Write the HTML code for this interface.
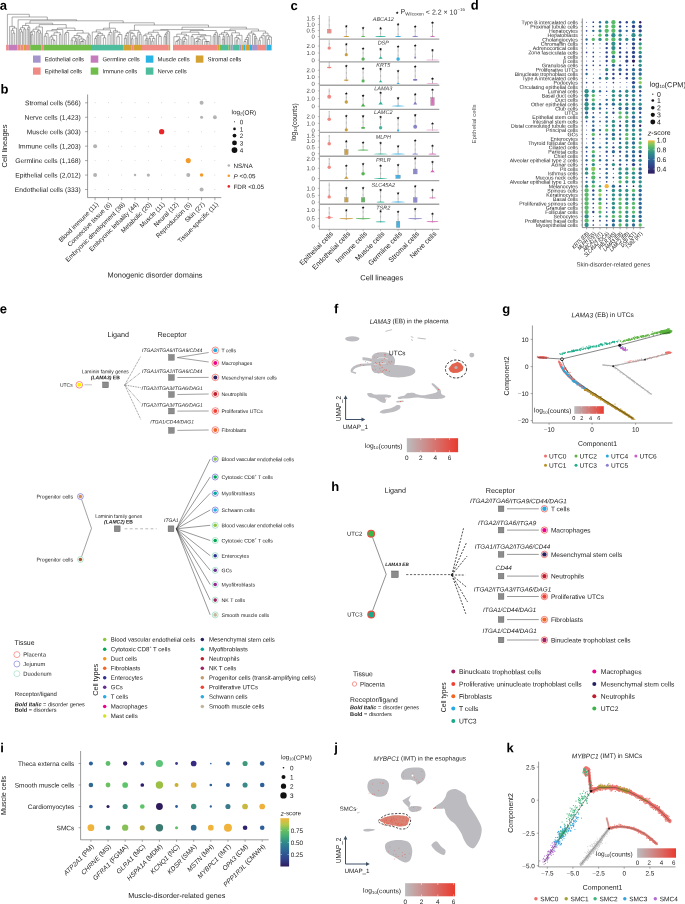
<!DOCTYPE html>
<html><head><meta charset="utf-8"><title>Figure</title>
<style>html,body{margin:0;padding:0;background:#fff;width:685px;height:904px;overflow:hidden}
svg{display:block;will-change:transform}
text{font-family:"Liberation Sans", sans-serif}</style></head>
<body><svg width="685" height="904" viewBox="0 0 685 904" font-family="Liberation Sans, sans-serif">
<rect x="0" y="0" width="685" height="904" fill="#fff"/>
<text x="-0.30" y="9.80" font-size="13" font-weight="bold" fill="#000" transform="rotate(0.05 -0.30 9.80)">a</text>
<rect x="6.10" y="44.80" width="2.50" height="5.60" fill="#ef8a84"/>
<rect x="8.60" y="44.80" width="8.80" height="5.60" fill="#c47cbc"/>
<rect x="17.40" y="44.80" width="1.60" height="5.60" fill="#ef8a84"/>
<rect x="19.00" y="44.80" width="1.40" height="5.60" fill="#d4a232"/>
<rect x="20.40" y="44.80" width="3.10" height="5.60" fill="#ef8a84"/>
<rect x="23.50" y="44.80" width="2.50" height="5.60" fill="#d4a232"/>
<rect x="26.00" y="44.80" width="4.20" height="5.60" fill="#ef8a84"/>
<rect x="30.20" y="44.80" width="11.10" height="5.60" fill="#70bd4a"/>
<rect x="41.30" y="44.80" width="2.00" height="5.60" fill="#ef8a84"/>
<rect x="43.30" y="44.80" width="47.70" height="5.60" fill="#70bd4a"/>
<rect x="91.00" y="44.80" width="32.20" height="5.60" fill="#4dbd9d"/>
<rect x="123.20" y="44.80" width="8.50" height="5.60" fill="#d4a232"/>
<rect x="131.70" y="44.80" width="2.10" height="5.60" fill="#ef8a84"/>
<rect x="133.80" y="44.80" width="8.20" height="5.60" fill="#d4a232"/>
<rect x="142.00" y="44.80" width="26.70" height="5.60" fill="#ef8a84"/>
<rect x="168.70" y="44.80" width="1.50" height="5.60" fill="#d4a232"/>
<rect x="173.00" y="44.80" width="44.80" height="5.60" fill="#ef8a84"/>
<rect x="217.80" y="44.80" width="1.70" height="5.60" fill="#d4a232"/>
<rect x="219.50" y="44.80" width="2.50" height="5.60" fill="#70bd4a"/>
<rect x="222.00" y="44.80" width="6.40" height="5.60" fill="#4dbd9d"/>
<rect x="228.40" y="44.80" width="2.10" height="5.60" fill="#70bd4a"/>
<rect x="230.50" y="44.80" width="2.20" height="5.60" fill="#a595cd"/>
<rect x="232.70" y="44.80" width="7.00" height="5.60" fill="#4dbd9d"/>
<rect x="239.70" y="44.80" width="1.80" height="5.60" fill="#a595cd"/>
<rect x="241.50" y="44.80" width="1.80" height="5.60" fill="#d4a232"/>
<rect x="243.30" y="44.80" width="2.10" height="5.60" fill="#2ab4e4"/>
<rect x="245.40" y="44.80" width="4.60" height="5.60" fill="#d4a232"/>
<rect x="250.00" y="44.80" width="2.10" height="5.60" fill="#2ab4e4"/>
<rect x="252.10" y="44.80" width="4.90" height="5.60" fill="#a595cd"/>
<rect x="257.00" y="44.80" width="9.50" height="5.60" fill="#ef8a84"/>
<rect x="266.50" y="44.80" width="5.10" height="5.60" fill="#2ab4e4"/>
<line x1="12.80" y1="33.09" x2="14.71" y2="33.09" stroke="#3a3a3a" stroke-width="0.42"/>
<line x1="12.80" y1="33.09" x2="12.80" y2="44.80" stroke="#3a3a3a" stroke-width="0.42"/>
<line x1="14.71" y1="33.09" x2="14.71" y2="44.80" stroke="#3a3a3a" stroke-width="0.42"/>
<line x1="11.28" y1="30.33" x2="13.75" y2="30.33" stroke="#3a3a3a" stroke-width="0.42"/>
<line x1="11.28" y1="30.33" x2="11.28" y2="44.80" stroke="#3a3a3a" stroke-width="0.42"/>
<line x1="13.75" y1="30.33" x2="13.75" y2="33.09" stroke="#3a3a3a" stroke-width="0.42"/>
<line x1="12.52" y1="28.09" x2="16.59" y2="28.09" stroke="#3a3a3a" stroke-width="0.42"/>
<line x1="12.52" y1="28.09" x2="12.52" y2="30.33" stroke="#3a3a3a" stroke-width="0.42"/>
<line x1="16.59" y1="28.09" x2="16.59" y2="44.80" stroke="#3a3a3a" stroke-width="0.42"/>
<line x1="9.61" y1="26.40" x2="14.55" y2="26.40" stroke="#3a3a3a" stroke-width="0.42"/>
<line x1="9.61" y1="26.40" x2="9.61" y2="44.80" stroke="#3a3a3a" stroke-width="0.42"/>
<line x1="14.55" y1="26.40" x2="14.55" y2="28.09" stroke="#3a3a3a" stroke-width="0.42"/>
<line x1="20.69" y1="31.83" x2="22.57" y2="31.83" stroke="#3a3a3a" stroke-width="0.42"/>
<line x1="20.69" y1="31.83" x2="20.69" y2="44.80" stroke="#3a3a3a" stroke-width="0.42"/>
<line x1="22.57" y1="31.83" x2="22.57" y2="44.80" stroke="#3a3a3a" stroke-width="0.42"/>
<line x1="19.31" y1="29.64" x2="21.63" y2="29.64" stroke="#3a3a3a" stroke-width="0.42"/>
<line x1="19.31" y1="29.64" x2="19.31" y2="44.80" stroke="#3a3a3a" stroke-width="0.42"/>
<line x1="21.63" y1="29.64" x2="21.63" y2="31.83" stroke="#3a3a3a" stroke-width="0.42"/>
<line x1="23.80" y1="29.02" x2="25.35" y2="29.02" stroke="#3a3a3a" stroke-width="0.42"/>
<line x1="23.80" y1="29.02" x2="23.80" y2="44.80" stroke="#3a3a3a" stroke-width="0.42"/>
<line x1="25.35" y1="29.02" x2="25.35" y2="44.80" stroke="#3a3a3a" stroke-width="0.42"/>
<line x1="20.47" y1="27.73" x2="24.58" y2="27.73" stroke="#3a3a3a" stroke-width="0.42"/>
<line x1="20.47" y1="27.73" x2="20.47" y2="29.64" stroke="#3a3a3a" stroke-width="0.42"/>
<line x1="24.58" y1="27.73" x2="24.58" y2="29.02" stroke="#3a3a3a" stroke-width="0.42"/>
<line x1="27.12" y1="29.20" x2="28.58" y2="29.20" stroke="#3a3a3a" stroke-width="0.42"/>
<line x1="27.12" y1="29.20" x2="27.12" y2="44.80" stroke="#3a3a3a" stroke-width="0.42"/>
<line x1="28.58" y1="29.20" x2="28.58" y2="44.80" stroke="#3a3a3a" stroke-width="0.42"/>
<line x1="27.85" y1="27.22" x2="29.80" y2="27.22" stroke="#3a3a3a" stroke-width="0.42"/>
<line x1="27.85" y1="27.22" x2="27.85" y2="29.20" stroke="#3a3a3a" stroke-width="0.42"/>
<line x1="29.80" y1="27.22" x2="29.80" y2="44.80" stroke="#3a3a3a" stroke-width="0.42"/>
<line x1="22.52" y1="25.50" x2="28.83" y2="25.50" stroke="#3a3a3a" stroke-width="0.42"/>
<line x1="22.52" y1="25.50" x2="22.52" y2="27.73" stroke="#3a3a3a" stroke-width="0.42"/>
<line x1="28.83" y1="25.50" x2="28.83" y2="27.22" stroke="#3a3a3a" stroke-width="0.42"/>
<line x1="31.37" y1="34.69" x2="32.99" y2="34.69" stroke="#3a3a3a" stroke-width="0.42"/>
<line x1="31.37" y1="34.69" x2="31.37" y2="44.80" stroke="#3a3a3a" stroke-width="0.42"/>
<line x1="32.99" y1="34.69" x2="32.99" y2="44.80" stroke="#3a3a3a" stroke-width="0.42"/>
<line x1="30.43" y1="32.30" x2="32.18" y2="32.30" stroke="#3a3a3a" stroke-width="0.42"/>
<line x1="30.43" y1="32.30" x2="30.43" y2="44.80" stroke="#3a3a3a" stroke-width="0.42"/>
<line x1="32.18" y1="32.30" x2="32.18" y2="34.69" stroke="#3a3a3a" stroke-width="0.42"/>
<line x1="31.31" y1="31.24" x2="34.74" y2="31.24" stroke="#3a3a3a" stroke-width="0.42"/>
<line x1="31.31" y1="31.24" x2="31.31" y2="32.30" stroke="#3a3a3a" stroke-width="0.42"/>
<line x1="34.74" y1="31.24" x2="34.74" y2="44.80" stroke="#3a3a3a" stroke-width="0.42"/>
<line x1="36.65" y1="31.80" x2="38.21" y2="31.80" stroke="#3a3a3a" stroke-width="0.42"/>
<line x1="36.65" y1="31.80" x2="36.65" y2="44.80" stroke="#3a3a3a" stroke-width="0.42"/>
<line x1="38.21" y1="31.80" x2="38.21" y2="44.80" stroke="#3a3a3a" stroke-width="0.42"/>
<line x1="39.69" y1="32.96" x2="41.13" y2="32.96" stroke="#3a3a3a" stroke-width="0.42"/>
<line x1="39.69" y1="32.96" x2="39.69" y2="44.80" stroke="#3a3a3a" stroke-width="0.42"/>
<line x1="41.13" y1="32.96" x2="41.13" y2="44.80" stroke="#3a3a3a" stroke-width="0.42"/>
<line x1="37.43" y1="30.71" x2="40.41" y2="30.71" stroke="#3a3a3a" stroke-width="0.42"/>
<line x1="37.43" y1="30.71" x2="37.43" y2="31.80" stroke="#3a3a3a" stroke-width="0.42"/>
<line x1="40.41" y1="30.71" x2="40.41" y2="32.96" stroke="#3a3a3a" stroke-width="0.42"/>
<line x1="33.02" y1="29.21" x2="38.92" y2="29.21" stroke="#3a3a3a" stroke-width="0.42"/>
<line x1="33.02" y1="29.21" x2="33.02" y2="31.24" stroke="#3a3a3a" stroke-width="0.42"/>
<line x1="38.92" y1="29.21" x2="38.92" y2="30.71" stroke="#3a3a3a" stroke-width="0.42"/>
<line x1="35.97" y1="27.00" x2="42.43" y2="27.00" stroke="#3a3a3a" stroke-width="0.42"/>
<line x1="35.97" y1="27.00" x2="35.97" y2="29.21" stroke="#3a3a3a" stroke-width="0.42"/>
<line x1="42.43" y1="27.00" x2="42.43" y2="44.80" stroke="#3a3a3a" stroke-width="0.42"/>
<line x1="44.19" y1="36.18" x2="46.29" y2="36.18" stroke="#3a3a3a" stroke-width="0.42"/>
<line x1="44.19" y1="36.18" x2="44.19" y2="44.80" stroke="#3a3a3a" stroke-width="0.42"/>
<line x1="46.29" y1="36.18" x2="46.29" y2="44.80" stroke="#3a3a3a" stroke-width="0.42"/>
<line x1="45.24" y1="33.59" x2="48.15" y2="33.59" stroke="#3a3a3a" stroke-width="0.42"/>
<line x1="45.24" y1="33.59" x2="45.24" y2="36.18" stroke="#3a3a3a" stroke-width="0.42"/>
<line x1="48.15" y1="33.59" x2="48.15" y2="44.80" stroke="#3a3a3a" stroke-width="0.42"/>
<line x1="53.26" y1="40.49" x2="54.98" y2="40.49" stroke="#3a3a3a" stroke-width="0.42"/>
<line x1="53.26" y1="40.49" x2="53.26" y2="44.80" stroke="#3a3a3a" stroke-width="0.42"/>
<line x1="54.98" y1="40.49" x2="54.98" y2="44.80" stroke="#3a3a3a" stroke-width="0.42"/>
<line x1="51.44" y1="39.25" x2="54.12" y2="39.25" stroke="#3a3a3a" stroke-width="0.42"/>
<line x1="51.44" y1="39.25" x2="51.44" y2="44.80" stroke="#3a3a3a" stroke-width="0.42"/>
<line x1="54.12" y1="39.25" x2="54.12" y2="40.49" stroke="#3a3a3a" stroke-width="0.42"/>
<line x1="49.84" y1="36.93" x2="52.78" y2="36.93" stroke="#3a3a3a" stroke-width="0.42"/>
<line x1="49.84" y1="36.93" x2="49.84" y2="44.80" stroke="#3a3a3a" stroke-width="0.42"/>
<line x1="52.78" y1="36.93" x2="52.78" y2="39.25" stroke="#3a3a3a" stroke-width="0.42"/>
<line x1="51.31" y1="35.33" x2="56.72" y2="35.33" stroke="#3a3a3a" stroke-width="0.42"/>
<line x1="51.31" y1="35.33" x2="51.31" y2="36.93" stroke="#3a3a3a" stroke-width="0.42"/>
<line x1="56.72" y1="35.33" x2="56.72" y2="44.80" stroke="#3a3a3a" stroke-width="0.42"/>
<line x1="59.36" y1="34.57" x2="61.06" y2="34.57" stroke="#3a3a3a" stroke-width="0.42"/>
<line x1="59.36" y1="34.57" x2="59.36" y2="44.80" stroke="#3a3a3a" stroke-width="0.42"/>
<line x1="61.06" y1="34.57" x2="61.06" y2="44.80" stroke="#3a3a3a" stroke-width="0.42"/>
<line x1="54.02" y1="32.72" x2="60.21" y2="32.72" stroke="#3a3a3a" stroke-width="0.42"/>
<line x1="54.02" y1="32.72" x2="54.02" y2="35.33" stroke="#3a3a3a" stroke-width="0.42"/>
<line x1="60.21" y1="32.72" x2="60.21" y2="34.57" stroke="#3a3a3a" stroke-width="0.42"/>
<line x1="46.69" y1="30.82" x2="57.11" y2="30.82" stroke="#3a3a3a" stroke-width="0.42"/>
<line x1="46.69" y1="30.82" x2="46.69" y2="33.59" stroke="#3a3a3a" stroke-width="0.42"/>
<line x1="57.11" y1="30.82" x2="57.11" y2="32.72" stroke="#3a3a3a" stroke-width="0.42"/>
<line x1="51.90" y1="29.50" x2="62.81" y2="29.50" stroke="#3a3a3a" stroke-width="0.42"/>
<line x1="51.90" y1="29.50" x2="51.90" y2="30.82" stroke="#3a3a3a" stroke-width="0.42"/>
<line x1="62.81" y1="29.50" x2="62.81" y2="44.80" stroke="#3a3a3a" stroke-width="0.42"/>
<line x1="64.63" y1="33.80" x2="66.21" y2="33.80" stroke="#3a3a3a" stroke-width="0.42"/>
<line x1="64.63" y1="33.80" x2="64.63" y2="44.80" stroke="#3a3a3a" stroke-width="0.42"/>
<line x1="66.21" y1="33.80" x2="66.21" y2="44.80" stroke="#3a3a3a" stroke-width="0.42"/>
<line x1="65.42" y1="32.51" x2="68.67" y2="32.51" stroke="#3a3a3a" stroke-width="0.42"/>
<line x1="65.42" y1="32.51" x2="65.42" y2="33.80" stroke="#3a3a3a" stroke-width="0.42"/>
<line x1="68.67" y1="32.51" x2="68.67" y2="44.80" stroke="#3a3a3a" stroke-width="0.42"/>
<line x1="71.13" y1="40.01" x2="72.76" y2="40.01" stroke="#3a3a3a" stroke-width="0.42"/>
<line x1="71.13" y1="40.01" x2="71.13" y2="44.80" stroke="#3a3a3a" stroke-width="0.42"/>
<line x1="72.76" y1="40.01" x2="72.76" y2="44.80" stroke="#3a3a3a" stroke-width="0.42"/>
<line x1="74.58" y1="41.15" x2="76.24" y2="41.15" stroke="#3a3a3a" stroke-width="0.42"/>
<line x1="74.58" y1="41.15" x2="74.58" y2="44.80" stroke="#3a3a3a" stroke-width="0.42"/>
<line x1="76.24" y1="41.15" x2="76.24" y2="44.80" stroke="#3a3a3a" stroke-width="0.42"/>
<line x1="75.41" y1="38.89" x2="76.96" y2="38.89" stroke="#3a3a3a" stroke-width="0.42"/>
<line x1="75.41" y1="38.89" x2="75.41" y2="41.15" stroke="#3a3a3a" stroke-width="0.42"/>
<line x1="76.96" y1="38.89" x2="76.96" y2="44.80" stroke="#3a3a3a" stroke-width="0.42"/>
<line x1="71.95" y1="37.75" x2="76.19" y2="37.75" stroke="#3a3a3a" stroke-width="0.42"/>
<line x1="71.95" y1="37.75" x2="71.95" y2="40.01" stroke="#3a3a3a" stroke-width="0.42"/>
<line x1="76.19" y1="37.75" x2="76.19" y2="38.89" stroke="#3a3a3a" stroke-width="0.42"/>
<line x1="80.64" y1="41.50" x2="82.09" y2="41.50" stroke="#3a3a3a" stroke-width="0.42"/>
<line x1="80.64" y1="41.50" x2="80.64" y2="44.80" stroke="#3a3a3a" stroke-width="0.42"/>
<line x1="82.09" y1="41.50" x2="82.09" y2="44.80" stroke="#3a3a3a" stroke-width="0.42"/>
<line x1="81.36" y1="41.50" x2="83.87" y2="41.50" stroke="#3a3a3a" stroke-width="0.42"/>
<line x1="81.36" y1="41.50" x2="81.36" y2="41.50" stroke="#3a3a3a" stroke-width="0.42"/>
<line x1="83.87" y1="41.50" x2="83.87" y2="44.80" stroke="#3a3a3a" stroke-width="0.42"/>
<line x1="82.62" y1="40.04" x2="85.38" y2="40.04" stroke="#3a3a3a" stroke-width="0.42"/>
<line x1="82.62" y1="40.04" x2="82.62" y2="41.50" stroke="#3a3a3a" stroke-width="0.42"/>
<line x1="85.38" y1="40.04" x2="85.38" y2="44.80" stroke="#3a3a3a" stroke-width="0.42"/>
<line x1="79.58" y1="39.03" x2="84.00" y2="39.03" stroke="#3a3a3a" stroke-width="0.42"/>
<line x1="79.58" y1="39.03" x2="79.58" y2="44.80" stroke="#3a3a3a" stroke-width="0.42"/>
<line x1="84.00" y1="39.03" x2="84.00" y2="40.04" stroke="#3a3a3a" stroke-width="0.42"/>
<line x1="78.10" y1="36.83" x2="81.79" y2="36.83" stroke="#3a3a3a" stroke-width="0.42"/>
<line x1="78.10" y1="36.83" x2="78.10" y2="44.80" stroke="#3a3a3a" stroke-width="0.42"/>
<line x1="81.79" y1="36.83" x2="81.79" y2="39.03" stroke="#3a3a3a" stroke-width="0.42"/>
<line x1="74.07" y1="35.51" x2="79.95" y2="35.51" stroke="#3a3a3a" stroke-width="0.42"/>
<line x1="74.07" y1="35.51" x2="74.07" y2="37.75" stroke="#3a3a3a" stroke-width="0.42"/>
<line x1="79.95" y1="35.51" x2="79.95" y2="36.83" stroke="#3a3a3a" stroke-width="0.42"/>
<line x1="87.07" y1="36.88" x2="88.65" y2="36.88" stroke="#3a3a3a" stroke-width="0.42"/>
<line x1="87.07" y1="36.88" x2="87.07" y2="44.80" stroke="#3a3a3a" stroke-width="0.42"/>
<line x1="88.65" y1="36.88" x2="88.65" y2="44.80" stroke="#3a3a3a" stroke-width="0.42"/>
<line x1="87.86" y1="34.91" x2="90.19" y2="34.91" stroke="#3a3a3a" stroke-width="0.42"/>
<line x1="87.86" y1="34.91" x2="87.86" y2="36.88" stroke="#3a3a3a" stroke-width="0.42"/>
<line x1="90.19" y1="34.91" x2="90.19" y2="44.80" stroke="#3a3a3a" stroke-width="0.42"/>
<line x1="77.01" y1="33.08" x2="89.03" y2="33.08" stroke="#3a3a3a" stroke-width="0.42"/>
<line x1="77.01" y1="33.08" x2="77.01" y2="35.51" stroke="#3a3a3a" stroke-width="0.42"/>
<line x1="89.03" y1="33.08" x2="89.03" y2="34.91" stroke="#3a3a3a" stroke-width="0.42"/>
<line x1="67.04" y1="30.47" x2="83.02" y2="30.47" stroke="#3a3a3a" stroke-width="0.42"/>
<line x1="67.04" y1="30.47" x2="67.04" y2="32.51" stroke="#3a3a3a" stroke-width="0.42"/>
<line x1="83.02" y1="30.47" x2="83.02" y2="33.08" stroke="#3a3a3a" stroke-width="0.42"/>
<line x1="57.36" y1="28.10" x2="75.03" y2="28.10" stroke="#3a3a3a" stroke-width="0.42"/>
<line x1="57.36" y1="28.10" x2="57.36" y2="29.50" stroke="#3a3a3a" stroke-width="0.42"/>
<line x1="75.03" y1="28.10" x2="75.03" y2="30.47" stroke="#3a3a3a" stroke-width="0.42"/>
<line x1="94.70" y1="38.51" x2="96.40" y2="38.51" stroke="#3a3a3a" stroke-width="0.42"/>
<line x1="94.70" y1="38.51" x2="94.70" y2="44.80" stroke="#3a3a3a" stroke-width="0.42"/>
<line x1="96.40" y1="38.51" x2="96.40" y2="44.80" stroke="#3a3a3a" stroke-width="0.42"/>
<line x1="95.55" y1="36.77" x2="97.77" y2="36.77" stroke="#3a3a3a" stroke-width="0.42"/>
<line x1="95.55" y1="36.77" x2="95.55" y2="38.51" stroke="#3a3a3a" stroke-width="0.42"/>
<line x1="97.77" y1="36.77" x2="97.77" y2="44.80" stroke="#3a3a3a" stroke-width="0.42"/>
<line x1="96.66" y1="35.50" x2="99.10" y2="35.50" stroke="#3a3a3a" stroke-width="0.42"/>
<line x1="96.66" y1="35.50" x2="96.66" y2="36.77" stroke="#3a3a3a" stroke-width="0.42"/>
<line x1="99.10" y1="35.50" x2="99.10" y2="44.80" stroke="#3a3a3a" stroke-width="0.42"/>
<line x1="103.34" y1="37.81" x2="105.72" y2="37.81" stroke="#3a3a3a" stroke-width="0.42"/>
<line x1="103.34" y1="37.81" x2="103.34" y2="44.80" stroke="#3a3a3a" stroke-width="0.42"/>
<line x1="105.72" y1="37.81" x2="105.72" y2="44.80" stroke="#3a3a3a" stroke-width="0.42"/>
<line x1="100.75" y1="35.31" x2="104.53" y2="35.31" stroke="#3a3a3a" stroke-width="0.42"/>
<line x1="100.75" y1="35.31" x2="100.75" y2="44.80" stroke="#3a3a3a" stroke-width="0.42"/>
<line x1="104.53" y1="35.31" x2="104.53" y2="37.81" stroke="#3a3a3a" stroke-width="0.42"/>
<line x1="97.88" y1="33.42" x2="102.64" y2="33.42" stroke="#3a3a3a" stroke-width="0.42"/>
<line x1="97.88" y1="33.42" x2="97.88" y2="35.50" stroke="#3a3a3a" stroke-width="0.42"/>
<line x1="102.64" y1="33.42" x2="102.64" y2="35.31" stroke="#3a3a3a" stroke-width="0.42"/>
<line x1="92.25" y1="31.97" x2="100.26" y2="31.97" stroke="#3a3a3a" stroke-width="0.42"/>
<line x1="92.25" y1="31.97" x2="92.25" y2="44.80" stroke="#3a3a3a" stroke-width="0.42"/>
<line x1="100.26" y1="31.97" x2="100.26" y2="33.42" stroke="#3a3a3a" stroke-width="0.42"/>
<line x1="107.99" y1="34.79" x2="110.18" y2="34.79" stroke="#3a3a3a" stroke-width="0.42"/>
<line x1="107.99" y1="34.79" x2="107.99" y2="44.80" stroke="#3a3a3a" stroke-width="0.42"/>
<line x1="110.18" y1="34.79" x2="110.18" y2="44.80" stroke="#3a3a3a" stroke-width="0.42"/>
<line x1="109.08" y1="32.40" x2="111.92" y2="32.40" stroke="#3a3a3a" stroke-width="0.42"/>
<line x1="109.08" y1="32.40" x2="109.08" y2="34.79" stroke="#3a3a3a" stroke-width="0.42"/>
<line x1="111.92" y1="32.40" x2="111.92" y2="44.80" stroke="#3a3a3a" stroke-width="0.42"/>
<line x1="96.26" y1="29.83" x2="110.50" y2="29.83" stroke="#3a3a3a" stroke-width="0.42"/>
<line x1="96.26" y1="29.83" x2="96.26" y2="31.97" stroke="#3a3a3a" stroke-width="0.42"/>
<line x1="110.50" y1="29.83" x2="110.50" y2="32.40" stroke="#3a3a3a" stroke-width="0.42"/>
<line x1="116.82" y1="36.76" x2="119.32" y2="36.76" stroke="#3a3a3a" stroke-width="0.42"/>
<line x1="116.82" y1="36.76" x2="116.82" y2="44.80" stroke="#3a3a3a" stroke-width="0.42"/>
<line x1="119.32" y1="36.76" x2="119.32" y2="44.80" stroke="#3a3a3a" stroke-width="0.42"/>
<line x1="118.07" y1="34.53" x2="121.88" y2="34.53" stroke="#3a3a3a" stroke-width="0.42"/>
<line x1="118.07" y1="34.53" x2="118.07" y2="36.76" stroke="#3a3a3a" stroke-width="0.42"/>
<line x1="121.88" y1="34.53" x2="121.88" y2="44.80" stroke="#3a3a3a" stroke-width="0.42"/>
<line x1="114.79" y1="32.14" x2="119.97" y2="32.14" stroke="#3a3a3a" stroke-width="0.42"/>
<line x1="114.79" y1="32.14" x2="114.79" y2="44.80" stroke="#3a3a3a" stroke-width="0.42"/>
<line x1="119.97" y1="32.14" x2="119.97" y2="34.53" stroke="#3a3a3a" stroke-width="0.42"/>
<line x1="113.38" y1="30.78" x2="117.38" y2="30.78" stroke="#3a3a3a" stroke-width="0.42"/>
<line x1="113.38" y1="30.78" x2="113.38" y2="44.80" stroke="#3a3a3a" stroke-width="0.42"/>
<line x1="117.38" y1="30.78" x2="117.38" y2="32.14" stroke="#3a3a3a" stroke-width="0.42"/>
<line x1="103.38" y1="28.20" x2="115.38" y2="28.20" stroke="#3a3a3a" stroke-width="0.42"/>
<line x1="103.38" y1="28.20" x2="103.38" y2="29.83" stroke="#3a3a3a" stroke-width="0.42"/>
<line x1="115.38" y1="28.20" x2="115.38" y2="30.78" stroke="#3a3a3a" stroke-width="0.42"/>
<line x1="124.38" y1="38.27" x2="126.16" y2="38.27" stroke="#3a3a3a" stroke-width="0.42"/>
<line x1="124.38" y1="38.27" x2="124.38" y2="44.80" stroke="#3a3a3a" stroke-width="0.42"/>
<line x1="126.16" y1="38.27" x2="126.16" y2="44.80" stroke="#3a3a3a" stroke-width="0.42"/>
<line x1="125.27" y1="35.53" x2="127.18" y2="35.53" stroke="#3a3a3a" stroke-width="0.42"/>
<line x1="125.27" y1="35.53" x2="125.27" y2="38.27" stroke="#3a3a3a" stroke-width="0.42"/>
<line x1="127.18" y1="35.53" x2="127.18" y2="44.80" stroke="#3a3a3a" stroke-width="0.42"/>
<line x1="126.22" y1="33.29" x2="128.76" y2="33.29" stroke="#3a3a3a" stroke-width="0.42"/>
<line x1="126.22" y1="33.29" x2="126.22" y2="35.53" stroke="#3a3a3a" stroke-width="0.42"/>
<line x1="128.76" y1="33.29" x2="128.76" y2="44.80" stroke="#3a3a3a" stroke-width="0.42"/>
<line x1="131.43" y1="38.76" x2="133.00" y2="38.76" stroke="#3a3a3a" stroke-width="0.42"/>
<line x1="131.43" y1="38.76" x2="131.43" y2="44.80" stroke="#3a3a3a" stroke-width="0.42"/>
<line x1="133.00" y1="38.76" x2="133.00" y2="44.80" stroke="#3a3a3a" stroke-width="0.42"/>
<line x1="135.31" y1="38.09" x2="136.81" y2="38.09" stroke="#3a3a3a" stroke-width="0.42"/>
<line x1="135.31" y1="38.09" x2="135.31" y2="44.80" stroke="#3a3a3a" stroke-width="0.42"/>
<line x1="136.81" y1="38.09" x2="136.81" y2="44.80" stroke="#3a3a3a" stroke-width="0.42"/>
<line x1="132.21" y1="36.03" x2="136.06" y2="36.03" stroke="#3a3a3a" stroke-width="0.42"/>
<line x1="132.21" y1="36.03" x2="132.21" y2="38.76" stroke="#3a3a3a" stroke-width="0.42"/>
<line x1="136.06" y1="36.03" x2="136.06" y2="38.09" stroke="#3a3a3a" stroke-width="0.42"/>
<line x1="130.44" y1="33.35" x2="134.14" y2="33.35" stroke="#3a3a3a" stroke-width="0.42"/>
<line x1="130.44" y1="33.35" x2="130.44" y2="44.80" stroke="#3a3a3a" stroke-width="0.42"/>
<line x1="134.14" y1="33.35" x2="134.14" y2="36.03" stroke="#3a3a3a" stroke-width="0.42"/>
<line x1="127.49" y1="32.24" x2="132.29" y2="32.24" stroke="#3a3a3a" stroke-width="0.42"/>
<line x1="127.49" y1="32.24" x2="127.49" y2="33.29" stroke="#3a3a3a" stroke-width="0.42"/>
<line x1="132.29" y1="32.24" x2="132.29" y2="33.35" stroke="#3a3a3a" stroke-width="0.42"/>
<line x1="139.34" y1="34.34" x2="141.19" y2="34.34" stroke="#3a3a3a" stroke-width="0.42"/>
<line x1="139.34" y1="34.34" x2="139.34" y2="44.80" stroke="#3a3a3a" stroke-width="0.42"/>
<line x1="141.19" y1="34.34" x2="141.19" y2="44.80" stroke="#3a3a3a" stroke-width="0.42"/>
<line x1="137.72" y1="32.16" x2="140.27" y2="32.16" stroke="#3a3a3a" stroke-width="0.42"/>
<line x1="137.72" y1="32.16" x2="137.72" y2="44.80" stroke="#3a3a3a" stroke-width="0.42"/>
<line x1="140.27" y1="32.16" x2="140.27" y2="34.34" stroke="#3a3a3a" stroke-width="0.42"/>
<line x1="129.89" y1="30.40" x2="138.99" y2="30.40" stroke="#3a3a3a" stroke-width="0.42"/>
<line x1="129.89" y1="30.40" x2="129.89" y2="32.24" stroke="#3a3a3a" stroke-width="0.42"/>
<line x1="138.99" y1="30.40" x2="138.99" y2="32.16" stroke="#3a3a3a" stroke-width="0.42"/>
<line x1="145.14" y1="40.05" x2="146.83" y2="40.05" stroke="#3a3a3a" stroke-width="0.42"/>
<line x1="145.14" y1="40.05" x2="145.14" y2="44.80" stroke="#3a3a3a" stroke-width="0.42"/>
<line x1="146.83" y1="40.05" x2="146.83" y2="44.80" stroke="#3a3a3a" stroke-width="0.42"/>
<line x1="145.99" y1="38.35" x2="147.82" y2="38.35" stroke="#3a3a3a" stroke-width="0.42"/>
<line x1="145.99" y1="38.35" x2="145.99" y2="40.05" stroke="#3a3a3a" stroke-width="0.42"/>
<line x1="147.82" y1="38.35" x2="147.82" y2="44.80" stroke="#3a3a3a" stroke-width="0.42"/>
<line x1="143.00" y1="35.75" x2="146.90" y2="35.75" stroke="#3a3a3a" stroke-width="0.42"/>
<line x1="143.00" y1="35.75" x2="143.00" y2="44.80" stroke="#3a3a3a" stroke-width="0.42"/>
<line x1="146.90" y1="35.75" x2="146.90" y2="38.35" stroke="#3a3a3a" stroke-width="0.42"/>
<line x1="148.92" y1="38.46" x2="150.44" y2="38.46" stroke="#3a3a3a" stroke-width="0.42"/>
<line x1="148.92" y1="38.46" x2="148.92" y2="44.80" stroke="#3a3a3a" stroke-width="0.42"/>
<line x1="150.44" y1="38.46" x2="150.44" y2="44.80" stroke="#3a3a3a" stroke-width="0.42"/>
<line x1="151.69" y1="41.14" x2="153.21" y2="41.14" stroke="#3a3a3a" stroke-width="0.42"/>
<line x1="151.69" y1="41.14" x2="151.69" y2="44.80" stroke="#3a3a3a" stroke-width="0.42"/>
<line x1="153.21" y1="41.14" x2="153.21" y2="44.80" stroke="#3a3a3a" stroke-width="0.42"/>
<line x1="152.45" y1="38.44" x2="154.92" y2="38.44" stroke="#3a3a3a" stroke-width="0.42"/>
<line x1="152.45" y1="38.44" x2="152.45" y2="41.14" stroke="#3a3a3a" stroke-width="0.42"/>
<line x1="154.92" y1="38.44" x2="154.92" y2="44.80" stroke="#3a3a3a" stroke-width="0.42"/>
<line x1="149.68" y1="36.41" x2="153.68" y2="36.41" stroke="#3a3a3a" stroke-width="0.42"/>
<line x1="149.68" y1="36.41" x2="149.68" y2="38.46" stroke="#3a3a3a" stroke-width="0.42"/>
<line x1="153.68" y1="36.41" x2="153.68" y2="38.44" stroke="#3a3a3a" stroke-width="0.42"/>
<line x1="144.95" y1="34.06" x2="151.68" y2="34.06" stroke="#3a3a3a" stroke-width="0.42"/>
<line x1="144.95" y1="34.06" x2="144.95" y2="35.75" stroke="#3a3a3a" stroke-width="0.42"/>
<line x1="151.68" y1="34.06" x2="151.68" y2="36.41" stroke="#3a3a3a" stroke-width="0.42"/>
<line x1="158.66" y1="36.51" x2="161.30" y2="36.51" stroke="#3a3a3a" stroke-width="0.42"/>
<line x1="158.66" y1="36.51" x2="158.66" y2="44.80" stroke="#3a3a3a" stroke-width="0.42"/>
<line x1="161.30" y1="36.51" x2="161.30" y2="44.80" stroke="#3a3a3a" stroke-width="0.42"/>
<line x1="156.44" y1="34.97" x2="159.98" y2="34.97" stroke="#3a3a3a" stroke-width="0.42"/>
<line x1="156.44" y1="34.97" x2="156.44" y2="44.80" stroke="#3a3a3a" stroke-width="0.42"/>
<line x1="159.98" y1="34.97" x2="159.98" y2="36.51" stroke="#3a3a3a" stroke-width="0.42"/>
<line x1="148.31" y1="32.28" x2="158.21" y2="32.28" stroke="#3a3a3a" stroke-width="0.42"/>
<line x1="148.31" y1="32.28" x2="148.31" y2="34.06" stroke="#3a3a3a" stroke-width="0.42"/>
<line x1="158.21" y1="32.28" x2="158.21" y2="34.97" stroke="#3a3a3a" stroke-width="0.42"/>
<line x1="164.03" y1="36.65" x2="165.74" y2="36.65" stroke="#3a3a3a" stroke-width="0.42"/>
<line x1="164.03" y1="36.65" x2="164.03" y2="44.80" stroke="#3a3a3a" stroke-width="0.42"/>
<line x1="165.74" y1="36.65" x2="165.74" y2="44.80" stroke="#3a3a3a" stroke-width="0.42"/>
<line x1="164.89" y1="34.50" x2="166.52" y2="34.50" stroke="#3a3a3a" stroke-width="0.42"/>
<line x1="164.89" y1="34.50" x2="164.89" y2="36.65" stroke="#3a3a3a" stroke-width="0.42"/>
<line x1="166.52" y1="34.50" x2="166.52" y2="44.80" stroke="#3a3a3a" stroke-width="0.42"/>
<line x1="165.70" y1="33.09" x2="167.97" y2="33.09" stroke="#3a3a3a" stroke-width="0.42"/>
<line x1="165.70" y1="33.09" x2="165.70" y2="34.50" stroke="#3a3a3a" stroke-width="0.42"/>
<line x1="167.97" y1="33.09" x2="167.97" y2="44.80" stroke="#3a3a3a" stroke-width="0.42"/>
<line x1="166.84" y1="31.79" x2="169.61" y2="31.79" stroke="#3a3a3a" stroke-width="0.42"/>
<line x1="166.84" y1="31.79" x2="166.84" y2="33.09" stroke="#3a3a3a" stroke-width="0.42"/>
<line x1="169.61" y1="31.79" x2="169.61" y2="44.80" stroke="#3a3a3a" stroke-width="0.42"/>
<line x1="153.26" y1="30.20" x2="168.22" y2="30.20" stroke="#3a3a3a" stroke-width="0.42"/>
<line x1="153.26" y1="30.20" x2="153.26" y2="32.28" stroke="#3a3a3a" stroke-width="0.42"/>
<line x1="168.22" y1="30.20" x2="168.22" y2="31.79" stroke="#3a3a3a" stroke-width="0.42"/>
<line x1="175.79" y1="41.50" x2="177.81" y2="41.50" stroke="#3a3a3a" stroke-width="0.42"/>
<line x1="175.79" y1="41.50" x2="175.79" y2="44.80" stroke="#3a3a3a" stroke-width="0.42"/>
<line x1="177.81" y1="41.50" x2="177.81" y2="44.80" stroke="#3a3a3a" stroke-width="0.42"/>
<line x1="176.80" y1="40.55" x2="179.53" y2="40.55" stroke="#3a3a3a" stroke-width="0.42"/>
<line x1="176.80" y1="40.55" x2="176.80" y2="41.50" stroke="#3a3a3a" stroke-width="0.42"/>
<line x1="179.53" y1="40.55" x2="179.53" y2="44.80" stroke="#3a3a3a" stroke-width="0.42"/>
<line x1="178.16" y1="39.28" x2="181.16" y2="39.28" stroke="#3a3a3a" stroke-width="0.42"/>
<line x1="178.16" y1="39.28" x2="178.16" y2="40.55" stroke="#3a3a3a" stroke-width="0.42"/>
<line x1="181.16" y1="39.28" x2="181.16" y2="44.80" stroke="#3a3a3a" stroke-width="0.42"/>
<line x1="173.90" y1="36.68" x2="179.66" y2="36.68" stroke="#3a3a3a" stroke-width="0.42"/>
<line x1="173.90" y1="36.68" x2="173.90" y2="44.80" stroke="#3a3a3a" stroke-width="0.42"/>
<line x1="179.66" y1="36.68" x2="179.66" y2="39.28" stroke="#3a3a3a" stroke-width="0.42"/>
<line x1="183.38" y1="41.50" x2="184.93" y2="41.50" stroke="#3a3a3a" stroke-width="0.42"/>
<line x1="183.38" y1="41.50" x2="183.38" y2="44.80" stroke="#3a3a3a" stroke-width="0.42"/>
<line x1="184.93" y1="41.50" x2="184.93" y2="44.80" stroke="#3a3a3a" stroke-width="0.42"/>
<line x1="184.15" y1="39.31" x2="186.90" y2="39.31" stroke="#3a3a3a" stroke-width="0.42"/>
<line x1="184.15" y1="39.31" x2="184.15" y2="41.50" stroke="#3a3a3a" stroke-width="0.42"/>
<line x1="186.90" y1="39.31" x2="186.90" y2="44.80" stroke="#3a3a3a" stroke-width="0.42"/>
<line x1="182.63" y1="37.62" x2="185.53" y2="37.62" stroke="#3a3a3a" stroke-width="0.42"/>
<line x1="182.63" y1="37.62" x2="182.63" y2="44.80" stroke="#3a3a3a" stroke-width="0.42"/>
<line x1="185.53" y1="37.62" x2="185.53" y2="39.31" stroke="#3a3a3a" stroke-width="0.42"/>
<line x1="184.08" y1="35.70" x2="188.82" y2="35.70" stroke="#3a3a3a" stroke-width="0.42"/>
<line x1="184.08" y1="35.70" x2="184.08" y2="37.62" stroke="#3a3a3a" stroke-width="0.42"/>
<line x1="188.82" y1="35.70" x2="188.82" y2="44.80" stroke="#3a3a3a" stroke-width="0.42"/>
<line x1="176.78" y1="34.15" x2="186.45" y2="34.15" stroke="#3a3a3a" stroke-width="0.42"/>
<line x1="176.78" y1="34.15" x2="176.78" y2="36.68" stroke="#3a3a3a" stroke-width="0.42"/>
<line x1="186.45" y1="34.15" x2="186.45" y2="35.70" stroke="#3a3a3a" stroke-width="0.42"/>
<line x1="191.12" y1="36.51" x2="193.08" y2="36.51" stroke="#3a3a3a" stroke-width="0.42"/>
<line x1="191.12" y1="36.51" x2="191.12" y2="44.80" stroke="#3a3a3a" stroke-width="0.42"/>
<line x1="193.08" y1="36.51" x2="193.08" y2="44.80" stroke="#3a3a3a" stroke-width="0.42"/>
<line x1="195.93" y1="41.50" x2="197.37" y2="41.50" stroke="#3a3a3a" stroke-width="0.42"/>
<line x1="195.93" y1="41.50" x2="195.93" y2="44.80" stroke="#3a3a3a" stroke-width="0.42"/>
<line x1="197.37" y1="41.50" x2="197.37" y2="44.80" stroke="#3a3a3a" stroke-width="0.42"/>
<line x1="196.65" y1="41.04" x2="199.03" y2="41.04" stroke="#3a3a3a" stroke-width="0.42"/>
<line x1="196.65" y1="41.04" x2="196.65" y2="41.50" stroke="#3a3a3a" stroke-width="0.42"/>
<line x1="199.03" y1="41.04" x2="199.03" y2="44.80" stroke="#3a3a3a" stroke-width="0.42"/>
<line x1="197.84" y1="39.64" x2="200.98" y2="39.64" stroke="#3a3a3a" stroke-width="0.42"/>
<line x1="197.84" y1="39.64" x2="197.84" y2="41.04" stroke="#3a3a3a" stroke-width="0.42"/>
<line x1="200.98" y1="39.64" x2="200.98" y2="44.80" stroke="#3a3a3a" stroke-width="0.42"/>
<line x1="194.51" y1="38.60" x2="199.41" y2="38.60" stroke="#3a3a3a" stroke-width="0.42"/>
<line x1="194.51" y1="38.60" x2="194.51" y2="44.80" stroke="#3a3a3a" stroke-width="0.42"/>
<line x1="199.41" y1="38.60" x2="199.41" y2="39.64" stroke="#3a3a3a" stroke-width="0.42"/>
<line x1="207.73" y1="41.50" x2="209.27" y2="41.50" stroke="#3a3a3a" stroke-width="0.42"/>
<line x1="207.73" y1="41.50" x2="207.73" y2="44.80" stroke="#3a3a3a" stroke-width="0.42"/>
<line x1="209.27" y1="41.50" x2="209.27" y2="44.80" stroke="#3a3a3a" stroke-width="0.42"/>
<line x1="206.39" y1="41.50" x2="208.50" y2="41.50" stroke="#3a3a3a" stroke-width="0.42"/>
<line x1="206.39" y1="41.50" x2="206.39" y2="44.80" stroke="#3a3a3a" stroke-width="0.42"/>
<line x1="208.50" y1="41.50" x2="208.50" y2="41.50" stroke="#3a3a3a" stroke-width="0.42"/>
<line x1="204.72" y1="41.50" x2="207.45" y2="41.50" stroke="#3a3a3a" stroke-width="0.42"/>
<line x1="204.72" y1="41.50" x2="204.72" y2="44.80" stroke="#3a3a3a" stroke-width="0.42"/>
<line x1="207.45" y1="41.50" x2="207.45" y2="41.50" stroke="#3a3a3a" stroke-width="0.42"/>
<line x1="202.56" y1="39.13" x2="206.09" y2="39.13" stroke="#3a3a3a" stroke-width="0.42"/>
<line x1="202.56" y1="39.13" x2="202.56" y2="44.80" stroke="#3a3a3a" stroke-width="0.42"/>
<line x1="206.09" y1="39.13" x2="206.09" y2="41.50" stroke="#3a3a3a" stroke-width="0.42"/>
<line x1="196.96" y1="36.88" x2="204.32" y2="36.88" stroke="#3a3a3a" stroke-width="0.42"/>
<line x1="196.96" y1="36.88" x2="196.96" y2="38.60" stroke="#3a3a3a" stroke-width="0.42"/>
<line x1="204.32" y1="36.88" x2="204.32" y2="39.13" stroke="#3a3a3a" stroke-width="0.42"/>
<line x1="200.64" y1="35.73" x2="210.86" y2="35.73" stroke="#3a3a3a" stroke-width="0.42"/>
<line x1="200.64" y1="35.73" x2="200.64" y2="36.88" stroke="#3a3a3a" stroke-width="0.42"/>
<line x1="210.86" y1="35.73" x2="210.86" y2="44.80" stroke="#3a3a3a" stroke-width="0.42"/>
<line x1="192.10" y1="34.62" x2="205.75" y2="34.62" stroke="#3a3a3a" stroke-width="0.42"/>
<line x1="192.10" y1="34.62" x2="192.10" y2="36.51" stroke="#3a3a3a" stroke-width="0.42"/>
<line x1="205.75" y1="34.62" x2="205.75" y2="35.73" stroke="#3a3a3a" stroke-width="0.42"/>
<line x1="181.62" y1="32.20" x2="198.93" y2="32.20" stroke="#3a3a3a" stroke-width="0.42"/>
<line x1="181.62" y1="32.20" x2="181.62" y2="34.15" stroke="#3a3a3a" stroke-width="0.42"/>
<line x1="198.93" y1="32.20" x2="198.93" y2="34.62" stroke="#3a3a3a" stroke-width="0.42"/>
<line x1="213.14" y1="36.18" x2="214.64" y2="36.18" stroke="#3a3a3a" stroke-width="0.42"/>
<line x1="213.14" y1="36.18" x2="213.14" y2="44.80" stroke="#3a3a3a" stroke-width="0.42"/>
<line x1="214.64" y1="36.18" x2="214.64" y2="44.80" stroke="#3a3a3a" stroke-width="0.42"/>
<line x1="213.89" y1="34.54" x2="215.99" y2="34.54" stroke="#3a3a3a" stroke-width="0.42"/>
<line x1="213.89" y1="34.54" x2="213.89" y2="36.18" stroke="#3a3a3a" stroke-width="0.42"/>
<line x1="215.99" y1="34.54" x2="215.99" y2="44.80" stroke="#3a3a3a" stroke-width="0.42"/>
<line x1="214.94" y1="32.76" x2="217.51" y2="32.76" stroke="#3a3a3a" stroke-width="0.42"/>
<line x1="214.94" y1="32.76" x2="214.94" y2="34.54" stroke="#3a3a3a" stroke-width="0.42"/>
<line x1="217.51" y1="32.76" x2="217.51" y2="44.80" stroke="#3a3a3a" stroke-width="0.42"/>
<line x1="190.27" y1="30.50" x2="216.23" y2="30.50" stroke="#3a3a3a" stroke-width="0.42"/>
<line x1="190.27" y1="30.50" x2="190.27" y2="32.20" stroke="#3a3a3a" stroke-width="0.42"/>
<line x1="216.23" y1="30.50" x2="216.23" y2="32.76" stroke="#3a3a3a" stroke-width="0.42"/>
<line x1="218.44" y1="36.48" x2="219.98" y2="36.48" stroke="#3a3a3a" stroke-width="0.42"/>
<line x1="218.44" y1="36.48" x2="218.44" y2="44.80" stroke="#3a3a3a" stroke-width="0.42"/>
<line x1="219.98" y1="36.48" x2="219.98" y2="44.80" stroke="#3a3a3a" stroke-width="0.42"/>
<line x1="222.27" y1="39.18" x2="223.84" y2="39.18" stroke="#3a3a3a" stroke-width="0.42"/>
<line x1="222.27" y1="39.18" x2="222.27" y2="44.80" stroke="#3a3a3a" stroke-width="0.42"/>
<line x1="223.84" y1="39.18" x2="223.84" y2="44.80" stroke="#3a3a3a" stroke-width="0.42"/>
<line x1="223.05" y1="36.38" x2="224.44" y2="36.38" stroke="#3a3a3a" stroke-width="0.42"/>
<line x1="223.05" y1="36.38" x2="223.05" y2="39.18" stroke="#3a3a3a" stroke-width="0.42"/>
<line x1="224.44" y1="36.38" x2="224.44" y2="44.80" stroke="#3a3a3a" stroke-width="0.42"/>
<line x1="219.21" y1="34.29" x2="223.75" y2="34.29" stroke="#3a3a3a" stroke-width="0.42"/>
<line x1="219.21" y1="34.29" x2="219.21" y2="36.48" stroke="#3a3a3a" stroke-width="0.42"/>
<line x1="223.75" y1="34.29" x2="223.75" y2="36.38" stroke="#3a3a3a" stroke-width="0.42"/>
<line x1="227.72" y1="36.19" x2="229.34" y2="36.19" stroke="#3a3a3a" stroke-width="0.42"/>
<line x1="227.72" y1="36.19" x2="227.72" y2="44.80" stroke="#3a3a3a" stroke-width="0.42"/>
<line x1="229.34" y1="36.19" x2="229.34" y2="44.80" stroke="#3a3a3a" stroke-width="0.42"/>
<line x1="226.06" y1="34.33" x2="228.53" y2="34.33" stroke="#3a3a3a" stroke-width="0.42"/>
<line x1="226.06" y1="34.33" x2="226.06" y2="44.80" stroke="#3a3a3a" stroke-width="0.42"/>
<line x1="228.53" y1="34.33" x2="228.53" y2="36.19" stroke="#3a3a3a" stroke-width="0.42"/>
<line x1="221.48" y1="32.72" x2="227.30" y2="32.72" stroke="#3a3a3a" stroke-width="0.42"/>
<line x1="221.48" y1="32.72" x2="221.48" y2="34.29" stroke="#3a3a3a" stroke-width="0.42"/>
<line x1="227.30" y1="32.72" x2="227.30" y2="34.33" stroke="#3a3a3a" stroke-width="0.42"/>
<line x1="231.02" y1="35.02" x2="232.46" y2="35.02" stroke="#3a3a3a" stroke-width="0.42"/>
<line x1="231.02" y1="35.02" x2="231.02" y2="44.80" stroke="#3a3a3a" stroke-width="0.42"/>
<line x1="232.46" y1="35.02" x2="232.46" y2="44.80" stroke="#3a3a3a" stroke-width="0.42"/>
<line x1="236.34" y1="40.74" x2="237.79" y2="40.74" stroke="#3a3a3a" stroke-width="0.42"/>
<line x1="236.34" y1="40.74" x2="236.34" y2="44.80" stroke="#3a3a3a" stroke-width="0.42"/>
<line x1="237.79" y1="40.74" x2="237.79" y2="44.80" stroke="#3a3a3a" stroke-width="0.42"/>
<line x1="237.06" y1="38.93" x2="240.01" y2="38.93" stroke="#3a3a3a" stroke-width="0.42"/>
<line x1="237.06" y1="38.93" x2="237.06" y2="40.74" stroke="#3a3a3a" stroke-width="0.42"/>
<line x1="240.01" y1="38.93" x2="240.01" y2="44.80" stroke="#3a3a3a" stroke-width="0.42"/>
<line x1="234.85" y1="37.62" x2="238.53" y2="37.62" stroke="#3a3a3a" stroke-width="0.42"/>
<line x1="234.85" y1="37.62" x2="234.85" y2="44.80" stroke="#3a3a3a" stroke-width="0.42"/>
<line x1="238.53" y1="37.62" x2="238.53" y2="38.93" stroke="#3a3a3a" stroke-width="0.42"/>
<line x1="236.69" y1="35.33" x2="241.99" y2="35.33" stroke="#3a3a3a" stroke-width="0.42"/>
<line x1="236.69" y1="35.33" x2="236.69" y2="37.62" stroke="#3a3a3a" stroke-width="0.42"/>
<line x1="241.99" y1="35.33" x2="241.99" y2="44.80" stroke="#3a3a3a" stroke-width="0.42"/>
<line x1="231.74" y1="32.80" x2="239.34" y2="32.80" stroke="#3a3a3a" stroke-width="0.42"/>
<line x1="231.74" y1="32.80" x2="231.74" y2="35.02" stroke="#3a3a3a" stroke-width="0.42"/>
<line x1="239.34" y1="32.80" x2="239.34" y2="35.33" stroke="#3a3a3a" stroke-width="0.42"/>
<line x1="224.39" y1="30.60" x2="235.54" y2="30.60" stroke="#3a3a3a" stroke-width="0.42"/>
<line x1="224.39" y1="30.60" x2="224.39" y2="32.72" stroke="#3a3a3a" stroke-width="0.42"/>
<line x1="235.54" y1="30.60" x2="235.54" y2="32.80" stroke="#3a3a3a" stroke-width="0.42"/>
<line x1="243.99" y1="41.50" x2="245.96" y2="41.50" stroke="#3a3a3a" stroke-width="0.42"/>
<line x1="243.99" y1="41.50" x2="243.99" y2="44.80" stroke="#3a3a3a" stroke-width="0.42"/>
<line x1="245.96" y1="41.50" x2="245.96" y2="44.80" stroke="#3a3a3a" stroke-width="0.42"/>
<line x1="244.98" y1="39.53" x2="247.50" y2="39.53" stroke="#3a3a3a" stroke-width="0.42"/>
<line x1="244.98" y1="39.53" x2="244.98" y2="41.50" stroke="#3a3a3a" stroke-width="0.42"/>
<line x1="247.50" y1="39.53" x2="247.50" y2="44.80" stroke="#3a3a3a" stroke-width="0.42"/>
<line x1="246.24" y1="37.43" x2="248.48" y2="37.43" stroke="#3a3a3a" stroke-width="0.42"/>
<line x1="246.24" y1="37.43" x2="246.24" y2="39.53" stroke="#3a3a3a" stroke-width="0.42"/>
<line x1="248.48" y1="37.43" x2="248.48" y2="44.80" stroke="#3a3a3a" stroke-width="0.42"/>
<line x1="247.36" y1="35.10" x2="250.13" y2="35.10" stroke="#3a3a3a" stroke-width="0.42"/>
<line x1="247.36" y1="35.10" x2="247.36" y2="37.43" stroke="#3a3a3a" stroke-width="0.42"/>
<line x1="250.13" y1="35.10" x2="250.13" y2="44.80" stroke="#3a3a3a" stroke-width="0.42"/>
<line x1="255.38" y1="38.24" x2="256.98" y2="38.24" stroke="#3a3a3a" stroke-width="0.42"/>
<line x1="255.38" y1="38.24" x2="255.38" y2="44.80" stroke="#3a3a3a" stroke-width="0.42"/>
<line x1="256.98" y1="38.24" x2="256.98" y2="44.80" stroke="#3a3a3a" stroke-width="0.42"/>
<line x1="254.38" y1="36.47" x2="256.18" y2="36.47" stroke="#3a3a3a" stroke-width="0.42"/>
<line x1="254.38" y1="36.47" x2="254.38" y2="44.80" stroke="#3a3a3a" stroke-width="0.42"/>
<line x1="256.18" y1="36.47" x2="256.18" y2="38.24" stroke="#3a3a3a" stroke-width="0.42"/>
<line x1="252.48" y1="34.48" x2="255.28" y2="34.48" stroke="#3a3a3a" stroke-width="0.42"/>
<line x1="252.48" y1="34.48" x2="252.48" y2="44.80" stroke="#3a3a3a" stroke-width="0.42"/>
<line x1="255.28" y1="34.48" x2="255.28" y2="36.47" stroke="#3a3a3a" stroke-width="0.42"/>
<line x1="248.75" y1="33.04" x2="253.88" y2="33.04" stroke="#3a3a3a" stroke-width="0.42"/>
<line x1="248.75" y1="33.04" x2="248.75" y2="35.10" stroke="#3a3a3a" stroke-width="0.42"/>
<line x1="253.88" y1="33.04" x2="253.88" y2="34.48" stroke="#3a3a3a" stroke-width="0.42"/>
<line x1="258.75" y1="40.24" x2="260.37" y2="40.24" stroke="#3a3a3a" stroke-width="0.42"/>
<line x1="258.75" y1="40.24" x2="258.75" y2="44.80" stroke="#3a3a3a" stroke-width="0.42"/>
<line x1="260.37" y1="40.24" x2="260.37" y2="44.80" stroke="#3a3a3a" stroke-width="0.42"/>
<line x1="259.56" y1="37.77" x2="262.97" y2="37.77" stroke="#3a3a3a" stroke-width="0.42"/>
<line x1="259.56" y1="37.77" x2="259.56" y2="40.24" stroke="#3a3a3a" stroke-width="0.42"/>
<line x1="262.97" y1="37.77" x2="262.97" y2="44.80" stroke="#3a3a3a" stroke-width="0.42"/>
<line x1="261.27" y1="35.77" x2="264.99" y2="35.77" stroke="#3a3a3a" stroke-width="0.42"/>
<line x1="261.27" y1="35.77" x2="261.27" y2="37.77" stroke="#3a3a3a" stroke-width="0.42"/>
<line x1="264.99" y1="35.77" x2="264.99" y2="44.80" stroke="#3a3a3a" stroke-width="0.42"/>
<line x1="267.45" y1="39.27" x2="269.73" y2="39.27" stroke="#3a3a3a" stroke-width="0.42"/>
<line x1="267.45" y1="39.27" x2="267.45" y2="44.80" stroke="#3a3a3a" stroke-width="0.42"/>
<line x1="269.73" y1="39.27" x2="269.73" y2="44.80" stroke="#3a3a3a" stroke-width="0.42"/>
<line x1="268.59" y1="36.98" x2="271.51" y2="36.98" stroke="#3a3a3a" stroke-width="0.42"/>
<line x1="268.59" y1="36.98" x2="268.59" y2="39.27" stroke="#3a3a3a" stroke-width="0.42"/>
<line x1="271.51" y1="36.98" x2="271.51" y2="44.80" stroke="#3a3a3a" stroke-width="0.42"/>
<line x1="266.05" y1="35.78" x2="270.05" y2="35.78" stroke="#3a3a3a" stroke-width="0.42"/>
<line x1="266.05" y1="35.78" x2="266.05" y2="44.80" stroke="#3a3a3a" stroke-width="0.42"/>
<line x1="270.05" y1="35.78" x2="270.05" y2="36.98" stroke="#3a3a3a" stroke-width="0.42"/>
<line x1="263.13" y1="33.13" x2="268.05" y2="33.13" stroke="#3a3a3a" stroke-width="0.42"/>
<line x1="263.13" y1="33.13" x2="263.13" y2="35.77" stroke="#3a3a3a" stroke-width="0.42"/>
<line x1="268.05" y1="33.13" x2="268.05" y2="35.78" stroke="#3a3a3a" stroke-width="0.42"/>
<line x1="251.31" y1="31.00" x2="265.59" y2="31.00" stroke="#3a3a3a" stroke-width="0.42"/>
<line x1="251.31" y1="31.00" x2="251.31" y2="33.04" stroke="#3a3a3a" stroke-width="0.42"/>
<line x1="265.59" y1="31.00" x2="265.59" y2="33.13" stroke="#3a3a3a" stroke-width="0.42"/>
<line x1="39.20" y1="24.60" x2="66.19" y2="24.60" stroke="#3a3a3a" stroke-width="0.42"/>
<line x1="39.20" y1="24.60" x2="39.20" y2="27.00" stroke="#3a3a3a" stroke-width="0.42"/>
<line x1="66.19" y1="24.60" x2="66.19" y2="28.10" stroke="#3a3a3a" stroke-width="0.42"/>
<line x1="25.67" y1="23.20" x2="52.70" y2="23.20" stroke="#3a3a3a" stroke-width="0.42"/>
<line x1="25.67" y1="23.20" x2="25.67" y2="25.50" stroke="#3a3a3a" stroke-width="0.42"/>
<line x1="52.70" y1="23.20" x2="52.70" y2="24.60" stroke="#3a3a3a" stroke-width="0.42"/>
<line x1="229.96" y1="29.00" x2="258.45" y2="29.00" stroke="#3a3a3a" stroke-width="0.42"/>
<line x1="229.96" y1="29.00" x2="229.96" y2="30.60" stroke="#3a3a3a" stroke-width="0.42"/>
<line x1="258.45" y1="29.00" x2="258.45" y2="31.00" stroke="#3a3a3a" stroke-width="0.42"/>
<line x1="160.74" y1="29.60" x2="203.25" y2="29.60" stroke="#3a3a3a" stroke-width="0.42"/>
<line x1="160.74" y1="29.60" x2="160.74" y2="30.20" stroke="#3a3a3a" stroke-width="0.42"/>
<line x1="203.25" y1="29.60" x2="203.25" y2="30.50" stroke="#3a3a3a" stroke-width="0.42"/>
<line x1="182.00" y1="27.20" x2="246.40" y2="27.20" stroke="#3a3a3a" stroke-width="0.42"/>
<line x1="182.00" y1="27.20" x2="182.00" y2="29.60" stroke="#3a3a3a" stroke-width="0.42"/>
<line x1="246.40" y1="27.20" x2="246.40" y2="29.00" stroke="#3a3a3a" stroke-width="0.42"/>
<line x1="134.44" y1="25.00" x2="208.50" y2="25.00" stroke="#3a3a3a" stroke-width="0.42"/>
<line x1="134.44" y1="25.00" x2="134.44" y2="30.40" stroke="#3a3a3a" stroke-width="0.42"/>
<line x1="208.50" y1="25.00" x2="208.50" y2="27.20" stroke="#3a3a3a" stroke-width="0.42"/>
<line x1="109.38" y1="22.80" x2="154.30" y2="22.80" stroke="#3a3a3a" stroke-width="0.42"/>
<line x1="109.38" y1="22.80" x2="109.38" y2="28.20" stroke="#3a3a3a" stroke-width="0.42"/>
<line x1="154.30" y1="22.80" x2="154.30" y2="25.00" stroke="#3a3a3a" stroke-width="0.42"/>
<line x1="30.00" y1="20.80" x2="123.20" y2="20.80" stroke="#3a3a3a" stroke-width="0.42"/>
<line x1="30.00" y1="20.80" x2="30.00" y2="23.20" stroke="#3a3a3a" stroke-width="0.42"/>
<line x1="123.20" y1="20.80" x2="123.20" y2="22.80" stroke="#3a3a3a" stroke-width="0.42"/>
<line x1="18.10" y1="19.80" x2="76.60" y2="19.80" stroke="#3a3a3a" stroke-width="0.42"/>
<line x1="18.10" y1="19.80" x2="18.10" y2="44.80" stroke="#3a3a3a" stroke-width="0.42"/>
<line x1="76.60" y1="19.80" x2="76.60" y2="20.80" stroke="#3a3a3a" stroke-width="0.42"/>
<line x1="12.08" y1="17.00" x2="47.30" y2="17.00" stroke="#3a3a3a" stroke-width="0.42"/>
<line x1="12.08" y1="17.00" x2="12.08" y2="26.40" stroke="#3a3a3a" stroke-width="0.42"/>
<line x1="47.30" y1="17.00" x2="47.30" y2="19.80" stroke="#3a3a3a" stroke-width="0.42"/>
<line x1="7.40" y1="14.30" x2="29.30" y2="14.30" stroke="#3a3a3a" stroke-width="0.42"/>
<line x1="7.40" y1="14.30" x2="7.40" y2="44.80" stroke="#3a3a3a" stroke-width="0.42"/>
<line x1="29.30" y1="14.30" x2="29.30" y2="17.00" stroke="#3a3a3a" stroke-width="0.42"/>
<rect x="33.00" y="55.50" width="7.60" height="7.20" fill="#a595cd"/>
<text x="44.70" y="59.20" font-size="5.9" text-anchor="start" fill="#222222" dominant-baseline="central" transform="rotate(0.05 44.70 59.20)">Edothelial cells</text>
<rect x="90.70" y="55.50" width="7.60" height="7.20" fill="#c47cbc"/>
<text x="102.40" y="59.20" font-size="5.9" text-anchor="start" fill="#222222" dominant-baseline="central" transform="rotate(0.05 102.40 59.20)">Germline cells</text>
<rect x="145.80" y="55.50" width="7.60" height="7.20" fill="#2ab4e4"/>
<text x="157.50" y="59.20" font-size="5.9" text-anchor="start" fill="#222222" dominant-baseline="central" transform="rotate(0.05 157.50 59.20)">Muscle cells</text>
<rect x="195.80" y="55.50" width="7.60" height="7.20" fill="#d4a232"/>
<text x="207.50" y="59.20" font-size="5.9" text-anchor="start" fill="#222222" dominant-baseline="central" transform="rotate(0.05 207.50 59.20)">Stromal cells</text>
<rect x="33.00" y="67.50" width="7.60" height="7.20" fill="#ef8a84"/>
<text x="44.70" y="71.20" font-size="5.9" text-anchor="start" fill="#222222" dominant-baseline="central" transform="rotate(0.05 44.70 71.20)">Epithelial cells</text>
<rect x="90.70" y="67.50" width="7.60" height="7.20" fill="#70bd4a"/>
<text x="102.40" y="71.20" font-size="5.9" text-anchor="start" fill="#222222" dominant-baseline="central" transform="rotate(0.05 102.40 71.20)">Immune cells</text>
<rect x="145.80" y="67.50" width="7.60" height="7.20" fill="#4dbd9d"/>
<text x="157.50" y="71.20" font-size="5.9" text-anchor="start" fill="#222222" dominant-baseline="central" transform="rotate(0.05 157.50 71.20)">Nerve cells</text>
<text x="0.40" y="93.50" font-size="13" font-weight="bold" fill="#000" transform="rotate(0.05 0.40 93.50)">b</text>
<line x1="87.60" y1="94.50" x2="87.60" y2="197.60" stroke="#555" stroke-width="0.6"/>
<line x1="87.60" y1="197.60" x2="221.30" y2="197.60" stroke="#555" stroke-width="0.6"/>
<line x1="85.00" y1="102.80" x2="87.60" y2="102.80" stroke="#555" stroke-width="0.5"/>
<text x="80.70" y="102.80" font-size="6.7" text-anchor="end" fill="#222222" dominant-baseline="central" transform="rotate(0.05 80.70 102.80)">Stromal cells (566)</text>
<line x1="85.00" y1="117.25" x2="87.60" y2="117.25" stroke="#555" stroke-width="0.5"/>
<text x="80.70" y="117.25" font-size="6.7" text-anchor="end" fill="#222222" dominant-baseline="central" transform="rotate(0.05 80.70 117.25)">Nerve cells (1,423)</text>
<line x1="85.00" y1="131.70" x2="87.60" y2="131.70" stroke="#555" stroke-width="0.5"/>
<text x="80.70" y="131.70" font-size="6.7" text-anchor="end" fill="#222222" dominant-baseline="central" transform="rotate(0.05 80.70 131.70)">Muscle cells (303)</text>
<line x1="85.00" y1="146.15" x2="87.60" y2="146.15" stroke="#555" stroke-width="0.5"/>
<text x="80.70" y="146.15" font-size="6.7" text-anchor="end" fill="#222222" dominant-baseline="central" transform="rotate(0.05 80.70 146.15)">Immune cells (1,203)</text>
<line x1="85.00" y1="160.60" x2="87.60" y2="160.60" stroke="#555" stroke-width="0.5"/>
<text x="80.70" y="160.60" font-size="6.7" text-anchor="end" fill="#222222" dominant-baseline="central" transform="rotate(0.05 80.70 160.60)">Germline cells (1,168)</text>
<line x1="85.00" y1="175.05" x2="87.60" y2="175.05" stroke="#555" stroke-width="0.5"/>
<text x="80.70" y="175.05" font-size="6.7" text-anchor="end" fill="#222222" dominant-baseline="central" transform="rotate(0.05 80.70 175.05)">Epithelial cells (2,012)</text>
<line x1="85.00" y1="189.50" x2="87.60" y2="189.50" stroke="#555" stroke-width="0.5"/>
<text x="80.70" y="189.50" font-size="6.7" text-anchor="end" fill="#222222" dominant-baseline="central" transform="rotate(0.05 80.70 189.50)">Endothelial cells (333)</text>
<line x1="95.10" y1="197.60" x2="95.10" y2="200.20" stroke="#555" stroke-width="0.5"/>
<text x="97.00" y="203.10" font-size="6.35" text-anchor="end" fill="#222222" dominant-baseline="central" transform="rotate(-45 97.00 203.10)">Blood immune (11)</text>
<line x1="108.41" y1="197.60" x2="108.41" y2="200.20" stroke="#555" stroke-width="0.5"/>
<text x="110.31" y="203.10" font-size="6.35" text-anchor="end" fill="#222222" dominant-baseline="central" transform="rotate(-45 110.31 203.10)">Connective tissue (6)</text>
<line x1="121.72" y1="197.60" x2="121.72" y2="200.20" stroke="#555" stroke-width="0.5"/>
<text x="123.62" y="203.10" font-size="6.35" text-anchor="end" fill="#222222" dominant-baseline="central" transform="rotate(-45 123.62 203.10)">Embryonic development (38)</text>
<line x1="135.03" y1="197.60" x2="135.03" y2="200.20" stroke="#555" stroke-width="0.5"/>
<text x="136.93" y="203.10" font-size="6.35" text-anchor="end" fill="#222222" dominant-baseline="central" transform="rotate(-45 136.93 203.10)">Embryonic lethality (44)</text>
<line x1="148.34" y1="197.60" x2="148.34" y2="200.20" stroke="#555" stroke-width="0.5"/>
<text x="150.24" y="203.10" font-size="6.35" text-anchor="end" fill="#222222" dominant-baseline="central" transform="rotate(-45 150.24 203.10)">Metabolic (20)</text>
<line x1="161.65" y1="197.60" x2="161.65" y2="200.20" stroke="#555" stroke-width="0.5"/>
<text x="163.55" y="203.10" font-size="6.35" text-anchor="end" fill="#222222" dominant-baseline="central" transform="rotate(-45 163.55 203.10)">Muscle (11)</text>
<line x1="174.96" y1="197.60" x2="174.96" y2="200.20" stroke="#555" stroke-width="0.5"/>
<text x="176.86" y="203.10" font-size="6.35" text-anchor="end" fill="#222222" dominant-baseline="central" transform="rotate(-45 176.86 203.10)">Neural (12)</text>
<line x1="188.27" y1="197.60" x2="188.27" y2="200.20" stroke="#555" stroke-width="0.5"/>
<text x="190.17" y="203.10" font-size="6.35" text-anchor="end" fill="#222222" dominant-baseline="central" transform="rotate(-45 190.17 203.10)">Reproduction (5)</text>
<line x1="201.58" y1="197.60" x2="201.58" y2="200.20" stroke="#555" stroke-width="0.5"/>
<text x="203.48" y="203.10" font-size="6.35" text-anchor="end" fill="#222222" dominant-baseline="central" transform="rotate(-45 203.48 203.10)">Skin (27)</text>
<line x1="214.89" y1="197.60" x2="214.89" y2="200.20" stroke="#555" stroke-width="0.5"/>
<text x="216.79" y="203.10" font-size="6.35" text-anchor="end" fill="#222222" dominant-baseline="central" transform="rotate(-45 216.79 203.10)">Tissue-specific (11)</text>
<circle cx="95.10" cy="102.80" r="0.45" fill="#b3b3b3"/>
<circle cx="108.41" cy="102.80" r="0.45" fill="#b3b3b3"/>
<circle cx="121.72" cy="102.80" r="0.45" fill="#b3b3b3"/>
<circle cx="135.03" cy="102.80" r="0.45" fill="#b3b3b3"/>
<circle cx="148.34" cy="102.80" r="0.45" fill="#b3b3b3"/>
<circle cx="161.65" cy="102.80" r="0.45" fill="#b3b3b3"/>
<circle cx="174.96" cy="102.80" r="0.45" fill="#b3b3b3"/>
<circle cx="188.27" cy="102.80" r="0.45" fill="#b3b3b3"/>
<circle cx="201.58" cy="102.80" r="2.00" fill="#b3b3b3"/>
<circle cx="214.89" cy="102.80" r="0.45" fill="#b3b3b3"/>
<circle cx="95.10" cy="117.25" r="0.45" fill="#b3b3b3"/>
<circle cx="108.41" cy="117.25" r="0.45" fill="#b3b3b3"/>
<circle cx="121.72" cy="117.25" r="0.45" fill="#b3b3b3"/>
<circle cx="135.03" cy="117.25" r="0.45" fill="#b3b3b3"/>
<circle cx="148.34" cy="117.25" r="0.45" fill="#b3b3b3"/>
<circle cx="161.65" cy="117.25" r="0.45" fill="#b3b3b3"/>
<circle cx="174.96" cy="117.25" r="0.45" fill="#b3b3b3"/>
<circle cx="188.27" cy="117.25" r="0.45" fill="#b3b3b3"/>
<circle cx="201.58" cy="117.25" r="1.50" fill="#b3b3b3"/>
<circle cx="214.89" cy="117.25" r="1.90" fill="#b3b3b3"/>
<circle cx="95.10" cy="131.70" r="0.45" fill="#b3b3b3"/>
<circle cx="108.41" cy="131.70" r="0.45" fill="#b3b3b3"/>
<circle cx="121.72" cy="131.70" r="0.45" fill="#b3b3b3"/>
<circle cx="135.03" cy="131.70" r="0.45" fill="#b3b3b3"/>
<circle cx="148.34" cy="131.70" r="0.45" fill="#b3b3b3"/>
<circle cx="161.65" cy="131.70" r="2.65" fill="#e8262a"/>
<circle cx="174.96" cy="131.70" r="0.45" fill="#b3b3b3"/>
<circle cx="188.27" cy="131.70" r="0.45" fill="#b3b3b3"/>
<circle cx="201.58" cy="131.70" r="0.45" fill="#b3b3b3"/>
<circle cx="214.89" cy="131.70" r="0.45" fill="#b3b3b3"/>
<circle cx="95.10" cy="146.15" r="2.00" fill="#b3b3b3"/>
<circle cx="108.41" cy="146.15" r="0.45" fill="#b3b3b3"/>
<circle cx="121.72" cy="146.15" r="0.45" fill="#b3b3b3"/>
<circle cx="135.03" cy="146.15" r="0.45" fill="#b3b3b3"/>
<circle cx="148.34" cy="146.15" r="0.45" fill="#b3b3b3"/>
<circle cx="161.65" cy="146.15" r="0.45" fill="#b3b3b3"/>
<circle cx="174.96" cy="146.15" r="0.45" fill="#b3b3b3"/>
<circle cx="188.27" cy="146.15" r="0.45" fill="#b3b3b3"/>
<circle cx="201.58" cy="146.15" r="0.45" fill="#b3b3b3"/>
<circle cx="214.89" cy="146.15" r="0.45" fill="#b3b3b3"/>
<circle cx="95.10" cy="160.60" r="0.45" fill="#b3b3b3"/>
<circle cx="108.41" cy="160.60" r="0.45" fill="#b3b3b3"/>
<circle cx="121.72" cy="160.60" r="0.45" fill="#b3b3b3"/>
<circle cx="135.03" cy="160.60" r="0.45" fill="#b3b3b3"/>
<circle cx="148.34" cy="160.60" r="0.45" fill="#b3b3b3"/>
<circle cx="161.65" cy="160.60" r="0.45" fill="#b3b3b3"/>
<circle cx="174.96" cy="160.60" r="0.45" fill="#b3b3b3"/>
<circle cx="188.27" cy="160.60" r="2.55" fill="#f39a2c"/>
<circle cx="201.58" cy="160.60" r="0.45" fill="#b3b3b3"/>
<circle cx="214.89" cy="160.60" r="0.45" fill="#b3b3b3"/>
<circle cx="95.10" cy="175.05" r="2.00" fill="#b3b3b3"/>
<circle cx="108.41" cy="175.05" r="0.45" fill="#b3b3b3"/>
<circle cx="121.72" cy="175.05" r="0.45" fill="#b3b3b3"/>
<circle cx="135.03" cy="175.05" r="1.20" fill="#b3b3b3"/>
<circle cx="148.34" cy="175.05" r="1.60" fill="#b3b3b3"/>
<circle cx="161.65" cy="175.05" r="0.45" fill="#b3b3b3"/>
<circle cx="174.96" cy="175.05" r="0.45" fill="#b3b3b3"/>
<circle cx="188.27" cy="175.05" r="2.00" fill="#b3b3b3"/>
<circle cx="201.58" cy="175.05" r="1.75" fill="#f39a2c"/>
<circle cx="214.89" cy="175.05" r="0.45" fill="#b3b3b3"/>
<circle cx="95.10" cy="189.50" r="0.45" fill="#b3b3b3"/>
<circle cx="108.41" cy="189.50" r="0.45" fill="#b3b3b3"/>
<circle cx="121.72" cy="189.50" r="0.45" fill="#b3b3b3"/>
<circle cx="135.03" cy="189.50" r="0.45" fill="#b3b3b3"/>
<circle cx="148.34" cy="189.50" r="0.45" fill="#b3b3b3"/>
<circle cx="161.65" cy="189.50" r="0.45" fill="#b3b3b3"/>
<circle cx="174.96" cy="189.50" r="0.45" fill="#b3b3b3"/>
<circle cx="188.27" cy="189.50" r="0.45" fill="#b3b3b3"/>
<circle cx="201.58" cy="189.50" r="2.00" fill="#b3b3b3"/>
<circle cx="214.89" cy="189.50" r="0.45" fill="#b3b3b3"/>
<text x="4.40" y="146.00" font-size="7.5" text-anchor="middle" fill="#222222" dominant-baseline="central" transform="rotate(-90 4.40 146.00)">Cell lineages</text>
<text x="155.00" y="275.10" font-size="7.4" text-anchor="middle" fill="#222222" dominant-baseline="central" transform="rotate(0.05 155.00 275.10)">Monogenic disorder domains</text>
<text x="231.60" y="111.80" font-size="6.4" text-anchor="start" fill="#222222" dominant-baseline="central" transform="rotate(0.05 231.60 111.80)">log<tspan font-size="4" dy="1.5">2</tspan><tspan dy="-1.5">(OR)</tspan></text>
<circle cx="234.50" cy="121.80" r="0.50" fill="#111"/>
<text x="239.80" y="121.80" font-size="6.3" text-anchor="start" fill="#222222" dominant-baseline="central" transform="rotate(0.05 239.80 121.80)">0</text>
<circle cx="234.50" cy="128.90" r="1.30" fill="#111"/>
<text x="239.80" y="128.90" font-size="6.3" text-anchor="start" fill="#222222" dominant-baseline="central" transform="rotate(0.05 239.80 128.90)">1</text>
<circle cx="234.50" cy="135.60" r="1.90" fill="#111"/>
<text x="239.80" y="135.60" font-size="6.3" text-anchor="start" fill="#222222" dominant-baseline="central" transform="rotate(0.05 239.80 135.60)">2</text>
<circle cx="234.50" cy="142.90" r="2.40" fill="#111"/>
<text x="239.80" y="142.90" font-size="6.3" text-anchor="start" fill="#222222" dominant-baseline="central" transform="rotate(0.05 239.80 142.90)">3</text>
<circle cx="234.50" cy="150.10" r="2.90" fill="#111"/>
<text x="239.80" y="150.10" font-size="6.3" text-anchor="start" fill="#222222" dominant-baseline="central" transform="rotate(0.05 239.80 150.10)">4</text>
<circle cx="228.80" cy="165.50" r="1.30" fill="#b3b3b3"/>
<text x="233.50" y="165.50" font-size="6.3" text-anchor="start" fill="#222222" dominant-baseline="central" transform="rotate(0.05 233.50 165.50)">NS/NA</text>
<circle cx="228.80" cy="175.70" r="1.30" fill="#f39a2c"/>
<text x="233.50" y="175.70" font-size="6.3" text-anchor="start" fill="#222222" dominant-baseline="central" transform="rotate(0.05 233.50 175.70)"><tspan font-style="italic">P</tspan> &lt;0.05</text>
<circle cx="228.80" cy="186.40" r="1.30" fill="#e8262a"/>
<text x="233.50" y="186.40" font-size="6.3" text-anchor="start" fill="#222222" dominant-baseline="central" transform="rotate(0.05 233.50 186.40)">FDR &lt;0.05</text>
<text x="290.60" y="9.90" font-size="13" font-weight="bold" fill="#000" transform="rotate(0.05 290.60 9.90)">c</text>
<line x1="319.40" y1="15.00" x2="319.40" y2="229.50" stroke="#666" stroke-width="0.6"/>
<line x1="319.40" y1="39.10" x2="439.30" y2="39.10" stroke="#a3a3a3" stroke-width="1.35"/>
<line x1="319.40" y1="61.80" x2="439.30" y2="61.80" stroke="#a3a3a3" stroke-width="1.35"/>
<line x1="319.40" y1="85.20" x2="439.30" y2="85.20" stroke="#a3a3a3" stroke-width="1.35"/>
<line x1="319.40" y1="109.30" x2="439.30" y2="109.30" stroke="#a3a3a3" stroke-width="1.35"/>
<line x1="319.40" y1="132.30" x2="439.30" y2="132.30" stroke="#a3a3a3" stroke-width="1.35"/>
<line x1="319.40" y1="156.20" x2="439.30" y2="156.20" stroke="#a3a3a3" stroke-width="1.35"/>
<line x1="319.40" y1="180.60" x2="439.30" y2="180.60" stroke="#a3a3a3" stroke-width="1.35"/>
<line x1="319.40" y1="204.20" x2="439.30" y2="204.20" stroke="#a3a3a3" stroke-width="1.35"/>
<line x1="319.40" y1="229.30" x2="439.30" y2="229.30" stroke="#666" stroke-width="0.6"/>
<text x="383.30" y="19.00" font-size="5.5" text-anchor="middle" fill="#444" dominant-baseline="central" font-style="italic" transform="rotate(0.05 383.30 19.00)">ABCA12</text>
<line x1="317.80" y1="18.50" x2="319.40" y2="18.50" stroke="#666" stroke-width="0.4"/>
<text x="314.80" y="18.50" font-size="5.9" text-anchor="end" fill="#444" dominant-baseline="central" transform="rotate(0.05 314.80 18.50)">1.5</text>
<line x1="317.80" y1="24.50" x2="319.40" y2="24.50" stroke="#666" stroke-width="0.4"/>
<text x="314.80" y="24.50" font-size="5.9" text-anchor="end" fill="#444" dominant-baseline="central" transform="rotate(0.05 314.80 24.50)">1.0</text>
<line x1="317.80" y1="30.50" x2="319.40" y2="30.50" stroke="#666" stroke-width="0.4"/>
<text x="314.80" y="30.50" font-size="5.9" text-anchor="end" fill="#444" dominant-baseline="central" transform="rotate(0.05 314.80 30.50)">0.5</text>
<line x1="317.80" y1="36.50" x2="319.40" y2="36.50" stroke="#666" stroke-width="0.4"/>
<text x="314.80" y="36.50" font-size="5.9" text-anchor="end" fill="#444" dominant-baseline="central" transform="rotate(0.05 314.80 36.50)">0</text>
<line x1="329.20" y1="16.40" x2="329.20" y2="32.20" stroke="#333" stroke-width="0.5" stroke-dasharray="0.8 0.45"/>
<rect x="327.30" y="29.30" width="3.80" height="3.80" fill="#ee7f79" stroke="#777" stroke-width="0.25" fill-opacity="0.85"/>
<line x1="346.30" y1="27.30" x2="346.30" y2="36.50" stroke="#333" stroke-width="0.5" stroke-dasharray="0.8 0.45"/>
<ellipse cx="346.30" cy="36.50" rx="3.00" ry="0.5" fill="#c8952c"/>
<polygon points="346.30,24.75 346.72,25.72 347.77,25.82 346.98,26.52 347.21,27.55 346.30,27.02 345.39,27.55 345.62,26.52 344.83,25.82 345.88,25.72" fill="#111"/>
<line x1="363.10" y1="29.00" x2="363.10" y2="36.50" stroke="#333" stroke-width="0.5" stroke-dasharray="0.8 0.45"/>
<ellipse cx="363.10" cy="36.50" rx="2.00" ry="0.5" fill="#4bae4a"/>
<polygon points="363.10,26.45 363.52,27.42 364.57,27.52 363.78,28.22 364.01,29.25 363.10,28.72 362.19,29.25 362.42,28.22 361.63,27.52 362.68,27.42" fill="#111"/>
<line x1="380.60" y1="29.40" x2="380.60" y2="36.50" stroke="#333" stroke-width="0.5" stroke-dasharray="0.8 0.45"/>
<ellipse cx="380.60" cy="36.50" rx="5.50" ry="0.5" fill="#30b29b"/>
<polygon points="380.60,26.85 381.02,27.82 382.07,27.92 381.28,28.62 381.51,29.65 380.60,29.12 379.69,29.65 379.92,28.62 379.13,27.92 380.18,27.82" fill="#111"/>
<line x1="398.10" y1="25.40" x2="398.10" y2="36.50" stroke="#333" stroke-width="0.5" stroke-dasharray="0.8 0.45"/>
<ellipse cx="398.10" cy="36.50" rx="3.00" ry="0.5" fill="#29a9e0"/>
<polygon points="398.10,22.85 398.52,23.82 399.57,23.92 398.78,24.62 399.01,25.65 398.10,25.12 397.19,25.65 397.42,24.62 396.63,23.92 397.68,23.82" fill="#111"/>
<line x1="415.20" y1="27.50" x2="415.20" y2="36.50" stroke="#333" stroke-width="0.5" stroke-dasharray="0.8 0.45"/>
<ellipse cx="415.20" cy="36.50" rx="3.00" ry="0.5" fill="#7f79c4"/>
<polygon points="415.20,24.95 415.62,25.92 416.67,26.02 415.88,26.72 416.11,27.75 415.20,27.22 414.29,27.75 414.52,26.72 413.73,26.02 414.78,25.92" fill="#111"/>
<line x1="432.50" y1="23.70" x2="432.50" y2="36.50" stroke="#333" stroke-width="0.5" stroke-dasharray="0.8 0.45"/>
<ellipse cx="432.50" cy="36.50" rx="2.50" ry="0.5" fill="#d660b4"/>
<polygon points="432.50,21.15 432.92,22.12 433.97,22.22 433.18,22.92 433.41,23.95 432.50,23.42 431.59,23.95 431.82,22.92 431.03,22.22 432.08,22.12" fill="#111"/>
<text x="383.30" y="42.50" font-size="5.5" text-anchor="middle" fill="#444" dominant-baseline="central" font-style="italic" transform="rotate(0.05 383.30 42.50)">DSP</text>
<line x1="317.80" y1="46.00" x2="319.40" y2="46.00" stroke="#666" stroke-width="0.4"/>
<text x="314.80" y="46.00" font-size="5.9" text-anchor="end" fill="#444" dominant-baseline="central" transform="rotate(0.05 314.80 46.00)">2.0</text>
<line x1="317.80" y1="53.00" x2="319.40" y2="53.00" stroke="#666" stroke-width="0.4"/>
<text x="314.80" y="53.00" font-size="5.9" text-anchor="end" fill="#444" dominant-baseline="central" transform="rotate(0.05 314.80 53.00)">1.0</text>
<line x1="317.80" y1="60.20" x2="319.40" y2="60.20" stroke="#666" stroke-width="0.4"/>
<text x="314.80" y="60.20" font-size="5.9" text-anchor="end" fill="#444" dominant-baseline="central" transform="rotate(0.05 314.80 60.20)">0</text>
<line x1="329.20" y1="40.50" x2="329.20" y2="49.10" stroke="#333" stroke-width="0.5" stroke-dasharray="0.8 0.45"/>
<circle cx="329.20" cy="48.10" r="1.70" fill="#ee7f79" fill-opacity="0.9"/>
<line x1="346.30" y1="45.30" x2="346.30" y2="55.70" stroke="#333" stroke-width="0.5" stroke-dasharray="0.8 0.45"/>
<circle cx="346.30" cy="54.70" r="1.60" fill="#c8952c" fill-opacity="0.9"/>
<polygon points="346.30,42.75 346.72,43.72 347.77,43.82 346.98,44.52 347.21,45.55 346.30,45.02 345.39,45.55 345.62,44.52 344.83,43.82 345.88,43.72" fill="#111"/>
<line x1="363.10" y1="49.50" x2="363.10" y2="60.10" stroke="#333" stroke-width="0.5" stroke-dasharray="0.8 0.45"/>
<circle cx="363.10" cy="59.10" r="1.70" fill="#4bae4a" fill-opacity="0.9"/>
<polygon points="363.10,46.95 363.52,47.92 364.57,48.02 363.78,48.72 364.01,49.75 363.10,49.22 362.19,49.75 362.42,48.72 361.63,48.02 362.68,47.92" fill="#111"/>
<line x1="380.60" y1="50.20" x2="380.60" y2="58.60" stroke="#333" stroke-width="0.5" stroke-dasharray="0.8 0.45"/>
<path d="M378.60,58.85 L382.60,58.85 L380.60,56.35 Z" fill="#30b29b"/>
<polygon points="380.60,47.65 381.02,48.62 382.07,48.72 381.28,49.42 381.51,50.45 380.60,49.92 379.69,50.45 379.92,49.42 379.13,48.72 380.18,48.62" fill="#111"/>
<line x1="398.10" y1="47.60" x2="398.10" y2="60.10" stroke="#333" stroke-width="0.5" stroke-dasharray="0.8 0.45"/>
<circle cx="398.10" cy="59.10" r="1.80" fill="#29a9e0" fill-opacity="0.9"/>
<polygon points="398.10,45.05 398.52,46.02 399.57,46.12 398.78,46.82 399.01,47.85 398.10,47.32 397.19,47.85 397.42,46.82 396.63,46.12 397.68,46.02" fill="#111"/>
<line x1="415.20" y1="46.60" x2="415.20" y2="58.60" stroke="#333" stroke-width="0.5" stroke-dasharray="0.8 0.45"/>
<circle cx="415.20" cy="57.60" r="1.00" fill="#7f79c4" fill-opacity="0.9"/>
<polygon points="415.20,44.05 415.62,45.02 416.67,45.12 415.88,45.82 416.11,46.85 415.20,46.32 414.29,46.85 414.52,45.82 413.73,45.12 414.78,45.02" fill="#111"/>
<line x1="432.50" y1="51.20" x2="432.50" y2="60.20" stroke="#333" stroke-width="0.5" stroke-dasharray="0.8 0.45"/>
<ellipse cx="432.50" cy="60.00" rx="6.50" ry="0.55" fill="#d660b4" fill-opacity="0.45"/>
<polygon points="432.50,48.65 432.92,49.62 433.97,49.72 433.18,50.42 433.41,51.45 432.50,50.92 431.59,51.45 431.82,50.42 431.03,49.72 432.08,49.62" fill="#111"/>
<text x="383.30" y="64.80" font-size="5.5" text-anchor="middle" fill="#444" dominant-baseline="central" font-style="italic" transform="rotate(0.05 383.30 64.80)">KRT5</text>
<line x1="317.80" y1="70.30" x2="319.40" y2="70.30" stroke="#666" stroke-width="0.4"/>
<text x="314.80" y="70.30" font-size="5.9" text-anchor="end" fill="#444" dominant-baseline="central" transform="rotate(0.05 314.80 70.30)">2.0</text>
<line x1="317.80" y1="77.00" x2="319.40" y2="77.00" stroke="#666" stroke-width="0.4"/>
<text x="314.80" y="77.00" font-size="5.9" text-anchor="end" fill="#444" dominant-baseline="central" transform="rotate(0.05 314.80 77.00)">1.0</text>
<line x1="317.80" y1="83.80" x2="319.40" y2="83.80" stroke="#666" stroke-width="0.4"/>
<text x="314.80" y="83.80" font-size="5.9" text-anchor="end" fill="#444" dominant-baseline="central" transform="rotate(0.05 314.80 83.80)">0</text>
<line x1="329.20" y1="62.50" x2="329.20" y2="68.50" stroke="#333" stroke-width="0.5" stroke-dasharray="0.8 0.45"/>
<rect x="327.20" y="66.90" width="4.00" height="1.20" fill="#ee7f79"/>
<line x1="346.30" y1="67.00" x2="346.30" y2="81.20" stroke="#333" stroke-width="0.5" stroke-dasharray="0.8 0.45"/>
<rect x="344.30" y="79.60" width="4.00" height="1.20" fill="#c8952c"/>
<polygon points="346.30,64.45 346.72,65.42 347.77,65.52 346.98,66.22 347.21,67.25 346.30,66.72 345.39,67.25 345.62,66.22 344.83,65.52 345.88,65.42" fill="#111"/>
<line x1="363.10" y1="69.60" x2="363.10" y2="81.90" stroke="#333" stroke-width="0.5" stroke-dasharray="0.8 0.45"/>
<circle cx="363.10" cy="80.90" r="1.60" fill="#4bae4a" fill-opacity="0.9"/>
<polygon points="363.10,67.05 363.52,68.02 364.57,68.12 363.78,68.82 364.01,69.85 363.10,69.32 362.19,69.85 362.42,68.82 361.63,68.12 362.68,68.02" fill="#111"/>
<line x1="380.60" y1="70.00" x2="380.60" y2="82.30" stroke="#333" stroke-width="0.5" stroke-dasharray="0.8 0.45"/>
<path d="M378.85,82.30 L382.35,82.30 L380.60,80.30 Z" fill="#30b29b"/>
<polygon points="380.60,67.45 381.02,68.42 382.07,68.52 381.28,69.22 381.51,70.25 380.60,69.72 379.69,70.25 379.92,69.22 379.13,68.52 380.18,68.42" fill="#111"/>
<line x1="398.10" y1="72.10" x2="398.10" y2="83.80" stroke="#333" stroke-width="0.5" stroke-dasharray="0.8 0.45"/>
<ellipse cx="398.10" cy="83.40" rx="1.50" ry="0.5" fill="#29a9e0"/>
<polygon points="398.10,69.55 398.52,70.52 399.57,70.62 398.78,71.32 399.01,72.35 398.10,71.82 397.19,72.35 397.42,71.32 396.63,70.62 397.68,70.52" fill="#111"/>
<line x1="415.20" y1="67.50" x2="415.20" y2="80.80" stroke="#333" stroke-width="0.5" stroke-dasharray="0.8 0.45"/>
<rect x="413.20" y="79.00" width="4.00" height="1.60" fill="#7f79c4"/>
<polygon points="415.20,64.95 415.62,65.92 416.67,66.02 415.88,66.72 416.11,67.75 415.20,67.22 414.29,67.75 414.52,66.72 413.73,66.02 414.78,65.92" fill="#111"/>
<line x1="432.50" y1="79.70" x2="432.50" y2="83.80" stroke="#333" stroke-width="0.5" stroke-dasharray="0.8 0.45"/>
<ellipse cx="432.50" cy="83.50" rx="6.00" ry="0.55" fill="#d660b4" fill-opacity="0.45"/>
<polygon points="432.50,77.15 432.92,78.12 433.97,78.22 433.18,78.92 433.41,79.95 432.50,79.42 431.59,79.95 431.82,78.92 431.03,78.22 432.08,78.12" fill="#111"/>
<text x="383.30" y="88.30" font-size="5.5" text-anchor="middle" fill="#444" dominant-baseline="central" font-style="italic" transform="rotate(0.05 383.30 88.30)">LAMA3</text>
<line x1="317.80" y1="90.80" x2="319.40" y2="90.80" stroke="#666" stroke-width="0.4"/>
<text x="314.80" y="90.80" font-size="5.9" text-anchor="end" fill="#444" dominant-baseline="central" transform="rotate(0.05 314.80 90.80)">2.0</text>
<line x1="317.80" y1="98.60" x2="319.40" y2="98.60" stroke="#666" stroke-width="0.4"/>
<text x="314.80" y="98.60" font-size="5.9" text-anchor="end" fill="#444" dominant-baseline="central" transform="rotate(0.05 314.80 98.60)">1.0</text>
<line x1="317.80" y1="106.30" x2="319.40" y2="106.30" stroke="#666" stroke-width="0.4"/>
<text x="314.80" y="106.30" font-size="5.9" text-anchor="end" fill="#444" dominant-baseline="central" transform="rotate(0.05 314.80 106.30)">0</text>
<line x1="329.20" y1="88.70" x2="329.20" y2="97.70" stroke="#333" stroke-width="0.5" stroke-dasharray="0.8 0.45"/>
<circle cx="329.20" cy="96.70" r="2.00" fill="#ee7f79" fill-opacity="0.9"/>
<line x1="346.30" y1="94.60" x2="346.30" y2="103.00" stroke="#333" stroke-width="0.5" stroke-dasharray="0.8 0.45"/>
<circle cx="346.30" cy="102.00" r="1.70" fill="#c8952c" fill-opacity="0.9"/>
<polygon points="346.30,92.05 346.72,93.02 347.77,93.12 346.98,93.82 347.21,94.85 346.30,94.32 345.39,94.85 345.62,93.82 344.83,93.12 345.88,93.02" fill="#111"/>
<line x1="363.10" y1="96.70" x2="363.10" y2="106.00" stroke="#333" stroke-width="0.5" stroke-dasharray="0.8 0.45"/>
<path d="M360.85,106.50 L365.35,106.50 L363.10,103.50 Z" fill="#4bae4a"/>
<polygon points="363.10,94.15 363.52,95.12 364.57,95.22 363.78,95.92 364.01,96.95 363.10,96.42 362.19,96.95 362.42,95.92 361.63,95.22 362.68,95.12" fill="#111"/>
<line x1="380.60" y1="93.90" x2="380.60" y2="103.90" stroke="#333" stroke-width="0.5" stroke-dasharray="0.8 0.45"/>
<path d="M378.35,104.40 L382.85,104.40 L380.60,101.40 Z" fill="#30b29b"/>
<polygon points="380.60,91.35 381.02,92.32 382.07,92.42 381.28,93.12 381.51,94.15 380.60,93.62 379.69,94.15 379.92,93.12 379.13,92.42 380.18,92.32" fill="#111"/>
<line x1="398.10" y1="99.20" x2="398.10" y2="106.30" stroke="#333" stroke-width="0.5" stroke-dasharray="0.8 0.45"/>
<ellipse cx="398.10" cy="106.00" rx="6.50" ry="0.5" fill="#29a9e0"/>
<polygon points="398.10,96.65 398.52,97.62 399.57,97.72 398.78,98.42 399.01,99.45 398.10,98.92 397.19,99.45 397.42,98.42 396.63,97.72 397.68,97.62" fill="#111"/>
<line x1="415.20" y1="95.40" x2="415.20" y2="103.90" stroke="#333" stroke-width="0.5" stroke-dasharray="0.8 0.45"/>
<path d="M413.20,104.40 L417.20,104.40 L415.20,101.40 Z" fill="#7f79c4"/>
<polygon points="415.20,92.85 415.62,93.82 416.67,93.92 415.88,94.62 416.11,95.65 415.20,95.12 414.29,95.65 414.52,94.62 413.73,93.92 414.78,93.82" fill="#111"/>
<line x1="432.50" y1="90.80" x2="432.50" y2="102.50" stroke="#333" stroke-width="0.5" stroke-dasharray="0.8 0.45"/>
<rect x="430.70" y="97.50" width="3.60" height="8.00" fill="#d660b4" stroke="#777" stroke-width="0.25" fill-opacity="0.85"/>
<polygon points="432.50,88.25 432.92,89.22 433.97,89.32 433.18,90.02 433.41,91.05 432.50,90.52 431.59,91.05 431.82,90.02 431.03,89.32 432.08,89.22" fill="#111"/>
<text x="383.30" y="112.00" font-size="5.5" text-anchor="middle" fill="#444" dominant-baseline="central" font-style="italic" transform="rotate(0.05 383.30 112.00)">LAMC2</text>
<line x1="317.80" y1="116.60" x2="319.40" y2="116.60" stroke="#666" stroke-width="0.4"/>
<text x="314.80" y="116.60" font-size="5.9" text-anchor="end" fill="#444" dominant-baseline="central" transform="rotate(0.05 314.80 116.60)">2.0</text>
<line x1="317.80" y1="123.40" x2="319.40" y2="123.40" stroke="#666" stroke-width="0.4"/>
<text x="314.80" y="123.40" font-size="5.9" text-anchor="end" fill="#444" dominant-baseline="central" transform="rotate(0.05 314.80 123.40)">1.0</text>
<line x1="317.80" y1="130.40" x2="319.40" y2="130.40" stroke="#666" stroke-width="0.4"/>
<text x="314.80" y="130.40" font-size="5.9" text-anchor="end" fill="#444" dominant-baseline="central" transform="rotate(0.05 314.80 130.40)">0</text>
<line x1="329.20" y1="111.20" x2="329.20" y2="120.20" stroke="#333" stroke-width="0.5" stroke-dasharray="0.8 0.45"/>
<circle cx="329.20" cy="119.20" r="1.80" fill="#ee7f79" fill-opacity="0.9"/>
<line x1="346.30" y1="117.00" x2="346.30" y2="130.40" stroke="#333" stroke-width="0.5" stroke-dasharray="0.8 0.45"/>
<circle cx="346.30" cy="129.80" r="1.60" fill="#c8952c" fill-opacity="0.9"/>
<polygon points="346.30,114.45 346.72,115.42 347.77,115.52 346.98,116.22 347.21,117.25 346.30,116.72 345.39,117.25 345.62,116.22 344.83,115.52 345.88,115.42" fill="#111"/>
<line x1="363.10" y1="117.20" x2="363.10" y2="128.90" stroke="#333" stroke-width="0.5" stroke-dasharray="0.8 0.45"/>
<rect x="361.35" y="127.10" width="3.50" height="1.60" fill="#4bae4a"/>
<polygon points="363.10,114.65 363.52,115.62 364.57,115.72 363.78,116.42 364.01,117.45 363.10,116.92 362.19,117.45 362.42,116.42 361.63,115.72 362.68,115.62" fill="#111"/>
<line x1="380.60" y1="118.00" x2="380.60" y2="128.70" stroke="#333" stroke-width="0.5" stroke-dasharray="0.8 0.45"/>
<circle cx="380.60" cy="127.70" r="1.70" fill="#30b29b" fill-opacity="0.9"/>
<polygon points="380.60,115.45 381.02,116.42 382.07,116.52 381.28,117.22 381.51,118.25 380.60,117.72 379.69,118.25 379.92,117.22 379.13,116.52 380.18,116.42" fill="#111"/>
<line x1="398.10" y1="119.10" x2="398.10" y2="130.40" stroke="#333" stroke-width="0.5" stroke-dasharray="0.8 0.45"/>
<circle cx="398.10" cy="130.60" r="1.10" fill="#29a9e0" fill-opacity="0.9"/>
<polygon points="398.10,116.55 398.52,117.52 399.57,117.62 398.78,118.32 399.01,119.35 398.10,118.82 397.19,119.35 397.42,118.32 396.63,117.62 397.68,117.52" fill="#111"/>
<line x1="415.20" y1="116.20" x2="415.20" y2="127.80" stroke="#333" stroke-width="0.5" stroke-dasharray="0.8 0.45"/>
<circle cx="415.20" cy="126.80" r="2.00" fill="#7f79c4" fill-opacity="0.9"/>
<polygon points="415.20,113.65 415.62,114.62 416.67,114.72 415.88,115.42 416.11,116.45 415.20,115.92 414.29,116.45 414.52,115.42 413.73,114.72 414.78,114.62" fill="#111"/>
<line x1="432.50" y1="124.60" x2="432.50" y2="130.40" stroke="#333" stroke-width="0.5" stroke-dasharray="0.8 0.45"/>
<ellipse cx="432.50" cy="130.00" rx="6.50" ry="0.55" fill="#d660b4" fill-opacity="0.45"/>
<polygon points="432.50,122.05 432.92,123.02 433.97,123.12 433.18,123.82 433.41,124.85 432.50,124.32 431.59,124.85 431.82,123.82 431.03,123.12 432.08,123.02" fill="#111"/>
<text x="383.30" y="136.80" font-size="5.5" text-anchor="middle" fill="#444" dominant-baseline="central" font-style="italic" transform="rotate(0.05 383.30 136.80)">MLPH</text>
<line x1="317.80" y1="135.70" x2="319.40" y2="135.70" stroke="#666" stroke-width="0.4"/>
<text x="314.80" y="135.70" font-size="5.9" text-anchor="end" fill="#444" dominant-baseline="central" transform="rotate(0.05 314.80 135.70)">1.5</text>
<line x1="317.80" y1="141.00" x2="319.40" y2="141.00" stroke="#666" stroke-width="0.4"/>
<text x="314.80" y="141.00" font-size="5.9" text-anchor="end" fill="#444" dominant-baseline="central" transform="rotate(0.05 314.80 141.00)">1.0</text>
<line x1="317.80" y1="147.30" x2="319.40" y2="147.30" stroke="#666" stroke-width="0.4"/>
<text x="314.80" y="147.30" font-size="5.9" text-anchor="end" fill="#444" dominant-baseline="central" transform="rotate(0.05 314.80 147.30)">0.5</text>
<line x1="317.80" y1="153.70" x2="319.40" y2="153.70" stroke="#666" stroke-width="0.4"/>
<text x="314.80" y="153.70" font-size="5.9" text-anchor="end" fill="#444" dominant-baseline="central" transform="rotate(0.05 314.80 153.70)">0</text>
<line x1="329.20" y1="135.00" x2="329.20" y2="144.70" stroke="#333" stroke-width="0.5" stroke-dasharray="0.8 0.45"/>
<circle cx="329.20" cy="143.70" r="1.80" fill="#ee7f79" fill-opacity="0.9"/>
<line x1="346.30" y1="142.40" x2="346.30" y2="153.10" stroke="#333" stroke-width="0.5" stroke-dasharray="0.8 0.45"/>
<rect x="344.50" y="149.50" width="3.60" height="5.20" fill="#c8952c" stroke="#777" stroke-width="0.25" fill-opacity="0.85"/>
<polygon points="346.30,139.85 346.72,140.82 347.77,140.92 346.98,141.62 347.21,142.65 346.30,142.12 345.39,142.65 345.62,141.62 344.83,140.92 345.88,140.82" fill="#111"/>
<line x1="363.10" y1="143.50" x2="363.10" y2="150.90" stroke="#333" stroke-width="0.5" stroke-dasharray="0.8 0.45"/>
<ellipse cx="363.10" cy="149.90" rx="5.50" ry="0.5" fill="#4bae4a"/>
<polygon points="363.10,140.95 363.52,141.92 364.57,142.02 363.78,142.72 364.01,143.75 363.10,143.22 362.19,143.75 362.42,142.72 361.63,142.02 362.68,141.92" fill="#111"/>
<line x1="380.60" y1="144.10" x2="380.60" y2="153.70" stroke="#333" stroke-width="0.5" stroke-dasharray="0.8 0.45"/>
<ellipse cx="380.60" cy="154.00" rx="7.00" ry="0.5" fill="#30b29b"/>
<polygon points="380.60,141.55 381.02,142.52 382.07,142.62 381.28,143.32 381.51,144.35 380.60,143.82 379.69,144.35 379.92,143.32 379.13,142.62 380.18,142.52" fill="#111"/>
<line x1="398.10" y1="147.30" x2="398.10" y2="153.70" stroke="#333" stroke-width="0.5" stroke-dasharray="0.8 0.45"/>
<ellipse cx="398.10" cy="154.00" rx="7.00" ry="0.5" fill="#29a9e0"/>
<polygon points="398.10,144.75 398.52,145.72 399.57,145.82 398.78,146.52 399.01,147.55 398.10,147.02 397.19,147.55 397.42,146.52 396.63,145.82 397.68,145.72" fill="#111"/>
<line x1="415.20" y1="141.60" x2="415.20" y2="153.70" stroke="#333" stroke-width="0.5" stroke-dasharray="0.8 0.45"/>
<ellipse cx="415.20" cy="154.00" rx="3.00" ry="0.5" fill="#7f79c4"/>
<polygon points="415.20,139.05 415.62,140.02 416.67,140.12 415.88,140.82 416.11,141.85 415.20,141.32 414.29,141.85 414.52,140.82 413.73,140.12 414.78,140.02" fill="#111"/>
<line x1="432.50" y1="146.90" x2="432.50" y2="153.70" stroke="#333" stroke-width="0.5" stroke-dasharray="0.8 0.45"/>
<ellipse cx="432.50" cy="154.00" rx="4.00" ry="0.5" fill="#d660b4"/>
<polygon points="432.50,144.35 432.92,145.32 433.97,145.42 433.18,146.12 433.41,147.15 432.50,146.62 431.59,147.15 431.82,146.12 431.03,145.42 432.08,145.32" fill="#111"/>
<text x="383.30" y="159.80" font-size="5.5" text-anchor="middle" fill="#444" dominant-baseline="central" font-style="italic" transform="rotate(0.05 383.30 159.80)">PRLR</text>
<line x1="317.80" y1="158.80" x2="319.40" y2="158.80" stroke="#666" stroke-width="0.4"/>
<text x="314.80" y="158.80" font-size="5.9" text-anchor="end" fill="#444" dominant-baseline="central" transform="rotate(0.05 314.80 158.80)">2.0</text>
<line x1="317.80" y1="168.30" x2="319.40" y2="168.30" stroke="#666" stroke-width="0.4"/>
<text x="314.80" y="168.30" font-size="5.9" text-anchor="end" fill="#444" dominant-baseline="central" transform="rotate(0.05 314.80 168.30)">1.0</text>
<line x1="317.80" y1="178.50" x2="319.40" y2="178.50" stroke="#666" stroke-width="0.4"/>
<text x="314.80" y="178.50" font-size="5.9" text-anchor="end" fill="#444" dominant-baseline="central" transform="rotate(0.05 314.80 178.50)">0</text>
<line x1="329.20" y1="158.00" x2="329.20" y2="168.20" stroke="#333" stroke-width="0.5" stroke-dasharray="0.8 0.45"/>
<circle cx="329.20" cy="167.20" r="1.70" fill="#ee7f79" fill-opacity="0.9"/>
<line x1="346.30" y1="166.80" x2="346.30" y2="178.40" stroke="#333" stroke-width="0.5" stroke-dasharray="0.8 0.45"/>
<path d="M344.05,178.65 L348.55,178.65 L346.30,176.15 Z" fill="#c8952c"/>
<polygon points="346.30,164.25 346.72,165.22 347.77,165.32 346.98,166.02 347.21,167.05 346.30,166.52 345.39,167.05 345.62,166.02 344.83,165.32 345.88,165.22" fill="#111"/>
<line x1="363.10" y1="165.00" x2="363.10" y2="174.80" stroke="#333" stroke-width="0.5" stroke-dasharray="0.8 0.45"/>
<circle cx="363.10" cy="173.80" r="1.80" fill="#4bae4a" fill-opacity="0.9"/>
<polygon points="363.10,162.45 363.52,163.42 364.57,163.52 363.78,164.22 364.01,165.25 363.10,164.72 362.19,165.25 362.42,164.22 361.63,163.52 362.68,163.42" fill="#111"/>
<line x1="380.60" y1="166.80" x2="380.60" y2="178.50" stroke="#333" stroke-width="0.5" stroke-dasharray="0.8 0.45"/>
<ellipse cx="380.60" cy="178.50" rx="7.00" ry="0.5" fill="#30b29b"/>
<polygon points="380.60,164.25 381.02,165.22 382.07,165.32 381.28,166.02 381.51,167.05 380.60,166.52 379.69,167.05 379.92,166.02 379.13,165.32 380.18,165.22" fill="#111"/>
<line x1="398.10" y1="166.10" x2="398.10" y2="177.80" stroke="#333" stroke-width="0.5" stroke-dasharray="0.8 0.45"/>
<rect x="395.80" y="175.05" width="4.60" height="3.50" fill="#29a9e0" stroke="#777" stroke-width="0.25" fill-opacity="0.85"/>
<polygon points="398.10,163.55 398.52,164.52 399.57,164.62 398.78,165.32 399.01,166.35 398.10,165.82 397.19,166.35 397.42,165.32 396.63,164.62 397.68,164.52" fill="#111"/>
<line x1="415.20" y1="159.40" x2="415.20" y2="172.50" stroke="#333" stroke-width="0.5" stroke-dasharray="0.8 0.45"/>
<rect x="413.20" y="169.00" width="4.00" height="5.00" fill="#7f79c4" stroke="#777" stroke-width="0.25" fill-opacity="0.85"/>
<polygon points="415.20,156.85 415.62,157.82 416.67,157.92 415.88,158.62 416.11,159.65 415.20,159.12 414.29,159.65 414.52,158.62 413.73,157.92 414.78,157.82" fill="#111"/>
<line x1="432.50" y1="163.00" x2="432.50" y2="172.00" stroke="#333" stroke-width="0.5" stroke-dasharray="0.8 0.45"/>
<path d="M430.25,172.25 L434.75,172.25 L432.50,169.75 Z" fill="#d660b4"/>
<polygon points="432.50,160.45 432.92,161.42 433.97,161.52 433.18,162.22 433.41,163.25 432.50,162.72 431.59,163.25 431.82,162.22 431.03,161.52 432.08,161.42" fill="#111"/>
<text x="383.30" y="184.80" font-size="5.5" text-anchor="middle" fill="#444" dominant-baseline="central" font-style="italic" transform="rotate(0.05 383.30 184.80)">SLC45A2</text>
<line x1="317.80" y1="188.40" x2="319.40" y2="188.40" stroke="#666" stroke-width="0.4"/>
<text x="314.80" y="188.40" font-size="5.9" text-anchor="end" fill="#444" dominant-baseline="central" transform="rotate(0.05 314.80 188.40)">1.0</text>
<line x1="317.80" y1="195.40" x2="319.40" y2="195.40" stroke="#666" stroke-width="0.4"/>
<text x="314.80" y="195.40" font-size="5.9" text-anchor="end" fill="#444" dominant-baseline="central" transform="rotate(0.05 314.80 195.40)">0.5</text>
<line x1="317.80" y1="202.20" x2="319.40" y2="202.20" stroke="#666" stroke-width="0.4"/>
<text x="314.80" y="202.20" font-size="5.9" text-anchor="end" fill="#444" dominant-baseline="central" transform="rotate(0.05 314.80 202.20)">0</text>
<line x1="329.20" y1="182.70" x2="329.20" y2="197.90" stroke="#333" stroke-width="0.5" stroke-dasharray="0.8 0.45"/>
<circle cx="329.20" cy="196.90" r="1.70" fill="#ee7f79" fill-opacity="0.9"/>
<line x1="346.30" y1="189.00" x2="346.30" y2="200.80" stroke="#333" stroke-width="0.5" stroke-dasharray="0.8 0.45"/>
<rect x="344.50" y="197.55" width="3.60" height="4.50" fill="#c8952c" stroke="#777" stroke-width="0.25" fill-opacity="0.85"/>
<polygon points="346.30,186.45 346.72,187.42 347.77,187.52 346.98,188.22 347.21,189.25 346.30,188.72 345.39,189.25 345.62,188.22 344.83,187.52 345.88,187.42" fill="#111"/>
<line x1="363.10" y1="189.00" x2="363.10" y2="200.80" stroke="#333" stroke-width="0.5" stroke-dasharray="0.8 0.45"/>
<rect x="361.30" y="197.55" width="3.60" height="4.50" fill="#4bae4a" stroke="#777" stroke-width="0.25" fill-opacity="0.85"/>
<polygon points="363.10,186.45 363.52,187.42 364.57,187.52 363.78,188.22 364.01,189.25 363.10,188.72 362.19,189.25 362.42,188.22 361.63,187.52 362.68,187.42" fill="#111"/>
<line x1="380.60" y1="191.10" x2="380.60" y2="202.20" stroke="#333" stroke-width="0.5" stroke-dasharray="0.8 0.45"/>
<ellipse cx="380.60" cy="202.00" rx="4.00" ry="0.5" fill="#30b29b"/>
<polygon points="380.60,188.55 381.02,189.52 382.07,189.62 381.28,190.32 381.51,191.35 380.60,190.82 379.69,191.35 379.92,190.32 379.13,189.62 380.18,189.52" fill="#111"/>
<line x1="398.10" y1="194.30" x2="398.10" y2="202.20" stroke="#333" stroke-width="0.5" stroke-dasharray="0.8 0.45"/>
<ellipse cx="398.10" cy="202.00" rx="7.00" ry="0.5" fill="#29a9e0"/>
<polygon points="398.10,191.75 398.52,192.72 399.57,192.82 398.78,193.52 399.01,194.55 398.10,194.02 397.19,194.55 397.42,193.52 396.63,192.82 397.68,192.72" fill="#111"/>
<line x1="415.20" y1="187.30" x2="415.20" y2="201.00" stroke="#333" stroke-width="0.5" stroke-dasharray="0.8 0.45"/>
<rect x="413.30" y="197.50" width="3.80" height="5.00" fill="#7f79c4" stroke="#777" stroke-width="0.25" fill-opacity="0.85"/>
<polygon points="415.20,184.75 415.62,185.72 416.67,185.82 415.88,186.52 416.11,187.55 415.20,187.02 414.29,187.55 414.52,186.52 413.73,185.82 414.78,185.72" fill="#111"/>
<line x1="432.50" y1="191.10" x2="432.50" y2="198.90" stroke="#333" stroke-width="0.5" stroke-dasharray="0.8 0.45"/>
<rect x="429.50" y="197.50" width="6.00" height="0.80" fill="#d660b4"/>
<polygon points="432.50,188.55 432.92,189.52 433.97,189.62 433.18,190.32 433.41,191.35 432.50,190.82 431.59,191.35 431.82,190.32 431.03,189.62 432.08,189.52" fill="#111"/>
<text x="383.30" y="207.50" font-size="5.5" text-anchor="middle" fill="#444" dominant-baseline="central" font-style="italic" transform="rotate(0.05 383.30 207.50)">TSR2</text>
<line x1="317.80" y1="210.00" x2="319.40" y2="210.00" stroke="#666" stroke-width="0.4"/>
<text x="314.80" y="210.00" font-size="5.9" text-anchor="end" fill="#444" dominant-baseline="central" transform="rotate(0.05 314.80 210.00)">1.0</text>
<line x1="317.80" y1="218.50" x2="319.40" y2="218.50" stroke="#666" stroke-width="0.4"/>
<text x="314.80" y="218.50" font-size="5.9" text-anchor="end" fill="#444" dominant-baseline="central" transform="rotate(0.05 314.80 218.50)">0.5</text>
<line x1="317.80" y1="226.20" x2="319.40" y2="226.20" stroke="#666" stroke-width="0.4"/>
<text x="314.80" y="226.20" font-size="5.9" text-anchor="end" fill="#444" dominant-baseline="central" transform="rotate(0.05 314.80 226.20)">0</text>
<line x1="329.20" y1="207.00" x2="329.20" y2="218.50" stroke="#333" stroke-width="0.5" stroke-dasharray="0.8 0.45"/>
<ellipse cx="329.20" cy="217.50" rx="4.00" ry="0.7" fill="#ee7f79" fill-opacity="0.6"/>
<circle cx="329.20" cy="217.50" r="1.40" fill="#ee7f79"/>
<line x1="346.30" y1="211.30" x2="346.30" y2="219.70" stroke="#333" stroke-width="0.5" stroke-dasharray="0.8 0.45"/>
<ellipse cx="346.30" cy="218.70" rx="7.00" ry="0.5" fill="#c8952c"/>
<polygon points="346.30,208.75 346.72,209.72 347.77,209.82 346.98,210.52 347.21,211.55 346.30,211.02 345.39,211.55 345.62,210.52 344.83,209.82 345.88,209.72" fill="#111"/>
<line x1="363.10" y1="208.50" x2="363.10" y2="219.70" stroke="#333" stroke-width="0.5" stroke-dasharray="0.8 0.45"/>
<ellipse cx="363.10" cy="218.70" rx="7.50" ry="0.5" fill="#4bae4a"/>
<polygon points="363.10,205.95 363.52,206.92 364.57,207.02 363.78,207.72 364.01,208.75 363.10,208.22 362.19,208.75 362.42,207.72 361.63,207.02 362.68,206.92" fill="#111"/>
<line x1="380.60" y1="212.30" x2="380.60" y2="222.70" stroke="#333" stroke-width="0.5" stroke-dasharray="0.8 0.45"/>
<ellipse cx="380.60" cy="221.70" rx="5.00" ry="0.5" fill="#30b29b"/>
<polygon points="380.60,209.75 381.02,210.72 382.07,210.82 381.28,211.52 381.51,212.55 380.60,212.02 379.69,212.55 379.92,211.52 379.13,210.82 380.18,210.72" fill="#111"/>
<line x1="398.10" y1="212.80" x2="398.10" y2="225.40" stroke="#333" stroke-width="0.5" stroke-dasharray="0.8 0.45"/>
<rect x="396.30" y="221.25" width="3.60" height="6.30" fill="#29a9e0" stroke="#777" stroke-width="0.25" fill-opacity="0.85"/>
<polygon points="398.10,210.25 398.52,211.22 399.57,211.32 398.78,212.02 399.01,213.05 398.10,212.52 397.19,213.05 397.42,212.02 396.63,211.32 397.68,211.22" fill="#111"/>
<line x1="415.20" y1="210.00" x2="415.20" y2="219.70" stroke="#333" stroke-width="0.5" stroke-dasharray="0.8 0.45"/>
<ellipse cx="415.20" cy="218.70" rx="7.00" ry="0.5" fill="#7f79c4"/>
<polygon points="415.20,207.45 415.62,208.42 416.67,208.52 415.88,209.22 416.11,210.25 415.20,209.72 414.29,210.25 414.52,209.22 413.73,208.52 414.78,208.42" fill="#111"/>
<line x1="432.50" y1="214.90" x2="432.50" y2="222.70" stroke="#333" stroke-width="0.5" stroke-dasharray="0.8 0.45"/>
<ellipse cx="432.50" cy="221.70" rx="6.00" ry="0.5" fill="#d660b4"/>
<polygon points="432.50,212.35 432.92,213.32 433.97,213.42 433.18,214.12 433.41,215.15 432.50,214.62 431.59,215.15 431.82,214.12 431.03,213.42 432.08,213.32" fill="#111"/>
<line x1="329.20" y1="229.30" x2="329.20" y2="231.20" stroke="#666" stroke-width="0.4"/>
<text x="331.80" y="232.60" font-size="7.0" text-anchor="end" fill="#222222" dominant-baseline="central" transform="rotate(-45 331.80 232.60)">Epithelial cells</text>
<line x1="346.30" y1="229.30" x2="346.30" y2="231.20" stroke="#666" stroke-width="0.4"/>
<text x="348.90" y="232.60" font-size="7.0" text-anchor="end" fill="#222222" dominant-baseline="central" transform="rotate(-45 348.90 232.60)">Endothelial cells</text>
<line x1="363.10" y1="229.30" x2="363.10" y2="231.20" stroke="#666" stroke-width="0.4"/>
<text x="365.70" y="232.60" font-size="7.0" text-anchor="end" fill="#222222" dominant-baseline="central" transform="rotate(-45 365.70 232.60)">Immune cells</text>
<line x1="380.60" y1="229.30" x2="380.60" y2="231.20" stroke="#666" stroke-width="0.4"/>
<text x="383.20" y="232.60" font-size="7.0" text-anchor="end" fill="#222222" dominant-baseline="central" transform="rotate(-45 383.20 232.60)">Muscle cells</text>
<line x1="398.10" y1="229.30" x2="398.10" y2="231.20" stroke="#666" stroke-width="0.4"/>
<text x="400.70" y="232.60" font-size="7.0" text-anchor="end" fill="#222222" dominant-baseline="central" transform="rotate(-45 400.70 232.60)">Germline cells</text>
<line x1="415.20" y1="229.30" x2="415.20" y2="231.20" stroke="#666" stroke-width="0.4"/>
<text x="417.80" y="232.60" font-size="7.0" text-anchor="end" fill="#222222" dominant-baseline="central" transform="rotate(-45 417.80 232.60)">Stromal cells</text>
<line x1="432.50" y1="229.30" x2="432.50" y2="231.20" stroke="#666" stroke-width="0.4"/>
<text x="435.10" y="232.60" font-size="7.0" text-anchor="end" fill="#222222" dominant-baseline="central" transform="rotate(-45 435.10 232.60)">Nerve cells</text>
<text x="381.80" y="277.70" font-size="7.5" text-anchor="middle" fill="#222222" dominant-baseline="central" transform="rotate(0.05 381.80 277.70)">Cell lineages</text>
<text x="293.50" y="122.00" font-size="6.6" text-anchor="middle" fill="#222222" dominant-baseline="central" transform="rotate(-90 293.50 122.00)">log<tspan font-size="4.2" dy="1.6">10</tspan><tspan dy="-1.6">(counts)</tspan></text>
<text x="473.80" y="124.00" font-size="6.2" text-anchor="middle" fill="#555" dominant-baseline="central" transform="rotate(-90 473.80 124.00)">Epithelial cells</text>
<polygon points="397.20,11.25 397.62,12.22 398.67,12.32 397.88,13.02 398.11,14.05 397.20,13.52 396.29,14.05 396.52,13.02 395.73,12.32 396.78,12.22" fill="#111"/>
<text x="400.60" y="11.40" font-size="7.0" text-anchor="start" fill="#333" dominant-baseline="central" transform="rotate(0.05 400.60 11.40)">P<tspan font-size="4.6" dy="2.2">Wilcoxon</tspan><tspan dy="-2.2"> &lt; 2.2 × 10</tspan><tspan font-size="4.4" dy="-2.4">−16</tspan></text>
<text x="470.80" y="9.60" font-size="13" font-weight="bold" fill="#000" transform="rotate(0.05 470.80 9.60)">d</text>
<line x1="582.30" y1="18.50" x2="582.30" y2="227.60" stroke="#444" stroke-width="0.6"/>
<line x1="582.30" y1="227.60" x2="644.50" y2="227.60" stroke="#444" stroke-width="0.6"/>
<line x1="580.80" y1="22.20" x2="582.30" y2="22.20" stroke="#444" stroke-width="0.4"/>
<text x="577.80" y="22.20" font-size="5.2" text-anchor="end" fill="#262626" dominant-baseline="central" transform="rotate(0.05 577.80 22.20)">Type B intercalated cells</text>
<line x1="580.80" y1="26.52" x2="582.30" y2="26.52" stroke="#444" stroke-width="0.4"/>
<text x="577.80" y="26.52" font-size="5.2" text-anchor="end" fill="#262626" dominant-baseline="central" transform="rotate(0.05 577.80 26.52)">Proximal tubule cells</text>
<line x1="580.80" y1="30.83" x2="582.30" y2="30.83" stroke="#444" stroke-width="0.4"/>
<text x="577.80" y="30.83" font-size="5.2" text-anchor="end" fill="#262626" dominant-baseline="central" transform="rotate(0.05 577.80 30.83)">Hepatocytes</text>
<line x1="580.80" y1="35.14" x2="582.30" y2="35.14" stroke="#444" stroke-width="0.4"/>
<text x="577.80" y="35.14" font-size="5.2" text-anchor="end" fill="#262626" dominant-baseline="central" transform="rotate(0.05 577.80 35.14)">Hepatoblasts</text>
<line x1="580.80" y1="39.46" x2="582.30" y2="39.46" stroke="#444" stroke-width="0.4"/>
<text x="577.80" y="39.46" font-size="5.2" text-anchor="end" fill="#262626" dominant-baseline="central" transform="rotate(0.05 577.80 39.46)">Cholangiocytes</text>
<line x1="580.80" y1="43.78" x2="582.30" y2="43.78" stroke="#444" stroke-width="0.4"/>
<text x="577.80" y="43.78" font-size="5.2" text-anchor="end" fill="#262626" dominant-baseline="central" transform="rotate(0.05 577.80 43.78)">Chromaffin cells</text>
<line x1="580.80" y1="48.09" x2="582.30" y2="48.09" stroke="#444" stroke-width="0.4"/>
<text x="577.80" y="48.09" font-size="5.2" text-anchor="end" fill="#262626" dominant-baseline="central" transform="rotate(0.05 577.80 48.09)">Adrenocortical cells</text>
<line x1="580.80" y1="52.41" x2="582.30" y2="52.41" stroke="#444" stroke-width="0.4"/>
<text x="577.80" y="52.41" font-size="5.2" text-anchor="end" fill="#262626" dominant-baseline="central" transform="rotate(0.05 577.80 52.41)">Zona fasciculata cells</text>
<line x1="580.80" y1="56.72" x2="582.30" y2="56.72" stroke="#444" stroke-width="0.4"/>
<text x="577.80" y="56.72" font-size="5.2" text-anchor="end" fill="#262626" dominant-baseline="central" transform="rotate(0.05 577.80 56.72)">ε cells</text>
<line x1="580.80" y1="61.03" x2="582.30" y2="61.03" stroke="#444" stroke-width="0.4"/>
<text x="577.80" y="61.03" font-size="5.2" text-anchor="end" fill="#262626" dominant-baseline="central" transform="rotate(0.05 577.80 61.03)">β cells</text>
<line x1="580.80" y1="65.35" x2="582.30" y2="65.35" stroke="#444" stroke-width="0.4"/>
<text x="577.80" y="65.35" font-size="5.2" text-anchor="end" fill="#262626" dominant-baseline="central" transform="rotate(0.05 577.80 65.35)">Granulosa cells</text>
<line x1="580.80" y1="69.67" x2="582.30" y2="69.67" stroke="#444" stroke-width="0.4"/>
<text x="577.80" y="69.67" font-size="5.2" text-anchor="end" fill="#262626" dominant-baseline="central" transform="rotate(0.05 577.80 69.67)">Proliferative UTCs</text>
<line x1="580.80" y1="73.98" x2="582.30" y2="73.98" stroke="#444" stroke-width="0.4"/>
<text x="577.80" y="73.98" font-size="5.2" text-anchor="end" fill="#262626" dominant-baseline="central" transform="rotate(0.05 577.80 73.98)">Binucleate trophoblast cells</text>
<line x1="580.80" y1="78.30" x2="582.30" y2="78.30" stroke="#444" stroke-width="0.4"/>
<text x="577.80" y="78.30" font-size="5.2" text-anchor="end" fill="#262626" dominant-baseline="central" transform="rotate(0.05 577.80 78.30)">Type A intercalated cells</text>
<line x1="580.80" y1="82.61" x2="582.30" y2="82.61" stroke="#444" stroke-width="0.4"/>
<text x="577.80" y="82.61" font-size="5.2" text-anchor="end" fill="#262626" dominant-baseline="central" transform="rotate(0.05 577.80 82.61)">Podocytes</text>
<line x1="580.80" y1="86.93" x2="582.30" y2="86.93" stroke="#444" stroke-width="0.4"/>
<text x="577.80" y="86.93" font-size="5.2" text-anchor="end" fill="#262626" dominant-baseline="central" transform="rotate(0.05 577.80 86.93)">Circulating epithelial cells</text>
<line x1="580.80" y1="91.24" x2="582.30" y2="91.24" stroke="#444" stroke-width="0.4"/>
<text x="577.80" y="91.24" font-size="5.2" text-anchor="end" fill="#262626" dominant-baseline="central" transform="rotate(0.05 577.80 91.24)">Luminal cells</text>
<line x1="580.80" y1="95.56" x2="582.30" y2="95.56" stroke="#444" stroke-width="0.4"/>
<text x="577.80" y="95.56" font-size="5.2" text-anchor="end" fill="#262626" dominant-baseline="central" transform="rotate(0.05 577.80 95.56)">Basal duct cells</text>
<line x1="580.80" y1="99.87" x2="582.30" y2="99.87" stroke="#444" stroke-width="0.4"/>
<text x="577.80" y="99.87" font-size="5.2" text-anchor="end" fill="#262626" dominant-baseline="central" transform="rotate(0.05 577.80 99.87)">Duct cells</text>
<line x1="580.80" y1="104.19" x2="582.30" y2="104.19" stroke="#444" stroke-width="0.4"/>
<text x="577.80" y="104.19" font-size="5.2" text-anchor="end" fill="#262626" dominant-baseline="central" transform="rotate(0.05 577.80 104.19)">Other epithelial cells</text>
<line x1="580.80" y1="108.50" x2="582.30" y2="108.50" stroke="#444" stroke-width="0.4"/>
<text x="577.80" y="108.50" font-size="5.2" text-anchor="end" fill="#262626" dominant-baseline="central" transform="rotate(0.05 577.80 108.50)">Club cells</text>
<line x1="580.80" y1="112.82" x2="582.30" y2="112.82" stroke="#444" stroke-width="0.4"/>
<text x="577.80" y="112.82" font-size="5.2" text-anchor="end" fill="#262626" dominant-baseline="central" transform="rotate(0.05 577.80 112.82)">UTCs</text>
<line x1="580.80" y1="117.13" x2="582.30" y2="117.13" stroke="#444" stroke-width="0.4"/>
<text x="577.80" y="117.13" font-size="5.2" text-anchor="end" fill="#262626" dominant-baseline="central" transform="rotate(0.05 577.80 117.13)">Epithelial stem cells</text>
<line x1="580.80" y1="121.45" x2="582.30" y2="121.45" stroke="#444" stroke-width="0.4"/>
<text x="577.80" y="121.45" font-size="5.2" text-anchor="end" fill="#262626" dominant-baseline="central" transform="rotate(0.05 577.80 121.45)">Intestinal stem cells</text>
<line x1="580.80" y1="125.76" x2="582.30" y2="125.76" stroke="#444" stroke-width="0.4"/>
<text x="577.80" y="125.76" font-size="5.2" text-anchor="end" fill="#262626" dominant-baseline="central" transform="rotate(0.05 577.80 125.76)">Distal convoluted tubule cells</text>
<line x1="580.80" y1="130.08" x2="582.30" y2="130.08" stroke="#444" stroke-width="0.4"/>
<text x="577.80" y="130.08" font-size="5.2" text-anchor="end" fill="#262626" dominant-baseline="central" transform="rotate(0.05 577.80 130.08)">Principal cells</text>
<line x1="580.80" y1="134.39" x2="582.30" y2="134.39" stroke="#444" stroke-width="0.4"/>
<text x="577.80" y="134.39" font-size="5.2" text-anchor="end" fill="#262626" dominant-baseline="central" transform="rotate(0.05 577.80 134.39)">GCs</text>
<line x1="580.80" y1="138.71" x2="582.30" y2="138.71" stroke="#444" stroke-width="0.4"/>
<text x="577.80" y="138.71" font-size="5.2" text-anchor="end" fill="#262626" dominant-baseline="central" transform="rotate(0.05 577.80 138.71)">Enterocytes</text>
<line x1="580.80" y1="143.02" x2="582.30" y2="143.02" stroke="#444" stroke-width="0.4"/>
<text x="577.80" y="143.02" font-size="5.2" text-anchor="end" fill="#262626" dominant-baseline="central" transform="rotate(0.05 577.80 143.02)">Thyroid follicular cells</text>
<line x1="580.80" y1="147.34" x2="582.30" y2="147.34" stroke="#444" stroke-width="0.4"/>
<text x="577.80" y="147.34" font-size="5.2" text-anchor="end" fill="#262626" dominant-baseline="central" transform="rotate(0.05 577.80 147.34)">Ciliated cells</text>
<line x1="580.80" y1="151.65" x2="582.30" y2="151.65" stroke="#444" stroke-width="0.4"/>
<text x="577.80" y="151.65" font-size="5.2" text-anchor="end" fill="#262626" dominant-baseline="central" transform="rotate(0.05 577.80 151.65)">Parietal cells</text>
<line x1="580.80" y1="155.97" x2="582.30" y2="155.97" stroke="#444" stroke-width="0.4"/>
<text x="577.80" y="155.97" font-size="5.2" text-anchor="end" fill="#262626" dominant-baseline="central" transform="rotate(0.05 577.80 155.97)">Chief cells</text>
<line x1="580.80" y1="160.28" x2="582.30" y2="160.28" stroke="#444" stroke-width="0.4"/>
<text x="577.80" y="160.28" font-size="5.2" text-anchor="end" fill="#262626" dominant-baseline="central" transform="rotate(0.05 577.80 160.28)">Alveolar epithelial type 2 cells</text>
<line x1="580.80" y1="164.59" x2="582.30" y2="164.59" stroke="#444" stroke-width="0.4"/>
<text x="577.80" y="164.59" font-size="5.2" text-anchor="end" fill="#262626" dominant-baseline="central" transform="rotate(0.05 577.80 164.59)">Acinar cells</text>
<line x1="580.80" y1="168.91" x2="582.30" y2="168.91" stroke="#444" stroke-width="0.4"/>
<text x="577.80" y="168.91" font-size="5.2" text-anchor="end" fill="#262626" dominant-baseline="central" transform="rotate(0.05 577.80 168.91)">Pit cells</text>
<line x1="580.80" y1="173.22" x2="582.30" y2="173.22" stroke="#444" stroke-width="0.4"/>
<text x="577.80" y="173.22" font-size="5.2" text-anchor="end" fill="#262626" dominant-baseline="central" transform="rotate(0.05 577.80 173.22)">Isthmus cells</text>
<line x1="580.80" y1="177.54" x2="582.30" y2="177.54" stroke="#444" stroke-width="0.4"/>
<text x="577.80" y="177.54" font-size="5.2" text-anchor="end" fill="#262626" dominant-baseline="central" transform="rotate(0.05 577.80 177.54)">Mucous neck cells</text>
<line x1="580.80" y1="181.85" x2="582.30" y2="181.85" stroke="#444" stroke-width="0.4"/>
<text x="577.80" y="181.85" font-size="5.2" text-anchor="end" fill="#262626" dominant-baseline="central" transform="rotate(0.05 577.80 181.85)">Alveolar epithelial type 1 cells</text>
<line x1="580.80" y1="186.17" x2="582.30" y2="186.17" stroke="#444" stroke-width="0.4"/>
<text x="577.80" y="186.17" font-size="5.2" text-anchor="end" fill="#262626" dominant-baseline="central" transform="rotate(0.05 577.80 186.17)">Melanocytes</text>
<line x1="580.80" y1="190.49" x2="582.30" y2="190.49" stroke="#444" stroke-width="0.4"/>
<text x="577.80" y="190.49" font-size="5.2" text-anchor="end" fill="#262626" dominant-baseline="central" transform="rotate(0.05 577.80 190.49)">Spinous cells</text>
<line x1="580.80" y1="194.80" x2="582.30" y2="194.80" stroke="#444" stroke-width="0.4"/>
<text x="577.80" y="194.80" font-size="5.2" text-anchor="end" fill="#262626" dominant-baseline="central" transform="rotate(0.05 577.80 194.80)">Keratinocytes</text>
<line x1="580.80" y1="199.12" x2="582.30" y2="199.12" stroke="#444" stroke-width="0.4"/>
<text x="577.80" y="199.12" font-size="5.2" text-anchor="end" fill="#262626" dominant-baseline="central" transform="rotate(0.05 577.80 199.12)">Basal cells</text>
<line x1="580.80" y1="203.43" x2="582.30" y2="203.43" stroke="#444" stroke-width="0.4"/>
<text x="577.80" y="203.43" font-size="5.2" text-anchor="end" fill="#262626" dominant-baseline="central" transform="rotate(0.05 577.80 203.43)">Proliferative spinous cells</text>
<line x1="580.80" y1="207.75" x2="582.30" y2="207.75" stroke="#444" stroke-width="0.4"/>
<text x="577.80" y="207.75" font-size="5.2" text-anchor="end" fill="#262626" dominant-baseline="central" transform="rotate(0.05 577.80 207.75)">Granular cells</text>
<line x1="580.80" y1="212.06" x2="582.30" y2="212.06" stroke="#444" stroke-width="0.4"/>
<text x="577.80" y="212.06" font-size="5.2" text-anchor="end" fill="#262626" dominant-baseline="central" transform="rotate(0.05 577.80 212.06)">Follicular cells</text>
<line x1="580.80" y1="216.38" x2="582.30" y2="216.38" stroke="#444" stroke-width="0.4"/>
<text x="577.80" y="216.38" font-size="5.2" text-anchor="end" fill="#262626" dominant-baseline="central" transform="rotate(0.05 577.80 216.38)">Sebocytes</text>
<line x1="580.80" y1="220.69" x2="582.30" y2="220.69" stroke="#444" stroke-width="0.4"/>
<text x="577.80" y="220.69" font-size="5.2" text-anchor="end" fill="#262626" dominant-baseline="central" transform="rotate(0.05 577.80 220.69)">Proliferative basal cells</text>
<line x1="580.80" y1="225.00" x2="582.30" y2="225.00" stroke="#444" stroke-width="0.4"/>
<text x="577.80" y="225.00" font-size="5.2" text-anchor="end" fill="#262626" dominant-baseline="central" transform="rotate(0.05 577.80 225.00)">Myoepithelial cells</text>
<circle cx="586.60" cy="22.20" r="0.50" fill="#30468c"/>
<circle cx="593.30" cy="22.20" r="0.85" fill="#30468c"/>
<circle cx="600.00" cy="22.20" r="1.20" fill="#2e6a98"/>
<circle cx="606.70" cy="22.20" r="1.65" fill="#2f8f8a"/>
<circle cx="613.40" cy="22.20" r="2.15" fill="#58bb6a"/>
<circle cx="620.10" cy="22.20" r="1.20" fill="#30468c"/>
<circle cx="626.80" cy="22.20" r="1.20" fill="#30468c"/>
<circle cx="633.50" cy="22.20" r="1.65" fill="#2e6a98"/>
<circle cx="640.20" cy="22.20" r="1.20" fill="#2f1c5e"/>
<circle cx="586.60" cy="26.52" r="0.50" fill="#30468c"/>
<circle cx="593.30" cy="26.52" r="0.85" fill="#30468c"/>
<circle cx="600.00" cy="26.52" r="1.20" fill="#2e6a98"/>
<circle cx="606.70" cy="26.52" r="1.65" fill="#58bb6a"/>
<circle cx="613.40" cy="26.52" r="2.15" fill="#58bb6a"/>
<circle cx="620.10" cy="26.52" r="1.20" fill="#30468c"/>
<circle cx="626.80" cy="26.52" r="0.85" fill="#30468c"/>
<circle cx="633.50" cy="26.52" r="1.65" fill="#30468c"/>
<circle cx="640.20" cy="26.52" r="1.65" fill="#30468c"/>
<circle cx="586.60" cy="30.83" r="0.85" fill="#30468c"/>
<circle cx="593.30" cy="30.83" r="1.20" fill="#2e6a98"/>
<circle cx="600.00" cy="30.83" r="1.65" fill="#2f8f8a"/>
<circle cx="606.70" cy="30.83" r="2.15" fill="#58bb6a"/>
<circle cx="613.40" cy="30.83" r="2.15" fill="#58bb6a"/>
<circle cx="620.10" cy="30.83" r="1.65" fill="#2e6a98"/>
<circle cx="626.80" cy="30.83" r="1.20" fill="#2e6a98"/>
<circle cx="633.50" cy="30.83" r="1.65" fill="#2e6a98"/>
<circle cx="640.20" cy="30.83" r="1.65" fill="#30468c"/>
<circle cx="586.60" cy="35.14" r="0.50" fill="#30468c"/>
<circle cx="593.30" cy="35.14" r="0.50" fill="#30468c"/>
<circle cx="600.00" cy="35.14" r="1.65" fill="#58bb6a"/>
<circle cx="606.70" cy="35.14" r="1.65" fill="#2f8f8a"/>
<circle cx="613.40" cy="35.14" r="2.15" fill="#2f8f8a"/>
<circle cx="620.10" cy="35.14" r="1.65" fill="#2f8f8a"/>
<circle cx="626.80" cy="35.14" r="0.50" fill="#30468c"/>
<circle cx="633.50" cy="35.14" r="2.15" fill="#2f8f8a"/>
<circle cx="640.20" cy="35.14" r="1.65" fill="#2f8f8a"/>
<circle cx="586.60" cy="39.46" r="1.20" fill="#2e6a98"/>
<circle cx="593.30" cy="39.46" r="1.65" fill="#58bb6a"/>
<circle cx="600.00" cy="39.46" r="1.65" fill="#2f8f8a"/>
<circle cx="606.70" cy="39.46" r="1.65" fill="#58bb6a"/>
<circle cx="613.40" cy="39.46" r="2.15" fill="#58bb6a"/>
<circle cx="620.10" cy="39.46" r="1.65" fill="#2f8f8a"/>
<circle cx="626.80" cy="39.46" r="1.65" fill="#2f8f8a"/>
<circle cx="633.50" cy="39.46" r="1.65" fill="#2e6a98"/>
<circle cx="640.20" cy="39.46" r="1.20" fill="#2f1c5e"/>
<circle cx="586.60" cy="43.78" r="0.85" fill="#30468c"/>
<circle cx="593.30" cy="43.78" r="0.85" fill="#30468c"/>
<circle cx="600.00" cy="43.78" r="0.50" fill="#30468c"/>
<circle cx="606.70" cy="43.78" r="1.20" fill="#30468c"/>
<circle cx="613.40" cy="43.78" r="2.15" fill="#2f8f8a"/>
<circle cx="620.10" cy="43.78" r="1.20" fill="#30468c"/>
<circle cx="626.80" cy="43.78" r="0.85" fill="#30468c"/>
<circle cx="633.50" cy="43.78" r="1.65" fill="#30468c"/>
<circle cx="640.20" cy="43.78" r="1.65" fill="#2f8f8a"/>
<circle cx="586.60" cy="48.09" r="0.50" fill="#30468c"/>
<circle cx="593.30" cy="48.09" r="0.50" fill="#30468c"/>
<circle cx="600.00" cy="48.09" r="0.50" fill="#30468c"/>
<circle cx="606.70" cy="48.09" r="1.20" fill="#30468c"/>
<circle cx="613.40" cy="48.09" r="2.15" fill="#2f8f8a"/>
<circle cx="620.10" cy="48.09" r="1.20" fill="#30468c"/>
<circle cx="626.80" cy="48.09" r="0.50" fill="#30468c"/>
<circle cx="633.50" cy="48.09" r="1.65" fill="#30468c"/>
<circle cx="640.20" cy="48.09" r="1.65" fill="#58bb6a"/>
<circle cx="586.60" cy="52.41" r="0.85" fill="#30468c"/>
<circle cx="593.30" cy="52.41" r="0.85" fill="#30468c"/>
<circle cx="600.00" cy="52.41" r="0.50" fill="#30468c"/>
<circle cx="606.70" cy="52.41" r="1.20" fill="#30468c"/>
<circle cx="613.40" cy="52.41" r="2.15" fill="#58bb6a"/>
<circle cx="620.10" cy="52.41" r="1.20" fill="#30468c"/>
<circle cx="626.80" cy="52.41" r="1.20" fill="#30468c"/>
<circle cx="633.50" cy="52.41" r="1.65" fill="#30468c"/>
<circle cx="640.20" cy="52.41" r="1.65" fill="#2f8f8a"/>
<circle cx="586.60" cy="56.72" r="0.50" fill="#30468c"/>
<circle cx="593.30" cy="56.72" r="0.85" fill="#30468c"/>
<circle cx="600.00" cy="56.72" r="0.50" fill="#30468c"/>
<circle cx="606.70" cy="56.72" r="1.20" fill="#30468c"/>
<circle cx="613.40" cy="56.72" r="1.65" fill="#2e6a98"/>
<circle cx="620.10" cy="56.72" r="1.20" fill="#30468c"/>
<circle cx="626.80" cy="56.72" r="1.20" fill="#30468c"/>
<circle cx="633.50" cy="56.72" r="1.65" fill="#30468c"/>
<circle cx="640.20" cy="56.72" r="1.65" fill="#2e6a98"/>
<circle cx="586.60" cy="61.03" r="0.50" fill="#30468c"/>
<circle cx="593.30" cy="61.03" r="0.85" fill="#30468c"/>
<circle cx="600.00" cy="61.03" r="0.50" fill="#30468c"/>
<circle cx="606.70" cy="61.03" r="1.20" fill="#30468c"/>
<circle cx="613.40" cy="61.03" r="2.15" fill="#58bb6a"/>
<circle cx="620.10" cy="61.03" r="0.50" fill="#30468c"/>
<circle cx="626.80" cy="61.03" r="1.65" fill="#30468c"/>
<circle cx="633.50" cy="61.03" r="1.65" fill="#2f1c5e"/>
<circle cx="640.20" cy="61.03" r="1.65" fill="#2f8f8a"/>
<circle cx="586.60" cy="65.35" r="0.85" fill="#30468c"/>
<circle cx="593.30" cy="65.35" r="0.85" fill="#30468c"/>
<circle cx="600.00" cy="65.35" r="0.85" fill="#30468c"/>
<circle cx="606.70" cy="65.35" r="0.85" fill="#30468c"/>
<circle cx="613.40" cy="65.35" r="1.65" fill="#2e6a98"/>
<circle cx="620.10" cy="65.35" r="1.20" fill="#30468c"/>
<circle cx="626.80" cy="65.35" r="0.85" fill="#30468c"/>
<circle cx="633.50" cy="65.35" r="0.85" fill="#2f1c5e"/>
<circle cx="640.20" cy="65.35" r="1.65" fill="#2f8f8a"/>
<circle cx="586.60" cy="69.67" r="0.85" fill="#30468c"/>
<circle cx="593.30" cy="69.67" r="0.50" fill="#30468c"/>
<circle cx="600.00" cy="69.67" r="0.50" fill="#30468c"/>
<circle cx="606.70" cy="69.67" r="1.65" fill="#2f8f8a"/>
<circle cx="613.40" cy="69.67" r="1.20" fill="#30468c"/>
<circle cx="620.10" cy="69.67" r="1.65" fill="#2e6a98"/>
<circle cx="626.80" cy="69.67" r="1.20" fill="#30468c"/>
<circle cx="633.50" cy="69.67" r="1.65" fill="#2e6a98"/>
<circle cx="640.20" cy="69.67" r="1.65" fill="#2e6a98"/>
<circle cx="586.60" cy="73.98" r="1.20" fill="#2e6a98"/>
<circle cx="593.30" cy="73.98" r="0.50" fill="#30468c"/>
<circle cx="600.00" cy="73.98" r="0.50" fill="#30468c"/>
<circle cx="606.70" cy="73.98" r="1.20" fill="#30468c"/>
<circle cx="613.40" cy="73.98" r="1.20" fill="#30468c"/>
<circle cx="620.10" cy="73.98" r="1.20" fill="#30468c"/>
<circle cx="626.80" cy="73.98" r="1.20" fill="#30468c"/>
<circle cx="633.50" cy="73.98" r="1.65" fill="#2e6a98"/>
<circle cx="640.20" cy="73.98" r="1.65" fill="#2e6a98"/>
<circle cx="586.60" cy="78.30" r="0.50" fill="#30468c"/>
<circle cx="593.30" cy="78.30" r="0.50" fill="#30468c"/>
<circle cx="600.00" cy="78.30" r="1.20" fill="#2e6a98"/>
<circle cx="606.70" cy="78.30" r="1.65" fill="#2f8f8a"/>
<circle cx="613.40" cy="78.30" r="1.20" fill="#30468c"/>
<circle cx="620.10" cy="78.30" r="0.50" fill="#30468c"/>
<circle cx="626.80" cy="78.30" r="1.20" fill="#30468c"/>
<circle cx="633.50" cy="78.30" r="1.65" fill="#2e6a98"/>
<circle cx="640.20" cy="78.30" r="1.65" fill="#58bb6a"/>
<circle cx="586.60" cy="82.61" r="0.85" fill="#30468c"/>
<circle cx="593.30" cy="82.61" r="0.85" fill="#30468c"/>
<circle cx="600.00" cy="82.61" r="0.50" fill="#30468c"/>
<circle cx="606.70" cy="82.61" r="0.50" fill="#30468c"/>
<circle cx="613.40" cy="82.61" r="0.85" fill="#30468c"/>
<circle cx="620.10" cy="82.61" r="0.50" fill="#30468c"/>
<circle cx="626.80" cy="82.61" r="0.50" fill="#30468c"/>
<circle cx="633.50" cy="82.61" r="1.65" fill="#30468c"/>
<circle cx="640.20" cy="82.61" r="1.65" fill="#8dc95a"/>
<circle cx="586.60" cy="86.93" r="0.50" fill="#30468c"/>
<circle cx="593.30" cy="86.93" r="0.50" fill="#30468c"/>
<circle cx="600.00" cy="86.93" r="0.50" fill="#30468c"/>
<circle cx="606.70" cy="86.93" r="0.50" fill="#30468c"/>
<circle cx="613.40" cy="86.93" r="0.50" fill="#30468c"/>
<circle cx="620.10" cy="86.93" r="0.50" fill="#30468c"/>
<circle cx="626.80" cy="86.93" r="0.50" fill="#30468c"/>
<circle cx="633.50" cy="86.93" r="1.65" fill="#2e6a98"/>
<circle cx="640.20" cy="86.93" r="1.65" fill="#2f8f8a"/>
<circle cx="586.60" cy="91.24" r="2.15" fill="#2f8f8a"/>
<circle cx="593.30" cy="91.24" r="1.65" fill="#2f8f8a"/>
<circle cx="600.00" cy="91.24" r="1.20" fill="#2e6a98"/>
<circle cx="606.70" cy="91.24" r="0.85" fill="#30468c"/>
<circle cx="613.40" cy="91.24" r="1.65" fill="#2f8f8a"/>
<circle cx="620.10" cy="91.24" r="1.20" fill="#2e6a98"/>
<circle cx="626.80" cy="91.24" r="1.65" fill="#2f8f8a"/>
<circle cx="633.50" cy="91.24" r="1.65" fill="#2e6a98"/>
<circle cx="640.20" cy="91.24" r="1.20" fill="#30468c"/>
<circle cx="586.60" cy="95.56" r="2.15" fill="#2f8f8a"/>
<circle cx="593.30" cy="95.56" r="1.65" fill="#58bb6a"/>
<circle cx="600.00" cy="95.56" r="0.50" fill="#30468c"/>
<circle cx="606.70" cy="95.56" r="0.50" fill="#30468c"/>
<circle cx="613.40" cy="95.56" r="1.65" fill="#2f8f8a"/>
<circle cx="620.10" cy="95.56" r="1.65" fill="#2f8f8a"/>
<circle cx="626.80" cy="95.56" r="1.65" fill="#2f8f8a"/>
<circle cx="633.50" cy="95.56" r="1.65" fill="#2f8f8a"/>
<circle cx="640.20" cy="95.56" r="1.20" fill="#2e6a98"/>
<circle cx="586.60" cy="99.87" r="1.65" fill="#2e6a98"/>
<circle cx="593.30" cy="99.87" r="1.65" fill="#58bb6a"/>
<circle cx="600.00" cy="99.87" r="0.50" fill="#30468c"/>
<circle cx="606.70" cy="99.87" r="1.20" fill="#2e6a98"/>
<circle cx="613.40" cy="99.87" r="1.65" fill="#2f8f8a"/>
<circle cx="620.10" cy="99.87" r="1.20" fill="#30468c"/>
<circle cx="626.80" cy="99.87" r="1.20" fill="#2e6a98"/>
<circle cx="633.50" cy="99.87" r="1.65" fill="#2e6a98"/>
<circle cx="640.20" cy="99.87" r="1.20" fill="#2e6a98"/>
<circle cx="586.60" cy="104.19" r="2.15" fill="#2f8f8a"/>
<circle cx="593.30" cy="104.19" r="1.65" fill="#2f8f8a"/>
<circle cx="600.00" cy="104.19" r="1.20" fill="#2e6a98"/>
<circle cx="606.70" cy="104.19" r="1.20" fill="#2e6a98"/>
<circle cx="613.40" cy="104.19" r="1.65" fill="#2e6a98"/>
<circle cx="620.10" cy="104.19" r="1.65" fill="#2f8f8a"/>
<circle cx="626.80" cy="104.19" r="1.65" fill="#2f8f8a"/>
<circle cx="633.50" cy="104.19" r="1.65" fill="#2f8f8a"/>
<circle cx="640.20" cy="104.19" r="1.65" fill="#2f8f8a"/>
<circle cx="586.60" cy="108.50" r="2.15" fill="#2f8f8a"/>
<circle cx="593.30" cy="108.50" r="1.65" fill="#2f8f8a"/>
<circle cx="600.00" cy="108.50" r="1.20" fill="#2e6a98"/>
<circle cx="606.70" cy="108.50" r="0.85" fill="#30468c"/>
<circle cx="613.40" cy="108.50" r="0.85" fill="#30468c"/>
<circle cx="620.10" cy="108.50" r="1.65" fill="#2e6a98"/>
<circle cx="626.80" cy="108.50" r="1.65" fill="#2e6a98"/>
<circle cx="633.50" cy="108.50" r="1.65" fill="#2e6a98"/>
<circle cx="640.20" cy="108.50" r="1.65" fill="#2e6a98"/>
<circle cx="586.60" cy="112.82" r="1.65" fill="#2e6a98"/>
<circle cx="593.30" cy="112.82" r="0.85" fill="#30468c"/>
<circle cx="600.00" cy="112.82" r="0.85" fill="#30468c"/>
<circle cx="606.70" cy="112.82" r="1.20" fill="#2f8f8a"/>
<circle cx="613.40" cy="112.82" r="1.20" fill="#30468c"/>
<circle cx="620.10" cy="112.82" r="1.65" fill="#58bb6a"/>
<circle cx="626.80" cy="112.82" r="1.65" fill="#2f8f8a"/>
<circle cx="633.50" cy="112.82" r="1.65" fill="#2f8f8a"/>
<circle cx="640.20" cy="112.82" r="1.20" fill="#30468c"/>
<circle cx="586.60" cy="117.13" r="1.65" fill="#2f8f8a"/>
<circle cx="593.30" cy="117.13" r="1.20" fill="#2e6a98"/>
<circle cx="600.00" cy="117.13" r="0.50" fill="#30468c"/>
<circle cx="606.70" cy="117.13" r="1.20" fill="#2e6a98"/>
<circle cx="613.40" cy="117.13" r="0.50" fill="#30468c"/>
<circle cx="620.10" cy="117.13" r="1.65" fill="#58bb6a"/>
<circle cx="626.80" cy="117.13" r="1.65" fill="#58bb6a"/>
<circle cx="633.50" cy="117.13" r="1.65" fill="#2e6a98"/>
<circle cx="640.20" cy="117.13" r="1.20" fill="#2e6a98"/>
<circle cx="586.60" cy="121.45" r="0.85" fill="#30468c"/>
<circle cx="593.30" cy="121.45" r="1.20" fill="#2e6a98"/>
<circle cx="600.00" cy="121.45" r="0.85" fill="#30468c"/>
<circle cx="606.70" cy="121.45" r="1.20" fill="#2e6a98"/>
<circle cx="613.40" cy="121.45" r="1.65" fill="#2f8f8a"/>
<circle cx="620.10" cy="121.45" r="0.85" fill="#30468c"/>
<circle cx="626.80" cy="121.45" r="1.65" fill="#2f8f8a"/>
<circle cx="633.50" cy="121.45" r="1.65" fill="#2e6a98"/>
<circle cx="640.20" cy="121.45" r="1.65" fill="#2f8f8a"/>
<circle cx="586.60" cy="125.76" r="0.50" fill="#30468c"/>
<circle cx="593.30" cy="125.76" r="1.20" fill="#2e6a98"/>
<circle cx="600.00" cy="125.76" r="0.50" fill="#30468c"/>
<circle cx="606.70" cy="125.76" r="1.20" fill="#2f8f8a"/>
<circle cx="613.40" cy="125.76" r="1.65" fill="#2f8f8a"/>
<circle cx="620.10" cy="125.76" r="1.20" fill="#30468c"/>
<circle cx="626.80" cy="125.76" r="1.65" fill="#2f8f8a"/>
<circle cx="633.50" cy="125.76" r="1.65" fill="#2e6a98"/>
<circle cx="640.20" cy="125.76" r="1.20" fill="#2f1c5e"/>
<circle cx="586.60" cy="130.08" r="0.50" fill="#30468c"/>
<circle cx="593.30" cy="130.08" r="1.65" fill="#2e6a98"/>
<circle cx="600.00" cy="130.08" r="1.20" fill="#2e6a98"/>
<circle cx="606.70" cy="130.08" r="1.65" fill="#58bb6a"/>
<circle cx="613.40" cy="130.08" r="1.65" fill="#2f8f8a"/>
<circle cx="620.10" cy="130.08" r="1.20" fill="#2e6a98"/>
<circle cx="626.80" cy="130.08" r="1.65" fill="#2f8f8a"/>
<circle cx="633.50" cy="130.08" r="1.65" fill="#2f8f8a"/>
<circle cx="640.20" cy="130.08" r="1.65" fill="#2f8f8a"/>
<circle cx="586.60" cy="134.39" r="0.50" fill="#30468c"/>
<circle cx="593.30" cy="134.39" r="1.65" fill="#58bb6a"/>
<circle cx="600.00" cy="134.39" r="0.85" fill="#30468c"/>
<circle cx="606.70" cy="134.39" r="1.20" fill="#2e6a98"/>
<circle cx="613.40" cy="134.39" r="1.65" fill="#2e6a98"/>
<circle cx="620.10" cy="134.39" r="1.20" fill="#2e6a98"/>
<circle cx="626.80" cy="134.39" r="1.65" fill="#58bb6a"/>
<circle cx="633.50" cy="134.39" r="1.65" fill="#2f8f8a"/>
<circle cx="640.20" cy="134.39" r="1.20" fill="#2e6a98"/>
<circle cx="586.60" cy="138.71" r="0.50" fill="#30468c"/>
<circle cx="593.30" cy="138.71" r="1.20" fill="#2e6a98"/>
<circle cx="600.00" cy="138.71" r="0.50" fill="#30468c"/>
<circle cx="606.70" cy="138.71" r="1.20" fill="#2e6a98"/>
<circle cx="613.40" cy="138.71" r="1.65" fill="#2f8f8a"/>
<circle cx="620.10" cy="138.71" r="1.20" fill="#2e6a98"/>
<circle cx="626.80" cy="138.71" r="1.65" fill="#58bb6a"/>
<circle cx="633.50" cy="138.71" r="1.65" fill="#2f8f8a"/>
<circle cx="640.20" cy="138.71" r="1.20" fill="#2e6a98"/>
<circle cx="586.60" cy="143.02" r="0.50" fill="#30468c"/>
<circle cx="593.30" cy="143.02" r="1.20" fill="#2e6a98"/>
<circle cx="600.00" cy="143.02" r="0.50" fill="#30468c"/>
<circle cx="606.70" cy="143.02" r="1.20" fill="#2e6a98"/>
<circle cx="613.40" cy="143.02" r="0.85" fill="#30468c"/>
<circle cx="620.10" cy="143.02" r="1.20" fill="#2e6a98"/>
<circle cx="626.80" cy="143.02" r="1.65" fill="#2f8f8a"/>
<circle cx="633.50" cy="143.02" r="1.65" fill="#2e6a98"/>
<circle cx="640.20" cy="143.02" r="1.65" fill="#58bb6a"/>
<circle cx="586.60" cy="147.34" r="1.20" fill="#2e6a98"/>
<circle cx="593.30" cy="147.34" r="1.20" fill="#2e6a98"/>
<circle cx="600.00" cy="147.34" r="1.20" fill="#2e6a98"/>
<circle cx="606.70" cy="147.34" r="1.20" fill="#2f8f8a"/>
<circle cx="613.40" cy="147.34" r="1.20" fill="#30468c"/>
<circle cx="620.10" cy="147.34" r="1.65" fill="#2f8f8a"/>
<circle cx="626.80" cy="147.34" r="1.65" fill="#2f8f8a"/>
<circle cx="633.50" cy="147.34" r="1.65" fill="#2f8f8a"/>
<circle cx="640.20" cy="147.34" r="1.65" fill="#58bb6a"/>
<circle cx="586.60" cy="151.65" r="0.85" fill="#30468c"/>
<circle cx="593.30" cy="151.65" r="1.65" fill="#58bb6a"/>
<circle cx="600.00" cy="151.65" r="0.50" fill="#30468c"/>
<circle cx="606.70" cy="151.65" r="1.20" fill="#30468c"/>
<circle cx="613.40" cy="151.65" r="1.65" fill="#2e6a98"/>
<circle cx="620.10" cy="151.65" r="1.20" fill="#30468c"/>
<circle cx="626.80" cy="151.65" r="1.20" fill="#2e6a98"/>
<circle cx="633.50" cy="151.65" r="1.65" fill="#2e6a98"/>
<circle cx="640.20" cy="151.65" r="1.65" fill="#2e6a98"/>
<circle cx="586.60" cy="155.97" r="0.85" fill="#30468c"/>
<circle cx="593.30" cy="155.97" r="1.65" fill="#2f8f8a"/>
<circle cx="600.00" cy="155.97" r="0.85" fill="#30468c"/>
<circle cx="606.70" cy="155.97" r="0.85" fill="#30468c"/>
<circle cx="613.40" cy="155.97" r="0.85" fill="#30468c"/>
<circle cx="620.10" cy="155.97" r="0.85" fill="#30468c"/>
<circle cx="626.80" cy="155.97" r="1.65" fill="#2e6a98"/>
<circle cx="633.50" cy="155.97" r="1.65" fill="#2e6a98"/>
<circle cx="640.20" cy="155.97" r="1.20" fill="#2f1c5e"/>
<circle cx="586.60" cy="160.28" r="1.20" fill="#2e6a98"/>
<circle cx="593.30" cy="160.28" r="1.65" fill="#58bb6a"/>
<circle cx="600.00" cy="160.28" r="1.20" fill="#2e6a98"/>
<circle cx="606.70" cy="160.28" r="1.20" fill="#2e6a98"/>
<circle cx="613.40" cy="160.28" r="0.85" fill="#30468c"/>
<circle cx="620.10" cy="160.28" r="1.20" fill="#2e6a98"/>
<circle cx="626.80" cy="160.28" r="1.20" fill="#2e6a98"/>
<circle cx="633.50" cy="160.28" r="1.65" fill="#2e6a98"/>
<circle cx="640.20" cy="160.28" r="1.65" fill="#2f8f8a"/>
<circle cx="586.60" cy="164.59" r="0.85" fill="#30468c"/>
<circle cx="593.30" cy="164.59" r="1.65" fill="#2f8f8a"/>
<circle cx="600.00" cy="164.59" r="0.50" fill="#30468c"/>
<circle cx="606.70" cy="164.59" r="1.20" fill="#30468c"/>
<circle cx="613.40" cy="164.59" r="1.65" fill="#2f8f8a"/>
<circle cx="620.10" cy="164.59" r="1.20" fill="#30468c"/>
<circle cx="626.80" cy="164.59" r="0.85" fill="#30468c"/>
<circle cx="633.50" cy="164.59" r="1.65" fill="#30468c"/>
<circle cx="640.20" cy="164.59" r="1.20" fill="#2e6a98"/>
<circle cx="586.60" cy="168.91" r="1.65" fill="#2f8f8a"/>
<circle cx="593.30" cy="168.91" r="2.15" fill="#8dc95a"/>
<circle cx="600.00" cy="168.91" r="0.85" fill="#30468c"/>
<circle cx="606.70" cy="168.91" r="1.20" fill="#2e6a98"/>
<circle cx="613.40" cy="168.91" r="0.85" fill="#30468c"/>
<circle cx="620.10" cy="168.91" r="1.65" fill="#2f8f8a"/>
<circle cx="626.80" cy="168.91" r="1.65" fill="#2f8f8a"/>
<circle cx="633.50" cy="168.91" r="1.65" fill="#58bb6a"/>
<circle cx="640.20" cy="168.91" r="1.65" fill="#2e6a98"/>
<circle cx="586.60" cy="173.22" r="1.65" fill="#2f8f8a"/>
<circle cx="593.30" cy="173.22" r="1.65" fill="#58bb6a"/>
<circle cx="600.00" cy="173.22" r="0.50" fill="#30468c"/>
<circle cx="606.70" cy="173.22" r="1.20" fill="#2e6a98"/>
<circle cx="613.40" cy="173.22" r="0.50" fill="#30468c"/>
<circle cx="620.10" cy="173.22" r="1.65" fill="#2f8f8a"/>
<circle cx="626.80" cy="173.22" r="1.65" fill="#2f8f8a"/>
<circle cx="633.50" cy="173.22" r="1.65" fill="#2f8f8a"/>
<circle cx="640.20" cy="173.22" r="1.65" fill="#2e6a98"/>
<circle cx="586.60" cy="177.54" r="0.85" fill="#30468c"/>
<circle cx="593.30" cy="177.54" r="2.15" fill="#58bb6a"/>
<circle cx="600.00" cy="177.54" r="0.85" fill="#30468c"/>
<circle cx="606.70" cy="177.54" r="1.20" fill="#2e6a98"/>
<circle cx="613.40" cy="177.54" r="0.85" fill="#30468c"/>
<circle cx="620.10" cy="177.54" r="1.65" fill="#2f8f8a"/>
<circle cx="626.80" cy="177.54" r="1.65" fill="#58bb6a"/>
<circle cx="633.50" cy="177.54" r="1.65" fill="#2f8f8a"/>
<circle cx="640.20" cy="177.54" r="1.65" fill="#2e6a98"/>
<circle cx="586.60" cy="181.85" r="1.20" fill="#2e6a98"/>
<circle cx="593.30" cy="181.85" r="1.65" fill="#2f8f8a"/>
<circle cx="600.00" cy="181.85" r="0.50" fill="#30468c"/>
<circle cx="606.70" cy="181.85" r="0.85" fill="#30468c"/>
<circle cx="613.40" cy="181.85" r="0.50" fill="#30468c"/>
<circle cx="620.10" cy="181.85" r="1.65" fill="#58bb6a"/>
<circle cx="626.80" cy="181.85" r="1.65" fill="#2f8f8a"/>
<circle cx="633.50" cy="181.85" r="1.65" fill="#2f8f8a"/>
<circle cx="640.20" cy="181.85" r="1.65" fill="#2f8f8a"/>
<circle cx="586.60" cy="186.17" r="1.65" fill="#2f8f8a"/>
<circle cx="593.30" cy="186.17" r="1.65" fill="#58bb6a"/>
<circle cx="600.00" cy="186.17" r="1.20" fill="#2f8f8a"/>
<circle cx="606.70" cy="186.17" r="2.15" fill="#f2b63c"/>
<circle cx="613.40" cy="186.17" r="1.65" fill="#2e6a98"/>
<circle cx="620.10" cy="186.17" r="1.20" fill="#30468c"/>
<circle cx="626.80" cy="186.17" r="0.85" fill="#30468c"/>
<circle cx="633.50" cy="186.17" r="0.85" fill="#2f1c5e"/>
<circle cx="640.20" cy="186.17" r="1.65" fill="#2f8f8a"/>
<circle cx="586.60" cy="190.49" r="2.15" fill="#58bb6a"/>
<circle cx="593.30" cy="190.49" r="1.20" fill="#30468c"/>
<circle cx="600.00" cy="190.49" r="1.65" fill="#58bb6a"/>
<circle cx="606.70" cy="190.49" r="0.85" fill="#30468c"/>
<circle cx="613.40" cy="190.49" r="1.65" fill="#2f8f8a"/>
<circle cx="620.10" cy="190.49" r="1.65" fill="#2f8f8a"/>
<circle cx="626.80" cy="190.49" r="1.65" fill="#2f8f8a"/>
<circle cx="633.50" cy="190.49" r="1.65" fill="#58bb6a"/>
<circle cx="640.20" cy="190.49" r="1.65" fill="#2e6a98"/>
<circle cx="586.60" cy="194.80" r="2.15" fill="#58bb6a"/>
<circle cx="593.30" cy="194.80" r="1.20" fill="#2e6a98"/>
<circle cx="600.00" cy="194.80" r="1.65" fill="#8dc95a"/>
<circle cx="606.70" cy="194.80" r="0.85" fill="#30468c"/>
<circle cx="613.40" cy="194.80" r="1.65" fill="#2f8f8a"/>
<circle cx="620.10" cy="194.80" r="1.65" fill="#2f8f8a"/>
<circle cx="626.80" cy="194.80" r="1.65" fill="#2f8f8a"/>
<circle cx="633.50" cy="194.80" r="1.65" fill="#2f8f8a"/>
<circle cx="640.20" cy="194.80" r="1.65" fill="#2e6a98"/>
<circle cx="586.60" cy="199.12" r="2.15" fill="#58bb6a"/>
<circle cx="593.30" cy="199.12" r="1.20" fill="#2e6a98"/>
<circle cx="600.00" cy="199.12" r="1.65" fill="#2f8f8a"/>
<circle cx="606.70" cy="199.12" r="0.85" fill="#30468c"/>
<circle cx="613.40" cy="199.12" r="1.65" fill="#2f8f8a"/>
<circle cx="620.10" cy="199.12" r="1.65" fill="#58bb6a"/>
<circle cx="626.80" cy="199.12" r="1.65" fill="#2f8f8a"/>
<circle cx="633.50" cy="199.12" r="1.65" fill="#2f8f8a"/>
<circle cx="640.20" cy="199.12" r="1.65" fill="#2e6a98"/>
<circle cx="586.60" cy="203.43" r="2.15" fill="#58bb6a"/>
<circle cx="593.30" cy="203.43" r="0.85" fill="#30468c"/>
<circle cx="600.00" cy="203.43" r="1.65" fill="#58bb6a"/>
<circle cx="606.70" cy="203.43" r="0.85" fill="#30468c"/>
<circle cx="613.40" cy="203.43" r="1.65" fill="#2f8f8a"/>
<circle cx="620.10" cy="203.43" r="1.65" fill="#58bb6a"/>
<circle cx="626.80" cy="203.43" r="1.65" fill="#2f8f8a"/>
<circle cx="633.50" cy="203.43" r="1.65" fill="#58bb6a"/>
<circle cx="640.20" cy="203.43" r="1.65" fill="#2e6a98"/>
<circle cx="586.60" cy="207.75" r="2.15" fill="#58bb6a"/>
<circle cx="593.30" cy="207.75" r="0.85" fill="#30468c"/>
<circle cx="600.00" cy="207.75" r="1.65" fill="#8dc95a"/>
<circle cx="606.70" cy="207.75" r="0.85" fill="#30468c"/>
<circle cx="613.40" cy="207.75" r="1.65" fill="#2f8f8a"/>
<circle cx="620.10" cy="207.75" r="1.65" fill="#58bb6a"/>
<circle cx="626.80" cy="207.75" r="1.65" fill="#58bb6a"/>
<circle cx="633.50" cy="207.75" r="1.65" fill="#58bb6a"/>
<circle cx="640.20" cy="207.75" r="1.65" fill="#2e6a98"/>
<circle cx="586.60" cy="212.06" r="2.15" fill="#58bb6a"/>
<circle cx="593.30" cy="212.06" r="1.20" fill="#30468c"/>
<circle cx="600.00" cy="212.06" r="1.65" fill="#58bb6a"/>
<circle cx="606.70" cy="212.06" r="0.85" fill="#30468c"/>
<circle cx="613.40" cy="212.06" r="1.65" fill="#2f8f8a"/>
<circle cx="620.10" cy="212.06" r="1.65" fill="#58bb6a"/>
<circle cx="626.80" cy="212.06" r="1.65" fill="#2f8f8a"/>
<circle cx="633.50" cy="212.06" r="1.65" fill="#58bb6a"/>
<circle cx="640.20" cy="212.06" r="1.65" fill="#2e6a98"/>
<circle cx="586.60" cy="216.38" r="2.15" fill="#2f8f8a"/>
<circle cx="593.30" cy="216.38" r="0.50" fill="#30468c"/>
<circle cx="600.00" cy="216.38" r="1.20" fill="#2f8f8a"/>
<circle cx="606.70" cy="216.38" r="1.20" fill="#2f8f8a"/>
<circle cx="613.40" cy="216.38" r="1.65" fill="#58bb6a"/>
<circle cx="620.10" cy="216.38" r="1.65" fill="#58bb6a"/>
<circle cx="626.80" cy="216.38" r="1.65" fill="#2f8f8a"/>
<circle cx="633.50" cy="216.38" r="1.65" fill="#2f8f8a"/>
<circle cx="640.20" cy="216.38" r="1.65" fill="#2e6a98"/>
<circle cx="586.60" cy="220.69" r="2.15" fill="#58bb6a"/>
<circle cx="593.30" cy="220.69" r="0.85" fill="#30468c"/>
<circle cx="600.00" cy="220.69" r="0.85" fill="#30468c"/>
<circle cx="606.70" cy="220.69" r="0.85" fill="#30468c"/>
<circle cx="613.40" cy="220.69" r="1.65" fill="#2e6a98"/>
<circle cx="620.10" cy="220.69" r="1.65" fill="#2f8f8a"/>
<circle cx="626.80" cy="220.69" r="1.65" fill="#2f8f8a"/>
<circle cx="633.50" cy="220.69" r="1.65" fill="#2f8f8a"/>
<circle cx="640.20" cy="220.69" r="1.65" fill="#2e6a98"/>
<circle cx="586.60" cy="225.00" r="2.15" fill="#2f8f8a"/>
<circle cx="593.30" cy="225.00" r="0.85" fill="#30468c"/>
<circle cx="600.00" cy="225.00" r="0.50" fill="#30468c"/>
<circle cx="606.70" cy="225.00" r="1.20" fill="#2e6a98"/>
<circle cx="613.40" cy="225.00" r="1.65" fill="#2e6a98"/>
<circle cx="620.10" cy="225.00" r="1.65" fill="#58bb6a"/>
<circle cx="626.80" cy="225.00" r="1.65" fill="#2f8f8a"/>
<circle cx="633.50" cy="225.00" r="1.65" fill="#2e6a98"/>
<circle cx="640.20" cy="225.00" r="1.65" fill="#58bb6a"/>
<line x1="586.60" y1="227.60" x2="586.60" y2="229.40" stroke="#444" stroke-width="0.45"/>
<text x="587.90" y="232.60" font-size="5.7" text-anchor="end" fill="#111" dominant-baseline="central" textLength="21.4" lengthAdjust="spacingAndGlyphs" transform="rotate(-45 587.90 232.60)"><tspan font-style="italic">KRT5</tspan> (EB)</text>
<line x1="593.30" y1="227.60" x2="593.30" y2="229.40" stroke="#444" stroke-width="0.45"/>
<text x="594.60" y="232.60" font-size="5.7" text-anchor="end" fill="#111" dominant-baseline="central" textLength="23.0" lengthAdjust="spacingAndGlyphs" transform="rotate(-45 594.60 232.60)"><tspan font-style="italic">MLPH</tspan> (GS)</text>
<line x1="600.00" y1="227.60" x2="600.00" y2="229.40" stroke="#444" stroke-width="0.45"/>
<text x="601.30" y="232.60" font-size="5.7" text-anchor="end" fill="#111" dominant-baseline="central" textLength="25.2" lengthAdjust="spacingAndGlyphs" transform="rotate(-45 601.30 232.60)"><tspan font-style="italic">ABCA12</tspan> (IT)</text>
<line x1="606.70" y1="227.60" x2="606.70" y2="229.40" stroke="#444" stroke-width="0.45"/>
<text x="608.00" y="232.60" font-size="5.7" text-anchor="end" fill="#111" dominant-baseline="central" textLength="32.9" lengthAdjust="spacingAndGlyphs" transform="rotate(-45 608.00 232.60)"><tspan font-style="italic">SLC45A2</tspan> (OCA)</text>
<line x1="613.40" y1="227.60" x2="613.40" y2="229.40" stroke="#444" stroke-width="0.45"/>
<text x="614.70" y="232.60" font-size="5.7" text-anchor="end" fill="#111" dominant-baseline="central" textLength="22.2" lengthAdjust="spacingAndGlyphs" transform="rotate(-45 614.70 232.60)"><tspan font-style="italic">PRLR</tspan> (HS)</text>
<line x1="620.10" y1="227.60" x2="620.10" y2="229.40" stroke="#444" stroke-width="0.45"/>
<text x="621.40" y="232.60" font-size="5.7" text-anchor="end" fill="#111" dominant-baseline="central" textLength="24.7" lengthAdjust="spacingAndGlyphs" transform="rotate(-45 621.40 232.60)"><tspan font-style="italic">LAMA3</tspan> (EB)</text>
<line x1="626.80" y1="227.60" x2="626.80" y2="229.40" stroke="#444" stroke-width="0.45"/>
<text x="628.10" y="232.60" font-size="5.7" text-anchor="end" fill="#111" dominant-baseline="central" textLength="25.0" lengthAdjust="spacingAndGlyphs" transform="rotate(-45 628.10 232.60)"><tspan font-style="italic">LAMC2</tspan> (EB)</text>
<line x1="633.50" y1="227.60" x2="633.50" y2="229.40" stroke="#444" stroke-width="0.45"/>
<text x="634.80" y="232.60" font-size="5.7" text-anchor="end" fill="#111" dominant-baseline="central" textLength="18.9" lengthAdjust="spacingAndGlyphs" transform="rotate(-45 634.80 232.60)"><tspan font-style="italic">DSP</tspan> (ST)</text>
<line x1="640.20" y1="227.60" x2="640.20" y2="229.40" stroke="#444" stroke-width="0.45"/>
<text x="641.50" y="232.60" font-size="5.7" text-anchor="end" fill="#111" dominant-baseline="central" textLength="21.5" lengthAdjust="spacingAndGlyphs" transform="rotate(-45 641.50 232.60)"><tspan font-style="italic">TSR2</tspan> (HT)</text>
<text x="613.30" y="264.50" font-size="6.0" text-anchor="middle" fill="#333" dominant-baseline="central" transform="rotate(0.05 613.30 264.50)">Skin-disorder-related genes</text>
<text x="649.60" y="84.30" font-size="7.4" text-anchor="start" fill="#222222" dominant-baseline="central" transform="rotate(0.05 649.60 84.30)">log<tspan font-size="4.6" dy="1.8">10</tspan><tspan dy="-1.8">(CPM)</tspan></text>
<circle cx="652.80" cy="94.20" r="0.60" fill="#111"/>
<text x="657.00" y="94.20" font-size="6.9" text-anchor="start" fill="#222222" dominant-baseline="central" transform="rotate(0.05 657.00 94.20)">0</text>
<circle cx="652.80" cy="100.50" r="1.35" fill="#111"/>
<text x="657.00" y="100.50" font-size="6.9" text-anchor="start" fill="#222222" dominant-baseline="central" transform="rotate(0.05 657.00 100.50)">1</text>
<circle cx="652.80" cy="107.80" r="1.75" fill="#111"/>
<text x="657.00" y="107.80" font-size="6.9" text-anchor="start" fill="#222222" dominant-baseline="central" transform="rotate(0.05 657.00 107.80)">2</text>
<circle cx="652.80" cy="114.80" r="2.10" fill="#111"/>
<text x="657.00" y="114.80" font-size="6.9" text-anchor="start" fill="#222222" dominant-baseline="central" transform="rotate(0.05 657.00 114.80)">3</text>
<circle cx="652.80" cy="122.00" r="2.45" fill="#111"/>
<text x="657.00" y="122.00" font-size="6.9" text-anchor="start" fill="#222222" dominant-baseline="central" transform="rotate(0.05 657.00 122.00)">4</text>
<text x="647.80" y="132.40" font-size="7.0" text-anchor="start" fill="#222222" dominant-baseline="central" transform="rotate(0.05 647.80 132.40)"><tspan font-style="italic">z</tspan>-score</text>
<defs><linearGradient id="vir" x1="0" y1="1" x2="0" y2="0"><stop offset="0" stop-color="#2e1c5c"/><stop offset="0.25" stop-color="#30468c"/><stop offset="0.45" stop-color="#2e6a98"/><stop offset="0.62" stop-color="#2f8f8a"/><stop offset="0.78" stop-color="#55b56e"/><stop offset="0.9" stop-color="#8dc95a"/><stop offset="1" stop-color="#f2b63c"/></linearGradient></defs>
<rect x="648.00" y="140.40" width="6.70" height="33.20" fill="url(#vir)"/>
<line x1="648.00" y1="139.90" x2="649.30" y2="139.90" stroke="#fff" stroke-width="0.4"/>
<line x1="653.40" y1="139.90" x2="654.70" y2="139.90" stroke="#fff" stroke-width="0.4"/>
<text x="656.80" y="139.90" font-size="6.8" text-anchor="start" fill="#222222" dominant-baseline="central" transform="rotate(0.05 656.80 139.90)">1.0</text>
<line x1="648.00" y1="149.70" x2="649.30" y2="149.70" stroke="#fff" stroke-width="0.4"/>
<line x1="653.40" y1="149.70" x2="654.70" y2="149.70" stroke="#fff" stroke-width="0.4"/>
<text x="656.80" y="149.70" font-size="6.8" text-anchor="start" fill="#222222" dominant-baseline="central" transform="rotate(0.05 656.80 149.70)">0.8</text>
<line x1="648.00" y1="159.60" x2="649.30" y2="159.60" stroke="#fff" stroke-width="0.4"/>
<line x1="653.40" y1="159.60" x2="654.70" y2="159.60" stroke="#fff" stroke-width="0.4"/>
<text x="656.80" y="159.60" font-size="6.8" text-anchor="start" fill="#222222" dominant-baseline="central" transform="rotate(0.05 656.80 159.60)">0.6</text>
<line x1="648.00" y1="169.00" x2="649.30" y2="169.00" stroke="#fff" stroke-width="0.4"/>
<line x1="653.40" y1="169.00" x2="654.70" y2="169.00" stroke="#fff" stroke-width="0.4"/>
<text x="656.80" y="169.00" font-size="6.8" text-anchor="start" fill="#222222" dominant-baseline="central" transform="rotate(0.05 656.80 169.00)">0.4</text>
<text x="-0.20" y="313.30" font-size="13" font-weight="bold" fill="#000" transform="rotate(0.05 -0.20 313.30)">e</text>
<text x="118.20" y="334.60" font-size="7.2" text-anchor="middle" fill="#222222" dominant-baseline="central" transform="rotate(0.05 118.20 334.60)">Ligand</text>
<text x="172.00" y="334.60" font-size="7.2" text-anchor="middle" fill="#222222" dominant-baseline="central" transform="rotate(0.05 172.00 334.60)">Receptor</text>
<text x="72.70" y="384.80" font-size="5.0" text-anchor="end" fill="#222222" dominant-baseline="central" transform="rotate(0.05 72.70 384.80)">UTCs</text>
<circle cx="79.30" cy="384.80" r="3.30" fill="#fff" stroke="#f0473c" stroke-width="0.6"/><circle cx="79.30" cy="384.80" r="1.98" fill="#fff200"/>
<line x1="84.40" y1="384.80" x2="92.00" y2="384.80" stroke="#9a9a9a" stroke-width="0.6"/>
<rect x="102.60" y="382.00" width="5.80" height="5.80" fill="#8c8c8c" stroke="#555" stroke-width="0.4"/>
<text x="105.30" y="371.30" font-size="5.0" text-anchor="middle" fill="#222222" dominant-baseline="central" transform="rotate(0.05 105.30 371.30)">Laminin family genes</text>
<text x="105.30" y="377.20" font-size="5.0" text-anchor="middle" fill="#222222" dominant-baseline="central" font-weight="bold" transform="rotate(0.05 105.30 377.20)"><tspan font-style="italic">(LAMA3)</tspan> EB</text>
<line x1="124.70" y1="385.00" x2="140.70" y2="356.50" stroke="#333" stroke-width="0.55" stroke-dasharray="0.9 0.8"/>
<line x1="124.70" y1="385.00" x2="140.70" y2="372.50" stroke="#333" stroke-width="0.55" stroke-dasharray="0.9 0.8"/>
<line x1="124.70" y1="385.00" x2="140.70" y2="387.70" stroke="#333" stroke-width="0.55" stroke-dasharray="0.9 0.8"/>
<line x1="124.70" y1="385.00" x2="140.70" y2="403.20" stroke="#333" stroke-width="0.55" stroke-dasharray="0.9 0.8"/>
<line x1="124.70" y1="385.00" x2="140.70" y2="419.30" stroke="#333" stroke-width="0.55" stroke-dasharray="0.9 0.8"/>
<text x="172.20" y="350.00" font-size="5.0" text-anchor="middle" fill="#222222" dominant-baseline="central" font-style="italic" transform="rotate(0.05 172.20 350.00)">ITGA2/ITGA6/ITGA9/CD44</text>
<rect x="168.60" y="354.60" width="5.60" height="5.60" fill="#8c8c8c" stroke="#555" stroke-width="0.4"/>
<text x="172.20" y="371.10" font-size="5.0" text-anchor="middle" fill="#222222" dominant-baseline="central" font-style="italic" transform="rotate(0.05 172.20 371.10)">ITGA1/ITGA2/ITGA6/CD44</text>
<rect x="168.60" y="374.70" width="5.60" height="5.60" fill="#8c8c8c" stroke="#555" stroke-width="0.4"/>
<text x="172.20" y="388.00" font-size="5.0" text-anchor="middle" fill="#222222" dominant-baseline="central" font-style="italic" transform="rotate(0.05 172.20 388.00)">ITGA2/ITGA3/ITGA6/DAG1</text>
<rect x="168.60" y="391.70" width="5.60" height="5.60" fill="#8c8c8c" stroke="#555" stroke-width="0.4"/>
<text x="172.20" y="404.70" font-size="5.0" text-anchor="middle" fill="#222222" dominant-baseline="central" font-style="italic" transform="rotate(0.05 172.20 404.70)">ITGA2/ITGA3/ITGA6/DAG1</text>
<rect x="168.60" y="408.30" width="5.60" height="5.60" fill="#8c8c8c" stroke="#555" stroke-width="0.4"/>
<text x="172.20" y="421.60" font-size="5.0" text-anchor="middle" fill="#222222" dominant-baseline="central" font-style="italic" transform="rotate(0.05 172.20 421.60)">ITGA1/CD44/DAG1</text>
<rect x="168.60" y="427.60" width="5.60" height="5.60" fill="#8c8c8c" stroke="#555" stroke-width="0.4"/>
<line x1="177.30" y1="357.60" x2="208.70" y2="352.50" stroke="#444" stroke-width="0.5"/>
<line x1="177.30" y1="357.60" x2="208.70" y2="362.00" stroke="#444" stroke-width="0.5"/>
<line x1="177.30" y1="377.50" x2="208.70" y2="377.40" stroke="#444" stroke-width="0.5"/>
<line x1="177.30" y1="394.50" x2="208.70" y2="394.00" stroke="#444" stroke-width="0.5"/>
<line x1="177.30" y1="411.10" x2="208.70" y2="411.00" stroke="#444" stroke-width="0.5"/>
<line x1="177.30" y1="430.40" x2="208.70" y2="430.00" stroke="#444" stroke-width="0.5"/>
<circle cx="215.30" cy="350.30" r="3.30" fill="#fff" stroke="#f0473c" stroke-width="0.6"/><circle cx="215.30" cy="350.30" r="1.98" fill="#27aae1"/>
<text x="221.40" y="350.30" font-size="5.1" text-anchor="start" fill="#222222" dominant-baseline="central" transform="rotate(0.05 221.40 350.30)">T cells</text>
<circle cx="215.30" cy="363.00" r="3.30" fill="#fff" stroke="#f0473c" stroke-width="0.6"/><circle cx="215.30" cy="363.00" r="1.98" fill="#ec008c"/>
<text x="221.40" y="363.00" font-size="5.1" text-anchor="start" fill="#222222" dominant-baseline="central" transform="rotate(0.05 221.40 363.00)">Macrophages</text>
<circle cx="215.30" cy="377.40" r="3.30" fill="#fff" stroke="#f0473c" stroke-width="0.6"/><circle cx="215.30" cy="377.40" r="1.98" fill="#262262"/>
<text x="221.40" y="377.40" font-size="5.1" text-anchor="start" fill="#222222" dominant-baseline="central" transform="rotate(0.05 221.40 377.40)">Mesenchymal stem cells</text>
<circle cx="215.30" cy="394.00" r="3.30" fill="#fff" stroke="#f0473c" stroke-width="0.6"/><circle cx="215.30" cy="394.00" r="1.98" fill="#be1e2d"/>
<text x="221.40" y="394.00" font-size="5.1" text-anchor="start" fill="#222222" dominant-baseline="central" transform="rotate(0.05 221.40 394.00)">Neutrophils</text>
<circle cx="215.30" cy="411.00" r="3.30" fill="#fff" stroke="#f0473c" stroke-width="0.6"/><circle cx="215.30" cy="411.00" r="1.98" fill="#ef4136"/>
<text x="221.40" y="411.00" font-size="5.1" text-anchor="start" fill="#222222" dominant-baseline="central" transform="rotate(0.05 221.40 411.00)">Proliferative UTCs</text>
<circle cx="215.30" cy="430.00" r="3.30" fill="#fff" stroke="#f0473c" stroke-width="0.6"/><circle cx="215.30" cy="430.00" r="1.98" fill="#f26522"/>
<text x="221.40" y="430.00" font-size="5.1" text-anchor="start" fill="#222222" dominant-baseline="central" transform="rotate(0.05 221.40 430.00)">Fibroblasts</text>
<text x="73.10" y="496.50" font-size="5.3" text-anchor="end" fill="#222222" dominant-baseline="central" transform="rotate(0.05 73.10 496.50)">Progenitor cells</text>
<text x="73.10" y="559.50" font-size="5.3" text-anchor="end" fill="#222222" dominant-baseline="central" transform="rotate(0.05 73.10 559.50)">Progenitor cells</text>
<circle cx="80.40" cy="496.50" r="2.90" fill="#fff" stroke="#5a55c8" stroke-width="0.6"/><circle cx="80.40" cy="496.50" r="1.74" fill="#d18a4f"/>
<circle cx="80.40" cy="559.50" r="2.90" fill="#fff" stroke="#7fd2ae" stroke-width="0.6"/><circle cx="80.40" cy="559.50" r="1.74" fill="#a2542a"/>
<path d="M81.6,499.5 L91.5,528.3 L81.6,556.6" fill="none" stroke="#444" stroke-width="0.5"/>
<text x="118.70" y="515.90" font-size="5.0" text-anchor="middle" fill="#222222" dominant-baseline="central" transform="rotate(0.05 118.70 515.90)">Laminin family genes</text>
<text x="118.50" y="521.50" font-size="5.0" text-anchor="middle" fill="#222222" dominant-baseline="central" font-weight="bold" transform="rotate(0.05 118.50 521.50)"><tspan font-style="italic">(LAMC2)</tspan> EB</text>
<rect x="114.30" y="525.90" width="5.80" height="5.80" fill="#8c8c8c" stroke="#555" stroke-width="0.4"/>
<line x1="124.60" y1="528.80" x2="156.60" y2="528.80" stroke="#999" stroke-width="0.7" stroke-dasharray="2.8 2.4"/>
<text x="171.30" y="520.00" font-size="5.0" text-anchor="middle" fill="#222222" dominant-baseline="central" font-style="italic" transform="rotate(0.05 171.30 520.00)">ITGA1</text>
<rect x="168.10" y="525.90" width="5.80" height="5.80" fill="#8c8c8c" stroke="#555" stroke-width="0.4"/>
<line x1="176.30" y1="528.80" x2="210.20" y2="459.10" stroke="#333" stroke-width="0.5"/>
<circle cx="215.20" cy="459.10" r="3.00" fill="#fff" stroke="#5a55c8" stroke-width="0.6"/><circle cx="215.20" cy="459.10" r="1.80" fill="#8dc63f"/>
<text x="221.60" y="459.10" font-size="5.2" text-anchor="start" fill="#222222" dominant-baseline="central" transform="rotate(0.05 221.60 459.10)">Blood vascular endothelial cells</text>
<line x1="176.30" y1="528.80" x2="210.20" y2="477.00" stroke="#333" stroke-width="0.5"/>
<circle cx="215.20" cy="477.00" r="3.00" fill="#fff" stroke="#5a55c8" stroke-width="0.6"/><circle cx="215.20" cy="477.00" r="1.80" fill="#00a651"/>
<text x="221.60" y="477.00" font-size="5.2" text-anchor="start" fill="#222222" dominant-baseline="central" transform="rotate(0.05 221.60 477.00)">Cytotoxic CD8<tspan font-size="3.2" dy="-1.6">+</tspan><tspan dy="1.6"> T cells</tspan></text>
<line x1="176.30" y1="528.80" x2="210.20" y2="493.30" stroke="#333" stroke-width="0.5"/>
<circle cx="215.20" cy="493.30" r="3.00" fill="#fff" stroke="#5a55c8" stroke-width="0.6"/><circle cx="215.20" cy="493.30" r="1.80" fill="#00a79d"/>
<text x="221.60" y="493.30" font-size="5.2" text-anchor="start" fill="#222222" dominant-baseline="central" transform="rotate(0.05 221.60 493.30)">Myofibroblasts</text>
<line x1="176.30" y1="528.80" x2="210.20" y2="510.00" stroke="#333" stroke-width="0.5"/>
<circle cx="215.20" cy="510.00" r="3.00" fill="#fff" stroke="#5a55c8" stroke-width="0.6"/><circle cx="215.20" cy="510.00" r="1.80" fill="#29abe2"/>
<text x="221.60" y="510.00" font-size="5.2" text-anchor="start" fill="#222222" dominant-baseline="central" transform="rotate(0.05 221.60 510.00)">Schwann cells</text>
<line x1="176.30" y1="528.80" x2="210.20" y2="525.30" stroke="#333" stroke-width="0.5"/>
<circle cx="215.20" cy="525.30" r="3.00" fill="#fff" stroke="#7fd2ae" stroke-width="0.6"/><circle cx="215.20" cy="525.30" r="1.80" fill="#8dc63f"/>
<text x="221.60" y="525.30" font-size="5.2" text-anchor="start" fill="#222222" dominant-baseline="central" transform="rotate(0.05 221.60 525.30)">Blood vascular endothelial cells</text>
<line x1="176.30" y1="528.80" x2="210.20" y2="540.50" stroke="#333" stroke-width="0.5"/>
<circle cx="215.20" cy="540.50" r="3.00" fill="#fff" stroke="#7fd2ae" stroke-width="0.6"/><circle cx="215.20" cy="540.50" r="1.80" fill="#00a651"/>
<text x="221.60" y="540.50" font-size="5.2" text-anchor="start" fill="#222222" dominant-baseline="central" transform="rotate(0.05 221.60 540.50)">Cytotoxic CD8<tspan font-size="3.2" dy="-1.6">+</tspan><tspan dy="1.6"> T cells</tspan></text>
<line x1="176.30" y1="528.80" x2="210.20" y2="555.70" stroke="#333" stroke-width="0.5"/>
<circle cx="215.20" cy="555.70" r="3.00" fill="#fff" stroke="#7fd2ae" stroke-width="0.6"/><circle cx="215.20" cy="555.70" r="1.80" fill="#2e3192"/>
<text x="221.60" y="555.70" font-size="5.2" text-anchor="start" fill="#222222" dominant-baseline="central" transform="rotate(0.05 221.60 555.70)">Enterocytes</text>
<line x1="176.30" y1="528.80" x2="210.20" y2="570.30" stroke="#333" stroke-width="0.5"/>
<circle cx="215.20" cy="570.30" r="3.00" fill="#fff" stroke="#7fd2ae" stroke-width="0.6"/><circle cx="215.20" cy="570.30" r="1.80" fill="#662d91"/>
<text x="221.60" y="570.30" font-size="5.2" text-anchor="start" fill="#222222" dominant-baseline="central" transform="rotate(0.05 221.60 570.30)">GCs</text>
<line x1="176.30" y1="528.80" x2="210.20" y2="584.50" stroke="#333" stroke-width="0.5"/>
<circle cx="215.20" cy="584.50" r="3.00" fill="#fff" stroke="#7fd2ae" stroke-width="0.6"/><circle cx="215.20" cy="584.50" r="1.80" fill="#92278f"/>
<text x="221.60" y="584.50" font-size="5.2" text-anchor="start" fill="#222222" dominant-baseline="central" transform="rotate(0.05 221.60 584.50)">Myofibroblasts</text>
<line x1="176.30" y1="528.80" x2="210.20" y2="600.10" stroke="#333" stroke-width="0.5"/>
<circle cx="215.20" cy="600.10" r="3.00" fill="#fff" stroke="#7fd2ae" stroke-width="0.6"/><circle cx="215.20" cy="600.10" r="1.80" fill="#9e1f63"/>
<text x="221.60" y="600.10" font-size="5.2" text-anchor="start" fill="#222222" dominant-baseline="central" transform="rotate(0.05 221.60 600.10)">NK T cells</text>
<line x1="176.30" y1="528.80" x2="210.20" y2="614.90" stroke="#333" stroke-width="0.5"/>
<circle cx="215.20" cy="614.90" r="3.00" fill="#fff" stroke="#7fd2ae" stroke-width="0.6"/><circle cx="215.20" cy="614.90" r="1.80" fill="#c2b59b"/>
<text x="221.60" y="614.90" font-size="5.2" text-anchor="start" fill="#222222" dominant-baseline="central" transform="rotate(0.05 221.60 614.90)">Smooth muscle cells</text>
<text x="14.50" y="642.50" font-size="6.9" text-anchor="start" fill="#222222" dominant-baseline="central" transform="rotate(0.05 14.50 642.50)">Tissue</text>
<circle cx="16.90" cy="654.60" r="3.00" fill="none" stroke="#f0473c" stroke-width="0.5"/>
<text x="23.30" y="654.60" font-size="5.8" text-anchor="start" fill="#222222" dominant-baseline="central" transform="rotate(0.05 23.30 654.60)">Placenta</text>
<circle cx="16.90" cy="664.00" r="3.00" fill="none" stroke="#5a55c8" stroke-width="0.5"/>
<text x="23.30" y="664.00" font-size="5.8" text-anchor="start" fill="#222222" dominant-baseline="central" transform="rotate(0.05 23.30 664.00)">Jejunum</text>
<circle cx="16.90" cy="673.70" r="3.00" fill="none" stroke="#7fd2ae" stroke-width="0.5"/>
<text x="23.30" y="673.70" font-size="5.8" text-anchor="start" fill="#222222" dominant-baseline="central" transform="rotate(0.05 23.30 673.70)">Duodenum</text>
<text x="14.80" y="693.90" font-size="6.0" text-anchor="start" fill="#222222" dominant-baseline="central" transform="rotate(0.05 14.80 693.90)">Receptor/ligand</text>
<text x="14.80" y="704.20" font-size="5.6" text-anchor="start" fill="#222222" dominant-baseline="central" transform="rotate(0.05 14.80 704.20)"><tspan font-weight="bold" font-style="italic">Bold Italic</tspan> = disorder genes</text>
<text x="14.80" y="709.80" font-size="5.6" text-anchor="start" fill="#222222" dominant-baseline="central" transform="rotate(0.05 14.80 709.80)"><tspan font-weight="bold">Bold</tspan> = disorders</text>
<text x="95.50" y="679.80" font-size="7.3" text-anchor="middle" fill="#222222" dominant-baseline="central" transform="rotate(-90 95.50 679.80)">Cell types</text>
<circle cx="104.70" cy="639.60" r="1.75" fill="#8dc63f"/>
<text x="110.80" y="639.60" font-size="6.05" text-anchor="start" fill="#222222" dominant-baseline="central" transform="rotate(0.05 110.80 639.60)">Blood vascular endothelial cells</text>
<circle cx="104.70" cy="649.14" r="1.75" fill="#00a651"/>
<text x="110.80" y="649.14" font-size="6.05" text-anchor="start" fill="#222222" dominant-baseline="central" transform="rotate(0.05 110.80 649.14)">Cytotoxic CD8<tspan font-size="3.5" dy="-1.8">+</tspan><tspan dy="1.8"> T cells</tspan></text>
<circle cx="104.70" cy="658.68" r="1.75" fill="#f7941d"/>
<text x="110.80" y="658.68" font-size="6.05" text-anchor="start" fill="#222222" dominant-baseline="central" transform="rotate(0.05 110.80 658.68)">Duct cells</text>
<circle cx="104.70" cy="668.22" r="1.75" fill="#f26522"/>
<text x="110.80" y="668.22" font-size="6.05" text-anchor="start" fill="#222222" dominant-baseline="central" transform="rotate(0.05 110.80 668.22)">Fibroblasts</text>
<circle cx="104.70" cy="677.76" r="1.75" fill="#2e3192"/>
<text x="110.80" y="677.76" font-size="6.05" text-anchor="start" fill="#222222" dominant-baseline="central" transform="rotate(0.05 110.80 677.76)">Enterocytes</text>
<circle cx="104.70" cy="687.30" r="1.75" fill="#662d91"/>
<text x="110.80" y="687.30" font-size="6.05" text-anchor="start" fill="#222222" dominant-baseline="central" transform="rotate(0.05 110.80 687.30)">GCs</text>
<circle cx="104.70" cy="696.84" r="1.75" fill="#27aae1"/>
<text x="110.80" y="696.84" font-size="6.05" text-anchor="start" fill="#222222" dominant-baseline="central" transform="rotate(0.05 110.80 696.84)">T cells</text>
<circle cx="104.70" cy="706.38" r="1.75" fill="#ec008c"/>
<text x="110.80" y="706.38" font-size="6.05" text-anchor="start" fill="#222222" dominant-baseline="central" transform="rotate(0.05 110.80 706.38)">Macrophages</text>
<circle cx="104.70" cy="715.92" r="1.75" fill="#d7df23"/>
<text x="110.80" y="715.92" font-size="6.05" text-anchor="start" fill="#222222" dominant-baseline="central" transform="rotate(0.05 110.80 715.92)">Mast cells</text>
<circle cx="202.30" cy="639.60" r="1.75" fill="#262262"/>
<text x="208.90" y="639.60" font-size="6.05" text-anchor="start" fill="#222222" dominant-baseline="central" transform="rotate(0.05 208.90 639.60)">Mesenchymal stem cells</text>
<circle cx="202.30" cy="649.14" r="1.75" fill="#00a79d"/>
<text x="208.90" y="649.14" font-size="6.05" text-anchor="start" fill="#222222" dominant-baseline="central" transform="rotate(0.05 208.90 649.14)">Myofibroblasts</text>
<circle cx="202.30" cy="658.68" r="1.75" fill="#be1e2d"/>
<text x="208.90" y="658.68" font-size="6.05" text-anchor="start" fill="#222222" dominant-baseline="central" transform="rotate(0.05 208.90 658.68)">Neutrophils</text>
<circle cx="202.30" cy="668.22" r="1.75" fill="#9e1f63"/>
<text x="208.90" y="668.22" font-size="6.05" text-anchor="start" fill="#222222" dominant-baseline="central" transform="rotate(0.05 208.90 668.22)">NK T cells</text>
<circle cx="202.30" cy="677.76" r="1.75" fill="#c49a6c"/>
<text x="208.90" y="677.76" font-size="6.05" text-anchor="start" fill="#222222" dominant-baseline="central" transform="rotate(0.05 208.90 677.76)">Progenitor cells (transit-amplifying cells)</text>
<circle cx="202.30" cy="687.30" r="1.75" fill="#ef4136"/>
<text x="208.90" y="687.30" font-size="6.05" text-anchor="start" fill="#222222" dominant-baseline="central" transform="rotate(0.05 208.90 687.30)">Proliferative UTCs</text>
<circle cx="202.30" cy="696.84" r="1.75" fill="#29abe2"/>
<text x="208.90" y="696.84" font-size="6.05" text-anchor="start" fill="#222222" dominant-baseline="central" transform="rotate(0.05 208.90 696.84)">Schwann cells</text>
<circle cx="202.30" cy="706.38" r="1.75" fill="#c2b59b"/>
<text x="208.90" y="706.38" font-size="6.05" text-anchor="start" fill="#222222" dominant-baseline="central" transform="rotate(0.05 208.90 706.38)">Smooth muscle cells</text>
<text x="334.00" y="313.20" font-size="13" font-weight="bold" fill="#000" transform="rotate(0.05 334.00 313.20)">f</text>
<text x="409.10" y="320.70" font-size="6.4" text-anchor="middle" fill="#222222" dominant-baseline="central" transform="rotate(0.05 409.10 320.70)"><tspan font-style="italic">LAMA3</tspan> (EB) in the placenta</text>
<ellipse cx="352.3" cy="338.8" rx="7.2" ry="2.6" fill="#bdbdc1"/>
<path d="M385.4,331.4 L392.1,329.6" fill="none" stroke="#bdbdc1" stroke-width="0.9"/>
<path d="M410.8,336.5 L413.4,337.5 M411.5,339 L412.5,341" fill="none" stroke="#bdbdc1" stroke-width="0.9"/>
<path d="M417.7,338.0 L425.8,339.0" fill="none" stroke="#bdbdc1" stroke-width="1.2"/>
<path d="M382.5,366.5 C383.8,365.5 387.1,365.2 390.0,365.0 C392.9,364.8 396.8,364.9 400.0,365.2 C403.2,365.4 406.6,365.9 409.0,366.5 C411.4,367.1 413.5,368.0 414.5,369.0 C415.5,370.0 415.6,371.4 415.0,372.5 C414.4,373.6 413.2,374.7 411.0,375.5 C408.8,376.3 405.2,377.1 402.0,377.3 C398.8,377.6 394.8,377.4 392.0,377.0 C389.2,376.6 386.7,376.0 385.0,375.0 C383.3,374.0 382.4,372.4 382.0,371.0 C381.6,369.6 381.2,367.5 382.5,366.5 Z" fill="#bdbdc1" stroke="none" stroke-width="0.5"/>
<path d="M372.4,355.5 C373.4,354.1 375.7,353.1 378.0,352.6 C380.3,352.1 383.7,352.0 386.0,352.4 C388.3,352.8 390.5,353.7 392.0,355.0 C393.5,356.3 394.8,358.2 395.0,360.0 C395.2,361.8 394.8,364.6 393.5,366.0 C392.2,367.4 388.9,367.3 387.0,368.5 C385.1,369.7 384.2,372.3 382.0,373.0 C379.8,373.7 375.8,373.5 374.0,372.5 C372.2,371.5 371.6,368.9 371.2,367.0 C370.8,365.1 371.6,362.9 371.8,361.0 C372.0,359.1 371.4,356.9 372.4,355.5 Z" fill="#bdbdc1" stroke="none" stroke-width="0.5"/>
<path d="M362.5,358.8 C366,358.5 369.5,359.5 373,360.5" fill="none" stroke="#bdbdc1" stroke-width="3.0"/>
<path d="M351.5,371 C352.5,367.5 356,366 361,365 C365,364.5 369,364 373,364.5" fill="none" stroke="#bdbdc1" stroke-width="2.4"/>
<path d="M350.8,371.6 L356,373.2" fill="none" stroke="#bdbdc1" stroke-width="1.6"/>
<path d="M377,358.5 C381,357 385,357.5 388,359" fill="none" stroke="#fff" stroke-width="0.5"/>
<path d="M374,364.5 C378,363.5 383,364 386,363" fill="none" stroke="#fff" stroke-width="0.4"/>
<circle cx="376.76" cy="363.34" r="0.45" fill="#e0604c"/><circle cx="379.40" cy="364.47" r="0.45" fill="#e0604c"/><circle cx="384.51" cy="354.25" r="0.45" fill="#e0604c"/><circle cx="372.26" cy="368.91" r="0.45" fill="#e0604c"/><circle cx="377.19" cy="357.45" r="0.45" fill="#e0604c"/><circle cx="391.91" cy="361.94" r="0.45" fill="#e0604c"/><circle cx="388.73" cy="362.05" r="0.45" fill="#e0604c"/><circle cx="384.78" cy="355.86" r="0.45" fill="#e0604c"/><circle cx="384.70" cy="369.49" r="0.45" fill="#e0604c"/><circle cx="382.46" cy="367.08" r="0.45" fill="#e0604c"/><circle cx="385.43" cy="354.22" r="0.45" fill="#e0604c"/><circle cx="387.16" cy="364.23" r="0.45" fill="#e0604c"/><circle cx="378.03" cy="353.59" r="0.45" fill="#e0604c"/><circle cx="389.31" cy="361.98" r="0.45" fill="#e0604c"/><circle cx="386.38" cy="369.70" r="0.45" fill="#e0604c"/><circle cx="386.28" cy="370.50" r="0.45" fill="#e0604c"/><circle cx="379.90" cy="368.22" r="0.45" fill="#e0604c"/><circle cx="380.89" cy="370.78" r="0.45" fill="#e0604c"/><circle cx="389.58" cy="354.85" r="0.45" fill="#e0604c"/><circle cx="374.72" cy="357.12" r="0.45" fill="#e0604c"/><circle cx="391.31" cy="361.29" r="0.45" fill="#e0604c"/><circle cx="384.53" cy="358.72" r="0.45" fill="#e0604c"/><circle cx="382.14" cy="360.33" r="0.45" fill="#e0604c"/><circle cx="379.02" cy="364.12" r="0.45" fill="#e0604c"/><circle cx="383.69" cy="370.18" r="0.45" fill="#e0604c"/><circle cx="385.64" cy="370.65" r="0.45" fill="#e0604c"/><circle cx="389.13" cy="371.83" r="0.45" fill="#e0604c"/><circle cx="385.43" cy="356.10" r="0.45" fill="#e0604c"/><circle cx="389.21" cy="371.33" r="0.45" fill="#e0604c"/><circle cx="390.09" cy="363.81" r="0.45" fill="#e0604c"/>
<circle cx="380.57" cy="364.11" r="0.45" fill="#e0604c"/><circle cx="381.98" cy="367.74" r="0.45" fill="#e0604c"/><circle cx="375.42" cy="362.63" r="0.45" fill="#e0604c"/><circle cx="382.25" cy="371.90" r="0.45" fill="#e0604c"/><circle cx="373.06" cy="370.01" r="0.45" fill="#e0604c"/><circle cx="376.93" cy="363.51" r="0.45" fill="#e0604c"/><circle cx="375.53" cy="369.69" r="0.45" fill="#e0604c"/><circle cx="382.47" cy="362.44" r="0.45" fill="#e0604c"/><circle cx="379.37" cy="362.45" r="0.45" fill="#e0604c"/><circle cx="380.62" cy="365.31" r="0.45" fill="#e0604c"/><circle cx="382.57" cy="371.81" r="0.45" fill="#e0604c"/><circle cx="378.07" cy="371.99" r="0.45" fill="#e0604c"/><circle cx="375.72" cy="362.77" r="0.45" fill="#e0604c"/><circle cx="379.20" cy="362.31" r="0.45" fill="#e0604c"/><circle cx="374.37" cy="366.08" r="0.45" fill="#e0604c"/><circle cx="379.33" cy="363.56" r="0.45" fill="#e0604c"/>
<circle cx="360.51" cy="364.81" r="0.45" fill="#e0604c"/><circle cx="363.77" cy="365.63" r="0.45" fill="#e0604c"/><circle cx="370.76" cy="360.40" r="0.45" fill="#e0604c"/><circle cx="365.52" cy="361.68" r="0.45" fill="#e0604c"/><circle cx="367.73" cy="362.36" r="0.45" fill="#e0604c"/>
<text x="397.30" y="352.70" font-size="6.4" text-anchor="middle" fill="#222222" dominant-baseline="central" transform="rotate(0.05 397.30 352.70)">UTCs</text>
<path d="M448.5,368.5 L452,364 L455,363 L457.5,361.8 L461,363.5 L463.6,367 L462.5,370.5 L458,372.8 L453,373 L450,371.5 Z" fill="#e2644f" stroke="none" stroke-width="0.5"/>
<circle cx="456.00" cy="367.50" r="1.60" fill="#b9b3b3"/>
<ellipse cx="456" cy="369" rx="10.6" ry="9.0" fill="none" stroke="#222" stroke-width="0.9" stroke-dasharray="2.4 1.6"/>
<ellipse cx="471.8" cy="355.1" rx="2.5" ry="2.4" fill="#bdbdc1"/>
<path d="M453.5,349.8 L456.3,350.8" fill="none" stroke="#bdbdc1" stroke-width="0.9"/>
<path d="M367.2,393.5 C367.4,392.8 369.8,392.8 371.0,393.0 C372.2,393.2 373.0,394.4 374.5,394.6 C376.0,394.9 378.1,394.5 380.0,394.5 C381.9,394.5 384.2,394.4 386.0,394.6 C387.8,394.8 390.3,395.1 391.0,395.6 C391.7,396.1 391.0,397.1 390.0,397.5 C389.0,397.9 385.7,397.3 385.0,397.8 C384.3,398.3 386.1,399.6 386.0,400.5 C385.9,401.4 385.5,402.8 384.5,403.0 C383.5,403.2 381.5,402.2 380.0,401.5 C378.5,400.8 377.2,399.2 375.5,398.5 C373.8,397.8 370.9,397.8 369.5,397.0 C368.1,396.2 366.9,394.2 367.2,393.5 Z" fill="#bdbdc1" stroke="none" stroke-width="0.5"/>
<path d="M398.0,397.2 C398.9,396.6 403.0,396.1 404.5,395.5 C406.0,394.9 405.6,393.8 407.0,393.3 C408.4,392.9 411.4,392.7 413.0,392.8 C414.6,392.9 414.8,393.8 416.5,394.2 C418.2,394.6 421.1,395.2 423.0,395.3 C424.9,395.4 426.3,394.8 428.0,394.5 C429.7,394.2 431.4,394.0 433.0,393.5 C434.6,393.0 437.2,392.4 437.5,391.5 C437.8,390.6 436.0,389.2 435.0,388.0 C434.0,386.8 431.9,385.0 431.6,384.2 C431.3,383.4 432.1,382.9 433.0,383.3 C433.9,383.7 435.8,385.4 437.0,386.5 C438.2,387.6 439.8,388.8 440.5,390.0 C441.2,391.2 440.7,392.9 441.5,394.0 C442.3,395.1 445.4,395.6 445.5,396.4 C445.6,397.1 443.6,398.1 442.0,398.5 C440.4,398.9 438.3,398.9 436.0,399.0 C433.7,399.1 431.0,399.0 428.0,398.8 C425.0,398.6 421.0,397.7 418.0,397.6 C415.0,397.5 412.3,398.0 410.0,398.2 C407.7,398.4 405.8,398.5 404.0,398.6 C402.2,398.7 400.0,399.2 399.0,399.0 C398.0,398.8 397.1,397.8 398.0,397.2 Z" fill="#bdbdc1" stroke="none" stroke-width="0.5"/>
<path d="M396.5,401.8 L403.5,401.2" fill="none" stroke="#bdbdc1" stroke-width="1.5"/>
<path d="M379.7,412.2 C379.7,411.6 382.3,410.2 384.0,409.6 C385.7,409.0 388.2,409.0 390.0,408.5 C391.8,408.0 393.3,407.1 394.5,406.5 C395.7,405.9 396.1,405.2 397.0,405.0 C397.9,404.8 399.6,404.9 400.1,405.5 C400.6,406.1 400.7,407.6 400.0,408.5 C399.3,409.4 397.7,410.3 396.0,411.0 C394.3,411.7 392.0,412.2 390.0,412.6 C388.0,413.0 385.7,413.6 384.0,413.5 C382.3,413.4 379.7,412.8 379.7,412.2 Z" fill="#bdbdc1" stroke="none" stroke-width="0.5"/>
<circle cx="438.50" cy="389.50" r="0.50" fill="#e0604c"/>
<circle cx="400.50" cy="401.60" r="0.50" fill="#e0604c"/>
<circle cx="386.00" cy="399.00" r="0.45" fill="#e0604c"/>
<path d="M345.6,419.5 L345.6,397.5 M345.6,419.5 L363,419.5" fill="none" stroke="#3d5068" stroke-width="1.0"/>
<path d="M343.7,399 L345.6,395.2 L347.5,399 Z M361.5,417.6 L365.3,419.5 L361.5,421.4 Z" fill="#3d5068" stroke="none" stroke-width="0.5"/>
<text x="338.00" y="408.50" font-size="6.3" text-anchor="middle" fill="#222222" dominant-baseline="central" transform="rotate(-90 338.00 408.50)">UMAP_2</text>
<text x="355.40" y="426.50" font-size="6.3" text-anchor="middle" fill="#222222" dominant-baseline="central" transform="rotate(0.05 355.40 426.50)">UMAP_1</text>
<defs><linearGradient id="gr2red" x1="0" y1="0" x2="1" y2="0"><stop offset="0" stop-color="#bcbcbf"/><stop offset="1" stop-color="#ea3a2e"/></linearGradient></defs>
<rect x="406.80" y="438.20" width="51.30" height="14.00" fill="url(#gr2red)"/>
<text x="406.80" y="457.60" font-size="6.4" text-anchor="middle" fill="#222222" dominant-baseline="central" transform="rotate(0.05 406.80 457.60)">0</text>
<line x1="420.80" y1="438.20" x2="420.80" y2="440.00" stroke="#fff" stroke-width="0.5"/>
<line x1="420.80" y1="450.40" x2="420.80" y2="452.20" stroke="#fff" stroke-width="0.5"/>
<text x="420.80" y="457.60" font-size="6.4" text-anchor="middle" fill="#222222" dominant-baseline="central" transform="rotate(0.05 420.80 457.60)">2</text>
<line x1="435.30" y1="438.20" x2="435.30" y2="440.00" stroke="#fff" stroke-width="0.5"/>
<line x1="435.30" y1="450.40" x2="435.30" y2="452.20" stroke="#fff" stroke-width="0.5"/>
<text x="435.30" y="457.60" font-size="6.4" text-anchor="middle" fill="#222222" dominant-baseline="central" transform="rotate(0.05 435.30 457.60)">4</text>
<line x1="449.50" y1="438.20" x2="449.50" y2="440.00" stroke="#fff" stroke-width="0.5"/>
<line x1="449.50" y1="450.40" x2="449.50" y2="452.20" stroke="#fff" stroke-width="0.5"/>
<text x="449.50" y="457.60" font-size="6.4" text-anchor="middle" fill="#222222" dominant-baseline="central" transform="rotate(0.05 449.50 457.60)">6</text>
<text x="364.70" y="445.40" font-size="6.7" text-anchor="start" fill="#222222" dominant-baseline="central" transform="rotate(0.05 364.70 445.40)">log<tspan font-size="4.3" dy="1.7">10</tspan><tspan dy="-1.7">(counts)</tspan></text>
<text x="502.30" y="313.30" font-size="13" font-weight="bold" fill="#000" transform="rotate(0.05 502.30 313.30)">g</text>
<text x="602.70" y="314.40" font-size="6.6" text-anchor="middle" fill="#222222" dominant-baseline="central" transform="rotate(0.05 602.70 314.40)"><tspan font-style="italic">LAMA3</tspan> (EB) in UTCs</text>
<line x1="532.40" y1="325.50" x2="532.40" y2="423.00" stroke="#555" stroke-width="0.6"/>
<line x1="532.40" y1="423.00" x2="672.50" y2="423.00" stroke="#555" stroke-width="0.6"/>
<line x1="530.60" y1="339.40" x2="532.40" y2="339.40" stroke="#555" stroke-width="0.5"/>
<text x="528.60" y="339.40" font-size="6.4" text-anchor="end" fill="#222222" dominant-baseline="central" transform="rotate(0.05 528.60 339.40)">10</text>
<line x1="530.60" y1="366.60" x2="532.40" y2="366.60" stroke="#555" stroke-width="0.5"/>
<text x="528.60" y="366.60" font-size="6.4" text-anchor="end" fill="#222222" dominant-baseline="central" transform="rotate(0.05 528.60 366.60)">0</text>
<line x1="530.60" y1="393.60" x2="532.40" y2="393.60" stroke="#555" stroke-width="0.5"/>
<text x="528.60" y="393.60" font-size="6.4" text-anchor="end" fill="#222222" dominant-baseline="central" transform="rotate(0.05 528.60 393.60)">−10</text>
<line x1="530.60" y1="420.60" x2="532.40" y2="420.60" stroke="#555" stroke-width="0.5"/>
<text x="528.60" y="420.60" font-size="6.4" text-anchor="end" fill="#222222" dominant-baseline="central" transform="rotate(0.05 528.60 420.60)">−20</text>
<line x1="549.10" y1="423.00" x2="549.10" y2="424.80" stroke="#555" stroke-width="0.5"/>
<text x="549.10" y="429.20" font-size="6.4" text-anchor="middle" fill="#222222" dominant-baseline="central" transform="rotate(0.05 549.10 429.20)">−10</text>
<line x1="592.10" y1="423.00" x2="592.10" y2="424.80" stroke="#555" stroke-width="0.5"/>
<text x="592.10" y="429.20" font-size="6.4" text-anchor="middle" fill="#222222" dominant-baseline="central" transform="rotate(0.05 592.10 429.20)">0</text>
<line x1="635.60" y1="423.00" x2="635.60" y2="424.80" stroke="#555" stroke-width="0.5"/>
<text x="635.60" y="429.20" font-size="6.4" text-anchor="middle" fill="#222222" dominant-baseline="central" transform="rotate(0.05 635.60 429.20)">10</text>
<text x="597.60" y="443.40" font-size="6.8" text-anchor="middle" fill="#222222" dominant-baseline="central" transform="rotate(0.05 597.60 443.40)">Component1</text>
<text x="506.60" y="376.00" font-size="6.8" text-anchor="middle" fill="#222222" dominant-baseline="central" transform="rotate(-90 506.60 376.00)">Component2</text>
<path d="M602.3,364.9 L613.2,366.0 L645,359.4 L671.2,352.8 M613.2,366.0 L651.5,394.4" fill="none" stroke="#d6d6d6" stroke-width="1.2"/>
<g fill="#c9c9c9"><circle cx="632.6" cy="361.3" r="0.4"/><circle cx="633.9" cy="361.5" r="0.4"/><circle cx="614.5" cy="365.5" r="0.4"/><circle cx="657.4" cy="356.6" r="0.4"/><circle cx="608.9" cy="364.8" r="0.4"/><circle cx="606.5" cy="365.1" r="0.4"/><circle cx="647.3" cy="358.6" r="0.4"/><circle cx="603.2" cy="365.0" r="0.4"/><circle cx="615.6" cy="365.6" r="0.4"/><circle cx="633.6" cy="361.9" r="0.4"/><circle cx="637.9" cy="360.3" r="0.4"/><circle cx="647.8" cy="358.7" r="0.4"/><circle cx="672.0" cy="352.8" r="0.4"/><circle cx="651.1" cy="358.2" r="0.4"/><circle cx="623.2" cy="364.5" r="0.4"/><circle cx="630.4" cy="362.1" r="0.4"/><circle cx="668.3" cy="353.5" r="0.4"/><circle cx="617.4" cy="364.9" r="0.4"/><circle cx="669.7" cy="353.3" r="0.4"/><circle cx="646.0" cy="358.8" r="0.4"/><circle cx="607.8" cy="366.6" r="0.4"/><circle cx="654.9" cy="357.2" r="0.4"/><circle cx="610.2" cy="365.9" r="0.4"/><circle cx="614.2" cy="365.5" r="0.4"/><circle cx="615.6" cy="365.2" r="0.4"/><circle cx="647.2" cy="359.3" r="0.4"/><circle cx="617.0" cy="366.5" r="0.4"/><circle cx="657.4" cy="357.2" r="0.4"/><circle cx="616.2" cy="365.8" r="0.4"/><circle cx="647.9" cy="359.9" r="0.4"/><circle cx="617.1" cy="366.0" r="0.4"/><circle cx="625.1" cy="363.7" r="0.4"/><circle cx="608.3" cy="365.4" r="0.4"/><circle cx="643.6" cy="360.0" r="0.4"/><circle cx="667.8" cy="353.6" r="0.4"/><circle cx="662.2" cy="355.4" r="0.4"/><circle cx="665.1" cy="354.0" r="0.4"/><circle cx="615.5" cy="364.3" r="0.4"/><circle cx="617.0" cy="365.1" r="0.4"/><circle cx="643.9" cy="359.7" r="0.4"/><circle cx="605.4" cy="365.1" r="0.4"/><circle cx="651.0" cy="358.8" r="0.4"/><circle cx="643.5" cy="360.0" r="0.4"/><circle cx="652.4" cy="357.8" r="0.4"/><circle cx="641.5" cy="359.7" r="0.4"/><circle cx="622.1" cy="364.0" r="0.4"/><circle cx="603.4" cy="365.6" r="0.4"/><circle cx="606.8" cy="365.8" r="0.4"/><circle cx="642.3" cy="360.4" r="0.4"/><circle cx="664.5" cy="354.6" r="0.4"/><circle cx="649.9" cy="358.0" r="0.4"/><circle cx="605.8" cy="365.3" r="0.4"/><circle cx="650.9" cy="357.9" r="0.4"/><circle cx="645.5" cy="359.2" r="0.4"/><circle cx="624.7" cy="363.7" r="0.4"/><circle cx="640.1" cy="359.3" r="0.4"/><circle cx="653.0" cy="356.5" r="0.4"/><circle cx="664.9" cy="354.9" r="0.4"/><circle cx="664.8" cy="354.1" r="0.4"/><circle cx="657.3" cy="355.9" r="0.4"/><circle cx="645.1" cy="359.7" r="0.4"/><circle cx="645.1" cy="359.9" r="0.4"/><circle cx="671.3" cy="352.4" r="0.4"/><circle cx="629.2" cy="362.0" r="0.4"/><circle cx="633.0" cy="361.7" r="0.4"/><circle cx="654.8" cy="357.2" r="0.4"/><circle cx="635.7" cy="362.1" r="0.4"/><circle cx="635.9" cy="360.4" r="0.4"/><circle cx="620.5" cy="364.6" r="0.4"/><circle cx="649.3" cy="358.6" r="0.4"/><circle cx="664.5" cy="354.0" r="0.4"/><circle cx="663.5" cy="355.3" r="0.4"/><circle cx="615.3" cy="365.8" r="0.4"/><circle cx="665.7" cy="353.9" r="0.4"/><circle cx="642.6" cy="360.1" r="0.4"/><circle cx="637.2" cy="360.3" r="0.4"/><circle cx="651.9" cy="357.6" r="0.4"/><circle cx="613.8" cy="365.9" r="0.4"/><circle cx="616.6" cy="365.5" r="0.4"/><circle cx="636.2" cy="362.0" r="0.4"/><circle cx="669.8" cy="353.2" r="0.4"/><circle cx="604.6" cy="365.0" r="0.4"/><circle cx="650.9" cy="357.6" r="0.4"/><circle cx="657.2" cy="356.4" r="0.4"/><circle cx="634.8" cy="361.9" r="0.4"/><circle cx="618.9" cy="364.9" r="0.4"/><circle cx="645.2" cy="359.4" r="0.4"/><circle cx="648.1" cy="357.6" r="0.4"/><circle cx="649.8" cy="358.8" r="0.4"/><circle cx="615.4" cy="365.7" r="0.4"/><circle cx="651.8" cy="358.1" r="0.4"/><circle cx="626.1" cy="362.7" r="0.4"/><circle cx="644.9" cy="358.9" r="0.4"/><circle cx="657.2" cy="356.3" r="0.4"/><circle cx="666.6" cy="353.7" r="0.4"/><circle cx="633.0" cy="361.0" r="0.4"/><circle cx="627.5" cy="362.4" r="0.4"/><circle cx="657.8" cy="356.1" r="0.4"/><circle cx="647.6" cy="359.6" r="0.4"/><circle cx="658.3" cy="355.3" r="0.4"/><circle cx="618.3" cy="364.3" r="0.4"/><circle cx="668.8" cy="353.0" r="0.4"/><circle cx="625.4" cy="363.1" r="0.4"/><circle cx="627.0" cy="363.5" r="0.4"/><circle cx="640.5" cy="359.8" r="0.4"/><circle cx="604.4" cy="364.9" r="0.4"/><circle cx="657.7" cy="356.6" r="0.4"/><circle cx="656.9" cy="356.7" r="0.4"/><circle cx="637.9" cy="359.9" r="0.4"/><circle cx="650.5" cy="358.0" r="0.4"/><circle cx="668.0" cy="353.9" r="0.4"/><circle cx="638.6" cy="361.5" r="0.4"/><circle cx="645.6" cy="358.9" r="0.4"/><circle cx="640.9" cy="360.7" r="0.4"/><circle cx="660.9" cy="355.3" r="0.4"/><circle cx="661.6" cy="355.2" r="0.4"/><circle cx="642.2" cy="360.6" r="0.4"/><circle cx="637.1" cy="360.9" r="0.4"/><circle cx="668.6" cy="353.3" r="0.4"/><circle cx="657.1" cy="356.0" r="0.4"/></g>
<g fill="#bdbdbd"><circle cx="640.2" cy="386.2" r="0.4"/><circle cx="630.1" cy="378.0" r="0.4"/><circle cx="623.3" cy="374.4" r="0.4"/><circle cx="630.2" cy="377.9" r="0.4"/><circle cx="631.3" cy="380.4" r="0.4"/><circle cx="637.1" cy="383.8" r="0.4"/><circle cx="643.4" cy="388.4" r="0.4"/><circle cx="621.7" cy="372.8" r="0.4"/><circle cx="626.6" cy="376.6" r="0.4"/><circle cx="641.6" cy="387.4" r="0.4"/><circle cx="623.0" cy="374.4" r="0.4"/><circle cx="629.6" cy="379.3" r="0.4"/><circle cx="633.7" cy="381.8" r="0.4"/><circle cx="637.0" cy="383.8" r="0.4"/><circle cx="645.1" cy="389.7" r="0.4"/><circle cx="622.1" cy="372.5" r="0.4"/><circle cx="647.6" cy="392.1" r="0.4"/><circle cx="648.9" cy="394.0" r="0.4"/><circle cx="647.4" cy="391.6" r="0.4"/><circle cx="641.0" cy="387.1" r="0.4"/><circle cx="644.3" cy="390.2" r="0.4"/><circle cx="617.4" cy="370.9" r="0.4"/><circle cx="614.1" cy="368.2" r="0.4"/><circle cx="648.3" cy="391.9" r="0.4"/><circle cx="632.6" cy="380.3" r="0.4"/><circle cx="639.5" cy="386.0" r="0.4"/><circle cx="617.9" cy="370.1" r="0.4"/><circle cx="632.7" cy="381.0" r="0.4"/><circle cx="620.5" cy="373.0" r="0.4"/><circle cx="651.3" cy="394.0" r="0.4"/><circle cx="616.1" cy="368.5" r="0.4"/><circle cx="642.2" cy="388.5" r="0.4"/><circle cx="632.3" cy="381.4" r="0.4"/><circle cx="613.4" cy="366.4" r="0.4"/><circle cx="619.4" cy="372.2" r="0.4"/><circle cx="628.8" cy="378.4" r="0.4"/><circle cx="633.9" cy="381.1" r="0.4"/><circle cx="643.6" cy="388.0" r="0.4"/><circle cx="636.7" cy="384.6" r="0.4"/><circle cx="633.4" cy="380.7" r="0.4"/><circle cx="623.8" cy="373.6" r="0.4"/><circle cx="643.2" cy="387.8" r="0.4"/><circle cx="648.1" cy="391.0" r="0.4"/><circle cx="642.6" cy="387.5" r="0.4"/><circle cx="641.3" cy="387.0" r="0.4"/><circle cx="631.6" cy="379.9" r="0.4"/><circle cx="637.4" cy="384.2" r="0.4"/><circle cx="649.2" cy="392.5" r="0.4"/><circle cx="637.9" cy="384.8" r="0.4"/><circle cx="628.8" cy="377.7" r="0.4"/><circle cx="640.2" cy="384.8" r="0.4"/><circle cx="613.5" cy="367.1" r="0.4"/><circle cx="622.9" cy="374.1" r="0.4"/><circle cx="620.5" cy="372.5" r="0.4"/><circle cx="623.3" cy="373.5" r="0.4"/><circle cx="633.3" cy="380.8" r="0.4"/><circle cx="650.7" cy="393.6" r="0.4"/><circle cx="615.4" cy="368.6" r="0.4"/><circle cx="615.2" cy="368.1" r="0.4"/><circle cx="631.6" cy="380.4" r="0.4"/><circle cx="637.7" cy="384.2" r="0.4"/><circle cx="628.6" cy="378.4" r="0.4"/><circle cx="627.0" cy="377.7" r="0.4"/><circle cx="634.5" cy="383.1" r="0.4"/><circle cx="624.9" cy="375.1" r="0.4"/><circle cx="615.3" cy="368.9" r="0.4"/><circle cx="628.8" cy="377.2" r="0.4"/><circle cx="616.3" cy="368.3" r="0.4"/><circle cx="616.5" cy="368.7" r="0.4"/><circle cx="631.9" cy="380.0" r="0.4"/><circle cx="634.0" cy="381.0" r="0.4"/><circle cx="632.1" cy="379.7" r="0.4"/><circle cx="636.8" cy="384.0" r="0.4"/><circle cx="630.7" cy="379.6" r="0.4"/><circle cx="633.8" cy="381.9" r="0.4"/><circle cx="638.4" cy="385.4" r="0.4"/><circle cx="634.7" cy="383.4" r="0.4"/><circle cx="634.8" cy="381.5" r="0.4"/><circle cx="641.3" cy="387.4" r="0.4"/><circle cx="647.5" cy="390.8" r="0.4"/><circle cx="626.9" cy="377.6" r="0.4"/><circle cx="634.2" cy="382.1" r="0.4"/><circle cx="642.2" cy="388.0" r="0.4"/><circle cx="651.6" cy="393.3" r="0.4"/><circle cx="615.1" cy="368.2" r="0.4"/><circle cx="629.3" cy="378.5" r="0.4"/><circle cx="634.1" cy="381.9" r="0.4"/><circle cx="638.4" cy="385.3" r="0.4"/><circle cx="627.2" cy="377.3" r="0.4"/><circle cx="626.3" cy="375.5" r="0.4"/></g>
<g fill="#ef8a84"><circle cx="629.1" cy="362.2" r="0.45"/><circle cx="654.0" cy="356.8" r="0.45"/><circle cx="644.8" cy="360.3" r="0.45"/><circle cx="641.4" cy="358.5" r="0.45"/><circle cx="639.4" cy="359.8" r="0.45"/><circle cx="667.1" cy="353.9" r="0.45"/><circle cx="629.7" cy="361.3" r="0.45"/><circle cx="628.4" cy="361.3" r="0.45"/><circle cx="656.5" cy="357.3" r="0.45"/><circle cx="628.7" cy="362.3" r="0.45"/><circle cx="628.6" cy="362.3" r="0.45"/><circle cx="657.1" cy="356.6" r="0.45"/><circle cx="641.7" cy="359.4" r="0.45"/><circle cx="630.3" cy="360.7" r="0.45"/><circle cx="668.5" cy="353.3" r="0.45"/><circle cx="645.6" cy="358.9" r="0.45"/><circle cx="638.9" cy="360.8" r="0.45"/><circle cx="666.4" cy="354.5" r="0.45"/><circle cx="641.8" cy="360.2" r="0.45"/><circle cx="643.4" cy="360.2" r="0.45"/><circle cx="661.0" cy="354.9" r="0.45"/><circle cx="651.6" cy="358.6" r="0.45"/><circle cx="665.7" cy="354.3" r="0.45"/><circle cx="648.4" cy="358.2" r="0.45"/><circle cx="669.1" cy="352.5" r="0.45"/><circle cx="627.2" cy="361.4" r="0.45"/><circle cx="629.6" cy="361.9" r="0.45"/><circle cx="667.2" cy="354.3" r="0.45"/><circle cx="631.7" cy="360.4" r="0.45"/><circle cx="636.6" cy="361.3" r="0.45"/><circle cx="649.4" cy="357.8" r="0.45"/><circle cx="641.5" cy="359.8" r="0.45"/><circle cx="647.3" cy="358.5" r="0.45"/><circle cx="658.3" cy="355.9" r="0.45"/><circle cx="662.8" cy="354.0" r="0.45"/><circle cx="662.8" cy="354.1" r="0.45"/><circle cx="668.9" cy="352.8" r="0.45"/><circle cx="658.1" cy="355.6" r="0.45"/><circle cx="645.2" cy="360.1" r="0.45"/><circle cx="670.6" cy="353.1" r="0.45"/><circle cx="634.2" cy="360.9" r="0.45"/><circle cx="670.2" cy="353.3" r="0.45"/><circle cx="629.9" cy="360.6" r="0.45"/><circle cx="633.9" cy="361.1" r="0.45"/><circle cx="652.3" cy="357.5" r="0.45"/><circle cx="630.2" cy="361.7" r="0.45"/><circle cx="635.9" cy="359.9" r="0.45"/><circle cx="635.6" cy="361.0" r="0.45"/><circle cx="633.1" cy="360.5" r="0.45"/><circle cx="650.8" cy="357.5" r="0.45"/><circle cx="638.0" cy="359.7" r="0.45"/><circle cx="639.8" cy="359.6" r="0.45"/><circle cx="647.6" cy="358.9" r="0.45"/><circle cx="669.0" cy="352.9" r="0.45"/><circle cx="649.2" cy="358.2" r="0.45"/><circle cx="670.6" cy="352.6" r="0.45"/><circle cx="625.0" cy="362.0" r="0.45"/><circle cx="661.7" cy="354.5" r="0.45"/><circle cx="632.6" cy="361.4" r="0.45"/><circle cx="637.5" cy="360.0" r="0.45"/></g>
<path d="M602.3,364.9 L613.2,366.0 L645,359.4 L671.2,352.8 M613.2,366.0 L651.5,394.4" fill="none" stroke="#777" stroke-width="0.4"/>
<path d="M665,352 C668,351 670,351 672,352.5 C670,354 667,354 665,353.5 Z" fill="#ee6e6a" stroke="none" stroke-width="0.5"/>
<path d="M536.5,357.2 C540,355.3 545,355.8 548,357.4 C545,359 540,359.3 536.5,357.2 Z" fill="#ee6e6a" stroke="none" stroke-width="0.5"/>
<g fill="#ee6e6a"><circle cx="544.4" cy="357.4" r="0.6"/><circle cx="543.4" cy="358.1" r="0.6"/><circle cx="537.4" cy="356.3" r="0.6"/><circle cx="546.4" cy="357.7" r="0.6"/><circle cx="545.4" cy="357.8" r="0.6"/><circle cx="542.8" cy="357.2" r="0.6"/><circle cx="546.1" cy="358.4" r="0.6"/><circle cx="541.8" cy="357.3" r="0.6"/><circle cx="546.3" cy="358.1" r="0.6"/><circle cx="543.3" cy="358.2" r="0.6"/><circle cx="540.4" cy="357.5" r="0.6"/><circle cx="539.6" cy="357.5" r="0.6"/><circle cx="540.9" cy="357.1" r="0.6"/><circle cx="540.1" cy="357.7" r="0.6"/><circle cx="546.1" cy="357.5" r="0.6"/><circle cx="541.1" cy="357.0" r="0.6"/><circle cx="543.1" cy="357.4" r="0.6"/><circle cx="548.0" cy="357.3" r="0.6"/><circle cx="543.7" cy="357.9" r="0.6"/><circle cx="542.8" cy="357.8" r="0.6"/><circle cx="541.1" cy="357.0" r="0.6"/><circle cx="539.1" cy="356.8" r="0.6"/><circle cx="546.7" cy="357.3" r="0.6"/><circle cx="540.8" cy="357.1" r="0.6"/><circle cx="539.2" cy="357.7" r="0.6"/><circle cx="545.0" cy="357.9" r="0.6"/><circle cx="546.0" cy="357.4" r="0.6"/><circle cx="539.6" cy="357.5" r="0.6"/><circle cx="542.5" cy="357.9" r="0.6"/><circle cx="541.0" cy="357.3" r="0.6"/></g>
<g fill="#1fae8c"><circle cx="605.5" cy="343.3" r="0.55"/><circle cx="579.5" cy="349.6" r="0.55"/><circle cx="583.1" cy="347.0" r="0.55"/><circle cx="606.1" cy="342.9" r="0.55"/><circle cx="560.8" cy="354.1" r="0.55"/><circle cx="598.8" cy="345.7" r="0.55"/><circle cx="590.3" cy="346.1" r="0.55"/><circle cx="596.6" cy="346.7" r="0.55"/><circle cx="612.7" cy="342.0" r="0.55"/><circle cx="590.1" cy="348.1" r="0.55"/><circle cx="617.3" cy="341.0" r="0.55"/><circle cx="609.8" cy="344.3" r="0.55"/><circle cx="597.1" cy="345.9" r="0.55"/><circle cx="573.6" cy="350.3" r="0.55"/><circle cx="579.9" cy="349.3" r="0.55"/><circle cx="588.5" cy="349.0" r="0.55"/><circle cx="568.6" cy="351.7" r="0.55"/><circle cx="592.6" cy="346.4" r="0.55"/><circle cx="614.7" cy="342.0" r="0.55"/><circle cx="596.3" cy="346.8" r="0.55"/><circle cx="577.4" cy="349.8" r="0.55"/><circle cx="594.0" cy="346.0" r="0.55"/><circle cx="592.4" cy="346.8" r="0.55"/><circle cx="572.0" cy="351.4" r="0.55"/><circle cx="598.5" cy="346.1" r="0.55"/><circle cx="602.9" cy="344.8" r="0.55"/><circle cx="607.8" cy="343.4" r="0.55"/><circle cx="588.0" cy="348.2" r="0.55"/><circle cx="593.9" cy="347.1" r="0.55"/><circle cx="575.1" cy="350.2" r="0.55"/><circle cx="598.7" cy="345.7" r="0.55"/><circle cx="569.3" cy="351.8" r="0.55"/><circle cx="587.0" cy="348.2" r="0.55"/><circle cx="600.7" cy="343.9" r="0.55"/><circle cx="589.8" cy="347.5" r="0.55"/><circle cx="609.9" cy="343.1" r="0.55"/><circle cx="594.0" cy="346.1" r="0.55"/><circle cx="589.8" cy="347.6" r="0.55"/><circle cx="579.8" cy="350.0" r="0.55"/><circle cx="613.0" cy="341.4" r="0.55"/><circle cx="604.1" cy="344.8" r="0.55"/><circle cx="564.6" cy="353.4" r="0.55"/><circle cx="589.5" cy="347.4" r="0.55"/><circle cx="600.5" cy="344.7" r="0.55"/><circle cx="577.7" cy="350.2" r="0.55"/><circle cx="565.4" cy="352.2" r="0.55"/><circle cx="599.7" cy="344.7" r="0.55"/><circle cx="607.7" cy="344.3" r="0.55"/><circle cx="593.7" cy="346.3" r="0.55"/><circle cx="607.3" cy="344.1" r="0.55"/><circle cx="616.6" cy="341.5" r="0.55"/><circle cx="577.6" cy="350.2" r="0.55"/><circle cx="613.0" cy="341.7" r="0.55"/><circle cx="580.9" cy="349.1" r="0.55"/><circle cx="562.2" cy="353.2" r="0.55"/><circle cx="590.9" cy="346.7" r="0.55"/><circle cx="588.0" cy="348.2" r="0.55"/><circle cx="614.7" cy="341.6" r="0.55"/><circle cx="609.0" cy="343.5" r="0.55"/><circle cx="571.6" cy="350.3" r="0.55"/><circle cx="571.7" cy="351.0" r="0.55"/><circle cx="612.2" cy="342.5" r="0.55"/><circle cx="602.3" cy="345.6" r="0.55"/><circle cx="611.2" cy="342.2" r="0.55"/><circle cx="601.6" cy="344.5" r="0.55"/><circle cx="564.7" cy="353.4" r="0.55"/><circle cx="602.0" cy="344.9" r="0.55"/><circle cx="573.3" cy="349.9" r="0.55"/><circle cx="581.3" cy="348.0" r="0.55"/><circle cx="594.9" cy="346.7" r="0.55"/><circle cx="614.4" cy="341.4" r="0.55"/><circle cx="599.2" cy="346.4" r="0.55"/><circle cx="585.2" cy="348.0" r="0.55"/><circle cx="562.3" cy="353.0" r="0.55"/><circle cx="574.9" cy="350.4" r="0.55"/><circle cx="576.8" cy="349.7" r="0.55"/><circle cx="576.1" cy="350.1" r="0.55"/><circle cx="613.1" cy="342.2" r="0.55"/><circle cx="587.2" cy="347.3" r="0.55"/><circle cx="614.4" cy="341.8" r="0.55"/><circle cx="592.4" cy="346.2" r="0.55"/><circle cx="599.0" cy="344.6" r="0.55"/><circle cx="590.3" cy="346.5" r="0.55"/><circle cx="591.1" cy="347.0" r="0.55"/><circle cx="606.4" cy="344.4" r="0.55"/><circle cx="572.9" cy="351.2" r="0.55"/><circle cx="606.5" cy="343.2" r="0.55"/><circle cx="589.0" cy="348.3" r="0.55"/><circle cx="590.2" cy="347.5" r="0.55"/><circle cx="601.1" cy="344.0" r="0.55"/><circle cx="570.7" cy="351.6" r="0.55"/><circle cx="588.7" cy="347.7" r="0.55"/><circle cx="575.6" cy="350.2" r="0.55"/><circle cx="612.8" cy="341.8" r="0.55"/><circle cx="606.7" cy="343.9" r="0.55"/><circle cx="578.8" cy="350.0" r="0.55"/><circle cx="596.2" cy="345.7" r="0.55"/><circle cx="595.7" cy="346.8" r="0.55"/><circle cx="570.1" cy="352.0" r="0.55"/><circle cx="601.2" cy="343.9" r="0.55"/><circle cx="563.1" cy="353.4" r="0.55"/><circle cx="572.9" cy="351.0" r="0.55"/><circle cx="589.0" cy="345.7" r="0.55"/><circle cx="567.6" cy="352.3" r="0.55"/><circle cx="562.4" cy="354.6" r="0.55"/><circle cx="568.0" cy="352.4" r="0.55"/><circle cx="585.2" cy="348.4" r="0.55"/><circle cx="618.9" cy="340.0" r="0.55"/><circle cx="573.5" cy="351.6" r="0.55"/><circle cx="572.9" cy="351.1" r="0.55"/><circle cx="580.6" cy="350.6" r="0.55"/><circle cx="596.6" cy="346.0" r="0.55"/><circle cx="598.8" cy="345.6" r="0.55"/><circle cx="601.5" cy="344.2" r="0.55"/><circle cx="611.7" cy="342.5" r="0.55"/><circle cx="609.0" cy="343.6" r="0.55"/><circle cx="572.5" cy="351.4" r="0.55"/><circle cx="592.6" cy="347.0" r="0.55"/><circle cx="572.1" cy="351.2" r="0.55"/><circle cx="587.3" cy="348.0" r="0.55"/><circle cx="611.1" cy="343.2" r="0.55"/><circle cx="564.1" cy="352.4" r="0.55"/><circle cx="576.6" cy="350.3" r="0.55"/><circle cx="574.4" cy="351.3" r="0.55"/><circle cx="602.1" cy="345.1" r="0.55"/><circle cx="569.6" cy="351.7" r="0.55"/><circle cx="604.9" cy="342.6" r="0.55"/><circle cx="560.9" cy="354.2" r="0.55"/><circle cx="565.3" cy="352.5" r="0.55"/><circle cx="605.3" cy="343.8" r="0.55"/><circle cx="583.2" cy="348.9" r="0.55"/><circle cx="568.8" cy="351.8" r="0.55"/><circle cx="577.7" cy="350.2" r="0.55"/><circle cx="567.9" cy="351.7" r="0.55"/><circle cx="602.6" cy="344.1" r="0.55"/><circle cx="571.9" cy="352.1" r="0.55"/><circle cx="583.0" cy="349.4" r="0.55"/><circle cx="573.2" cy="351.5" r="0.55"/><circle cx="572.9" cy="351.1" r="0.55"/><circle cx="596.2" cy="345.2" r="0.55"/><circle cx="617.3" cy="342.1" r="0.55"/><circle cx="614.4" cy="342.8" r="0.55"/><circle cx="600.5" cy="344.8" r="0.55"/><circle cx="573.7" cy="350.6" r="0.55"/><circle cx="585.1" cy="348.4" r="0.55"/><circle cx="582.3" cy="349.5" r="0.55"/><circle cx="576.8" cy="350.7" r="0.55"/><circle cx="588.5" cy="348.4" r="0.55"/><circle cx="574.6" cy="351.1" r="0.55"/><circle cx="585.4" cy="349.0" r="0.55"/><circle cx="600.5" cy="344.4" r="0.55"/><circle cx="560.9" cy="354.0" r="0.55"/><circle cx="563.5" cy="353.2" r="0.55"/><circle cx="588.6" cy="347.1" r="0.55"/><circle cx="579.2" cy="349.8" r="0.55"/><circle cx="581.1" cy="348.9" r="0.55"/><circle cx="575.3" cy="350.1" r="0.55"/><circle cx="586.6" cy="346.8" r="0.55"/><circle cx="580.1" cy="348.5" r="0.55"/><circle cx="604.9" cy="343.2" r="0.55"/><circle cx="583.8" cy="348.8" r="0.55"/><circle cx="609.4" cy="342.7" r="0.55"/><circle cx="614.0" cy="342.1" r="0.55"/><circle cx="589.7" cy="347.8" r="0.55"/><circle cx="617.9" cy="341.5" r="0.55"/><circle cx="573.3" cy="350.5" r="0.55"/><circle cx="559.5" cy="353.7" r="0.55"/><circle cx="573.2" cy="350.8" r="0.55"/><circle cx="591.8" cy="346.2" r="0.55"/><circle cx="609.6" cy="342.9" r="0.55"/></g>
<g fill="#5ab33e"><circle cx="638.4" cy="337.1" r="0.55"/><circle cx="655.9" cy="332.2" r="0.55"/><circle cx="668.4" cy="329.3" r="0.55"/><circle cx="650.8" cy="334.2" r="0.55"/><circle cx="638.9" cy="338.1" r="0.55"/><circle cx="647.3" cy="335.7" r="0.55"/><circle cx="637.3" cy="338.4" r="0.55"/><circle cx="627.4" cy="340.2" r="0.55"/><circle cx="625.9" cy="340.1" r="0.55"/><circle cx="643.3" cy="335.5" r="0.55"/><circle cx="629.8" cy="338.8" r="0.55"/><circle cx="623.6" cy="341.7" r="0.55"/><circle cx="659.4" cy="332.7" r="0.55"/><circle cx="633.3" cy="338.1" r="0.55"/><circle cx="637.5" cy="336.5" r="0.55"/><circle cx="661.1" cy="331.3" r="0.55"/><circle cx="654.9" cy="332.3" r="0.55"/><circle cx="660.8" cy="332.4" r="0.55"/><circle cx="653.9" cy="334.0" r="0.55"/><circle cx="620.4" cy="340.7" r="0.55"/><circle cx="669.2" cy="330.2" r="0.55"/><circle cx="641.2" cy="336.1" r="0.55"/><circle cx="667.0" cy="330.1" r="0.55"/><circle cx="656.2" cy="333.2" r="0.55"/><circle cx="634.8" cy="336.3" r="0.55"/><circle cx="626.8" cy="340.3" r="0.55"/><circle cx="647.1" cy="335.2" r="0.55"/><circle cx="636.6" cy="336.8" r="0.55"/><circle cx="634.3" cy="338.7" r="0.55"/><circle cx="659.2" cy="332.4" r="0.55"/><circle cx="654.1" cy="333.0" r="0.55"/><circle cx="628.3" cy="340.1" r="0.55"/><circle cx="666.8" cy="330.8" r="0.55"/><circle cx="626.9" cy="340.3" r="0.55"/><circle cx="649.3" cy="335.5" r="0.55"/><circle cx="634.6" cy="339.0" r="0.55"/><circle cx="639.0" cy="337.4" r="0.55"/><circle cx="624.6" cy="340.5" r="0.55"/><circle cx="625.1" cy="341.3" r="0.55"/><circle cx="670.2" cy="330.3" r="0.55"/><circle cx="643.9" cy="336.4" r="0.55"/><circle cx="641.2" cy="337.1" r="0.55"/><circle cx="652.9" cy="333.4" r="0.55"/><circle cx="668.3" cy="328.5" r="0.55"/><circle cx="643.3" cy="335.5" r="0.55"/><circle cx="630.0" cy="339.6" r="0.55"/><circle cx="627.3" cy="340.4" r="0.55"/><circle cx="657.8" cy="333.2" r="0.55"/><circle cx="621.9" cy="342.9" r="0.55"/><circle cx="620.5" cy="341.3" r="0.55"/><circle cx="659.9" cy="331.5" r="0.55"/><circle cx="660.9" cy="331.1" r="0.55"/><circle cx="670.5" cy="330.2" r="0.55"/><circle cx="640.6" cy="336.3" r="0.55"/><circle cx="666.4" cy="330.5" r="0.55"/><circle cx="631.7" cy="339.3" r="0.55"/><circle cx="653.5" cy="333.2" r="0.55"/><circle cx="652.1" cy="334.3" r="0.55"/><circle cx="665.3" cy="330.7" r="0.55"/><circle cx="637.4" cy="337.2" r="0.55"/><circle cx="656.7" cy="332.4" r="0.55"/><circle cx="630.0" cy="339.7" r="0.55"/><circle cx="638.1" cy="337.4" r="0.55"/><circle cx="645.3" cy="335.9" r="0.55"/><circle cx="647.8" cy="335.1" r="0.55"/><circle cx="663.8" cy="331.7" r="0.55"/><circle cx="627.0" cy="340.3" r="0.55"/><circle cx="668.3" cy="330.2" r="0.55"/><circle cx="655.9" cy="333.6" r="0.55"/><circle cx="654.8" cy="333.3" r="0.55"/><circle cx="628.9" cy="340.8" r="0.55"/><circle cx="627.9" cy="339.4" r="0.55"/><circle cx="652.8" cy="334.7" r="0.55"/><circle cx="665.1" cy="330.1" r="0.55"/><circle cx="645.5" cy="335.4" r="0.55"/><circle cx="661.9" cy="330.8" r="0.55"/><circle cx="653.2" cy="333.9" r="0.55"/><circle cx="631.7" cy="338.4" r="0.55"/><circle cx="647.1" cy="335.6" r="0.55"/><circle cx="642.3" cy="335.8" r="0.55"/><circle cx="667.1" cy="330.6" r="0.55"/><circle cx="669.6" cy="328.7" r="0.55"/><circle cx="657.8" cy="332.7" r="0.55"/><circle cx="664.9" cy="332.3" r="0.55"/><circle cx="645.2" cy="336.9" r="0.55"/><circle cx="653.9" cy="333.4" r="0.55"/><circle cx="658.3" cy="331.9" r="0.55"/><circle cx="624.8" cy="340.1" r="0.55"/><circle cx="633.6" cy="338.0" r="0.55"/><circle cx="647.6" cy="334.9" r="0.55"/><circle cx="634.6" cy="338.1" r="0.55"/><circle cx="648.4" cy="334.3" r="0.55"/><circle cx="633.2" cy="337.6" r="0.55"/><circle cx="657.6" cy="332.0" r="0.55"/><circle cx="660.5" cy="332.5" r="0.55"/><circle cx="626.5" cy="340.5" r="0.55"/><circle cx="663.6" cy="330.8" r="0.55"/><circle cx="629.0" cy="340.2" r="0.55"/><circle cx="651.5" cy="334.1" r="0.55"/><circle cx="669.6" cy="330.1" r="0.55"/><circle cx="664.0" cy="330.5" r="0.55"/><circle cx="653.8" cy="333.6" r="0.55"/><circle cx="637.4" cy="338.3" r="0.55"/><circle cx="634.0" cy="337.7" r="0.55"/><circle cx="630.5" cy="340.1" r="0.55"/><circle cx="644.1" cy="336.2" r="0.55"/><circle cx="666.7" cy="329.6" r="0.55"/><circle cx="631.6" cy="339.2" r="0.55"/><circle cx="656.9" cy="333.2" r="0.55"/><circle cx="641.6" cy="337.4" r="0.55"/><circle cx="642.1" cy="336.0" r="0.55"/><circle cx="642.0" cy="336.1" r="0.55"/><circle cx="637.9" cy="337.0" r="0.55"/><circle cx="649.2" cy="335.9" r="0.55"/><circle cx="635.6" cy="337.5" r="0.55"/><circle cx="643.9" cy="335.9" r="0.55"/><circle cx="657.0" cy="332.3" r="0.55"/><circle cx="623.7" cy="341.1" r="0.55"/><circle cx="643.1" cy="336.2" r="0.55"/><circle cx="654.9" cy="332.9" r="0.55"/><circle cx="642.1" cy="337.6" r="0.55"/><circle cx="632.9" cy="338.8" r="0.55"/><circle cx="661.8" cy="331.1" r="0.55"/><circle cx="648.9" cy="335.8" r="0.55"/><circle cx="625.0" cy="341.0" r="0.55"/><circle cx="656.3" cy="332.5" r="0.55"/><circle cx="665.2" cy="330.5" r="0.55"/><circle cx="651.5" cy="334.1" r="0.55"/><circle cx="643.5" cy="336.9" r="0.55"/><circle cx="652.4" cy="334.0" r="0.55"/><circle cx="668.8" cy="329.9" r="0.55"/><circle cx="652.3" cy="331.8" r="0.55"/><circle cx="623.7" cy="340.9" r="0.55"/><circle cx="653.6" cy="335.5" r="0.55"/><circle cx="631.1" cy="339.3" r="0.55"/><circle cx="640.4" cy="336.6" r="0.55"/><circle cx="628.7" cy="338.9" r="0.55"/><circle cx="657.4" cy="333.8" r="0.55"/><circle cx="657.0" cy="332.6" r="0.55"/><circle cx="645.2" cy="336.1" r="0.55"/><circle cx="667.4" cy="329.8" r="0.55"/><circle cx="637.5" cy="337.2" r="0.55"/><circle cx="626.6" cy="339.8" r="0.55"/><circle cx="646.5" cy="336.1" r="0.55"/><circle cx="628.0" cy="340.4" r="0.55"/><circle cx="635.5" cy="337.6" r="0.55"/><circle cx="641.7" cy="336.8" r="0.55"/><circle cx="642.6" cy="336.0" r="0.55"/><circle cx="663.7" cy="332.0" r="0.55"/><circle cx="629.3" cy="339.6" r="0.55"/><circle cx="640.1" cy="336.0" r="0.55"/><circle cx="668.2" cy="329.7" r="0.55"/><circle cx="629.0" cy="338.9" r="0.55"/><circle cx="656.4" cy="333.7" r="0.55"/><circle cx="622.8" cy="341.6" r="0.55"/><circle cx="667.6" cy="328.7" r="0.55"/><circle cx="623.1" cy="341.2" r="0.55"/><circle cx="634.8" cy="339.3" r="0.55"/><circle cx="636.3" cy="337.7" r="0.55"/><circle cx="665.2" cy="330.5" r="0.55"/><circle cx="646.1" cy="335.3" r="0.55"/><circle cx="635.7" cy="337.6" r="0.55"/><circle cx="638.5" cy="337.5" r="0.55"/><circle cx="638.0" cy="337.6" r="0.55"/><circle cx="623.5" cy="340.8" r="0.55"/><circle cx="646.4" cy="335.1" r="0.55"/><circle cx="632.4" cy="339.3" r="0.55"/><circle cx="636.0" cy="337.9" r="0.55"/><circle cx="657.8" cy="332.6" r="0.55"/><circle cx="641.1" cy="336.7" r="0.55"/></g>
<path d="M659,331.5 C663,329 668,328.8 672.5,330.5 C672.5,333 668.5,334.8 663,334.2 Z" fill="#5ab33e" stroke="none" stroke-width="0.5"/>
<g fill="#5ab33e"><circle cx="667.4" cy="331.5" r="0.6"/><circle cx="666.1" cy="332.3" r="0.6"/><circle cx="666.0" cy="331.3" r="0.6"/><circle cx="664.0" cy="331.6" r="0.6"/><circle cx="661.2" cy="332.4" r="0.6"/><circle cx="663.2" cy="331.0" r="0.6"/><circle cx="668.9" cy="332.0" r="0.6"/><circle cx="669.7" cy="333.0" r="0.6"/><circle cx="668.8" cy="332.3" r="0.6"/><circle cx="669.3" cy="330.3" r="0.6"/><circle cx="660.6" cy="331.7" r="0.6"/><circle cx="664.9" cy="331.0" r="0.6"/><circle cx="669.1" cy="332.0" r="0.6"/><circle cx="668.2" cy="331.6" r="0.6"/><circle cx="666.9" cy="332.3" r="0.6"/><circle cx="671.1" cy="331.3" r="0.6"/><circle cx="667.2" cy="332.2" r="0.6"/><circle cx="663.2" cy="332.1" r="0.6"/><circle cx="660.7" cy="333.3" r="0.6"/><circle cx="662.1" cy="333.1" r="0.6"/><circle cx="666.9" cy="331.5" r="0.6"/><circle cx="660.5" cy="334.0" r="0.6"/><circle cx="666.7" cy="331.4" r="0.6"/><circle cx="662.9" cy="331.4" r="0.6"/><circle cx="662.1" cy="331.2" r="0.6"/><circle cx="659.5" cy="332.3" r="0.6"/><circle cx="668.4" cy="331.2" r="0.6"/><circle cx="666.4" cy="332.7" r="0.6"/><circle cx="661.1" cy="331.4" r="0.6"/><circle cx="666.7" cy="332.5" r="0.6"/><circle cx="661.1" cy="332.9" r="0.6"/><circle cx="664.8" cy="332.5" r="0.6"/><circle cx="668.5" cy="332.5" r="0.6"/><circle cx="666.1" cy="331.7" r="0.6"/><circle cx="667.7" cy="332.3" r="0.6"/><circle cx="667.4" cy="331.3" r="0.6"/><circle cx="661.1" cy="331.2" r="0.6"/><circle cx="666.7" cy="332.2" r="0.6"/><circle cx="668.1" cy="331.4" r="0.6"/><circle cx="664.4" cy="331.8" r="0.6"/><circle cx="668.9" cy="332.1" r="0.6"/><circle cx="670.7" cy="331.9" r="0.6"/><circle cx="665.5" cy="331.5" r="0.6"/><circle cx="663.1" cy="331.5" r="0.6"/><circle cx="670.2" cy="332.5" r="0.6"/></g>
<g fill="#8a7fd0"><circle cx="622.4" cy="348.8" r="0.6"/><circle cx="624.9" cy="349.5" r="0.6"/><circle cx="625.2" cy="347.7" r="0.6"/><circle cx="623.3" cy="350.2" r="0.6"/><circle cx="624.2" cy="350.3" r="0.6"/><circle cx="624.6" cy="349.5" r="0.6"/><circle cx="620.6" cy="347.4" r="0.6"/><circle cx="622.5" cy="348.5" r="0.6"/><circle cx="623.3" cy="349.0" r="0.6"/><circle cx="621.0" cy="348.0" r="0.6"/><circle cx="622.7" cy="346.8" r="0.6"/><circle cx="623.0" cy="348.4" r="0.6"/><circle cx="622.8" cy="347.2" r="0.6"/><circle cx="624.9" cy="349.3" r="0.6"/><circle cx="624.9" cy="350.3" r="0.6"/><circle cx="621.5" cy="348.2" r="0.6"/><circle cx="625.4" cy="348.7" r="0.6"/><circle cx="623.5" cy="349.0" r="0.6"/><circle cx="627.0" cy="350.5" r="0.6"/><circle cx="625.6" cy="349.5" r="0.6"/><circle cx="621.2" cy="347.6" r="0.6"/><circle cx="625.4" cy="350.8" r="0.6"/><circle cx="621.2" cy="347.4" r="0.6"/><circle cx="619.3" cy="346.7" r="0.6"/><circle cx="625.2" cy="347.9" r="0.6"/></g>
<g fill="#c95fc0"><circle cx="624.7" cy="349.6" r="0.6"/><circle cx="622.2" cy="348.7" r="0.6"/><circle cx="624.3" cy="350.1" r="0.6"/><circle cx="623.4" cy="349.1" r="0.6"/><circle cx="622.4" cy="348.7" r="0.6"/><circle cx="624.6" cy="349.7" r="0.6"/><circle cx="622.9" cy="347.6" r="0.6"/><circle cx="627.2" cy="349.5" r="0.6"/><circle cx="625.5" cy="349.7" r="0.6"/><circle cx="623.2" cy="348.7" r="0.6"/><circle cx="623.4" cy="348.5" r="0.6"/><circle cx="620.8" cy="348.4" r="0.6"/><circle cx="623.1" cy="349.3" r="0.6"/><circle cx="626.0" cy="350.0" r="0.6"/><circle cx="625.0" cy="349.1" r="0.6"/></g>
<path d="M559,361.5 C560.5,368 566.5,375.5 575,382 L587.5,390.5" fill="none" stroke="#ee6e6a" stroke-width="1.8" stroke-linecap="round"/>
<path d="M561.5,366.5 C565,373 570.5,378.5 578,384 L590,392" fill="none" stroke="#2aa6dc" stroke-width="1.6" stroke-linecap="round"/>
<g fill="#ee6e6a"><circle cx="574.1" cy="379.4" r="0.55"/><circle cx="560.5" cy="362.5" r="0.55"/><circle cx="587.0" cy="389.9" r="0.55"/><circle cx="567.8" cy="372.8" r="0.55"/><circle cx="580.1" cy="386.1" r="0.55"/><circle cx="572.2" cy="379.6" r="0.55"/><circle cx="571.0" cy="377.8" r="0.55"/><circle cx="564.2" cy="368.0" r="0.55"/><circle cx="571.6" cy="376.8" r="0.55"/><circle cx="565.2" cy="369.2" r="0.55"/><circle cx="572.6" cy="379.9" r="0.55"/><circle cx="564.2" cy="368.4" r="0.55"/><circle cx="567.6" cy="371.6" r="0.55"/><circle cx="580.5" cy="385.7" r="0.55"/><circle cx="579.9" cy="385.5" r="0.55"/><circle cx="570.5" cy="375.2" r="0.55"/><circle cx="570.0" cy="372.4" r="0.55"/><circle cx="569.9" cy="375.2" r="0.55"/><circle cx="580.0" cy="386.5" r="0.55"/><circle cx="568.8" cy="374.9" r="0.55"/><circle cx="578.1" cy="384.7" r="0.55"/><circle cx="559.3" cy="362.4" r="0.55"/><circle cx="561.4" cy="363.9" r="0.55"/><circle cx="565.7" cy="367.5" r="0.55"/><circle cx="584.5" cy="390.5" r="0.55"/><circle cx="562.7" cy="365.1" r="0.55"/><circle cx="564.9" cy="368.8" r="0.55"/><circle cx="583.5" cy="386.6" r="0.55"/><circle cx="570.7" cy="376.7" r="0.55"/><circle cx="566.6" cy="370.6" r="0.55"/><circle cx="564.0" cy="368.1" r="0.55"/><circle cx="567.3" cy="372.1" r="0.55"/><circle cx="571.9" cy="378.6" r="0.55"/><circle cx="578.4" cy="384.8" r="0.55"/><circle cx="561.6" cy="364.8" r="0.55"/><circle cx="567.3" cy="370.5" r="0.55"/><circle cx="572.4" cy="378.6" r="0.55"/><circle cx="573.4" cy="381.2" r="0.55"/><circle cx="585.8" cy="390.5" r="0.55"/><circle cx="582.2" cy="387.2" r="0.55"/><circle cx="585.8" cy="389.6" r="0.55"/><circle cx="579.7" cy="385.2" r="0.55"/><circle cx="564.0" cy="368.1" r="0.55"/><circle cx="565.2" cy="368.8" r="0.55"/><circle cx="580.2" cy="386.0" r="0.55"/><circle cx="571.2" cy="377.0" r="0.55"/><circle cx="567.6" cy="371.8" r="0.55"/><circle cx="574.8" cy="382.0" r="0.55"/><circle cx="575.2" cy="382.1" r="0.55"/><circle cx="583.2" cy="387.8" r="0.55"/><circle cx="572.5" cy="379.4" r="0.55"/><circle cx="584.9" cy="390.2" r="0.55"/><circle cx="583.1" cy="387.1" r="0.55"/><circle cx="572.7" cy="378.2" r="0.55"/><circle cx="563.7" cy="367.0" r="0.55"/><circle cx="575.0" cy="381.8" r="0.55"/><circle cx="567.4" cy="371.6" r="0.55"/><circle cx="567.5" cy="372.8" r="0.55"/><circle cx="584.4" cy="389.0" r="0.55"/><circle cx="559.1" cy="362.1" r="0.55"/><circle cx="573.4" cy="379.9" r="0.55"/><circle cx="561.1" cy="364.9" r="0.55"/><circle cx="576.5" cy="382.0" r="0.55"/><circle cx="571.5" cy="376.7" r="0.55"/><circle cx="565.9" cy="368.6" r="0.55"/><circle cx="566.5" cy="369.7" r="0.55"/><circle cx="568.8" cy="375.1" r="0.55"/><circle cx="571.3" cy="377.7" r="0.55"/><circle cx="581.9" cy="387.0" r="0.55"/><circle cx="564.7" cy="369.4" r="0.55"/></g>
<g fill="#2aa6dc"><circle cx="586.1" cy="388.8" r="0.55"/><circle cx="581.3" cy="385.6" r="0.55"/><circle cx="585.1" cy="388.7" r="0.55"/><circle cx="585.0" cy="389.6" r="0.55"/><circle cx="589.1" cy="391.5" r="0.55"/><circle cx="571.4" cy="377.4" r="0.55"/><circle cx="589.0" cy="390.8" r="0.55"/><circle cx="563.6" cy="370.5" r="0.55"/><circle cx="590.8" cy="392.3" r="0.55"/><circle cx="566.6" cy="373.0" r="0.55"/><circle cx="590.3" cy="392.5" r="0.55"/><circle cx="583.4" cy="387.8" r="0.55"/><circle cx="583.9" cy="387.1" r="0.55"/><circle cx="578.1" cy="383.9" r="0.55"/><circle cx="574.7" cy="382.5" r="0.55"/><circle cx="563.2" cy="370.5" r="0.55"/><circle cx="567.5" cy="374.3" r="0.55"/><circle cx="580.7" cy="386.7" r="0.55"/><circle cx="569.6" cy="377.1" r="0.55"/><circle cx="581.5" cy="386.4" r="0.55"/><circle cx="589.1" cy="391.2" r="0.55"/><circle cx="588.3" cy="391.0" r="0.55"/><circle cx="583.6" cy="388.8" r="0.55"/><circle cx="575.8" cy="383.0" r="0.55"/><circle cx="586.0" cy="390.0" r="0.55"/><circle cx="582.9" cy="388.2" r="0.55"/><circle cx="577.7" cy="385.0" r="0.55"/><circle cx="564.4" cy="371.1" r="0.55"/><circle cx="576.9" cy="382.8" r="0.55"/><circle cx="572.7" cy="380.3" r="0.55"/><circle cx="575.0" cy="381.6" r="0.55"/><circle cx="573.2" cy="379.7" r="0.55"/><circle cx="576.0" cy="382.8" r="0.55"/><circle cx="587.9" cy="391.8" r="0.55"/><circle cx="590.5" cy="392.9" r="0.55"/><circle cx="583.9" cy="388.3" r="0.55"/><circle cx="576.6" cy="384.7" r="0.55"/><circle cx="581.9" cy="388.3" r="0.55"/><circle cx="579.6" cy="385.2" r="0.55"/><circle cx="574.1" cy="381.0" r="0.55"/><circle cx="589.7" cy="391.9" r="0.55"/><circle cx="563.8" cy="371.8" r="0.55"/><circle cx="574.2" cy="381.2" r="0.55"/><circle cx="577.4" cy="383.7" r="0.55"/><circle cx="579.5" cy="385.1" r="0.55"/><circle cx="563.2" cy="369.9" r="0.55"/><circle cx="563.4" cy="370.5" r="0.55"/><circle cx="563.4" cy="371.4" r="0.55"/><circle cx="566.0" cy="371.5" r="0.55"/><circle cx="574.6" cy="381.8" r="0.55"/><circle cx="590.9" cy="393.0" r="0.55"/><circle cx="568.4" cy="374.4" r="0.55"/><circle cx="572.0" cy="380.7" r="0.55"/><circle cx="569.1" cy="375.0" r="0.55"/><circle cx="573.6" cy="381.5" r="0.55"/><circle cx="573.8" cy="381.9" r="0.55"/><circle cx="572.7" cy="381.0" r="0.55"/><circle cx="573.0" cy="381.4" r="0.55"/><circle cx="573.3" cy="382.1" r="0.55"/><circle cx="590.4" cy="391.9" r="0.55"/></g>
<path d="M587,390 L633,418.5" fill="none" stroke="#b8912a" stroke-width="2.6" stroke-linecap="round"/>
<g fill="#b8912a"><circle cx="617.2" cy="408.1" r="0.55"/><circle cx="620.9" cy="410.0" r="0.55"/><circle cx="616.0" cy="409.2" r="0.55"/><circle cx="596.0" cy="394.7" r="0.55"/><circle cx="631.4" cy="419.0" r="0.55"/><circle cx="584.6" cy="390.2" r="0.55"/><circle cx="597.0" cy="396.3" r="0.55"/><circle cx="604.6" cy="400.7" r="0.55"/><circle cx="629.8" cy="416.3" r="0.55"/><circle cx="624.8" cy="412.5" r="0.55"/><circle cx="613.0" cy="405.1" r="0.55"/><circle cx="620.3" cy="410.7" r="0.55"/><circle cx="617.9" cy="409.4" r="0.55"/><circle cx="633.3" cy="419.2" r="0.55"/><circle cx="600.3" cy="396.6" r="0.55"/><circle cx="597.3" cy="396.7" r="0.55"/><circle cx="609.3" cy="404.6" r="0.55"/><circle cx="627.5" cy="414.8" r="0.55"/><circle cx="623.3" cy="413.0" r="0.55"/><circle cx="613.1" cy="407.1" r="0.55"/><circle cx="630.8" cy="417.4" r="0.55"/><circle cx="601.9" cy="399.1" r="0.55"/><circle cx="599.0" cy="396.7" r="0.55"/><circle cx="624.3" cy="413.9" r="0.55"/><circle cx="602.0" cy="399.5" r="0.55"/><circle cx="602.7" cy="399.7" r="0.55"/><circle cx="601.2" cy="396.8" r="0.55"/><circle cx="597.2" cy="396.7" r="0.55"/><circle cx="589.5" cy="390.3" r="0.55"/><circle cx="596.5" cy="396.9" r="0.55"/><circle cx="587.0" cy="388.4" r="0.55"/><circle cx="594.8" cy="394.0" r="0.55"/><circle cx="601.6" cy="398.6" r="0.55"/><circle cx="607.4" cy="403.8" r="0.55"/><circle cx="623.0" cy="412.5" r="0.55"/><circle cx="632.5" cy="418.7" r="0.55"/><circle cx="616.0" cy="409.0" r="0.55"/><circle cx="600.6" cy="399.4" r="0.55"/><circle cx="625.8" cy="412.8" r="0.55"/><circle cx="592.5" cy="395.0" r="0.55"/><circle cx="596.6" cy="394.3" r="0.55"/><circle cx="595.5" cy="396.1" r="0.55"/><circle cx="620.7" cy="410.6" r="0.55"/><circle cx="588.5" cy="390.0" r="0.55"/><circle cx="613.2" cy="406.3" r="0.55"/><circle cx="603.0" cy="399.3" r="0.55"/><circle cx="626.7" cy="414.6" r="0.55"/><circle cx="585.8" cy="389.1" r="0.55"/><circle cx="597.5" cy="396.0" r="0.55"/><circle cx="599.8" cy="398.6" r="0.55"/><circle cx="611.5" cy="406.2" r="0.55"/><circle cx="596.8" cy="396.9" r="0.55"/><circle cx="585.4" cy="390.5" r="0.55"/><circle cx="599.1" cy="397.9" r="0.55"/><circle cx="606.8" cy="402.8" r="0.55"/><circle cx="627.6" cy="414.1" r="0.55"/><circle cx="616.3" cy="407.6" r="0.55"/><circle cx="604.1" cy="401.8" r="0.55"/><circle cx="606.5" cy="402.6" r="0.55"/><circle cx="623.3" cy="411.9" r="0.55"/><circle cx="586.0" cy="389.8" r="0.55"/><circle cx="622.7" cy="412.0" r="0.55"/><circle cx="595.2" cy="393.5" r="0.55"/><circle cx="617.3" cy="407.9" r="0.55"/><circle cx="606.0" cy="403.0" r="0.55"/><circle cx="629.0" cy="414.9" r="0.55"/><circle cx="625.6" cy="413.9" r="0.55"/><circle cx="630.7" cy="417.4" r="0.55"/><circle cx="600.5" cy="397.4" r="0.55"/><circle cx="634.8" cy="419.4" r="0.55"/><circle cx="586.1" cy="390.0" r="0.55"/><circle cx="616.5" cy="408.5" r="0.55"/><circle cx="628.8" cy="417.2" r="0.55"/><circle cx="613.0" cy="406.2" r="0.55"/><circle cx="608.2" cy="402.0" r="0.55"/><circle cx="594.5" cy="395.7" r="0.55"/><circle cx="600.2" cy="398.4" r="0.55"/><circle cx="586.1" cy="390.7" r="0.55"/><circle cx="596.5" cy="395.9" r="0.55"/><circle cx="602.0" cy="398.6" r="0.55"/><circle cx="589.5" cy="391.5" r="0.55"/><circle cx="623.9" cy="411.7" r="0.55"/><circle cx="589.1" cy="391.0" r="0.55"/><circle cx="591.8" cy="393.3" r="0.55"/><circle cx="590.9" cy="394.2" r="0.55"/><circle cx="600.3" cy="400.0" r="0.55"/><circle cx="593.1" cy="393.6" r="0.55"/><circle cx="630.9" cy="416.9" r="0.55"/><circle cx="603.6" cy="399.7" r="0.55"/><circle cx="619.7" cy="411.0" r="0.55"/><circle cx="631.5" cy="418.2" r="0.55"/><circle cx="628.9" cy="415.8" r="0.55"/><circle cx="594.0" cy="395.2" r="0.55"/><circle cx="624.9" cy="411.8" r="0.55"/><circle cx="616.6" cy="408.2" r="0.55"/><circle cx="619.2" cy="410.2" r="0.55"/><circle cx="607.9" cy="404.2" r="0.55"/><circle cx="589.6" cy="390.8" r="0.55"/><circle cx="602.6" cy="400.3" r="0.55"/><circle cx="613.9" cy="406.2" r="0.55"/><circle cx="607.6" cy="403.8" r="0.55"/><circle cx="612.2" cy="406.2" r="0.55"/><circle cx="621.2" cy="411.1" r="0.55"/><circle cx="586.9" cy="390.8" r="0.55"/><circle cx="624.5" cy="413.0" r="0.55"/><circle cx="621.5" cy="411.2" r="0.55"/><circle cx="624.9" cy="413.7" r="0.55"/><circle cx="588.4" cy="390.4" r="0.55"/><circle cx="603.5" cy="400.4" r="0.55"/><circle cx="624.2" cy="412.9" r="0.55"/><circle cx="587.3" cy="390.5" r="0.55"/><circle cx="594.6" cy="395.0" r="0.55"/><circle cx="616.0" cy="408.3" r="0.55"/><circle cx="610.4" cy="405.1" r="0.55"/><circle cx="611.5" cy="405.7" r="0.55"/><circle cx="608.8" cy="403.3" r="0.55"/><circle cx="594.2" cy="394.8" r="0.55"/><circle cx="626.9" cy="414.8" r="0.55"/><circle cx="611.4" cy="404.8" r="0.55"/><circle cx="603.2" cy="399.6" r="0.55"/><circle cx="619.1" cy="409.7" r="0.55"/><circle cx="598.3" cy="398.7" r="0.55"/><circle cx="622.1" cy="410.4" r="0.55"/><circle cx="592.7" cy="395.5" r="0.55"/><circle cx="623.4" cy="413.0" r="0.55"/><circle cx="621.0" cy="410.3" r="0.55"/><circle cx="615.7" cy="406.4" r="0.55"/><circle cx="615.0" cy="404.1" r="0.55"/><circle cx="624.1" cy="412.1" r="0.55"/><circle cx="591.1" cy="393.8" r="0.55"/><circle cx="591.4" cy="392.6" r="0.55"/><circle cx="615.0" cy="408.2" r="0.55"/><circle cx="614.4" cy="407.7" r="0.55"/><circle cx="626.8" cy="414.2" r="0.55"/><circle cx="602.4" cy="399.3" r="0.55"/><circle cx="626.1" cy="415.0" r="0.55"/><circle cx="601.3" cy="399.0" r="0.55"/><circle cx="584.8" cy="389.6" r="0.55"/><circle cx="632.4" cy="418.0" r="0.55"/><circle cx="619.5" cy="411.0" r="0.55"/><circle cx="620.8" cy="408.9" r="0.55"/><circle cx="604.9" cy="402.2" r="0.55"/><circle cx="600.0" cy="397.3" r="0.55"/><circle cx="618.7" cy="410.4" r="0.55"/><circle cx="631.7" cy="418.6" r="0.55"/><circle cx="593.6" cy="394.0" r="0.55"/><circle cx="593.7" cy="393.4" r="0.55"/><circle cx="617.6" cy="408.8" r="0.55"/><circle cx="590.6" cy="392.1" r="0.55"/><circle cx="624.2" cy="412.4" r="0.55"/><circle cx="625.8" cy="414.5" r="0.55"/><circle cx="616.4" cy="408.0" r="0.55"/><circle cx="586.6" cy="390.1" r="0.55"/><circle cx="611.3" cy="405.5" r="0.55"/><circle cx="624.3" cy="413.6" r="0.55"/><circle cx="617.0" cy="407.2" r="0.55"/><circle cx="610.2" cy="404.6" r="0.55"/><circle cx="618.2" cy="408.9" r="0.55"/><circle cx="621.6" cy="411.2" r="0.55"/><circle cx="584.9" cy="389.4" r="0.55"/></g>
<path d="M538,357.6 L562,359 L619.8,345.2 L670.1,332 M562,359 C563,366 569,375 577,381.5 L588,389.5 L632.9,418.5" fill="none" stroke="#222" stroke-width="0.55"/>
<circle cx="562.00" cy="359.20" r="1.40" fill="#fff" stroke="#111" stroke-width="0.9"/>
<circle cx="619.80" cy="345.20" r="1.50" fill="#111"/>
<circle cx="613.20" cy="366.20" r="1.00" fill="#222"/>
<circle cx="645.00" cy="359.60" r="0.90" fill="#222"/>
<rect x="574.30" y="406.20" width="29.50" height="7.60" fill="url(#gr2red)"/>
<line x1="581.70" y1="406.20" x2="581.70" y2="407.40" stroke="#fff" stroke-width="0.4"/>
<line x1="581.70" y1="412.60" x2="581.70" y2="413.80" stroke="#fff" stroke-width="0.4"/>
<line x1="589.10" y1="406.20" x2="589.10" y2="407.40" stroke="#fff" stroke-width="0.4"/>
<line x1="589.10" y1="412.60" x2="589.10" y2="413.80" stroke="#fff" stroke-width="0.4"/>
<line x1="596.40" y1="406.20" x2="596.40" y2="407.40" stroke="#fff" stroke-width="0.4"/>
<line x1="596.40" y1="412.60" x2="596.40" y2="413.80" stroke="#fff" stroke-width="0.4"/>
<text x="573.90" y="417.90" font-size="5.6" text-anchor="middle" fill="#222222" dominant-baseline="central" transform="rotate(0.05 573.90 417.90)">0</text>
<text x="581.90" y="417.90" font-size="5.6" text-anchor="middle" fill="#222222" dominant-baseline="central" transform="rotate(0.05 581.90 417.90)">2</text>
<text x="590.60" y="417.90" font-size="5.6" text-anchor="middle" fill="#222222" dominant-baseline="central" transform="rotate(0.05 590.60 417.90)">4</text>
<text x="598.80" y="417.90" font-size="5.6" text-anchor="middle" fill="#222222" dominant-baseline="central" transform="rotate(0.05 598.80 417.90)">6</text>
<text x="534.00" y="409.90" font-size="6.6" text-anchor="start" fill="#222222" dominant-baseline="central" transform="rotate(0.05 534.00 409.90)">log<tspan font-size="4.3" dy="1.8">10</tspan><tspan dy="-1.8">(counts)</tspan></text>
<circle cx="545.50" cy="455.90" r="1.50" fill="#ee6e6a"/>
<text x="549.10" y="455.90" font-size="6.6" text-anchor="start" fill="#222222" dominant-baseline="central" transform="rotate(0.05 549.10 455.90)">UTC0</text>
<circle cx="576.00" cy="455.90" r="1.50" fill="#5ab33e"/>
<text x="579.60" y="455.90" font-size="6.6" text-anchor="start" fill="#222222" dominant-baseline="central" transform="rotate(0.05 579.60 455.90)">UTC2</text>
<circle cx="607.30" cy="455.90" r="1.50" fill="#2aa6dc"/>
<text x="610.90" y="455.90" font-size="6.6" text-anchor="start" fill="#222222" dominant-baseline="central" transform="rotate(0.05 610.90 455.90)">UTC4</text>
<circle cx="635.90" cy="455.90" r="1.50" fill="#c95fc0"/>
<text x="639.50" y="455.90" font-size="6.6" text-anchor="start" fill="#222222" dominant-baseline="central" transform="rotate(0.05 639.50 455.90)">UTC6</text>
<circle cx="545.50" cy="465.30" r="1.50" fill="#b8912a"/>
<text x="549.10" y="465.30" font-size="6.6" text-anchor="start" fill="#222222" dominant-baseline="central" transform="rotate(0.05 549.10 465.30)">UTC1</text>
<circle cx="576.00" cy="465.30" r="1.50" fill="#1fae8c"/>
<text x="579.60" y="465.30" font-size="6.6" text-anchor="start" fill="#222222" dominant-baseline="central" transform="rotate(0.05 579.60 465.30)">UTC3</text>
<circle cx="607.30" cy="465.30" r="1.50" fill="#8a7fd0"/>
<text x="610.90" y="465.30" font-size="6.6" text-anchor="start" fill="#222222" dominant-baseline="central" transform="rotate(0.05 610.90 465.30)">UTC5</text>
<text x="331.30" y="490.90" font-size="13" font-weight="bold" fill="#000" transform="rotate(0.05 331.30 490.90)">h</text>
<text x="395.30" y="490.30" font-size="7.2" text-anchor="middle" fill="#222222" dominant-baseline="central" transform="rotate(0.05 395.30 490.30)">Ligand</text>
<text x="500.40" y="490.40" font-size="7.2" text-anchor="middle" fill="#222222" dominant-baseline="central" transform="rotate(0.05 500.40 490.40)">Receptor</text>
<text x="362.30" y="533.70" font-size="5.9" text-anchor="end" fill="#222222" dominant-baseline="central" transform="rotate(0.05 362.30 533.70)">UTC2</text>
<text x="362.60" y="614.50" font-size="5.9" text-anchor="end" fill="#222222" dominant-baseline="central" transform="rotate(0.05 362.60 614.50)">UTC3</text>
<circle cx="371.10" cy="533.70" r="3.40" fill="#39b54a" stroke="#f0473c" stroke-width="1.1"/>
<circle cx="371.20" cy="614.50" r="3.40" fill="#1aa98a" stroke="#f0473c" stroke-width="1.1"/>
<path d="M372.6,537.6 L386.2,574.3 L372.6,610.6" fill="none" stroke="#333" stroke-width="0.55"/>
<text x="397.00" y="564.60" font-size="4.6" text-anchor="middle" fill="#222222" dominant-baseline="central" font-weight="bold" font-style="italic" transform="rotate(0.05 397.00 564.60)">LAMA3 EB</text>
<rect x="391.60" y="571.00" width="6.60" height="6.60" fill="#8c8c8c" stroke="#555" stroke-width="0.45"/>
<line x1="406.20" y1="574.60" x2="451.40" y2="574.60" stroke="#222" stroke-width="0.7" stroke-dasharray="2.2 1.6"/>
<line x1="451.80" y1="575.00" x2="463.50" y2="528.30" stroke="#222" stroke-width="0.8" stroke-dasharray="2.0 1.3"/>
<line x1="451.80" y1="575.00" x2="466.70" y2="542.20" stroke="#222" stroke-width="0.8" stroke-dasharray="2.0 1.3"/>
<line x1="451.80" y1="575.00" x2="467.10" y2="556.10" stroke="#222" stroke-width="0.8" stroke-dasharray="2.0 1.3"/>
<line x1="451.80" y1="575.00" x2="465.10" y2="575.00" stroke="#222" stroke-width="0.8" stroke-dasharray="2.0 1.3"/>
<line x1="451.80" y1="575.00" x2="466.70" y2="587.30" stroke="#222" stroke-width="0.8" stroke-dasharray="2.0 1.3"/>
<line x1="451.80" y1="575.00" x2="467.50" y2="601.90" stroke="#222" stroke-width="0.8" stroke-dasharray="2.0 1.3"/>
<line x1="451.80" y1="575.00" x2="465.80" y2="613.80" stroke="#222" stroke-width="0.8" stroke-dasharray="2.0 1.3"/>
<circle cx="451.80" cy="575.00" r="1.00" fill="#222"/>
<text x="469.90" y="500.60" font-size="6.3" text-anchor="start" fill="#222222" dominant-baseline="central" textLength="96.9" lengthAdjust="spacingAndGlyphs" font-style="italic" transform="rotate(0.05 469.90 500.60)">ITGA2/ITGA6/ITGA9/CD44/DAG1</text>
<rect x="498.30" y="506.00" width="5.60" height="5.60" fill="#8c8c8c" stroke="#555" stroke-width="0.4"/>
<line x1="507.00" y1="508.80" x2="538.80" y2="508.80" stroke="#444" stroke-width="0.55"/>
<circle cx="544.40" cy="508.80" r="3.20" fill="#fff" stroke="#f0473c" stroke-width="0.7"/><circle cx="544.40" cy="508.80" r="2.20" fill="#27aae1"/>
<text x="550.90" y="508.80" font-size="6.55" text-anchor="start" fill="#222222" dominant-baseline="central" transform="rotate(0.05 550.90 508.80)">T cells</text>
<text x="478.00" y="522.60" font-size="6.3" text-anchor="start" fill="#222222" dominant-baseline="central" textLength="58.2" lengthAdjust="spacingAndGlyphs" font-style="italic" transform="rotate(0.05 478.00 522.60)">ITGA2/ITGA6/ITGA9</text>
<rect x="498.30" y="527.30" width="5.60" height="5.60" fill="#8c8c8c" stroke="#555" stroke-width="0.4"/>
<line x1="507.00" y1="530.10" x2="538.80" y2="530.10" stroke="#444" stroke-width="0.55"/>
<circle cx="544.40" cy="530.10" r="3.20" fill="#fff" stroke="#f0473c" stroke-width="0.7"/><circle cx="544.40" cy="530.10" r="2.20" fill="#ec008c"/>
<text x="550.90" y="530.10" font-size="6.55" text-anchor="start" fill="#222222" dominant-baseline="central" transform="rotate(0.05 550.90 530.10)">Macrophages</text>
<text x="474.80" y="546.20" font-size="6.3" text-anchor="start" fill="#222222" dominant-baseline="central" textLength="75.5" lengthAdjust="spacingAndGlyphs" font-style="italic" transform="rotate(0.05 474.80 546.20)">ITGA1/ITGA2/ITGA6/CD44</text>
<rect x="498.30" y="551.60" width="5.60" height="5.60" fill="#8c8c8c" stroke="#555" stroke-width="0.4"/>
<line x1="507.00" y1="554.40" x2="538.80" y2="554.40" stroke="#444" stroke-width="0.55"/>
<circle cx="544.40" cy="554.40" r="3.20" fill="#fff" stroke="#f0473c" stroke-width="0.7"/><circle cx="544.40" cy="554.40" r="2.20" fill="#262262"/>
<text x="550.90" y="554.40" font-size="6.55" text-anchor="start" fill="#222222" dominant-baseline="central" transform="rotate(0.05 550.90 554.40)">Mesenchymal stem cells</text>
<text x="495.50" y="567.60" font-size="6.3" text-anchor="start" fill="#222222" dominant-baseline="central" textLength="16.4" lengthAdjust="spacingAndGlyphs" font-style="italic" transform="rotate(0.05 495.50 567.60)">CD44</text>
<rect x="498.30" y="573.30" width="5.60" height="5.60" fill="#8c8c8c" stroke="#555" stroke-width="0.4"/>
<line x1="507.00" y1="576.10" x2="538.80" y2="576.10" stroke="#444" stroke-width="0.55"/>
<circle cx="544.40" cy="576.10" r="3.20" fill="#fff" stroke="#f0473c" stroke-width="0.7"/><circle cx="544.40" cy="576.10" r="2.20" fill="#be1e2d"/>
<text x="550.90" y="576.10" font-size="6.55" text-anchor="start" fill="#222222" dominant-baseline="central" transform="rotate(0.05 550.90 576.10)">Neutrophils</text>
<text x="473.80" y="588.90" font-size="6.3" text-anchor="start" fill="#222222" dominant-baseline="central" textLength="77.5" lengthAdjust="spacingAndGlyphs" font-style="italic" transform="rotate(0.05 473.80 588.90)">ITGA2/ITGA3/ITGA6/DAG1</text>
<rect x="498.30" y="593.70" width="5.60" height="5.60" fill="#8c8c8c" stroke="#555" stroke-width="0.4"/>
<line x1="507.00" y1="596.50" x2="538.80" y2="596.50" stroke="#444" stroke-width="0.55"/>
<circle cx="544.40" cy="596.50" r="3.20" fill="#fff" stroke="#f0473c" stroke-width="0.7"/><circle cx="544.40" cy="596.50" r="2.20" fill="#ef4136"/>
<text x="550.90" y="596.50" font-size="6.55" text-anchor="start" fill="#222222" dominant-baseline="central" transform="rotate(0.05 550.90 596.50)">Proliferative UTCs</text>
<text x="483.00" y="609.50" font-size="6.3" text-anchor="start" fill="#222222" dominant-baseline="central" textLength="53.2" lengthAdjust="spacingAndGlyphs" font-style="italic" transform="rotate(0.05 483.00 609.50)">ITGA1/CD44/DAG1</text>
<rect x="498.30" y="616.80" width="5.60" height="5.60" fill="#8c8c8c" stroke="#555" stroke-width="0.4"/>
<line x1="507.00" y1="619.60" x2="538.80" y2="619.60" stroke="#444" stroke-width="0.55"/>
<circle cx="544.40" cy="619.60" r="3.20" fill="#fff" stroke="#f0473c" stroke-width="0.7"/><circle cx="544.40" cy="619.60" r="2.20" fill="#f26522"/>
<text x="550.90" y="619.60" font-size="6.55" text-anchor="start" fill="#222222" dominant-baseline="central" transform="rotate(0.05 550.90 619.60)">Fibroblasts</text>
<text x="482.50" y="630.40" font-size="6.3" text-anchor="start" fill="#222222" dominant-baseline="central" textLength="54.3" lengthAdjust="spacingAndGlyphs" font-style="italic" transform="rotate(0.05 482.50 630.40)">ITGA1/CD44/DAG1</text>
<rect x="498.30" y="637.20" width="5.60" height="5.60" fill="#8c8c8c" stroke="#555" stroke-width="0.4"/>
<line x1="507.00" y1="640.00" x2="538.80" y2="640.00" stroke="#444" stroke-width="0.55"/>
<circle cx="544.40" cy="640.00" r="3.20" fill="#fff" stroke="#f0473c" stroke-width="0.7"/><circle cx="544.40" cy="640.00" r="2.20" fill="#9e1f63"/>
<text x="550.90" y="640.00" font-size="6.55" text-anchor="start" fill="#222222" dominant-baseline="central" transform="rotate(0.05 550.90 640.00)">Binucleate trophoblast cells</text>
<text x="353.00" y="673.80" font-size="6.8" text-anchor="start" fill="#222222" dominant-baseline="central" transform="rotate(0.05 353.00 673.80)">Tissue</text>
<circle cx="354.50" cy="684.00" r="2.20" fill="none" stroke="#f0473c" stroke-width="0.55"/>
<text x="359.90" y="684.00" font-size="6.4" text-anchor="start" fill="#222222" dominant-baseline="central" transform="rotate(0.05 359.90 684.00)">Placenta</text>
<text x="350.10" y="699.60" font-size="6.8" text-anchor="start" fill="#222222" dominant-baseline="central" transform="rotate(0.05 350.10 699.60)">Receptor/ligand</text>
<text x="350.10" y="707.30" font-size="5.5" text-anchor="start" fill="#222222" dominant-baseline="central" transform="rotate(0.05 350.10 707.30)"><tspan font-weight="bold" font-style="italic">Bold Italic</tspan> = disorder genes</text>
<text x="350.10" y="713.90" font-size="5.6" text-anchor="start" fill="#222222" dominant-baseline="central" transform="rotate(0.05 350.10 713.90)"><tspan font-weight="bold">Bold</tspan> = disorders</text>
<text x="443.10" y="697.20" font-size="6.8" text-anchor="middle" fill="#222222" dominant-baseline="central" transform="rotate(-90 443.10 697.20)">Cell types</text>
<circle cx="453.30" cy="671.60" r="2.00" fill="#9e1f63"/>
<text x="458.90" y="671.60" font-size="6.75" text-anchor="start" fill="#222222" dominant-baseline="central" transform="rotate(0.05 458.90 671.60)">Binucleate trophoblast cells</text>
<circle cx="453.30" cy="684.00" r="2.00" fill="#ef4136"/>
<text x="458.90" y="684.00" font-size="6.75" text-anchor="start" fill="#222222" dominant-baseline="central" transform="rotate(0.05 458.90 684.00)">Proliferative uninucleate trophoblast cells</text>
<circle cx="453.30" cy="696.30" r="2.00" fill="#f26522"/>
<text x="458.90" y="696.30" font-size="6.75" text-anchor="start" fill="#222222" dominant-baseline="central" transform="rotate(0.05 458.90 696.30)">Fibroblasts</text>
<circle cx="453.30" cy="708.60" r="2.00" fill="#27aae1"/>
<text x="458.90" y="708.60" font-size="6.75" text-anchor="start" fill="#222222" dominant-baseline="central" transform="rotate(0.05 458.90 708.60)">T cells</text>
<circle cx="453.30" cy="720.90" r="2.00" fill="#1aa98a"/>
<text x="458.90" y="720.90" font-size="6.75" text-anchor="start" fill="#222222" dominant-baseline="central" transform="rotate(0.05 458.90 720.90)">UTC3</text>
<circle cx="594.30" cy="671.60" r="2.00" fill="#ec008c"/>
<text x="600.80" y="671.60" font-size="6.75" text-anchor="start" fill="#222222" dominant-baseline="central" transform="rotate(0.05 600.80 671.60)">Macrophages</text>
<circle cx="594.30" cy="684.00" r="2.00" fill="#262262"/>
<text x="600.80" y="684.00" font-size="6.75" text-anchor="start" fill="#222222" dominant-baseline="central" transform="rotate(0.05 600.80 684.00)">Mesenchymal stem cells</text>
<circle cx="594.30" cy="696.30" r="2.00" fill="#be1e2d"/>
<text x="600.80" y="696.30" font-size="6.75" text-anchor="start" fill="#222222" dominant-baseline="central" transform="rotate(0.05 600.80 696.30)">Neutrophils</text>
<circle cx="594.30" cy="708.60" r="2.00" fill="#39b54a"/>
<text x="600.80" y="708.60" font-size="6.75" text-anchor="start" fill="#222222" dominant-baseline="central" transform="rotate(0.05 600.80 708.60)">UTC2</text>
<text x="0.30" y="752.30" font-size="13" font-weight="bold" fill="#000" transform="rotate(0.05 0.30 752.30)">i</text>
<line x1="80.60" y1="751.00" x2="80.60" y2="839.80" stroke="#555" stroke-width="0.6"/>
<line x1="80.60" y1="839.80" x2="268.70" y2="839.80" stroke="#555" stroke-width="0.6"/>
<line x1="78.60" y1="763.50" x2="80.60" y2="763.50" stroke="#555" stroke-width="0.5"/>
<text x="74.30" y="763.50" font-size="6.5" text-anchor="end" fill="#222222" dominant-baseline="central" transform="rotate(0.05 74.30 763.50)">Theca externa cells</text>
<circle cx="90.90" cy="763.50" r="2.00" fill="#2e5f9a"/>
<circle cx="108.03" cy="763.50" r="2.40" fill="#5fbe6a"/>
<circle cx="125.16" cy="763.50" r="2.15" fill="#2d1b5e"/>
<circle cx="142.29" cy="763.50" r="2.00" fill="#3a6ea8"/>
<circle cx="159.42" cy="763.50" r="3.55" fill="#5ec47a"/>
<circle cx="176.55" cy="763.50" r="1.40" fill="#3a3a90"/>
<circle cx="193.68" cy="763.50" r="2.85" fill="#352a80"/>
<circle cx="210.81" cy="763.50" r="0.85" fill="#3a6ea8"/>
<circle cx="227.94" cy="763.50" r="2.00" fill="#2e5f9a"/>
<circle cx="245.07" cy="763.50" r="2.55" fill="#3f9a7a"/>
<circle cx="262.20" cy="763.50" r="2.30" fill="#2e5f9a"/>
<line x1="78.60" y1="785.00" x2="80.60" y2="785.00" stroke="#555" stroke-width="0.5"/>
<text x="74.30" y="785.00" font-size="6.5" text-anchor="end" fill="#222222" dominant-baseline="central" transform="rotate(0.05 74.30 785.00)">Smooth muscle cells</text>
<circle cx="90.90" cy="785.00" r="2.30" fill="#316a8e"/>
<circle cx="108.03" cy="785.00" r="2.40" fill="#6cc060"/>
<circle cx="125.16" cy="785.00" r="2.85" fill="#5ec46a"/>
<circle cx="142.29" cy="785.00" r="1.85" fill="#2d1b6e"/>
<circle cx="159.42" cy="785.00" r="3.70" fill="#9cc044"/>
<circle cx="176.55" cy="785.00" r="2.00" fill="#c8b034"/>
<circle cx="193.68" cy="785.00" r="2.85" fill="#e0b040"/>
<circle cx="210.81" cy="785.00" r="1.30" fill="#2e5f9a"/>
<circle cx="227.94" cy="785.00" r="2.00" fill="#2e5f9a"/>
<circle cx="245.07" cy="785.00" r="2.55" fill="#3a8a8a"/>
<circle cx="262.20" cy="785.00" r="2.30" fill="#2e5f9a"/>
<line x1="78.60" y1="806.50" x2="80.60" y2="806.50" stroke="#555" stroke-width="0.5"/>
<text x="74.30" y="806.50" font-size="6.5" text-anchor="end" fill="#222222" dominant-baseline="central" transform="rotate(0.05 74.30 806.50)">Cardiomyocytes</text>
<circle cx="90.90" cy="806.50" r="1.85" fill="#2e5f9a"/>
<circle cx="108.03" cy="806.50" r="1.55" fill="#2d1b5e"/>
<circle cx="125.16" cy="806.50" r="2.55" fill="#3a8a7a"/>
<circle cx="142.29" cy="806.50" r="2.30" fill="#5ec46a"/>
<circle cx="159.42" cy="806.50" r="3.40" fill="#2d1b5e"/>
<circle cx="176.55" cy="806.50" r="1.40" fill="#2e5f9a"/>
<circle cx="193.68" cy="806.50" r="2.70" fill="#3f8f80"/>
<circle cx="210.81" cy="806.50" r="1.15" fill="#2e5f9a"/>
<circle cx="227.94" cy="806.50" r="2.55" fill="#3a7a8a"/>
<circle cx="245.07" cy="806.50" r="2.85" fill="#c8b840"/>
<circle cx="262.20" cy="806.50" r="2.85" fill="#f0b03c"/>
<line x1="78.60" y1="827.70" x2="80.60" y2="827.70" stroke="#555" stroke-width="0.5"/>
<text x="74.30" y="827.70" font-size="6.5" text-anchor="end" fill="#222222" dominant-baseline="central" transform="rotate(0.05 74.30 827.70)">SMCs</text>
<circle cx="90.90" cy="827.70" r="3.40" fill="#f0b43c"/>
<circle cx="108.03" cy="827.70" r="2.30" fill="#3a8a7a"/>
<circle cx="125.16" cy="827.70" r="3.15" fill="#88c058"/>
<circle cx="142.29" cy="827.70" r="2.55" fill="#c0b040"/>
<circle cx="159.42" cy="827.70" r="3.70" fill="#3a7a70"/>
<circle cx="176.55" cy="827.70" r="1.55" fill="#5ec46a"/>
<circle cx="193.68" cy="827.70" r="2.85" fill="#2e6a8e"/>
<circle cx="210.81" cy="827.70" r="2.85" fill="#f0b43c"/>
<circle cx="227.94" cy="827.70" r="4.00" fill="#f0b43c"/>
<circle cx="245.07" cy="827.70" r="2.30" fill="#302070"/>
<circle cx="262.20" cy="827.70" r="2.30" fill="#2e5f9a"/>
<line x1="90.90" y1="839.80" x2="90.90" y2="841.80" stroke="#555" stroke-width="0.5"/>
<text x="92.50" y="845.20" font-size="6.6" text-anchor="end" fill="#222222" dominant-baseline="central" transform="rotate(-45 92.50 845.20)"><tspan font-style="italic">ATP2A1</tspan> (PM)</text>
<line x1="108.03" y1="839.80" x2="108.03" y2="841.80" stroke="#555" stroke-width="0.5"/>
<text x="109.63" y="845.20" font-size="6.6" text-anchor="end" fill="#222222" dominant-baseline="central" transform="rotate(-45 109.63 845.20)"><tspan font-style="italic">CHRNE</tspan> (MS)</text>
<line x1="125.16" y1="839.80" x2="125.16" y2="841.80" stroke="#555" stroke-width="0.5"/>
<text x="126.76" y="845.20" font-size="6.6" text-anchor="end" fill="#222222" dominant-baseline="central" transform="rotate(-45 126.76 845.20)"><tspan font-style="italic">GFRA1</tspan> (FGMA)</text>
<line x1="142.29" y1="839.80" x2="142.29" y2="841.80" stroke="#555" stroke-width="0.5"/>
<text x="143.89" y="845.20" font-size="6.6" text-anchor="end" fill="#222222" dominant-baseline="central" transform="rotate(-45 143.89 845.20)"><tspan font-style="italic">GLRA1</tspan> (MC)</text>
<line x1="159.42" y1="839.80" x2="159.42" y2="841.80" stroke="#555" stroke-width="0.5"/>
<text x="161.02" y="845.20" font-size="6.6" text-anchor="end" fill="#222222" dominant-baseline="central" transform="rotate(-45 161.02 845.20)"><tspan font-style="italic">HSPA1A</tspan> (MDM)</text>
<line x1="176.55" y1="839.80" x2="176.55" y2="841.80" stroke="#555" stroke-width="0.5"/>
<text x="178.15" y="845.20" font-size="6.6" text-anchor="end" fill="#222222" dominant-baseline="central" transform="rotate(-45 178.15 845.20)"><tspan font-style="italic">KCNQ1</tspan> (NC)</text>
<line x1="193.68" y1="839.80" x2="193.68" y2="841.80" stroke="#555" stroke-width="0.5"/>
<text x="195.28" y="845.20" font-size="6.6" text-anchor="end" fill="#222222" dominant-baseline="central" transform="rotate(-45 195.28 845.20)"><tspan font-style="italic">KDSR</tspan> (SMA)</text>
<line x1="210.81" y1="839.80" x2="210.81" y2="841.80" stroke="#555" stroke-width="0.5"/>
<text x="212.41" y="845.20" font-size="6.6" text-anchor="end" fill="#222222" dominant-baseline="central" transform="rotate(-45 212.41 845.20)"><tspan font-style="italic">MSTN</tspan> (MH)</text>
<line x1="227.94" y1="839.80" x2="227.94" y2="841.80" stroke="#555" stroke-width="0.5"/>
<text x="229.54" y="845.20" font-size="6.6" text-anchor="end" fill="#222222" dominant-baseline="central" transform="rotate(-45 229.54 845.20)"><tspan font-style="italic">MYBPC1</tspan> (IMT)</text>
<line x1="245.07" y1="839.80" x2="245.07" y2="841.80" stroke="#555" stroke-width="0.5"/>
<text x="246.67" y="845.20" font-size="6.6" text-anchor="end" fill="#222222" dominant-baseline="central" transform="rotate(-45 246.67 845.20)"><tspan font-style="italic">OPA3</tspan> (CM)</text>
<line x1="262.20" y1="839.80" x2="262.20" y2="841.80" stroke="#555" stroke-width="0.5"/>
<text x="263.80" y="845.20" font-size="6.6" text-anchor="end" fill="#222222" dominant-baseline="central" transform="rotate(-45 263.80 845.20)"><tspan font-style="italic">PPP1R3L</tspan> (CMWH)</text>
<text x="3.60" y="795.40" font-size="7.2" text-anchor="middle" fill="#222222" dominant-baseline="central" transform="rotate(-90 3.60 795.40)">Muscle cells</text>
<text x="176.90" y="895.50" font-size="7.2" text-anchor="middle" fill="#222222" dominant-baseline="central" transform="rotate(0.05 176.90 895.50)">Muscle-disorder-related genes</text>
<text x="281.00" y="756.70" font-size="6.2" text-anchor="start" fill="#222222" dominant-baseline="central" transform="rotate(0.05 281.00 756.70)">log<tspan font-size="4.1" dy="1.6">10</tspan><tspan dy="-1.6">(CPM)</tspan></text>
<circle cx="283.50" cy="767.80" r="0.80" fill="#111"/>
<text x="290.00" y="767.80" font-size="6.4" text-anchor="start" fill="#222222" dominant-baseline="central" transform="rotate(0.05 290.00 767.80)">0</text>
<circle cx="283.50" cy="777.00" r="2.00" fill="#111"/>
<text x="290.00" y="777.00" font-size="6.4" text-anchor="start" fill="#222222" dominant-baseline="central" transform="rotate(0.05 290.00 777.00)">1</text>
<circle cx="283.50" cy="786.20" r="2.60" fill="#111"/>
<text x="290.00" y="786.20" font-size="6.4" text-anchor="start" fill="#222222" dominant-baseline="central" transform="rotate(0.05 290.00 786.20)">2</text>
<circle cx="283.50" cy="795.40" r="3.20" fill="#111"/>
<text x="290.00" y="795.40" font-size="6.4" text-anchor="start" fill="#222222" dominant-baseline="central" transform="rotate(0.05 290.00 795.40)">3</text>
<text x="280.80" y="812.70" font-size="6.2" text-anchor="start" fill="#222222" dominant-baseline="central" transform="rotate(0.05 280.80 812.70)"><tspan font-style="italic">z</tspan>-score</text>
<defs><linearGradient id="vir2" x1="0" y1="1" x2="0" y2="0"><stop offset="0" stop-color="#2e1c5c"/><stop offset="0.15" stop-color="#31418a"/><stop offset="0.35" stop-color="#2e6a98"/><stop offset="0.5" stop-color="#2f8a8a"/><stop offset="0.63" stop-color="#45ad74"/><stop offset="0.76" stop-color="#6cc060"/><stop offset="0.87" stop-color="#b5c84a"/><stop offset="1" stop-color="#f2b63c"/></linearGradient></defs>
<rect x="280.40" y="818.20" width="8.70" height="48.30" fill="url(#vir2)"/>
<line x1="280.40" y1="830.40" x2="282.00" y2="830.40" stroke="#fff" stroke-width="0.4"/>
<line x1="287.50" y1="830.40" x2="289.10" y2="830.40" stroke="#fff" stroke-width="0.4"/>
<text x="290.70" y="830.40" font-size="6.4" text-anchor="start" fill="#222222" dominant-baseline="central" transform="rotate(0.05 290.70 830.40)">0.75</text>
<line x1="280.40" y1="842.40" x2="282.00" y2="842.40" stroke="#fff" stroke-width="0.4"/>
<line x1="287.50" y1="842.40" x2="289.10" y2="842.40" stroke="#fff" stroke-width="0.4"/>
<text x="290.70" y="842.40" font-size="6.4" text-anchor="start" fill="#222222" dominant-baseline="central" transform="rotate(0.05 290.70 842.40)">0.50</text>
<line x1="280.40" y1="854.50" x2="282.00" y2="854.50" stroke="#fff" stroke-width="0.4"/>
<line x1="287.50" y1="854.50" x2="289.10" y2="854.50" stroke="#fff" stroke-width="0.4"/>
<text x="290.70" y="854.50" font-size="6.4" text-anchor="start" fill="#222222" dominant-baseline="central" transform="rotate(0.05 290.70 854.50)">0.25</text>
<text x="334.20" y="752.00" font-size="13" font-weight="bold" fill="#000" transform="rotate(0.05 334.20 752.00)">j</text>
<text x="419.60" y="757.90" font-size="6.3" text-anchor="middle" fill="#222222" dominant-baseline="central" transform="rotate(0.05 419.60 757.90)"><tspan font-style="italic">MYBPC1</tspan> (IMT) in the esophagus</text>
<path d="M455.4,789.0 C458.2,789.5 462.9,792.4 464.8,794.2 C466.7,796.0 465.9,797.8 466.7,799.9 C467.5,802.0 468.3,804.4 469.6,806.6 C470.9,808.8 472.9,811.0 474.3,813.2 C475.7,815.4 476.9,817.4 478.1,819.8 C479.3,822.2 481.0,824.9 481.5,827.4 C482.0,829.9 481.6,832.5 481.0,835.0 C480.4,837.5 479.4,840.4 478.1,842.6 C476.8,844.8 475.1,847.8 473.4,848.3 C471.7,848.8 469.3,846.9 467.7,845.5 C466.1,844.1 465.0,841.9 463.9,839.8 C462.8,837.7 462.5,835.6 461.1,833.1 C459.7,830.6 457.3,826.8 455.4,824.6 C453.5,822.4 451.3,821.5 449.7,819.8 C448.1,818.1 446.8,816.0 445.9,814.2 C445.0,812.4 445.3,809.8 444.5,808.9 C443.7,808.0 442.5,808.8 441.1,808.8 C439.7,808.8 437.1,808.9 436.0,808.8 C434.9,808.7 434.2,808.8 434.3,808.3 C434.4,807.8 435.1,806.7 436.4,805.6 C437.7,804.5 440.6,803.2 442.1,801.8 C443.6,800.4 444.4,798.8 445.4,797.1 C446.3,795.4 446.1,792.8 447.8,791.4 C449.5,790.0 452.6,788.5 455.4,789.0 Z" fill="#bcbcc0" stroke="none" stroke-width="0.5"/>
<path d="M433.2,808.5 L436,807.5" fill="none" stroke="#e06a5a" stroke-width="1.0"/>
<path d="M405.1,769.2 C407.1,768.1 410.1,767.8 413.0,767.6 C415.9,767.4 420.3,767.1 422.4,768.2 C424.5,769.3 425.3,772.3 425.5,774.3 C425.7,776.3 424.9,778.7 423.5,780.4 C422.1,782.1 418.7,784.3 417.3,784.5 C415.9,784.7 416.5,782.3 415.3,781.5 C414.1,780.7 412.3,780.1 410.2,779.8 C408.1,779.4 404.0,780.3 402.5,779.4 C401.0,778.5 400.6,776.0 401.0,774.3 C401.4,772.6 403.1,770.3 405.1,769.2 Z" fill="#bcbcc0" stroke="none" stroke-width="0.5"/>
<circle cx="416.08" cy="779.64" r="0.40" fill="#e0604c"/><circle cx="419.70" cy="782.25" r="0.40" fill="#e0604c"/><circle cx="418.54" cy="781.99" r="0.40" fill="#e0604c"/><circle cx="403.61" cy="776.05" r="0.40" fill="#e0604c"/><circle cx="422.81" cy="778.44" r="0.40" fill="#e0604c"/><circle cx="421.92" cy="771.47" r="0.40" fill="#e0604c"/><circle cx="412.85" cy="773.21" r="0.40" fill="#e0604c"/><circle cx="414.42" cy="777.46" r="0.40" fill="#e0604c"/><circle cx="403.28" cy="772.82" r="0.40" fill="#e0604c"/>
<circle cx="412.50" cy="775.50" r="0.90" fill="#fff"/>
<path d="M369.0,781.0 C370.4,779.4 373.5,778.9 376.0,778.6 C378.5,778.3 381.9,778.3 384.0,779.0 C386.1,779.7 388.0,781.2 388.7,783.0 C389.4,784.8 388.9,787.9 388.3,790.0 C387.7,792.1 386.7,794.4 385.0,795.5 C383.3,796.6 380.3,797.0 378.0,796.8 C375.7,796.5 372.8,795.5 371.0,794.0 C369.2,792.5 367.8,790.2 367.5,788.0 C367.2,785.8 367.6,782.6 369.0,781.0 Z" fill="#bcbcc0" stroke="none" stroke-width="0.5"/>
<circle cx="374.03" cy="793.83" r="0.40" fill="#e0604c"/><circle cx="382.78" cy="783.23" r="0.40" fill="#e0604c"/><circle cx="383.35" cy="782.94" r="0.40" fill="#e0604c"/><circle cx="380.11" cy="782.77" r="0.40" fill="#e0604c"/><circle cx="369.03" cy="793.20" r="0.40" fill="#e0604c"/><circle cx="372.77" cy="784.02" r="0.40" fill="#e0604c"/><circle cx="386.68" cy="793.21" r="0.40" fill="#e0604c"/><circle cx="374.21" cy="794.46" r="0.40" fill="#e0604c"/><circle cx="378.71" cy="790.49" r="0.40" fill="#e0604c"/><circle cx="372.69" cy="794.17" r="0.40" fill="#e0604c"/>
<path d="M411.2,795.2 L402.4,800.6 L404,803 L409.2,808 L410.5,803 L408.5,800 Z" fill="#bcbcc0" stroke="none" stroke-width="0.5"/>
<path d="M408.5,807.5 C409.2,806.7 411.9,806.1 414.0,806.0 C416.1,805.9 420.4,806.2 421.4,807.0 C422.4,807.8 421.2,809.7 420.0,810.5 C418.8,811.3 415.7,811.9 414.0,812.0 C412.3,812.1 410.9,811.8 410.0,811.0 C409.1,810.2 407.8,808.3 408.5,807.5 Z" fill="#bcbcc0" stroke="none" stroke-width="0.5"/>
<circle cx="416.91" cy="810.85" r="0.40" fill="#e0604c"/><circle cx="418.94" cy="807.84" r="0.40" fill="#e0604c"/><circle cx="413.61" cy="807.25" r="0.40" fill="#e0604c"/><circle cx="411.46" cy="806.79" r="0.40" fill="#e0604c"/>
<path d="M379.5,820.3 C379.9,819.1 385.3,817.4 388.0,816.5 C390.7,815.6 393.2,815.3 395.9,815.2 C398.6,815.1 401.8,815.3 404.0,815.8 C406.2,816.3 408.4,817.2 409.2,818.2 C409.9,819.2 409.0,820.8 408.5,822.0 C408.0,823.2 407.7,824.7 406.1,825.4 C404.5,826.1 401.2,826.5 398.9,826.4 C396.5,826.3 394.2,825.5 392.0,825.0 C389.8,824.5 387.8,824.2 385.7,823.4 C383.6,822.6 379.1,821.4 379.5,820.3 Z" fill="#d98274" stroke="none" stroke-width="0.5"/>
<circle cx="390.93" cy="821.93" r="0.50" fill="#e4604e"/><circle cx="384.08" cy="822.60" r="0.50" fill="#e4604e"/><circle cx="391.77" cy="819.29" r="0.50" fill="#e4604e"/><circle cx="402.83" cy="820.83" r="0.50" fill="#e4604e"/><circle cx="391.26" cy="820.83" r="0.50" fill="#e4604e"/><circle cx="400.21" cy="817.01" r="0.50" fill="#e4604e"/><circle cx="406.43" cy="816.71" r="0.50" fill="#e4604e"/><circle cx="401.25" cy="824.10" r="0.50" fill="#e4604e"/><circle cx="384.42" cy="823.59" r="0.50" fill="#e4604e"/><circle cx="392.42" cy="821.71" r="0.50" fill="#e4604e"/><circle cx="384.21" cy="816.92" r="0.50" fill="#e4604e"/><circle cx="388.16" cy="825.10" r="0.50" fill="#e4604e"/><circle cx="388.52" cy="823.30" r="0.50" fill="#e4604e"/><circle cx="405.38" cy="824.98" r="0.50" fill="#e4604e"/><circle cx="391.92" cy="819.69" r="0.50" fill="#e4604e"/><circle cx="396.07" cy="823.48" r="0.50" fill="#e4604e"/><circle cx="386.49" cy="823.24" r="0.50" fill="#e4604e"/><circle cx="402.34" cy="824.24" r="0.50" fill="#e4604e"/><circle cx="384.84" cy="825.01" r="0.50" fill="#e4604e"/><circle cx="386.10" cy="819.57" r="0.50" fill="#e4604e"/><circle cx="398.05" cy="824.76" r="0.50" fill="#e4604e"/><circle cx="391.82" cy="824.82" r="0.50" fill="#e4604e"/><circle cx="396.54" cy="819.31" r="0.50" fill="#e4604e"/><circle cx="391.29" cy="818.10" r="0.50" fill="#e4604e"/><circle cx="385.80" cy="817.84" r="0.50" fill="#e4604e"/><circle cx="399.85" cy="825.47" r="0.50" fill="#e4604e"/><circle cx="387.72" cy="816.94" r="0.50" fill="#e4604e"/><circle cx="406.69" cy="821.30" r="0.50" fill="#e4604e"/><circle cx="393.34" cy="818.64" r="0.50" fill="#e4604e"/><circle cx="397.66" cy="823.94" r="0.50" fill="#e4604e"/><circle cx="394.48" cy="820.30" r="0.50" fill="#e4604e"/><circle cx="385.28" cy="824.74" r="0.50" fill="#e4604e"/><circle cx="384.75" cy="820.94" r="0.50" fill="#e4604e"/><circle cx="403.28" cy="817.68" r="0.50" fill="#e4604e"/><circle cx="400.83" cy="825.05" r="0.50" fill="#e4604e"/><circle cx="398.50" cy="823.59" r="0.50" fill="#e4604e"/><circle cx="386.45" cy="820.41" r="0.50" fill="#e4604e"/><circle cx="387.43" cy="824.10" r="0.50" fill="#e4604e"/><circle cx="390.78" cy="820.58" r="0.50" fill="#e4604e"/><circle cx="406.98" cy="824.17" r="0.50" fill="#e4604e"/><circle cx="406.45" cy="820.58" r="0.50" fill="#e4604e"/><circle cx="395.23" cy="823.07" r="0.50" fill="#e4604e"/><circle cx="395.02" cy="819.12" r="0.50" fill="#e4604e"/><circle cx="393.29" cy="817.82" r="0.50" fill="#e4604e"/><circle cx="392.67" cy="825.40" r="0.50" fill="#e4604e"/>
<path d="M378.5,820.5 C379.3,819.1 383.1,816.1 386.0,815.0 C388.9,813.9 392.8,813.8 396.0,813.6 C399.2,813.4 402.6,813.3 405.0,814.0 C407.4,814.7 409.4,816.4 410.2,818.0 C411.0,819.6 410.6,821.8 410.0,823.5 C409.4,825.2 408.2,827.4 406.5,828.3 C404.8,829.2 401.9,829.1 400.0,828.9 C398.1,828.7 397.0,827.6 395.0,827.0 C393.0,826.4 390.3,826.1 388.0,825.5 C385.7,824.9 382.6,824.3 381.0,823.5 C379.4,822.7 377.7,821.9 378.5,820.5 Z" fill="none" stroke="#222" stroke-width="0.8" stroke-dasharray="2.2 1.5"/>
<path d="M363.2,829.8 C366,828.3 371,828.5 375.4,829.5 C374,831 369,831.5 366,831.5 C364,831.5 363.2,831 363.2,829.8 Z" fill="#bcbcc0" stroke="none" stroke-width="0.5"/>
<path d="M355.5,810 L357.5,808.5 M357,813 L359.5,812.3" fill="none" stroke="#bcbcc0" stroke-width="0.9"/>
<path d="M385.7,843.8 C387.2,841.8 392.2,840.4 395.9,840.1 C399.6,839.8 405.4,840.1 408.1,841.8 C410.8,843.4 411.9,847.0 412.2,850.0 C412.5,853.0 411.6,858.1 410.2,860.1 C408.8,862.1 406.7,862.8 404.0,862.2 C401.3,861.6 396.7,858.3 393.8,856.6 C390.9,854.9 388.1,854.1 386.7,852.0 C385.3,849.9 384.2,845.8 385.7,843.8 Z" fill="#bcbcc0" stroke="none" stroke-width="0.5"/>
<circle cx="409.12" cy="853.29" r="0.40" fill="#e0604c"/><circle cx="398.99" cy="848.09" r="0.40" fill="#e0604c"/><circle cx="389.96" cy="846.90" r="0.40" fill="#e0604c"/><circle cx="405.20" cy="857.61" r="0.40" fill="#e0604c"/><circle cx="395.95" cy="856.15" r="0.40" fill="#e0604c"/><circle cx="405.05" cy="854.50" r="0.40" fill="#e0604c"/><circle cx="402.61" cy="855.67" r="0.40" fill="#e0604c"/><circle cx="396.00" cy="854.68" r="0.40" fill="#e0604c"/><circle cx="394.18" cy="850.74" r="0.40" fill="#e0604c"/><circle cx="404.93" cy="854.44" r="0.40" fill="#e0604c"/><circle cx="394.46" cy="859.02" r="0.40" fill="#e0604c"/><circle cx="402.29" cy="852.45" r="0.40" fill="#e0604c"/><circle cx="388.25" cy="851.85" r="0.40" fill="#e0604c"/><circle cx="393.52" cy="854.09" r="0.40" fill="#e0604c"/><circle cx="398.18" cy="856.70" r="0.40" fill="#e0604c"/><circle cx="402.24" cy="856.36" r="0.40" fill="#e0604c"/>
<path d="M431.6,844.5 C432.2,843.5 434.8,840.9 436.4,841.2 C438.0,841.5 439.6,844.9 441.1,846.4 C442.6,847.9 444.9,848.8 445.4,850.2 C445.9,851.6 445.4,854.7 444.0,855.0 C442.6,855.3 439.2,853.4 437.3,852.1 C435.4,850.8 433.6,848.7 432.6,847.4 C431.7,846.1 431.0,845.5 431.6,844.5 Z" fill="#bcbcc0" stroke="none" stroke-width="0.5"/>
<text x="348.00" y="808.80" font-size="6.0" text-anchor="middle" fill="#222222" dominant-baseline="central" transform="rotate(0.05 348.00 808.80)">SMCs</text>
<path d="M345.5,864 L345.5,838 M345.5,864 L367.5,864" fill="none" stroke="#3d5068" stroke-width="1.0"/>
<path d="M343.6,839.5 L345.5,835.7 L347.4,839.5 Z M366,862.1 L369.8,864 L366,865.9 Z" fill="#3d5068" stroke="none" stroke-width="0.5"/>
<text x="338.10" y="850.40" font-size="6.3" text-anchor="middle" fill="#222222" dominant-baseline="central" transform="rotate(-90 338.10 850.40)">UMAP_2</text>
<text x="357.00" y="870.60" font-size="6.3" text-anchor="middle" fill="#222222" dominant-baseline="central" transform="rotate(0.05 357.00 870.60)">UMAP_1</text>
<rect x="405.10" y="883.20" width="50.00" height="13.10" fill="url(#gr2red)"/>
<text x="405.30" y="901.60" font-size="6.4" text-anchor="middle" fill="#222222" dominant-baseline="central" transform="rotate(0.05 405.30 901.60)">0</text>
<line x1="421.50" y1="883.20" x2="421.50" y2="885.00" stroke="#fff" stroke-width="0.5"/>
<line x1="421.50" y1="894.50" x2="421.50" y2="896.30" stroke="#fff" stroke-width="0.5"/>
<text x="421.50" y="901.60" font-size="6.4" text-anchor="middle" fill="#222222" dominant-baseline="central" transform="rotate(0.05 421.50 901.60)">2</text>
<line x1="437.80" y1="883.20" x2="437.80" y2="885.00" stroke="#fff" stroke-width="0.5"/>
<line x1="437.80" y1="894.50" x2="437.80" y2="896.30" stroke="#fff" stroke-width="0.5"/>
<text x="437.80" y="901.60" font-size="6.4" text-anchor="middle" fill="#222222" dominant-baseline="central" transform="rotate(0.05 437.80 901.60)">4</text>
<line x1="453.60" y1="883.20" x2="453.60" y2="885.00" stroke="#fff" stroke-width="0.5"/>
<line x1="453.60" y1="894.50" x2="453.60" y2="896.30" stroke="#fff" stroke-width="0.5"/>
<text x="453.60" y="901.60" font-size="6.4" text-anchor="middle" fill="#222222" dominant-baseline="central" transform="rotate(0.05 453.60 901.60)">6</text>
<text x="363.10" y="890.30" font-size="6.7" text-anchor="start" fill="#222222" dominant-baseline="central" transform="rotate(0.05 363.10 890.30)">log<tspan font-size="4.3" dy="1.7">10</tspan><tspan dy="-1.7">(counts)</tspan></text>
<text x="506.40" y="752.30" font-size="13" font-weight="bold" fill="#000" transform="rotate(0.05 506.40 752.30)">k</text>
<text x="607.00" y="755.40" font-size="6.5" text-anchor="middle" fill="#222222" dominant-baseline="central" transform="rotate(0.05 607.00 755.40)"><tspan font-style="italic">MYBPC1</tspan> (IMT) in SMCs</text>
<line x1="538.60" y1="761.60" x2="538.60" y2="866.90" stroke="#555" stroke-width="0.6"/>
<line x1="538.60" y1="866.90" x2="675.50" y2="866.90" stroke="#555" stroke-width="0.6"/>
<line x1="536.80" y1="767.00" x2="538.60" y2="767.00" stroke="#555" stroke-width="0.5"/>
<text x="534.80" y="767.00" font-size="6.4" text-anchor="end" fill="#222222" dominant-baseline="central" transform="rotate(0.05 534.80 767.00)">2.5</text>
<line x1="536.80" y1="800.20" x2="538.60" y2="800.20" stroke="#555" stroke-width="0.5"/>
<text x="534.80" y="800.20" font-size="6.4" text-anchor="end" fill="#222222" dominant-baseline="central" transform="rotate(0.05 534.80 800.20)">0</text>
<line x1="536.80" y1="833.20" x2="538.60" y2="833.20" stroke="#555" stroke-width="0.5"/>
<text x="534.80" y="833.20" font-size="6.4" text-anchor="end" fill="#222222" dominant-baseline="central" transform="rotate(0.05 534.80 833.20)">−2.5</text>
<line x1="536.80" y1="865.80" x2="538.60" y2="865.80" stroke="#555" stroke-width="0.5"/>
<text x="534.80" y="865.80" font-size="6.4" text-anchor="end" fill="#222222" dominant-baseline="central" transform="rotate(0.05 534.80 865.80)">−5.0</text>
<line x1="547.30" y1="866.90" x2="547.30" y2="868.70" stroke="#555" stroke-width="0.5"/>
<text x="547.30" y="872.90" font-size="6.4" text-anchor="middle" fill="#222222" dominant-baseline="central" transform="rotate(0.05 547.30 872.90)">−7.5</text>
<line x1="572.90" y1="866.90" x2="572.90" y2="868.70" stroke="#555" stroke-width="0.5"/>
<text x="572.90" y="872.90" font-size="6.4" text-anchor="middle" fill="#222222" dominant-baseline="central" transform="rotate(0.05 572.90 872.90)">−5.0</text>
<line x1="598.60" y1="866.90" x2="598.60" y2="868.70" stroke="#555" stroke-width="0.5"/>
<text x="598.60" y="872.90" font-size="6.4" text-anchor="middle" fill="#222222" dominant-baseline="central" transform="rotate(0.05 598.60 872.90)">−2.5</text>
<line x1="624.20" y1="866.90" x2="624.20" y2="868.70" stroke="#555" stroke-width="0.5"/>
<text x="624.20" y="872.90" font-size="6.4" text-anchor="middle" fill="#222222" dominant-baseline="central" transform="rotate(0.05 624.20 872.90)">0</text>
<line x1="649.90" y1="866.90" x2="649.90" y2="868.70" stroke="#555" stroke-width="0.5"/>
<text x="649.90" y="872.90" font-size="6.4" text-anchor="middle" fill="#222222" dominant-baseline="central" transform="rotate(0.05 649.90 872.90)">2.5</text>
<text x="602.60" y="887.20" font-size="6.9" text-anchor="middle" fill="#222222" dominant-baseline="central" transform="rotate(0.05 602.60 887.20)">Component1</text>
<text x="510.80" y="812.90" font-size="6.9" text-anchor="middle" fill="#222222" dominant-baseline="central" transform="rotate(-90 510.80 812.90)">Component2</text>
<path d="M581,864.5 L596,846 L609.1,828.5" fill="none" stroke="#cfcfcf" stroke-width="3.0" stroke-linecap="round"/>
<g fill="#bdbdbd"><circle cx="585.2" cy="857.2" r="0.45"/><circle cx="595.2" cy="849.4" r="0.45"/><circle cx="602.5" cy="835.4" r="0.45"/><circle cx="588.8" cy="856.1" r="0.45"/><circle cx="599.5" cy="844.5" r="0.45"/><circle cx="587.7" cy="856.6" r="0.45"/><circle cx="608.9" cy="826.4" r="0.45"/><circle cx="599.5" cy="842.8" r="0.45"/><circle cx="597.3" cy="848.6" r="0.45"/><circle cx="592.7" cy="853.1" r="0.45"/><circle cx="585.7" cy="859.5" r="0.45"/><circle cx="596.1" cy="845.9" r="0.45"/><circle cx="588.5" cy="858.4" r="0.45"/><circle cx="587.9" cy="855.4" r="0.45"/><circle cx="609.7" cy="828.5" r="0.45"/><circle cx="601.1" cy="836.3" r="0.45"/><circle cx="582.5" cy="860.5" r="0.45"/><circle cx="588.8" cy="856.3" r="0.45"/><circle cx="592.0" cy="850.9" r="0.45"/><circle cx="593.2" cy="850.8" r="0.45"/><circle cx="583.2" cy="864.5" r="0.45"/><circle cx="607.6" cy="828.8" r="0.45"/><circle cx="596.8" cy="844.2" r="0.45"/><circle cx="597.0" cy="842.3" r="0.45"/><circle cx="586.7" cy="859.0" r="0.45"/><circle cx="606.3" cy="832.4" r="0.45"/><circle cx="590.1" cy="853.9" r="0.45"/><circle cx="604.2" cy="834.3" r="0.45"/><circle cx="599.4" cy="838.0" r="0.45"/><circle cx="605.2" cy="831.8" r="0.45"/><circle cx="606.1" cy="828.7" r="0.45"/><circle cx="594.5" cy="847.7" r="0.45"/><circle cx="605.9" cy="833.4" r="0.45"/><circle cx="604.0" cy="834.4" r="0.45"/><circle cx="605.4" cy="834.7" r="0.45"/><circle cx="588.8" cy="854.5" r="0.45"/><circle cx="581.8" cy="864.0" r="0.45"/><circle cx="608.6" cy="827.8" r="0.45"/><circle cx="589.6" cy="855.2" r="0.45"/><circle cx="602.4" cy="838.6" r="0.45"/><circle cx="605.3" cy="832.2" r="0.45"/><circle cx="596.9" cy="843.7" r="0.45"/><circle cx="604.5" cy="835.3" r="0.45"/><circle cx="589.0" cy="854.6" r="0.45"/><circle cx="600.7" cy="839.9" r="0.45"/><circle cx="596.6" cy="841.7" r="0.45"/><circle cx="597.7" cy="844.8" r="0.45"/><circle cx="608.5" cy="829.7" r="0.45"/><circle cx="583.9" cy="861.3" r="0.45"/><circle cx="595.3" cy="850.4" r="0.45"/><circle cx="600.6" cy="842.1" r="0.45"/><circle cx="589.6" cy="853.0" r="0.45"/><circle cx="586.2" cy="859.6" r="0.45"/><circle cx="600.8" cy="839.0" r="0.45"/><circle cx="602.5" cy="837.7" r="0.45"/><circle cx="604.6" cy="836.2" r="0.45"/><circle cx="582.9" cy="861.6" r="0.45"/><circle cx="601.2" cy="840.7" r="0.45"/><circle cx="591.1" cy="853.7" r="0.45"/><circle cx="590.6" cy="853.0" r="0.45"/><circle cx="592.9" cy="845.8" r="0.45"/><circle cx="582.8" cy="860.2" r="0.45"/><circle cx="602.8" cy="838.0" r="0.45"/><circle cx="599.5" cy="839.3" r="0.45"/><circle cx="584.0" cy="859.5" r="0.45"/><circle cx="589.8" cy="855.1" r="0.45"/><circle cx="584.5" cy="860.9" r="0.45"/><circle cx="604.1" cy="834.1" r="0.45"/><circle cx="600.3" cy="842.5" r="0.45"/><circle cx="592.6" cy="848.7" r="0.45"/><circle cx="592.6" cy="850.6" r="0.45"/><circle cx="593.5" cy="850.8" r="0.45"/><circle cx="603.9" cy="834.0" r="0.45"/><circle cx="586.8" cy="856.9" r="0.45"/><circle cx="599.5" cy="841.9" r="0.45"/><circle cx="593.1" cy="847.6" r="0.45"/><circle cx="606.4" cy="831.0" r="0.45"/><circle cx="601.4" cy="835.4" r="0.45"/><circle cx="600.5" cy="838.8" r="0.45"/><circle cx="605.7" cy="832.5" r="0.45"/><circle cx="607.5" cy="834.2" r="0.45"/><circle cx="580.8" cy="865.2" r="0.45"/><circle cx="593.1" cy="851.7" r="0.45"/><circle cx="582.4" cy="864.2" r="0.45"/><circle cx="601.5" cy="838.0" r="0.45"/><circle cx="607.7" cy="829.4" r="0.45"/><circle cx="589.6" cy="851.3" r="0.45"/><circle cx="589.4" cy="855.0" r="0.45"/><circle cx="588.7" cy="855.0" r="0.45"/><circle cx="600.8" cy="841.6" r="0.45"/><circle cx="587.1" cy="856.5" r="0.45"/><circle cx="593.0" cy="848.5" r="0.45"/><circle cx="589.6" cy="855.5" r="0.45"/><circle cx="589.9" cy="857.4" r="0.45"/><circle cx="582.9" cy="860.9" r="0.45"/><circle cx="602.3" cy="839.5" r="0.45"/><circle cx="580.8" cy="862.0" r="0.45"/><circle cx="589.3" cy="856.0" r="0.45"/><circle cx="583.3" cy="862.3" r="0.45"/><circle cx="605.8" cy="832.8" r="0.45"/><circle cx="604.0" cy="834.9" r="0.45"/><circle cx="582.8" cy="863.8" r="0.45"/><circle cx="597.1" cy="846.8" r="0.45"/><circle cx="606.8" cy="833.2" r="0.45"/><circle cx="581.1" cy="863.7" r="0.45"/><circle cx="606.3" cy="830.3" r="0.45"/><circle cx="588.3" cy="858.6" r="0.45"/><circle cx="597.4" cy="842.0" r="0.45"/><circle cx="603.2" cy="836.6" r="0.45"/><circle cx="590.7" cy="853.4" r="0.45"/><circle cx="606.5" cy="832.7" r="0.45"/><circle cx="595.4" cy="845.7" r="0.45"/><circle cx="589.0" cy="855.0" r="0.45"/><circle cx="594.6" cy="845.5" r="0.45"/><circle cx="587.6" cy="860.4" r="0.45"/><circle cx="595.1" cy="846.3" r="0.45"/><circle cx="601.2" cy="838.4" r="0.45"/><circle cx="604.4" cy="835.1" r="0.45"/><circle cx="589.6" cy="851.7" r="0.45"/><circle cx="585.7" cy="857.1" r="0.45"/><circle cx="586.8" cy="857.1" r="0.45"/><circle cx="606.2" cy="831.2" r="0.45"/><circle cx="604.1" cy="835.9" r="0.45"/><circle cx="607.7" cy="831.6" r="0.45"/><circle cx="609.3" cy="829.9" r="0.45"/><circle cx="580.4" cy="865.3" r="0.45"/><circle cx="598.4" cy="841.3" r="0.45"/><circle cx="586.9" cy="858.2" r="0.45"/><circle cx="606.9" cy="836.6" r="0.45"/><circle cx="597.2" cy="843.0" r="0.45"/><circle cx="605.6" cy="833.1" r="0.45"/><circle cx="593.3" cy="851.3" r="0.45"/><circle cx="603.7" cy="835.7" r="0.45"/><circle cx="580.5" cy="864.2" r="0.45"/><circle cx="581.4" cy="862.9" r="0.45"/><circle cx="585.3" cy="860.1" r="0.45"/><circle cx="605.7" cy="832.3" r="0.45"/><circle cx="586.5" cy="856.7" r="0.45"/><circle cx="602.8" cy="835.3" r="0.45"/><circle cx="587.3" cy="856.0" r="0.45"/><circle cx="595.0" cy="848.5" r="0.45"/><circle cx="596.2" cy="848.7" r="0.45"/><circle cx="598.4" cy="841.9" r="0.45"/><circle cx="602.8" cy="838.3" r="0.45"/><circle cx="593.9" cy="850.6" r="0.45"/><circle cx="594.2" cy="842.0" r="0.45"/><circle cx="586.9" cy="859.3" r="0.45"/><circle cx="603.6" cy="835.4" r="0.45"/><circle cx="592.3" cy="850.2" r="0.45"/><circle cx="593.1" cy="849.1" r="0.45"/><circle cx="597.3" cy="841.1" r="0.45"/><circle cx="601.7" cy="838.2" r="0.45"/><circle cx="603.8" cy="834.0" r="0.45"/><circle cx="588.1" cy="855.6" r="0.45"/><circle cx="582.7" cy="863.2" r="0.45"/><circle cx="585.6" cy="858.6" r="0.45"/><circle cx="600.2" cy="840.9" r="0.45"/><circle cx="585.2" cy="857.2" r="0.45"/><circle cx="586.9" cy="855.9" r="0.45"/><circle cx="599.0" cy="841.9" r="0.45"/><circle cx="586.6" cy="860.1" r="0.45"/><circle cx="594.5" cy="851.4" r="0.45"/><circle cx="601.4" cy="841.4" r="0.45"/><circle cx="596.8" cy="843.8" r="0.45"/><circle cx="607.0" cy="831.0" r="0.45"/><circle cx="598.5" cy="842.6" r="0.45"/><circle cx="601.6" cy="836.5" r="0.45"/><circle cx="596.1" cy="848.2" r="0.45"/><circle cx="580.8" cy="862.8" r="0.45"/><circle cx="586.1" cy="855.9" r="0.45"/><circle cx="582.8" cy="861.5" r="0.45"/><circle cx="603.1" cy="836.7" r="0.45"/><circle cx="587.9" cy="857.1" r="0.45"/><circle cx="583.8" cy="857.6" r="0.45"/><circle cx="588.4" cy="857.5" r="0.45"/><circle cx="582.8" cy="861.4" r="0.45"/><circle cx="586.4" cy="856.0" r="0.45"/><circle cx="583.5" cy="863.0" r="0.45"/><circle cx="584.2" cy="862.5" r="0.45"/><circle cx="602.5" cy="834.9" r="0.45"/><circle cx="580.9" cy="865.1" r="0.45"/><circle cx="605.5" cy="833.2" r="0.45"/><circle cx="579.7" cy="863.3" r="0.45"/><circle cx="602.2" cy="836.5" r="0.45"/><circle cx="609.6" cy="832.6" r="0.45"/><circle cx="602.7" cy="835.4" r="0.45"/><circle cx="584.8" cy="860.0" r="0.45"/><circle cx="598.2" cy="842.3" r="0.45"/><circle cx="582.4" cy="863.1" r="0.45"/><circle cx="590.8" cy="851.2" r="0.45"/><circle cx="585.1" cy="859.7" r="0.45"/><circle cx="599.1" cy="841.1" r="0.45"/><circle cx="592.5" cy="850.4" r="0.45"/><circle cx="599.8" cy="838.9" r="0.45"/><circle cx="596.5" cy="845.3" r="0.45"/><circle cx="594.9" cy="847.9" r="0.45"/><circle cx="587.4" cy="857.3" r="0.45"/><circle cx="587.5" cy="857.5" r="0.45"/><circle cx="604.7" cy="834.7" r="0.45"/><circle cx="586.9" cy="855.3" r="0.45"/></g>
<g fill="#b8b8b8"><circle cx="595.5" cy="843.8" r="0.45"/><circle cx="588.2" cy="849.2" r="0.45"/><circle cx="595.0" cy="845.2" r="0.45"/><circle cx="600.3" cy="840.7" r="0.45"/><circle cx="597.3" cy="841.9" r="0.45"/><circle cx="601.7" cy="839.4" r="0.45"/><circle cx="599.9" cy="842.0" r="0.45"/><circle cx="601.8" cy="842.3" r="0.45"/><circle cx="595.9" cy="847.7" r="0.45"/><circle cx="595.6" cy="840.9" r="0.45"/><circle cx="601.5" cy="840.0" r="0.45"/><circle cx="601.3" cy="842.5" r="0.45"/><circle cx="591.3" cy="844.3" r="0.45"/><circle cx="593.6" cy="846.9" r="0.45"/><circle cx="593.3" cy="852.9" r="0.45"/><circle cx="590.7" cy="853.8" r="0.45"/><circle cx="594.0" cy="848.0" r="0.45"/><circle cx="598.3" cy="847.5" r="0.45"/><circle cx="588.6" cy="852.4" r="0.45"/><circle cx="590.6" cy="851.6" r="0.45"/><circle cx="587.5" cy="856.9" r="0.45"/><circle cx="600.5" cy="842.4" r="0.45"/><circle cx="594.8" cy="849.2" r="0.45"/><circle cx="600.3" cy="844.0" r="0.45"/><circle cx="598.3" cy="843.5" r="0.45"/><circle cx="598.0" cy="846.7" r="0.45"/><circle cx="587.3" cy="857.1" r="0.45"/><circle cx="592.6" cy="851.0" r="0.45"/><circle cx="599.8" cy="845.7" r="0.45"/><circle cx="597.7" cy="843.7" r="0.45"/><circle cx="597.9" cy="849.3" r="0.45"/><circle cx="591.0" cy="853.6" r="0.45"/><circle cx="591.7" cy="854.1" r="0.45"/><circle cx="600.5" cy="840.5" r="0.45"/><circle cx="597.6" cy="846.3" r="0.45"/><circle cx="587.9" cy="853.0" r="0.45"/><circle cx="605.9" cy="842.9" r="0.45"/><circle cx="596.7" cy="842.1" r="0.45"/><circle cx="599.4" cy="846.3" r="0.45"/><circle cx="604.3" cy="837.0" r="0.45"/><circle cx="588.5" cy="852.2" r="0.45"/><circle cx="601.2" cy="843.9" r="0.45"/><circle cx="590.7" cy="850.8" r="0.45"/><circle cx="588.0" cy="856.6" r="0.45"/><circle cx="595.7" cy="845.3" r="0.45"/><circle cx="602.7" cy="840.3" r="0.45"/><circle cx="593.5" cy="849.1" r="0.45"/><circle cx="589.8" cy="851.0" r="0.45"/><circle cx="589.3" cy="856.6" r="0.45"/><circle cx="595.3" cy="854.4" r="0.45"/><circle cx="588.5" cy="854.5" r="0.45"/><circle cx="589.8" cy="854.0" r="0.45"/><circle cx="588.8" cy="854.0" r="0.45"/><circle cx="589.5" cy="856.3" r="0.45"/><circle cx="591.4" cy="854.6" r="0.45"/><circle cx="592.8" cy="846.1" r="0.45"/><circle cx="595.7" cy="847.8" r="0.45"/><circle cx="594.1" cy="843.3" r="0.45"/><circle cx="597.8" cy="845.1" r="0.45"/><circle cx="599.4" cy="844.9" r="0.45"/><circle cx="602.7" cy="843.5" r="0.45"/><circle cx="591.5" cy="849.4" r="0.45"/><circle cx="595.0" cy="849.1" r="0.45"/><circle cx="597.3" cy="839.7" r="0.45"/><circle cx="588.0" cy="859.7" r="0.45"/><circle cx="587.3" cy="851.9" r="0.45"/><circle cx="589.1" cy="845.9" r="0.45"/><circle cx="598.3" cy="845.8" r="0.45"/><circle cx="592.1" cy="846.3" r="0.45"/><circle cx="590.6" cy="849.6" r="0.45"/><circle cx="587.6" cy="857.8" r="0.45"/><circle cx="587.3" cy="846.8" r="0.45"/><circle cx="597.1" cy="837.9" r="0.45"/><circle cx="590.4" cy="845.7" r="0.45"/><circle cx="587.4" cy="856.7" r="0.45"/><circle cx="591.8" cy="850.9" r="0.45"/><circle cx="598.4" cy="844.7" r="0.45"/><circle cx="588.4" cy="856.4" r="0.45"/><circle cx="591.1" cy="851.0" r="0.45"/><circle cx="595.1" cy="843.2" r="0.45"/><circle cx="593.2" cy="853.5" r="0.45"/><circle cx="596.1" cy="846.0" r="0.45"/><circle cx="586.9" cy="855.8" r="0.45"/><circle cx="595.3" cy="848.9" r="0.45"/><circle cx="587.7" cy="851.4" r="0.45"/><circle cx="589.2" cy="852.0" r="0.45"/><circle cx="591.8" cy="849.2" r="0.45"/><circle cx="595.1" cy="848.8" r="0.45"/><circle cx="594.0" cy="852.0" r="0.45"/><circle cx="592.8" cy="844.4" r="0.45"/><circle cx="597.3" cy="850.2" r="0.45"/><circle cx="593.3" cy="843.6" r="0.45"/><circle cx="594.8" cy="849.7" r="0.45"/><circle cx="594.1" cy="848.9" r="0.45"/><circle cx="590.9" cy="846.3" r="0.45"/><circle cx="600.9" cy="841.2" r="0.45"/><circle cx="592.9" cy="848.8" r="0.45"/><circle cx="597.9" cy="841.6" r="0.45"/><circle cx="593.6" cy="852.3" r="0.45"/><circle cx="594.5" cy="844.3" r="0.45"/><circle cx="596.6" cy="844.9" r="0.45"/><circle cx="601.5" cy="840.1" r="0.45"/><circle cx="593.6" cy="846.6" r="0.45"/><circle cx="586.4" cy="853.3" r="0.45"/><circle cx="588.7" cy="857.8" r="0.45"/><circle cx="602.1" cy="840.7" r="0.45"/><circle cx="600.2" cy="843.0" r="0.45"/><circle cx="590.7" cy="856.2" r="0.45"/><circle cx="585.0" cy="852.3" r="0.45"/><circle cx="588.7" cy="850.8" r="0.45"/></g>
<path d="M606.5,817.5 C607.5,821 608.5,825 609.1,828.5" fill="none" stroke="#d9928c" stroke-width="1.8"/>
<path d="M609.1,828.5 C620,824.5 634,827.5 645,834 C650,837.5 654,841 656.5,843.8" fill="none" stroke="#ec8a82" stroke-width="2.6" stroke-linecap="round"/>
<g fill="#e8746c"><circle cx="654.3" cy="842.6" r="0.5"/><circle cx="652.5" cy="840.2" r="0.5"/><circle cx="646.9" cy="838.4" r="0.5"/><circle cx="654.3" cy="842.6" r="0.5"/><circle cx="620.6" cy="826.1" r="0.5"/><circle cx="617.7" cy="825.9" r="0.5"/><circle cx="638.4" cy="830.8" r="0.5"/><circle cx="638.4" cy="830.4" r="0.5"/><circle cx="613.4" cy="826.9" r="0.5"/><circle cx="657.0" cy="842.9" r="0.5"/><circle cx="649.7" cy="839.1" r="0.5"/><circle cx="628.4" cy="827.9" r="0.5"/><circle cx="633.6" cy="828.3" r="0.5"/><circle cx="637.9" cy="831.2" r="0.5"/><circle cx="636.6" cy="829.9" r="0.5"/><circle cx="643.9" cy="832.6" r="0.5"/><circle cx="638.4" cy="831.9" r="0.5"/><circle cx="611.6" cy="827.2" r="0.5"/><circle cx="645.6" cy="835.2" r="0.5"/><circle cx="618.3" cy="826.2" r="0.5"/><circle cx="649.6" cy="839.3" r="0.5"/><circle cx="648.4" cy="836.7" r="0.5"/><circle cx="644.0" cy="832.6" r="0.5"/><circle cx="625.7" cy="827.2" r="0.5"/><circle cx="620.9" cy="826.0" r="0.5"/><circle cx="650.4" cy="839.9" r="0.5"/><circle cx="620.6" cy="826.2" r="0.5"/><circle cx="640.5" cy="831.3" r="0.5"/><circle cx="616.7" cy="826.0" r="0.5"/><circle cx="622.7" cy="825.8" r="0.5"/><circle cx="623.4" cy="826.3" r="0.5"/><circle cx="642.3" cy="834.5" r="0.5"/><circle cx="641.5" cy="833.9" r="0.5"/><circle cx="649.9" cy="840.2" r="0.5"/><circle cx="615.3" cy="827.3" r="0.5"/><circle cx="654.4" cy="843.0" r="0.5"/><circle cx="619.9" cy="825.2" r="0.5"/><circle cx="649.8" cy="839.5" r="0.5"/><circle cx="651.3" cy="840.5" r="0.5"/><circle cx="640.4" cy="832.0" r="0.5"/><circle cx="641.4" cy="833.0" r="0.5"/><circle cx="608.8" cy="827.8" r="0.5"/><circle cx="648.8" cy="838.0" r="0.5"/><circle cx="631.1" cy="828.0" r="0.5"/><circle cx="634.7" cy="829.8" r="0.5"/><circle cx="617.2" cy="825.8" r="0.5"/><circle cx="609.6" cy="828.1" r="0.5"/><circle cx="655.1" cy="843.3" r="0.5"/><circle cx="653.9" cy="841.8" r="0.5"/><circle cx="620.7" cy="826.1" r="0.5"/><circle cx="611.9" cy="828.5" r="0.5"/><circle cx="627.3" cy="827.9" r="0.5"/><circle cx="631.3" cy="827.2" r="0.5"/><circle cx="646.9" cy="837.4" r="0.5"/><circle cx="648.7" cy="836.8" r="0.5"/><circle cx="639.6" cy="831.9" r="0.5"/><circle cx="652.2" cy="838.8" r="0.5"/><circle cx="648.6" cy="838.4" r="0.5"/><circle cx="633.7" cy="828.3" r="0.5"/><circle cx="627.4" cy="826.8" r="0.5"/><circle cx="635.9" cy="828.8" r="0.5"/><circle cx="643.2" cy="832.5" r="0.5"/><circle cx="610.2" cy="828.2" r="0.5"/><circle cx="625.5" cy="827.3" r="0.5"/><circle cx="617.6" cy="825.9" r="0.5"/><circle cx="619.1" cy="824.1" r="0.5"/><circle cx="612.2" cy="827.0" r="0.5"/><circle cx="640.5" cy="832.1" r="0.5"/><circle cx="613.7" cy="826.9" r="0.5"/><circle cx="640.7" cy="832.6" r="0.5"/><circle cx="652.8" cy="841.7" r="0.5"/><circle cx="651.2" cy="838.7" r="0.5"/><circle cx="640.8" cy="833.6" r="0.5"/><circle cx="624.3" cy="825.9" r="0.5"/><circle cx="656.1" cy="843.1" r="0.5"/><circle cx="617.7" cy="826.6" r="0.5"/><circle cx="644.8" cy="835.3" r="0.5"/><circle cx="632.0" cy="829.1" r="0.5"/><circle cx="631.8" cy="827.9" r="0.5"/><circle cx="651.8" cy="839.8" r="0.5"/><circle cx="612.3" cy="826.4" r="0.5"/><circle cx="626.9" cy="826.2" r="0.5"/><circle cx="614.1" cy="826.8" r="0.5"/><circle cx="633.9" cy="827.0" r="0.5"/><circle cx="649.6" cy="839.9" r="0.5"/><circle cx="616.2" cy="826.1" r="0.5"/><circle cx="650.8" cy="838.3" r="0.5"/><circle cx="648.3" cy="838.1" r="0.5"/><circle cx="614.1" cy="827.4" r="0.5"/><circle cx="646.5" cy="836.0" r="0.5"/><circle cx="639.1" cy="831.6" r="0.5"/><circle cx="631.7" cy="827.9" r="0.5"/><circle cx="655.1" cy="843.6" r="0.5"/><circle cx="623.3" cy="826.7" r="0.5"/><circle cx="651.1" cy="839.2" r="0.5"/><circle cx="638.7" cy="831.5" r="0.5"/><circle cx="634.6" cy="828.7" r="0.5"/><circle cx="631.6" cy="827.2" r="0.5"/><circle cx="630.1" cy="827.3" r="0.5"/><circle cx="637.4" cy="831.1" r="0.5"/><circle cx="635.8" cy="828.7" r="0.5"/><circle cx="648.6" cy="836.9" r="0.5"/><circle cx="654.0" cy="842.5" r="0.5"/><circle cx="634.0" cy="827.4" r="0.5"/><circle cx="648.4" cy="837.6" r="0.5"/><circle cx="619.0" cy="824.7" r="0.5"/><circle cx="614.7" cy="827.6" r="0.5"/><circle cx="627.2" cy="827.1" r="0.5"/><circle cx="614.4" cy="826.3" r="0.5"/><circle cx="640.3" cy="831.6" r="0.5"/><circle cx="620.3" cy="824.6" r="0.5"/><circle cx="631.0" cy="828.8" r="0.5"/><circle cx="655.7" cy="841.5" r="0.5"/><circle cx="655.7" cy="843.2" r="0.5"/><circle cx="649.5" cy="839.0" r="0.5"/><circle cx="633.9" cy="828.2" r="0.5"/><circle cx="616.4" cy="828.1" r="0.5"/><circle cx="650.1" cy="839.1" r="0.5"/><circle cx="628.1" cy="826.4" r="0.5"/><circle cx="650.5" cy="839.1" r="0.5"/><circle cx="637.9" cy="829.8" r="0.5"/><circle cx="648.7" cy="838.2" r="0.5"/><circle cx="627.6" cy="827.9" r="0.5"/><circle cx="653.8" cy="841.8" r="0.5"/><circle cx="617.6" cy="826.7" r="0.5"/><circle cx="630.2" cy="827.5" r="0.5"/><circle cx="614.6" cy="825.0" r="0.5"/><circle cx="623.9" cy="827.0" r="0.5"/><circle cx="637.1" cy="829.9" r="0.5"/><circle cx="622.1" cy="825.5" r="0.5"/><circle cx="642.5" cy="833.1" r="0.5"/><circle cx="610.6" cy="826.6" r="0.5"/><circle cx="643.5" cy="833.9" r="0.5"/><circle cx="636.5" cy="830.0" r="0.5"/><circle cx="610.1" cy="827.9" r="0.5"/><circle cx="623.7" cy="826.5" r="0.5"/><circle cx="611.9" cy="829.5" r="0.5"/><circle cx="610.6" cy="827.3" r="0.5"/><circle cx="638.2" cy="833.0" r="0.5"/><circle cx="648.0" cy="837.8" r="0.5"/><circle cx="653.9" cy="842.3" r="0.5"/><circle cx="639.5" cy="831.6" r="0.5"/><circle cx="639.4" cy="831.5" r="0.5"/><circle cx="627.3" cy="827.3" r="0.5"/><circle cx="643.6" cy="834.8" r="0.5"/><circle cx="629.7" cy="827.3" r="0.5"/><circle cx="634.2" cy="829.8" r="0.5"/><circle cx="615.0" cy="826.4" r="0.5"/><circle cx="640.6" cy="832.9" r="0.5"/><circle cx="657.4" cy="844.4" r="0.5"/><circle cx="654.9" cy="842.8" r="0.5"/><circle cx="634.6" cy="828.8" r="0.5"/><circle cx="646.4" cy="835.2" r="0.5"/><circle cx="639.7" cy="831.8" r="0.5"/><circle cx="635.4" cy="830.4" r="0.5"/><circle cx="636.2" cy="831.1" r="0.5"/><circle cx="609.6" cy="827.9" r="0.5"/><circle cx="651.7" cy="840.0" r="0.5"/><circle cx="621.0" cy="824.4" r="0.5"/><circle cx="653.5" cy="841.6" r="0.5"/><circle cx="651.8" cy="839.7" r="0.5"/><circle cx="638.9" cy="832.6" r="0.5"/><circle cx="638.2" cy="829.2" r="0.5"/><circle cx="646.6" cy="836.2" r="0.5"/><circle cx="613.3" cy="827.7" r="0.5"/><circle cx="624.6" cy="826.1" r="0.5"/><circle cx="654.2" cy="840.5" r="0.5"/><circle cx="621.1" cy="826.5" r="0.5"/><circle cx="640.4" cy="831.9" r="0.5"/><circle cx="613.6" cy="827.2" r="0.5"/><circle cx="652.9" cy="842.0" r="0.5"/><circle cx="632.3" cy="827.5" r="0.5"/><circle cx="648.6" cy="838.3" r="0.5"/><circle cx="647.8" cy="837.4" r="0.5"/><circle cx="652.2" cy="838.6" r="0.5"/><circle cx="626.6" cy="827.2" r="0.5"/><circle cx="650.0" cy="838.4" r="0.5"/><circle cx="608.1" cy="828.8" r="0.5"/><circle cx="612.7" cy="828.1" r="0.5"/><circle cx="643.8" cy="834.3" r="0.5"/><circle cx="644.0" cy="833.5" r="0.5"/><circle cx="611.0" cy="828.5" r="0.5"/><circle cx="612.8" cy="828.4" r="0.5"/><circle cx="646.5" cy="835.9" r="0.5"/><circle cx="637.3" cy="830.4" r="0.5"/><circle cx="612.3" cy="827.6" r="0.5"/><circle cx="633.7" cy="828.0" r="0.5"/><circle cx="629.4" cy="826.6" r="0.5"/><circle cx="616.8" cy="825.3" r="0.5"/><circle cx="649.2" cy="837.7" r="0.5"/><circle cx="612.0" cy="827.7" r="0.5"/><circle cx="654.7" cy="843.4" r="0.5"/><circle cx="650.4" cy="840.3" r="0.5"/><circle cx="615.9" cy="826.7" r="0.5"/><circle cx="633.7" cy="829.6" r="0.5"/><circle cx="628.0" cy="826.8" r="0.5"/><circle cx="650.1" cy="838.8" r="0.5"/><circle cx="654.0" cy="841.7" r="0.5"/><circle cx="657.0" cy="842.9" r="0.5"/><circle cx="621.3" cy="826.1" r="0.5"/></g>
<path d="M581,864.5 L609.1,828.5 C620,824.5 634,827.5 645,834 C650,837.5 654,841 656.5,843.8" fill="none" stroke="#555" stroke-width="0.45"/>
<circle cx="609.10" cy="828.50" r="0.90" fill="#111"/>
<path d="M591.1,791 C590,783 589.5,776 588.5,770 C587.5,767.5 585.5,767 584.5,769 C584,772 585,774 586,775" fill="none" stroke="#ef8a84" stroke-width="3.0" stroke-linecap="round"/>
<g fill="#ee6e6a"><circle cx="591.5" cy="786.6" r="0.55"/><circle cx="584.7" cy="771.9" r="0.55"/><circle cx="585.1" cy="770.8" r="0.55"/><circle cx="592.5" cy="785.6" r="0.55"/><circle cx="590.9" cy="786.3" r="0.55"/><circle cx="591.0" cy="787.5" r="0.55"/><circle cx="587.7" cy="774.6" r="0.55"/><circle cx="591.6" cy="784.8" r="0.55"/><circle cx="588.7" cy="778.6" r="0.55"/><circle cx="591.3" cy="786.2" r="0.55"/><circle cx="589.2" cy="775.2" r="0.55"/><circle cx="591.3" cy="782.6" r="0.55"/><circle cx="590.0" cy="782.5" r="0.55"/><circle cx="584.9" cy="772.6" r="0.55"/><circle cx="586.3" cy="768.4" r="0.55"/><circle cx="588.5" cy="770.0" r="0.55"/><circle cx="590.2" cy="779.7" r="0.55"/><circle cx="584.3" cy="769.1" r="0.55"/><circle cx="588.4" cy="780.0" r="0.55"/><circle cx="585.5" cy="768.8" r="0.55"/><circle cx="590.0" cy="777.9" r="0.55"/><circle cx="586.3" cy="768.5" r="0.55"/><circle cx="589.9" cy="788.4" r="0.55"/><circle cx="583.7" cy="770.1" r="0.55"/><circle cx="589.1" cy="784.8" r="0.55"/><circle cx="589.7" cy="787.4" r="0.55"/><circle cx="591.3" cy="790.6" r="0.55"/><circle cx="589.9" cy="784.7" r="0.55"/><circle cx="590.2" cy="778.3" r="0.55"/><circle cx="585.7" cy="767.7" r="0.55"/><circle cx="589.6" cy="788.8" r="0.55"/><circle cx="589.6" cy="782.2" r="0.55"/><circle cx="587.4" cy="767.6" r="0.55"/><circle cx="589.8" cy="774.0" r="0.55"/><circle cx="589.7" cy="773.3" r="0.55"/><circle cx="588.9" cy="781.1" r="0.55"/><circle cx="587.1" cy="768.9" r="0.55"/><circle cx="589.4" cy="776.3" r="0.55"/><circle cx="588.6" cy="770.5" r="0.55"/><circle cx="585.1" cy="767.6" r="0.55"/><circle cx="585.3" cy="767.7" r="0.55"/><circle cx="588.9" cy="769.5" r="0.55"/><circle cx="584.7" cy="770.5" r="0.55"/><circle cx="589.2" cy="769.7" r="0.55"/><circle cx="588.9" cy="768.2" r="0.55"/><circle cx="589.7" cy="776.7" r="0.55"/><circle cx="592.1" cy="787.9" r="0.55"/><circle cx="585.2" cy="768.5" r="0.55"/><circle cx="589.3" cy="774.0" r="0.55"/><circle cx="590.2" cy="778.8" r="0.55"/><circle cx="589.3" cy="775.6" r="0.55"/><circle cx="589.2" cy="788.0" r="0.55"/><circle cx="589.0" cy="776.0" r="0.55"/><circle cx="586.7" cy="767.1" r="0.55"/><circle cx="591.2" cy="789.2" r="0.55"/><circle cx="589.0" cy="779.8" r="0.55"/><circle cx="590.6" cy="782.9" r="0.55"/><circle cx="584.4" cy="771.5" r="0.55"/><circle cx="588.5" cy="769.3" r="0.55"/><circle cx="589.1" cy="771.3" r="0.55"/><circle cx="588.9" cy="771.2" r="0.55"/><circle cx="589.2" cy="774.8" r="0.55"/><circle cx="585.2" cy="768.0" r="0.55"/><circle cx="590.2" cy="769.7" r="0.55"/><circle cx="589.1" cy="781.2" r="0.55"/><circle cx="589.9" cy="785.8" r="0.55"/><circle cx="589.7" cy="775.5" r="0.55"/><circle cx="584.7" cy="772.2" r="0.55"/><circle cx="590.6" cy="787.5" r="0.55"/><circle cx="588.7" cy="781.9" r="0.55"/><circle cx="589.4" cy="768.3" r="0.55"/><circle cx="589.3" cy="776.3" r="0.55"/><circle cx="590.9" cy="784.1" r="0.55"/><circle cx="587.4" cy="768.4" r="0.55"/><circle cx="591.1" cy="787.4" r="0.55"/><circle cx="587.9" cy="775.6" r="0.55"/><circle cx="590.0" cy="772.4" r="0.55"/><circle cx="588.4" cy="775.9" r="0.55"/><circle cx="590.7" cy="784.0" r="0.55"/><circle cx="590.2" cy="777.5" r="0.55"/><circle cx="590.0" cy="780.9" r="0.55"/><circle cx="589.1" cy="771.1" r="0.55"/><circle cx="588.8" cy="774.1" r="0.55"/><circle cx="590.1" cy="783.0" r="0.55"/><circle cx="592.3" cy="787.7" r="0.55"/><circle cx="591.9" cy="787.4" r="0.55"/><circle cx="588.8" cy="769.7" r="0.55"/><circle cx="589.4" cy="784.2" r="0.55"/><circle cx="585.2" cy="769.3" r="0.55"/><circle cx="587.6" cy="773.2" r="0.55"/><circle cx="589.8" cy="788.5" r="0.55"/><circle cx="588.6" cy="773.2" r="0.55"/><circle cx="591.3" cy="788.3" r="0.55"/><circle cx="590.6" cy="788.5" r="0.55"/><circle cx="589.9" cy="774.8" r="0.55"/><circle cx="587.4" cy="771.4" r="0.55"/><circle cx="589.1" cy="783.9" r="0.55"/><circle cx="590.2" cy="781.4" r="0.55"/><circle cx="590.2" cy="775.7" r="0.55"/><circle cx="589.6" cy="782.6" r="0.55"/><circle cx="586.7" cy="769.9" r="0.55"/><circle cx="588.7" cy="769.3" r="0.55"/><circle cx="589.7" cy="781.2" r="0.55"/><circle cx="590.3" cy="788.7" r="0.55"/><circle cx="590.5" cy="789.9" r="0.55"/><circle cx="587.4" cy="771.4" r="0.55"/><circle cx="589.0" cy="778.7" r="0.55"/><circle cx="585.6" cy="767.1" r="0.55"/><circle cx="587.9" cy="775.2" r="0.55"/><circle cx="585.9" cy="767.4" r="0.55"/></g>
<g fill="#3cb57a"><circle cx="585.9" cy="774.8" r="0.55"/><circle cx="584.6" cy="770.5" r="0.55"/><circle cx="586.8" cy="772.2" r="0.55"/><circle cx="586.1" cy="774.5" r="0.55"/><circle cx="583.2" cy="771.1" r="0.55"/><circle cx="585.9" cy="776.1" r="0.55"/><circle cx="586.2" cy="772.1" r="0.55"/><circle cx="584.6" cy="769.1" r="0.55"/><circle cx="586.1" cy="772.1" r="0.55"/><circle cx="585.8" cy="769.7" r="0.55"/><circle cx="585.0" cy="770.1" r="0.55"/><circle cx="586.4" cy="771.4" r="0.55"/><circle cx="585.3" cy="773.1" r="0.55"/><circle cx="586.6" cy="771.8" r="0.55"/><circle cx="586.3" cy="774.4" r="0.55"/><circle cx="583.9" cy="769.4" r="0.55"/><circle cx="585.2" cy="770.7" r="0.55"/><circle cx="585.6" cy="775.4" r="0.55"/><circle cx="584.4" cy="768.7" r="0.55"/><circle cx="586.5" cy="772.3" r="0.55"/><circle cx="585.6" cy="770.4" r="0.55"/><circle cx="585.7" cy="773.0" r="0.55"/><circle cx="584.6" cy="772.7" r="0.55"/><circle cx="585.5" cy="771.9" r="0.55"/><circle cx="582.7" cy="772.7" r="0.55"/></g>
<g fill="#3cb57a"><circle cx="590.9" cy="781.1" r="0.55"/><circle cx="589.7" cy="780.7" r="0.55"/><circle cx="589.3" cy="784.6" r="0.55"/><circle cx="592.2" cy="788.8" r="0.55"/><circle cx="591.1" cy="788.7" r="0.55"/><circle cx="590.8" cy="784.2" r="0.55"/><circle cx="590.8" cy="785.5" r="0.55"/><circle cx="589.7" cy="781.0" r="0.55"/><circle cx="589.4" cy="779.2" r="0.55"/><circle cx="592.0" cy="789.2" r="0.55"/><circle cx="589.6" cy="783.3" r="0.55"/><circle cx="589.8" cy="780.2" r="0.55"/></g>
<path d="M591.1,791.1 L599.3,787.6 L615.7,787.6 L630,792.2 L646.3,800.9 L660.6,811.1 L669.8,821.3" fill="none" stroke="#ee8880" stroke-width="3.6" stroke-linecap="round" stroke-linejoin="round"/>
<g fill="#ee6e6a"><circle cx="662.4" cy="812.6" r="0.6"/><circle cx="639.0" cy="796.8" r="0.6"/><circle cx="633.3" cy="794.7" r="0.6"/><circle cx="599.8" cy="789.8" r="0.6"/><circle cx="602.7" cy="787.0" r="0.6"/><circle cx="658.7" cy="807.0" r="0.6"/><circle cx="626.3" cy="790.4" r="0.6"/><circle cx="644.9" cy="799.4" r="0.6"/><circle cx="594.6" cy="788.7" r="0.6"/><circle cx="609.4" cy="787.6" r="0.6"/><circle cx="614.9" cy="788.1" r="0.6"/><circle cx="659.3" cy="807.8" r="0.6"/><circle cx="630.6" cy="791.3" r="0.6"/><circle cx="639.6" cy="796.9" r="0.6"/><circle cx="608.2" cy="785.0" r="0.6"/><circle cx="643.4" cy="801.9" r="0.6"/><circle cx="597.8" cy="787.9" r="0.6"/><circle cx="667.8" cy="815.4" r="0.6"/><circle cx="632.1" cy="792.7" r="0.6"/><circle cx="652.2" cy="805.7" r="0.6"/><circle cx="658.3" cy="808.4" r="0.6"/><circle cx="614.7" cy="787.6" r="0.6"/><circle cx="622.2" cy="789.7" r="0.6"/><circle cx="630.5" cy="793.8" r="0.6"/><circle cx="657.2" cy="805.8" r="0.6"/><circle cx="665.6" cy="818.9" r="0.6"/><circle cx="648.3" cy="802.0" r="0.6"/><circle cx="662.4" cy="814.9" r="0.6"/><circle cx="599.5" cy="788.1" r="0.6"/><circle cx="650.2" cy="804.7" r="0.6"/><circle cx="619.5" cy="789.3" r="0.6"/><circle cx="633.5" cy="794.0" r="0.6"/><circle cx="608.4" cy="787.3" r="0.6"/><circle cx="641.4" cy="797.1" r="0.6"/><circle cx="664.7" cy="814.0" r="0.6"/><circle cx="640.1" cy="796.5" r="0.6"/><circle cx="614.4" cy="787.7" r="0.6"/><circle cx="592.7" cy="789.2" r="0.6"/><circle cx="659.9" cy="811.8" r="0.6"/><circle cx="625.5" cy="791.1" r="0.6"/><circle cx="636.0" cy="795.0" r="0.6"/><circle cx="667.8" cy="821.1" r="0.6"/><circle cx="651.3" cy="802.8" r="0.6"/><circle cx="594.6" cy="789.3" r="0.6"/><circle cx="617.5" cy="790.3" r="0.6"/><circle cx="661.7" cy="813.4" r="0.6"/><circle cx="648.3" cy="801.7" r="0.6"/><circle cx="631.3" cy="792.7" r="0.6"/><circle cx="616.1" cy="788.2" r="0.6"/><circle cx="622.2" cy="788.1" r="0.6"/><circle cx="619.4" cy="786.8" r="0.6"/><circle cx="600.4" cy="789.9" r="0.6"/><circle cx="601.9" cy="786.5" r="0.6"/><circle cx="657.9" cy="806.8" r="0.6"/><circle cx="602.2" cy="785.1" r="0.6"/><circle cx="647.7" cy="801.4" r="0.6"/><circle cx="632.4" cy="792.8" r="0.6"/><circle cx="620.9" cy="790.5" r="0.6"/><circle cx="627.7" cy="791.7" r="0.6"/><circle cx="635.2" cy="794.0" r="0.6"/><circle cx="614.5" cy="786.7" r="0.6"/><circle cx="659.5" cy="806.5" r="0.6"/><circle cx="619.7" cy="788.3" r="0.6"/><circle cx="644.9" cy="803.0" r="0.6"/><circle cx="655.9" cy="808.1" r="0.6"/><circle cx="627.9" cy="792.3" r="0.6"/><circle cx="650.4" cy="804.9" r="0.6"/><circle cx="647.0" cy="800.8" r="0.6"/><circle cx="598.9" cy="787.0" r="0.6"/><circle cx="637.9" cy="797.3" r="0.6"/><circle cx="643.9" cy="801.3" r="0.6"/><circle cx="666.6" cy="815.8" r="0.6"/><circle cx="651.4" cy="807.6" r="0.6"/><circle cx="589.5" cy="790.2" r="0.6"/><circle cx="663.1" cy="815.1" r="0.6"/><circle cx="642.7" cy="797.8" r="0.6"/><circle cx="645.0" cy="800.7" r="0.6"/><circle cx="598.1" cy="789.5" r="0.6"/><circle cx="602.6" cy="785.8" r="0.6"/><circle cx="625.1" cy="791.6" r="0.6"/><circle cx="663.0" cy="811.2" r="0.6"/><circle cx="625.3" cy="789.2" r="0.6"/><circle cx="622.3" cy="788.2" r="0.6"/><circle cx="597.0" cy="789.7" r="0.6"/><circle cx="654.0" cy="807.9" r="0.6"/><circle cx="601.7" cy="786.8" r="0.6"/><circle cx="623.0" cy="791.4" r="0.6"/><circle cx="657.6" cy="809.8" r="0.6"/><circle cx="638.2" cy="795.0" r="0.6"/><circle cx="593.3" cy="790.4" r="0.6"/><circle cx="594.9" cy="787.3" r="0.6"/><circle cx="622.8" cy="789.8" r="0.6"/><circle cx="651.5" cy="803.4" r="0.6"/><circle cx="633.2" cy="792.7" r="0.6"/><circle cx="592.4" cy="791.5" r="0.6"/><circle cx="610.7" cy="788.1" r="0.6"/><circle cx="648.1" cy="799.0" r="0.6"/><circle cx="620.5" cy="789.6" r="0.6"/><circle cx="642.0" cy="797.5" r="0.6"/><circle cx="592.6" cy="790.6" r="0.6"/><circle cx="650.0" cy="802.1" r="0.6"/><circle cx="646.2" cy="801.6" r="0.6"/><circle cx="604.5" cy="787.1" r="0.6"/><circle cx="631.3" cy="794.7" r="0.6"/><circle cx="619.9" cy="791.4" r="0.6"/><circle cx="593.6" cy="793.0" r="0.6"/><circle cx="647.5" cy="802.2" r="0.6"/><circle cx="649.8" cy="798.3" r="0.6"/><circle cx="666.3" cy="816.9" r="0.6"/><circle cx="654.8" cy="808.5" r="0.6"/><circle cx="594.5" cy="790.4" r="0.6"/><circle cx="645.3" cy="803.7" r="0.6"/><circle cx="598.7" cy="786.7" r="0.6"/><circle cx="599.2" cy="786.5" r="0.6"/><circle cx="627.5" cy="792.4" r="0.6"/><circle cx="665.4" cy="815.0" r="0.6"/><circle cx="631.6" cy="794.0" r="0.6"/><circle cx="660.3" cy="810.7" r="0.6"/><circle cx="632.7" cy="792.2" r="0.6"/><circle cx="634.4" cy="793.3" r="0.6"/><circle cx="612.8" cy="786.9" r="0.6"/><circle cx="653.4" cy="809.6" r="0.6"/><circle cx="647.7" cy="802.7" r="0.6"/><circle cx="640.8" cy="798.2" r="0.6"/><circle cx="630.0" cy="793.7" r="0.6"/><circle cx="610.3" cy="790.8" r="0.6"/><circle cx="624.0" cy="789.6" r="0.6"/><circle cx="597.9" cy="786.8" r="0.6"/><circle cx="658.5" cy="808.8" r="0.6"/><circle cx="642.2" cy="800.4" r="0.6"/><circle cx="608.6" cy="788.0" r="0.6"/><circle cx="593.2" cy="790.7" r="0.6"/><circle cx="605.8" cy="788.7" r="0.6"/><circle cx="611.8" cy="785.9" r="0.6"/><circle cx="599.8" cy="785.4" r="0.6"/><circle cx="591.9" cy="790.8" r="0.6"/><circle cx="619.7" cy="789.5" r="0.6"/><circle cx="608.7" cy="786.4" r="0.6"/><circle cx="596.7" cy="787.7" r="0.6"/><circle cx="652.7" cy="804.6" r="0.6"/><circle cx="624.0" cy="787.4" r="0.6"/><circle cx="637.5" cy="795.9" r="0.6"/><circle cx="628.3" cy="793.1" r="0.6"/><circle cx="616.0" cy="788.0" r="0.6"/><circle cx="599.1" cy="787.2" r="0.6"/><circle cx="667.6" cy="820.0" r="0.6"/><circle cx="661.7" cy="814.8" r="0.6"/><circle cx="654.7" cy="807.9" r="0.6"/><circle cx="592.9" cy="789.6" r="0.6"/><circle cx="658.2" cy="807.4" r="0.6"/><circle cx="642.7" cy="799.3" r="0.6"/><circle cx="633.1" cy="793.9" r="0.6"/><circle cx="619.5" cy="791.1" r="0.6"/><circle cx="670.3" cy="820.4" r="0.6"/><circle cx="660.1" cy="812.2" r="0.6"/><circle cx="642.1" cy="798.2" r="0.6"/><circle cx="594.5" cy="787.9" r="0.6"/><circle cx="595.2" cy="787.8" r="0.6"/><circle cx="621.7" cy="788.4" r="0.6"/><circle cx="606.7" cy="788.2" r="0.6"/><circle cx="658.9" cy="810.8" r="0.6"/><circle cx="654.6" cy="807.8" r="0.6"/><circle cx="602.8" cy="788.8" r="0.6"/><circle cx="657.1" cy="807.5" r="0.6"/><circle cx="634.1" cy="793.0" r="0.6"/><circle cx="612.6" cy="785.5" r="0.6"/><circle cx="610.6" cy="787.3" r="0.6"/><circle cx="605.7" cy="789.4" r="0.6"/><circle cx="632.2" cy="794.4" r="0.6"/><circle cx="630.1" cy="792.4" r="0.6"/><circle cx="664.7" cy="815.5" r="0.6"/><circle cx="666.0" cy="817.6" r="0.6"/><circle cx="658.3" cy="808.2" r="0.6"/><circle cx="630.8" cy="791.8" r="0.6"/><circle cx="631.2" cy="792.0" r="0.6"/><circle cx="627.5" cy="792.4" r="0.6"/><circle cx="655.8" cy="807.8" r="0.6"/><circle cx="630.5" cy="791.0" r="0.6"/><circle cx="615.3" cy="791.3" r="0.6"/><circle cx="592.1" cy="790.5" r="0.6"/><circle cx="615.6" cy="786.5" r="0.6"/><circle cx="645.2" cy="801.4" r="0.6"/><circle cx="660.8" cy="813.0" r="0.6"/><circle cx="640.2" cy="795.2" r="0.6"/><circle cx="655.4" cy="809.8" r="0.6"/><circle cx="665.1" cy="815.1" r="0.6"/><circle cx="629.9" cy="794.0" r="0.6"/><circle cx="659.5" cy="807.9" r="0.6"/><circle cx="666.7" cy="815.7" r="0.6"/><circle cx="650.5" cy="802.1" r="0.6"/><circle cx="595.5" cy="789.7" r="0.6"/><circle cx="594.6" cy="791.8" r="0.6"/><circle cx="650.7" cy="802.8" r="0.6"/><circle cx="641.7" cy="800.3" r="0.6"/><circle cx="600.0" cy="789.2" r="0.6"/><circle cx="647.5" cy="801.6" r="0.6"/><circle cx="610.0" cy="789.6" r="0.6"/><circle cx="615.3" cy="788.6" r="0.6"/><circle cx="591.0" cy="791.7" r="0.6"/><circle cx="600.4" cy="787.3" r="0.6"/><circle cx="616.5" cy="790.0" r="0.6"/><circle cx="660.7" cy="811.2" r="0.6"/><circle cx="643.9" cy="799.0" r="0.6"/><circle cx="669.0" cy="816.4" r="0.6"/><circle cx="601.0" cy="784.0" r="0.6"/><circle cx="611.6" cy="790.8" r="0.6"/><circle cx="613.2" cy="789.1" r="0.6"/><circle cx="618.7" cy="788.1" r="0.6"/><circle cx="610.0" cy="786.9" r="0.6"/><circle cx="646.6" cy="801.4" r="0.6"/><circle cx="609.3" cy="787.8" r="0.6"/><circle cx="650.6" cy="804.1" r="0.6"/><circle cx="594.7" cy="788.7" r="0.6"/><circle cx="610.3" cy="785.1" r="0.6"/><circle cx="596.4" cy="790.8" r="0.6"/><circle cx="655.1" cy="808.7" r="0.6"/><circle cx="618.6" cy="790.6" r="0.6"/><circle cx="638.5" cy="795.7" r="0.6"/><circle cx="664.5" cy="815.4" r="0.6"/><circle cx="624.6" cy="789.8" r="0.6"/><circle cx="593.0" cy="788.7" r="0.6"/><circle cx="650.8" cy="804.4" r="0.6"/><circle cx="624.6" cy="791.1" r="0.6"/><circle cx="635.1" cy="795.1" r="0.6"/><circle cx="643.4" cy="798.5" r="0.6"/><circle cx="632.7" cy="793.7" r="0.6"/><circle cx="617.7" cy="787.5" r="0.6"/><circle cx="657.2" cy="808.3" r="0.6"/><circle cx="642.7" cy="798.9" r="0.6"/><circle cx="651.7" cy="804.1" r="0.6"/><circle cx="666.0" cy="814.4" r="0.6"/><circle cx="658.6" cy="811.0" r="0.6"/><circle cx="614.4" cy="787.8" r="0.6"/><circle cx="595.9" cy="790.2" r="0.6"/><circle cx="621.7" cy="790.5" r="0.6"/><circle cx="620.9" cy="790.4" r="0.6"/><circle cx="629.6" cy="789.1" r="0.6"/><circle cx="663.2" cy="816.6" r="0.6"/><circle cx="665.4" cy="817.0" r="0.6"/><circle cx="651.5" cy="804.2" r="0.6"/><circle cx="665.4" cy="820.8" r="0.6"/><circle cx="634.0" cy="793.8" r="0.6"/><circle cx="657.0" cy="809.4" r="0.6"/><circle cx="626.8" cy="789.5" r="0.6"/><circle cx="656.1" cy="805.6" r="0.6"/><circle cx="624.9" cy="792.5" r="0.6"/><circle cx="630.7" cy="791.4" r="0.6"/><circle cx="655.7" cy="807.7" r="0.6"/><circle cx="632.8" cy="793.4" r="0.6"/><circle cx="623.8" cy="789.3" r="0.6"/><circle cx="592.4" cy="791.9" r="0.6"/><circle cx="614.8" cy="787.5" r="0.6"/><circle cx="630.7" cy="790.7" r="0.6"/><circle cx="652.7" cy="807.0" r="0.6"/><circle cx="657.4" cy="809.7" r="0.6"/><circle cx="601.7" cy="787.9" r="0.6"/><circle cx="646.6" cy="803.3" r="0.6"/><circle cx="639.1" cy="797.0" r="0.6"/><circle cx="628.7" cy="792.6" r="0.6"/><circle cx="618.7" cy="791.2" r="0.6"/><circle cx="628.7" cy="792.4" r="0.6"/><circle cx="624.7" cy="792.0" r="0.6"/><circle cx="635.2" cy="793.9" r="0.6"/><circle cx="658.6" cy="808.5" r="0.6"/><circle cx="593.2" cy="791.8" r="0.6"/><circle cx="660.9" cy="812.6" r="0.6"/><circle cx="641.9" cy="795.5" r="0.6"/><circle cx="639.1" cy="798.2" r="0.6"/><circle cx="634.3" cy="795.0" r="0.6"/><circle cx="661.7" cy="815.3" r="0.6"/><circle cx="642.1" cy="797.3" r="0.6"/><circle cx="669.4" cy="821.7" r="0.6"/><circle cx="595.1" cy="789.2" r="0.6"/><circle cx="643.4" cy="797.8" r="0.6"/><circle cx="664.1" cy="816.4" r="0.6"/><circle cx="646.4" cy="801.1" r="0.6"/><circle cx="610.3" cy="788.4" r="0.6"/><circle cx="600.8" cy="789.9" r="0.6"/><circle cx="649.8" cy="804.0" r="0.6"/><circle cx="598.5" cy="788.3" r="0.6"/><circle cx="604.0" cy="787.6" r="0.6"/><circle cx="660.0" cy="810.5" r="0.6"/><circle cx="592.9" cy="788.8" r="0.6"/><circle cx="659.4" cy="813.0" r="0.6"/><circle cx="624.1" cy="790.5" r="0.6"/><circle cx="619.2" cy="788.1" r="0.6"/><circle cx="608.1" cy="787.9" r="0.6"/><circle cx="625.3" cy="789.5" r="0.6"/><circle cx="613.1" cy="787.9" r="0.6"/><circle cx="602.5" cy="787.3" r="0.6"/><circle cx="600.4" cy="788.7" r="0.6"/><circle cx="652.4" cy="804.7" r="0.6"/><circle cx="640.8" cy="797.2" r="0.6"/><circle cx="655.3" cy="808.1" r="0.6"/><circle cx="646.9" cy="798.2" r="0.6"/><circle cx="612.7" cy="784.9" r="0.6"/><circle cx="636.4" cy="795.2" r="0.6"/><circle cx="615.9" cy="788.3" r="0.6"/><circle cx="599.8" cy="788.9" r="0.6"/><circle cx="633.2" cy="794.5" r="0.6"/><circle cx="653.4" cy="804.9" r="0.6"/><circle cx="600.6" cy="788.5" r="0.6"/><circle cx="627.4" cy="790.9" r="0.6"/><circle cx="609.5" cy="785.3" r="0.6"/><circle cx="612.8" cy="787.1" r="0.6"/><circle cx="613.0" cy="787.6" r="0.6"/><circle cx="666.1" cy="819.8" r="0.6"/><circle cx="662.6" cy="814.4" r="0.6"/><circle cx="616.7" cy="787.6" r="0.6"/><circle cx="614.1" cy="788.7" r="0.6"/><circle cx="666.3" cy="821.1" r="0.6"/><circle cx="647.4" cy="800.9" r="0.6"/><circle cx="620.5" cy="789.9" r="0.6"/><circle cx="611.3" cy="786.6" r="0.6"/><circle cx="629.4" cy="793.8" r="0.6"/><circle cx="622.3" cy="789.6" r="0.6"/><circle cx="657.0" cy="807.3" r="0.6"/><circle cx="628.5" cy="791.6" r="0.6"/><circle cx="645.6" cy="798.6" r="0.6"/><circle cx="635.3" cy="793.4" r="0.6"/><circle cx="628.2" cy="792.3" r="0.6"/><circle cx="646.0" cy="800.5" r="0.6"/><circle cx="640.6" cy="797.5" r="0.6"/><circle cx="646.9" cy="800.5" r="0.6"/><circle cx="636.5" cy="794.2" r="0.6"/><circle cx="611.7" cy="787.7" r="0.6"/><circle cx="605.5" cy="788.0" r="0.6"/><circle cx="664.4" cy="813.2" r="0.6"/><circle cx="651.8" cy="805.5" r="0.6"/><circle cx="643.1" cy="799.6" r="0.6"/><circle cx="653.3" cy="804.7" r="0.6"/><circle cx="606.9" cy="788.7" r="0.6"/><circle cx="652.6" cy="805.2" r="0.6"/><circle cx="615.8" cy="787.8" r="0.6"/><circle cx="629.9" cy="789.8" r="0.6"/><circle cx="653.9" cy="807.0" r="0.6"/><circle cx="656.8" cy="809.6" r="0.6"/><circle cx="625.4" cy="789.6" r="0.6"/><circle cx="612.2" cy="788.5" r="0.6"/><circle cx="609.9" cy="787.2" r="0.6"/><circle cx="660.0" cy="810.5" r="0.6"/><circle cx="622.6" cy="791.3" r="0.6"/><circle cx="610.4" cy="789.0" r="0.6"/><circle cx="661.6" cy="811.8" r="0.6"/><circle cx="599.3" cy="788.8" r="0.6"/><circle cx="659.2" cy="807.7" r="0.6"/><circle cx="627.0" cy="791.0" r="0.6"/><circle cx="633.8" cy="794.5" r="0.6"/><circle cx="606.1" cy="787.2" r="0.6"/><circle cx="666.7" cy="818.9" r="0.6"/><circle cx="655.7" cy="809.6" r="0.6"/><circle cx="666.4" cy="817.1" r="0.6"/><circle cx="612.5" cy="786.3" r="0.6"/><circle cx="658.3" cy="813.1" r="0.6"/><circle cx="645.4" cy="799.3" r="0.6"/><circle cx="641.9" cy="798.4" r="0.6"/><circle cx="634.8" cy="795.9" r="0.6"/><circle cx="621.9" cy="791.2" r="0.6"/><circle cx="669.9" cy="820.4" r="0.6"/><circle cx="625.8" cy="790.7" r="0.6"/><circle cx="597.6" cy="790.9" r="0.6"/><circle cx="632.0" cy="792.9" r="0.6"/><circle cx="613.8" cy="786.4" r="0.6"/><circle cx="593.0" cy="790.7" r="0.6"/><circle cx="617.6" cy="785.8" r="0.6"/><circle cx="661.4" cy="814.0" r="0.6"/><circle cx="639.6" cy="800.5" r="0.6"/><circle cx="606.7" cy="787.3" r="0.6"/><circle cx="655.3" cy="807.6" r="0.6"/><circle cx="655.7" cy="807.8" r="0.6"/><circle cx="670.8" cy="820.0" r="0.6"/><circle cx="598.6" cy="787.8" r="0.6"/><circle cx="667.4" cy="816.2" r="0.6"/><circle cx="663.9" cy="814.6" r="0.6"/><circle cx="627.4" cy="792.6" r="0.6"/><circle cx="647.8" cy="801.5" r="0.6"/><circle cx="656.7" cy="806.9" r="0.6"/><circle cx="612.1" cy="789.4" r="0.6"/><circle cx="633.3" cy="794.5" r="0.6"/><circle cx="649.8" cy="804.3" r="0.6"/><circle cx="623.6" cy="789.6" r="0.6"/><circle cx="644.3" cy="800.5" r="0.6"/><circle cx="616.3" cy="788.4" r="0.6"/><circle cx="652.5" cy="806.6" r="0.6"/><circle cx="604.8" cy="785.1" r="0.6"/><circle cx="649.7" cy="804.7" r="0.6"/><circle cx="600.6" cy="788.2" r="0.6"/><circle cx="633.3" cy="793.0" r="0.6"/><circle cx="655.2" cy="804.7" r="0.6"/><circle cx="627.1" cy="790.3" r="0.6"/><circle cx="649.7" cy="800.8" r="0.6"/><circle cx="631.2" cy="791.4" r="0.6"/><circle cx="658.3" cy="811.8" r="0.6"/><circle cx="602.5" cy="787.5" r="0.6"/><circle cx="669.1" cy="820.0" r="0.6"/><circle cx="616.9" cy="789.3" r="0.6"/><circle cx="611.8" cy="788.9" r="0.6"/><circle cx="651.5" cy="805.1" r="0.6"/><circle cx="598.5" cy="789.6" r="0.6"/><circle cx="649.9" cy="805.8" r="0.6"/><circle cx="592.5" cy="790.5" r="0.6"/><circle cx="610.1" cy="788.5" r="0.6"/><circle cx="609.2" cy="788.3" r="0.6"/><circle cx="641.5" cy="796.5" r="0.6"/><circle cx="604.1" cy="788.3" r="0.6"/><circle cx="629.1" cy="792.1" r="0.6"/><circle cx="615.3" cy="786.0" r="0.6"/><circle cx="618.0" cy="790.2" r="0.6"/><circle cx="655.7" cy="809.9" r="0.6"/><circle cx="618.4" cy="789.8" r="0.6"/><circle cx="626.1" cy="789.6" r="0.6"/><circle cx="638.5" cy="795.5" r="0.6"/><circle cx="634.4" cy="794.6" r="0.6"/><circle cx="628.9" cy="792.5" r="0.6"/><circle cx="631.9" cy="795.5" r="0.6"/><circle cx="654.7" cy="808.1" r="0.6"/><circle cx="667.6" cy="820.4" r="0.6"/><circle cx="652.1" cy="804.6" r="0.6"/><circle cx="608.1" cy="787.6" r="0.6"/><circle cx="654.9" cy="805.6" r="0.6"/><circle cx="663.5" cy="815.7" r="0.6"/><circle cx="598.6" cy="788.2" r="0.6"/><circle cx="651.3" cy="803.7" r="0.6"/><circle cx="634.4" cy="795.0" r="0.6"/><circle cx="631.4" cy="792.0" r="0.6"/><circle cx="624.3" cy="790.1" r="0.6"/><circle cx="644.4" cy="799.2" r="0.6"/><circle cx="657.3" cy="805.5" r="0.6"/><circle cx="668.6" cy="820.8" r="0.6"/><circle cx="636.5" cy="795.4" r="0.6"/><circle cx="650.0" cy="802.7" r="0.6"/><circle cx="617.5" cy="788.1" r="0.6"/><circle cx="664.1" cy="813.7" r="0.6"/><circle cx="637.1" cy="798.5" r="0.6"/><circle cx="611.9" cy="787.5" r="0.6"/><circle cx="594.2" cy="789.8" r="0.6"/><circle cx="597.8" cy="786.8" r="0.6"/><circle cx="603.3" cy="787.2" r="0.6"/><circle cx="629.2" cy="790.5" r="0.6"/><circle cx="648.1" cy="802.6" r="0.6"/><circle cx="610.7" cy="787.1" r="0.6"/><circle cx="619.0" cy="787.8" r="0.6"/><circle cx="665.9" cy="819.2" r="0.6"/><circle cx="664.1" cy="817.5" r="0.6"/><circle cx="668.9" cy="819.0" r="0.6"/><circle cx="611.6" cy="788.4" r="0.6"/><circle cx="602.6" cy="787.6" r="0.6"/><circle cx="657.3" cy="805.5" r="0.6"/><circle cx="614.8" cy="789.3" r="0.6"/><circle cx="638.0" cy="797.0" r="0.6"/><circle cx="624.6" cy="788.7" r="0.6"/><circle cx="623.5" cy="790.4" r="0.6"/><circle cx="666.9" cy="816.2" r="0.6"/><circle cx="649.7" cy="801.5" r="0.6"/><circle cx="670.6" cy="820.0" r="0.6"/><circle cx="635.1" cy="794.9" r="0.6"/><circle cx="595.7" cy="788.2" r="0.6"/><circle cx="666.0" cy="814.8" r="0.6"/><circle cx="600.8" cy="787.2" r="0.6"/><circle cx="662.0" cy="812.9" r="0.6"/><circle cx="650.4" cy="804.2" r="0.6"/><circle cx="615.3" cy="787.8" r="0.6"/><circle cx="652.5" cy="804.4" r="0.6"/><circle cx="625.8" cy="792.2" r="0.6"/><circle cx="618.4" cy="787.6" r="0.6"/><circle cx="628.8" cy="792.2" r="0.6"/><circle cx="599.4" cy="786.8" r="0.6"/><circle cx="616.4" cy="785.4" r="0.6"/><circle cx="644.1" cy="799.3" r="0.6"/><circle cx="599.6" cy="787.1" r="0.6"/><circle cx="617.7" cy="787.2" r="0.6"/><circle cx="659.4" cy="813.1" r="0.6"/><circle cx="593.1" cy="791.0" r="0.6"/><circle cx="669.9" cy="821.3" r="0.6"/><circle cx="617.1" cy="786.7" r="0.6"/><circle cx="668.7" cy="819.2" r="0.6"/><circle cx="629.5" cy="792.7" r="0.6"/><circle cx="612.1" cy="786.2" r="0.6"/><circle cx="657.8" cy="810.6" r="0.6"/><circle cx="627.0" cy="793.2" r="0.6"/><circle cx="625.3" cy="791.5" r="0.6"/><circle cx="611.0" cy="787.6" r="0.6"/><circle cx="668.1" cy="818.5" r="0.6"/><circle cx="648.7" cy="801.8" r="0.6"/><circle cx="597.8" cy="788.6" r="0.6"/><circle cx="655.5" cy="806.4" r="0.6"/><circle cx="597.0" cy="787.9" r="0.6"/><circle cx="633.2" cy="794.2" r="0.6"/><circle cx="593.3" cy="787.6" r="0.6"/><circle cx="622.5" cy="792.0" r="0.6"/><circle cx="599.1" cy="790.1" r="0.6"/><circle cx="615.1" cy="786.5" r="0.6"/><circle cx="649.4" cy="804.0" r="0.6"/><circle cx="624.4" cy="790.0" r="0.6"/><circle cx="648.9" cy="799.1" r="0.6"/><circle cx="604.1" cy="788.7" r="0.6"/><circle cx="656.2" cy="807.4" r="0.6"/><circle cx="630.7" cy="791.1" r="0.6"/><circle cx="647.2" cy="800.9" r="0.6"/><circle cx="602.2" cy="790.2" r="0.6"/><circle cx="614.2" cy="786.1" r="0.6"/><circle cx="603.2" cy="787.4" r="0.6"/><circle cx="598.1" cy="787.9" r="0.6"/><circle cx="648.4" cy="801.4" r="0.6"/><circle cx="666.8" cy="817.9" r="0.6"/><circle cx="614.3" cy="788.4" r="0.6"/><circle cx="630.8" cy="793.3" r="0.6"/><circle cx="652.5" cy="805.9" r="0.6"/><circle cx="643.8" cy="800.7" r="0.6"/><circle cx="652.0" cy="804.5" r="0.6"/><circle cx="654.1" cy="804.6" r="0.6"/><circle cx="617.9" cy="789.5" r="0.6"/><circle cx="627.7" cy="791.4" r="0.6"/><circle cx="599.3" cy="786.8" r="0.6"/><circle cx="639.6" cy="795.7" r="0.6"/><circle cx="632.5" cy="792.8" r="0.6"/><circle cx="630.4" cy="792.7" r="0.6"/><circle cx="628.3" cy="791.2" r="0.6"/><circle cx="635.6" cy="797.1" r="0.6"/><circle cx="620.3" cy="788.4" r="0.6"/><circle cx="627.2" cy="791.6" r="0.6"/><circle cx="639.0" cy="796.3" r="0.6"/><circle cx="622.5" cy="788.6" r="0.6"/><circle cx="630.2" cy="792.1" r="0.6"/><circle cx="652.5" cy="803.6" r="0.6"/><circle cx="663.5" cy="814.8" r="0.6"/><circle cx="631.3" cy="792.4" r="0.6"/><circle cx="609.8" cy="787.0" r="0.6"/><circle cx="658.2" cy="808.0" r="0.6"/><circle cx="652.5" cy="807.1" r="0.6"/><circle cx="636.8" cy="794.6" r="0.6"/><circle cx="630.3" cy="792.7" r="0.6"/><circle cx="617.2" cy="788.0" r="0.6"/><circle cx="653.7" cy="804.0" r="0.6"/><circle cx="622.6" cy="790.0" r="0.6"/><circle cx="665.3" cy="815.8" r="0.6"/><circle cx="594.6" cy="788.7" r="0.6"/><circle cx="624.4" cy="790.1" r="0.6"/><circle cx="668.3" cy="817.6" r="0.6"/><circle cx="600.1" cy="787.8" r="0.6"/><circle cx="633.8" cy="792.9" r="0.6"/><circle cx="608.8" cy="786.3" r="0.6"/><circle cx="644.9" cy="802.1" r="0.6"/><circle cx="625.5" cy="792.8" r="0.6"/><circle cx="649.9" cy="803.6" r="0.6"/><circle cx="611.9" cy="790.6" r="0.6"/><circle cx="666.6" cy="818.5" r="0.6"/><circle cx="616.6" cy="789.4" r="0.6"/><circle cx="610.4" cy="786.3" r="0.6"/><circle cx="634.4" cy="793.2" r="0.6"/><circle cx="605.2" cy="789.8" r="0.6"/><circle cx="606.9" cy="788.4" r="0.6"/><circle cx="600.5" cy="786.9" r="0.6"/><circle cx="622.8" cy="791.0" r="0.6"/><circle cx="614.2" cy="787.4" r="0.6"/><circle cx="665.0" cy="819.1" r="0.6"/><circle cx="650.8" cy="803.5" r="0.6"/><circle cx="599.0" cy="787.4" r="0.6"/><circle cx="659.6" cy="812.8" r="0.6"/><circle cx="596.6" cy="787.9" r="0.6"/><circle cx="653.6" cy="807.4" r="0.6"/><circle cx="654.2" cy="805.5" r="0.6"/><circle cx="593.2" cy="791.9" r="0.6"/><circle cx="620.7" cy="789.8" r="0.6"/><circle cx="612.7" cy="786.8" r="0.6"/><circle cx="612.9" cy="787.7" r="0.6"/><circle cx="640.8" cy="800.0" r="0.6"/><circle cx="647.3" cy="801.9" r="0.6"/><circle cx="618.2" cy="787.6" r="0.6"/><circle cx="621.5" cy="789.4" r="0.6"/><circle cx="664.6" cy="815.4" r="0.6"/><circle cx="627.7" cy="789.7" r="0.6"/><circle cx="621.2" cy="788.4" r="0.6"/><circle cx="593.8" cy="790.2" r="0.6"/><circle cx="594.6" cy="790.5" r="0.6"/><circle cx="629.7" cy="791.3" r="0.6"/><circle cx="654.8" cy="805.4" r="0.6"/><circle cx="617.8" cy="787.7" r="0.6"/><circle cx="639.5" cy="798.5" r="0.6"/><circle cx="629.0" cy="790.6" r="0.6"/><circle cx="612.3" cy="789.6" r="0.6"/><circle cx="618.5" cy="788.8" r="0.6"/><circle cx="660.2" cy="810.2" r="0.6"/><circle cx="669.4" cy="821.5" r="0.6"/><circle cx="623.3" cy="790.2" r="0.6"/><circle cx="611.7" cy="787.1" r="0.6"/><circle cx="631.0" cy="792.3" r="0.6"/><circle cx="638.5" cy="796.1" r="0.6"/><circle cx="659.4" cy="809.8" r="0.6"/><circle cx="663.3" cy="814.3" r="0.6"/><circle cx="659.4" cy="811.0" r="0.6"/><circle cx="594.9" cy="790.0" r="0.6"/><circle cx="655.4" cy="808.7" r="0.6"/><circle cx="593.0" cy="790.9" r="0.6"/><circle cx="604.2" cy="787.7" r="0.6"/><circle cx="611.4" cy="786.8" r="0.6"/><circle cx="601.8" cy="786.8" r="0.6"/><circle cx="650.7" cy="804.8" r="0.6"/><circle cx="604.4" cy="787.0" r="0.6"/><circle cx="627.0" cy="788.7" r="0.6"/><circle cx="600.6" cy="788.5" r="0.6"/><circle cx="620.3" cy="790.1" r="0.6"/><circle cx="652.6" cy="807.9" r="0.6"/><circle cx="603.8" cy="786.3" r="0.6"/><circle cx="639.3" cy="795.8" r="0.6"/><circle cx="623.4" cy="791.5" r="0.6"/><circle cx="643.0" cy="798.0" r="0.6"/><circle cx="633.7" cy="795.2" r="0.6"/><circle cx="651.1" cy="805.2" r="0.6"/><circle cx="658.0" cy="810.6" r="0.6"/><circle cx="642.7" cy="796.3" r="0.6"/><circle cx="645.9" cy="800.1" r="0.6"/><circle cx="618.2" cy="787.2" r="0.6"/><circle cx="618.8" cy="788.1" r="0.6"/><circle cx="618.0" cy="788.3" r="0.6"/><circle cx="609.6" cy="787.3" r="0.6"/><circle cx="632.3" cy="794.1" r="0.6"/><circle cx="665.9" cy="816.7" r="0.6"/><circle cx="600.0" cy="788.5" r="0.6"/><circle cx="660.6" cy="812.5" r="0.6"/><circle cx="644.8" cy="799.9" r="0.6"/><circle cx="664.3" cy="815.9" r="0.6"/><circle cx="653.8" cy="805.7" r="0.6"/><circle cx="650.7" cy="805.5" r="0.6"/><circle cx="631.3" cy="790.4" r="0.6"/><circle cx="624.0" cy="788.5" r="0.6"/><circle cx="649.2" cy="802.0" r="0.6"/><circle cx="641.3" cy="796.1" r="0.6"/><circle cx="630.8" cy="792.2" r="0.6"/><circle cx="618.5" cy="789.6" r="0.6"/><circle cx="628.9" cy="792.6" r="0.6"/><circle cx="650.8" cy="807.0" r="0.6"/><circle cx="614.1" cy="786.2" r="0.6"/><circle cx="626.8" cy="788.7" r="0.6"/><circle cx="650.5" cy="804.5" r="0.6"/><circle cx="649.3" cy="803.0" r="0.6"/><circle cx="595.2" cy="789.7" r="0.6"/><circle cx="597.6" cy="788.8" r="0.6"/><circle cx="661.2" cy="815.2" r="0.6"/><circle cx="594.7" cy="791.7" r="0.6"/><circle cx="638.9" cy="797.5" r="0.6"/><circle cx="660.5" cy="812.0" r="0.6"/><circle cx="636.5" cy="794.9" r="0.6"/><circle cx="615.3" cy="788.9" r="0.6"/><circle cx="607.6" cy="788.1" r="0.6"/><circle cx="654.3" cy="806.2" r="0.6"/><circle cx="602.1" cy="787.1" r="0.6"/><circle cx="622.4" cy="789.4" r="0.6"/><circle cx="629.3" cy="792.2" r="0.6"/><circle cx="597.3" cy="789.0" r="0.6"/></g>
<g fill="#a5a033"><circle cx="608.0" cy="787.8" r="0.6"/><circle cx="604.7" cy="785.9" r="0.6"/><circle cx="610.3" cy="787.2" r="0.6"/><circle cx="604.2" cy="787.8" r="0.6"/><circle cx="601.7" cy="787.3" r="0.6"/><circle cx="598.2" cy="788.1" r="0.6"/><circle cx="607.4" cy="787.5" r="0.6"/><circle cx="607.3" cy="785.4" r="0.6"/><circle cx="599.7" cy="787.8" r="0.6"/><circle cx="606.4" cy="786.7" r="0.6"/><circle cx="610.0" cy="785.5" r="0.6"/><circle cx="600.6" cy="785.2" r="0.6"/><circle cx="608.9" cy="783.6" r="0.6"/><circle cx="606.6" cy="787.0" r="0.6"/><circle cx="598.0" cy="788.4" r="0.6"/><circle cx="601.2" cy="786.0" r="0.6"/><circle cx="600.1" cy="785.5" r="0.6"/><circle cx="599.6" cy="787.1" r="0.6"/><circle cx="601.9" cy="786.8" r="0.6"/><circle cx="602.2" cy="785.2" r="0.6"/><circle cx="607.8" cy="787.1" r="0.6"/><circle cx="603.6" cy="785.9" r="0.6"/><circle cx="605.3" cy="788.3" r="0.6"/><circle cx="608.1" cy="786.6" r="0.6"/><circle cx="602.1" cy="787.0" r="0.6"/><circle cx="599.1" cy="788.5" r="0.6"/><circle cx="611.2" cy="786.2" r="0.6"/><circle cx="608.2" cy="786.1" r="0.6"/><circle cx="603.3" cy="788.1" r="0.6"/><circle cx="602.4" cy="786.9" r="0.6"/><circle cx="604.6" cy="786.1" r="0.6"/><circle cx="607.8" cy="784.8" r="0.6"/><circle cx="600.4" cy="785.4" r="0.6"/><circle cx="600.1" cy="787.2" r="0.6"/><circle cx="605.9" cy="787.6" r="0.6"/><circle cx="598.9" cy="785.7" r="0.6"/><circle cx="597.7" cy="787.3" r="0.6"/><circle cx="605.4" cy="787.5" r="0.6"/><circle cx="606.0" cy="786.5" r="0.6"/><circle cx="599.1" cy="787.3" r="0.6"/><circle cx="599.1" cy="785.2" r="0.6"/><circle cx="599.5" cy="787.9" r="0.6"/><circle cx="607.6" cy="787.5" r="0.6"/><circle cx="600.5" cy="786.8" r="0.6"/><circle cx="604.4" cy="787.4" r="0.6"/><circle cx="604.9" cy="787.4" r="0.6"/><circle cx="599.2" cy="788.1" r="0.6"/><circle cx="602.3" cy="787.9" r="0.6"/><circle cx="598.7" cy="788.8" r="0.6"/><circle cx="604.8" cy="786.1" r="0.6"/></g>
<g fill="#a5a033"><circle cx="628.3" cy="791.3" r="0.6"/><circle cx="622.4" cy="789.0" r="0.6"/><circle cx="623.9" cy="789.8" r="0.6"/><circle cx="624.4" cy="789.1" r="0.6"/><circle cx="627.6" cy="790.2" r="0.6"/><circle cx="620.6" cy="786.7" r="0.6"/><circle cx="626.1" cy="789.2" r="0.6"/><circle cx="622.6" cy="790.3" r="0.6"/><circle cx="624.2" cy="788.2" r="0.6"/><circle cx="624.8" cy="789.4" r="0.6"/><circle cx="619.6" cy="789.3" r="0.6"/><circle cx="620.8" cy="788.7" r="0.6"/><circle cx="622.1" cy="788.2" r="0.6"/><circle cx="626.0" cy="790.8" r="0.6"/><circle cx="629.8" cy="793.2" r="0.6"/><circle cx="619.4" cy="788.8" r="0.6"/><circle cx="625.4" cy="792.5" r="0.6"/><circle cx="624.1" cy="790.4" r="0.6"/><circle cx="619.7" cy="789.6" r="0.6"/><circle cx="619.4" cy="790.5" r="0.6"/><circle cx="624.5" cy="789.0" r="0.6"/><circle cx="618.5" cy="787.1" r="0.6"/><circle cx="621.1" cy="789.8" r="0.6"/><circle cx="627.2" cy="791.7" r="0.6"/><circle cx="626.2" cy="790.6" r="0.6"/><circle cx="624.4" cy="791.0" r="0.6"/><circle cx="624.5" cy="791.4" r="0.6"/><circle cx="628.3" cy="790.4" r="0.6"/><circle cx="624.6" cy="790.1" r="0.6"/><circle cx="621.2" cy="790.0" r="0.6"/><circle cx="627.4" cy="790.7" r="0.6"/><circle cx="621.3" cy="789.0" r="0.6"/><circle cx="628.4" cy="790.6" r="0.6"/><circle cx="627.5" cy="790.5" r="0.6"/><circle cx="619.0" cy="788.8" r="0.6"/><circle cx="623.1" cy="791.9" r="0.6"/><circle cx="624.8" cy="789.1" r="0.6"/><circle cx="628.6" cy="791.4" r="0.6"/><circle cx="626.0" cy="790.7" r="0.6"/><circle cx="626.5" cy="792.9" r="0.6"/><circle cx="626.0" cy="789.0" r="0.6"/><circle cx="620.0" cy="789.8" r="0.6"/><circle cx="628.6" cy="790.2" r="0.6"/><circle cx="618.9" cy="789.2" r="0.6"/><circle cx="625.6" cy="789.9" r="0.6"/></g>
<g fill="#a5a033"><circle cx="643.0" cy="799.7" r="0.6"/><circle cx="645.9" cy="800.8" r="0.6"/><circle cx="641.7" cy="797.7" r="0.6"/><circle cx="644.1" cy="800.3" r="0.6"/><circle cx="640.2" cy="798.1" r="0.6"/><circle cx="641.6" cy="797.5" r="0.6"/><circle cx="645.1" cy="799.5" r="0.6"/><circle cx="646.6" cy="801.1" r="0.6"/><circle cx="640.3" cy="797.9" r="0.6"/><circle cx="644.6" cy="799.6" r="0.6"/></g>
<g fill="#3cb57a"><circle cx="573.1" cy="810.1" r="0.55"/><circle cx="583.0" cy="802.4" r="0.55"/><circle cx="566.4" cy="818.6" r="0.55"/><circle cx="579.5" cy="800.5" r="0.55"/><circle cx="574.2" cy="815.4" r="0.55"/><circle cx="573.8" cy="812.2" r="0.55"/><circle cx="581.4" cy="804.9" r="0.55"/><circle cx="570.4" cy="824.9" r="0.55"/><circle cx="581.7" cy="798.5" r="0.55"/><circle cx="574.4" cy="810.4" r="0.55"/><circle cx="582.5" cy="793.2" r="0.55"/><circle cx="587.0" cy="802.8" r="0.55"/><circle cx="574.0" cy="812.4" r="0.55"/><circle cx="586.3" cy="799.0" r="0.55"/><circle cx="588.5" cy="794.9" r="0.55"/><circle cx="579.6" cy="798.4" r="0.55"/><circle cx="576.6" cy="807.5" r="0.55"/><circle cx="580.1" cy="803.1" r="0.55"/><circle cx="583.2" cy="798.7" r="0.55"/><circle cx="580.2" cy="793.9" r="0.55"/><circle cx="569.5" cy="818.9" r="0.55"/><circle cx="568.8" cy="815.2" r="0.55"/><circle cx="587.9" cy="794.6" r="0.55"/><circle cx="574.5" cy="811.0" r="0.55"/><circle cx="568.2" cy="817.1" r="0.55"/><circle cx="583.7" cy="791.1" r="0.55"/><circle cx="570.2" cy="815.8" r="0.55"/><circle cx="568.6" cy="826.1" r="0.55"/><circle cx="584.3" cy="797.8" r="0.55"/><circle cx="567.0" cy="821.2" r="0.55"/><circle cx="572.1" cy="811.0" r="0.55"/><circle cx="578.4" cy="813.0" r="0.55"/><circle cx="582.4" cy="805.4" r="0.55"/><circle cx="579.6" cy="805.7" r="0.55"/><circle cx="567.5" cy="824.3" r="0.55"/><circle cx="570.1" cy="815.7" r="0.55"/><circle cx="569.6" cy="813.8" r="0.55"/><circle cx="572.8" cy="815.6" r="0.55"/><circle cx="570.4" cy="811.0" r="0.55"/><circle cx="586.8" cy="800.4" r="0.55"/><circle cx="567.1" cy="813.9" r="0.55"/><circle cx="575.9" cy="810.8" r="0.55"/><circle cx="578.7" cy="799.6" r="0.55"/><circle cx="582.7" cy="799.6" r="0.55"/><circle cx="581.5" cy="805.8" r="0.55"/><circle cx="587.3" cy="803.5" r="0.55"/><circle cx="571.5" cy="815.7" r="0.55"/><circle cx="576.0" cy="801.1" r="0.55"/><circle cx="587.1" cy="791.6" r="0.55"/><circle cx="564.7" cy="824.9" r="0.55"/><circle cx="578.9" cy="802.1" r="0.55"/><circle cx="571.8" cy="809.2" r="0.55"/><circle cx="586.4" cy="801.3" r="0.55"/><circle cx="571.8" cy="814.2" r="0.55"/><circle cx="569.8" cy="820.8" r="0.55"/><circle cx="571.1" cy="816.2" r="0.55"/><circle cx="578.3" cy="809.7" r="0.55"/><circle cx="571.5" cy="819.3" r="0.55"/><circle cx="583.0" cy="796.4" r="0.55"/><circle cx="570.1" cy="808.0" r="0.55"/><circle cx="579.5" cy="809.4" r="0.55"/><circle cx="569.8" cy="823.3" r="0.55"/><circle cx="571.8" cy="819.4" r="0.55"/><circle cx="575.4" cy="809.5" r="0.55"/><circle cx="580.6" cy="799.8" r="0.55"/><circle cx="588.9" cy="795.7" r="0.55"/><circle cx="584.8" cy="796.0" r="0.55"/><circle cx="569.5" cy="820.6" r="0.55"/><circle cx="579.1" cy="800.6" r="0.55"/><circle cx="570.9" cy="816.0" r="0.55"/><circle cx="574.0" cy="814.0" r="0.55"/><circle cx="587.6" cy="798.4" r="0.55"/><circle cx="568.2" cy="825.7" r="0.55"/><circle cx="573.0" cy="818.5" r="0.55"/><circle cx="587.7" cy="793.2" r="0.55"/><circle cx="560.7" cy="827.1" r="0.55"/><circle cx="578.4" cy="799.8" r="0.55"/><circle cx="575.6" cy="805.8" r="0.55"/><circle cx="574.4" cy="811.1" r="0.55"/><circle cx="577.2" cy="807.1" r="0.55"/><circle cx="571.0" cy="822.0" r="0.55"/><circle cx="585.5" cy="792.5" r="0.55"/><circle cx="580.7" cy="803.6" r="0.55"/><circle cx="569.0" cy="819.5" r="0.55"/><circle cx="582.6" cy="798.4" r="0.55"/><circle cx="584.6" cy="796.0" r="0.55"/><circle cx="581.4" cy="803.6" r="0.55"/><circle cx="583.1" cy="797.7" r="0.55"/><circle cx="562.1" cy="822.0" r="0.55"/><circle cx="585.2" cy="800.3" r="0.55"/><circle cx="572.8" cy="812.2" r="0.55"/><circle cx="581.9" cy="796.3" r="0.55"/><circle cx="575.0" cy="807.1" r="0.55"/><circle cx="585.3" cy="793.8" r="0.55"/><circle cx="581.5" cy="796.1" r="0.55"/><circle cx="580.3" cy="801.9" r="0.55"/><circle cx="574.0" cy="810.1" r="0.55"/><circle cx="574.0" cy="810.8" r="0.55"/><circle cx="571.9" cy="808.5" r="0.55"/><circle cx="583.9" cy="798.3" r="0.55"/><circle cx="582.0" cy="797.9" r="0.55"/><circle cx="579.7" cy="802.9" r="0.55"/><circle cx="573.9" cy="814.4" r="0.55"/><circle cx="581.3" cy="805.2" r="0.55"/><circle cx="570.2" cy="818.3" r="0.55"/><circle cx="573.1" cy="817.0" r="0.55"/><circle cx="578.1" cy="809.5" r="0.55"/><circle cx="571.2" cy="814.4" r="0.55"/><circle cx="576.1" cy="808.2" r="0.55"/><circle cx="577.3" cy="812.3" r="0.55"/><circle cx="573.4" cy="805.5" r="0.55"/><circle cx="569.0" cy="814.1" r="0.55"/><circle cx="587.8" cy="794.6" r="0.55"/><circle cx="580.8" cy="800.2" r="0.55"/><circle cx="586.0" cy="797.0" r="0.55"/><circle cx="585.5" cy="796.6" r="0.55"/><circle cx="567.7" cy="825.3" r="0.55"/><circle cx="578.5" cy="797.8" r="0.55"/><circle cx="564.2" cy="824.1" r="0.55"/><circle cx="571.9" cy="817.2" r="0.55"/></g>
<g fill="#35a2dd"><circle cx="573.8" cy="821.4" r="0.55"/><circle cx="573.7" cy="823.1" r="0.55"/><circle cx="571.3" cy="822.4" r="0.55"/><circle cx="574.9" cy="829.5" r="0.55"/><circle cx="578.6" cy="814.1" r="0.55"/><circle cx="569.7" cy="827.2" r="0.55"/><circle cx="575.0" cy="820.6" r="0.55"/><circle cx="575.2" cy="819.8" r="0.55"/><circle cx="577.9" cy="819.0" r="0.55"/><circle cx="577.2" cy="817.5" r="0.55"/><circle cx="576.4" cy="818.2" r="0.55"/><circle cx="573.4" cy="826.8" r="0.55"/><circle cx="573.6" cy="816.9" r="0.55"/><circle cx="573.7" cy="823.8" r="0.55"/><circle cx="570.5" cy="825.8" r="0.55"/><circle cx="581.4" cy="818.1" r="0.55"/><circle cx="569.6" cy="828.5" r="0.55"/><circle cx="575.3" cy="822.1" r="0.55"/><circle cx="576.6" cy="821.3" r="0.55"/><circle cx="575.8" cy="814.5" r="0.55"/><circle cx="572.8" cy="819.0" r="0.55"/><circle cx="577.9" cy="817.2" r="0.55"/><circle cx="573.5" cy="820.5" r="0.55"/><circle cx="570.3" cy="830.2" r="0.55"/><circle cx="565.9" cy="827.9" r="0.55"/><circle cx="568.7" cy="830.4" r="0.55"/><circle cx="569.3" cy="828.9" r="0.55"/><circle cx="575.4" cy="816.8" r="0.55"/><circle cx="573.5" cy="825.4" r="0.55"/><circle cx="573.1" cy="815.0" r="0.55"/><circle cx="572.5" cy="825.0" r="0.55"/><circle cx="571.6" cy="825.3" r="0.55"/><circle cx="574.1" cy="814.7" r="0.55"/><circle cx="570.5" cy="830.9" r="0.55"/><circle cx="576.7" cy="818.1" r="0.55"/><circle cx="571.0" cy="830.9" r="0.55"/><circle cx="568.6" cy="831.3" r="0.55"/><circle cx="572.5" cy="823.6" r="0.55"/><circle cx="571.7" cy="827.7" r="0.55"/><circle cx="573.6" cy="825.9" r="0.55"/><circle cx="576.0" cy="820.9" r="0.55"/><circle cx="574.2" cy="821.6" r="0.55"/><circle cx="578.2" cy="817.3" r="0.55"/><circle cx="573.7" cy="826.1" r="0.55"/><circle cx="571.6" cy="828.1" r="0.55"/><circle cx="572.1" cy="825.1" r="0.55"/><circle cx="573.9" cy="824.7" r="0.55"/><circle cx="569.8" cy="822.1" r="0.55"/><circle cx="576.3" cy="816.7" r="0.55"/><circle cx="568.6" cy="828.6" r="0.55"/></g>
<g fill="#35a2dd"><circle cx="567.2" cy="827.9" r="0.55"/><circle cx="560.0" cy="837.8" r="0.55"/><circle cx="562.5" cy="830.1" r="0.55"/><circle cx="563.1" cy="831.0" r="0.55"/><circle cx="562.7" cy="837.4" r="0.55"/><circle cx="564.2" cy="831.9" r="0.55"/><circle cx="562.9" cy="836.7" r="0.55"/><circle cx="558.3" cy="832.1" r="0.55"/><circle cx="559.9" cy="836.5" r="0.55"/><circle cx="564.1" cy="832.6" r="0.55"/><circle cx="557.5" cy="837.3" r="0.55"/><circle cx="567.0" cy="831.6" r="0.55"/><circle cx="564.7" cy="832.6" r="0.55"/><circle cx="562.1" cy="835.9" r="0.55"/><circle cx="559.2" cy="836.6" r="0.55"/><circle cx="559.6" cy="835.4" r="0.55"/><circle cx="564.4" cy="828.6" r="0.55"/><circle cx="556.2" cy="841.0" r="0.55"/><circle cx="565.6" cy="825.8" r="0.55"/><circle cx="559.1" cy="837.9" r="0.55"/><circle cx="562.5" cy="835.5" r="0.55"/><circle cx="555.9" cy="840.2" r="0.55"/><circle cx="567.8" cy="833.1" r="0.55"/><circle cx="560.9" cy="834.1" r="0.55"/><circle cx="560.9" cy="827.2" r="0.55"/><circle cx="558.1" cy="843.9" r="0.55"/><circle cx="556.6" cy="842.5" r="0.55"/><circle cx="563.6" cy="836.5" r="0.55"/><circle cx="567.0" cy="827.7" r="0.55"/><circle cx="554.6" cy="842.8" r="0.55"/><circle cx="564.8" cy="836.3" r="0.55"/><circle cx="559.2" cy="838.6" r="0.55"/><circle cx="560.0" cy="842.9" r="0.55"/><circle cx="559.7" cy="834.5" r="0.55"/><circle cx="561.5" cy="834.9" r="0.55"/><circle cx="554.9" cy="842.1" r="0.55"/><circle cx="560.8" cy="844.2" r="0.55"/><circle cx="564.8" cy="830.8" r="0.55"/><circle cx="560.5" cy="826.7" r="0.55"/><circle cx="566.7" cy="831.8" r="0.55"/><circle cx="558.7" cy="841.9" r="0.55"/><circle cx="559.6" cy="833.6" r="0.55"/><circle cx="565.1" cy="829.2" r="0.55"/><circle cx="560.3" cy="837.0" r="0.55"/><circle cx="559.3" cy="834.0" r="0.55"/><circle cx="563.0" cy="828.7" r="0.55"/><circle cx="566.0" cy="829.3" r="0.55"/><circle cx="558.5" cy="831.4" r="0.55"/><circle cx="557.9" cy="841.8" r="0.55"/><circle cx="564.0" cy="833.1" r="0.55"/><circle cx="569.4" cy="828.7" r="0.55"/><circle cx="558.9" cy="841.5" r="0.55"/><circle cx="561.4" cy="833.6" r="0.55"/><circle cx="557.4" cy="839.8" r="0.55"/><circle cx="559.3" cy="835.1" r="0.55"/><circle cx="564.8" cy="828.2" r="0.55"/><circle cx="565.3" cy="828.8" r="0.55"/><circle cx="560.0" cy="841.0" r="0.55"/><circle cx="563.7" cy="831.0" r="0.55"/><circle cx="556.6" cy="841.5" r="0.55"/><circle cx="564.2" cy="829.6" r="0.55"/><circle cx="556.3" cy="842.7" r="0.55"/><circle cx="562.4" cy="831.3" r="0.55"/><circle cx="567.5" cy="826.5" r="0.55"/><circle cx="554.1" cy="841.4" r="0.55"/><circle cx="555.7" cy="842.1" r="0.55"/><circle cx="566.1" cy="831.4" r="0.55"/><circle cx="562.6" cy="832.6" r="0.55"/><circle cx="558.9" cy="841.0" r="0.55"/><circle cx="561.4" cy="838.5" r="0.55"/><circle cx="564.0" cy="838.6" r="0.55"/><circle cx="562.9" cy="834.6" r="0.55"/><circle cx="555.9" cy="841.9" r="0.55"/><circle cx="561.0" cy="834.8" r="0.55"/><circle cx="561.5" cy="843.4" r="0.55"/><circle cx="558.5" cy="843.8" r="0.55"/><circle cx="555.6" cy="846.9" r="0.55"/><circle cx="565.7" cy="834.9" r="0.55"/><circle cx="565.5" cy="830.9" r="0.55"/><circle cx="560.1" cy="838.1" r="0.55"/><circle cx="561.9" cy="831.6" r="0.55"/><circle cx="565.6" cy="830.5" r="0.55"/><circle cx="564.2" cy="831.0" r="0.55"/><circle cx="559.1" cy="839.8" r="0.55"/><circle cx="562.1" cy="831.7" r="0.55"/><circle cx="560.6" cy="830.8" r="0.55"/><circle cx="559.8" cy="832.2" r="0.55"/><circle cx="564.5" cy="826.3" r="0.55"/><circle cx="555.6" cy="837.5" r="0.55"/><circle cx="557.5" cy="840.7" r="0.55"/><circle cx="565.6" cy="834.7" r="0.55"/><circle cx="559.4" cy="838.6" r="0.55"/><circle cx="556.6" cy="844.8" r="0.55"/><circle cx="562.3" cy="829.1" r="0.55"/><circle cx="562.8" cy="833.0" r="0.55"/><circle cx="562.1" cy="835.2" r="0.55"/><circle cx="563.7" cy="830.8" r="0.55"/><circle cx="561.1" cy="837.1" r="0.55"/><circle cx="561.1" cy="844.8" r="0.55"/><circle cx="564.0" cy="833.0" r="0.55"/><circle cx="557.5" cy="840.7" r="0.55"/><circle cx="559.3" cy="835.0" r="0.55"/><circle cx="568.2" cy="830.6" r="0.55"/><circle cx="557.2" cy="837.5" r="0.55"/><circle cx="558.2" cy="834.1" r="0.55"/><circle cx="558.6" cy="843.1" r="0.55"/><circle cx="558.2" cy="842.1" r="0.55"/><circle cx="563.2" cy="833.2" r="0.55"/><circle cx="557.0" cy="845.7" r="0.55"/><circle cx="555.1" cy="839.8" r="0.55"/><circle cx="555.9" cy="840.9" r="0.55"/><circle cx="561.8" cy="836.9" r="0.55"/><circle cx="557.5" cy="832.2" r="0.55"/><circle cx="563.1" cy="832.5" r="0.55"/><circle cx="562.7" cy="836.6" r="0.55"/><circle cx="564.5" cy="830.8" r="0.55"/><circle cx="562.6" cy="831.0" r="0.55"/><circle cx="555.9" cy="846.2" r="0.55"/><circle cx="560.0" cy="844.9" r="0.55"/><circle cx="561.7" cy="834.5" r="0.55"/><circle cx="562.3" cy="839.9" r="0.55"/><circle cx="559.2" cy="841.8" r="0.55"/><circle cx="557.9" cy="840.6" r="0.55"/><circle cx="558.8" cy="842.7" r="0.55"/><circle cx="567.7" cy="829.3" r="0.55"/><circle cx="559.3" cy="843.3" r="0.55"/><circle cx="562.1" cy="833.5" r="0.55"/><circle cx="554.3" cy="841.9" r="0.55"/><circle cx="554.1" cy="850.0" r="0.55"/><circle cx="559.9" cy="836.4" r="0.55"/></g>
<g fill="#3cb57a"><circle cx="560.4" cy="833.7" r="0.6"/><circle cx="559.3" cy="837.7" r="0.6"/><circle cx="559.4" cy="836.8" r="0.6"/><circle cx="561.9" cy="835.1" r="0.6"/><circle cx="563.5" cy="831.7" r="0.6"/><circle cx="563.6" cy="835.1" r="0.6"/><circle cx="560.7" cy="838.5" r="0.6"/><circle cx="563.5" cy="836.0" r="0.6"/><circle cx="564.6" cy="828.0" r="0.6"/><circle cx="561.0" cy="830.7" r="0.6"/><circle cx="562.8" cy="829.8" r="0.6"/><circle cx="562.9" cy="832.1" r="0.6"/><circle cx="565.3" cy="830.1" r="0.6"/><circle cx="562.1" cy="831.8" r="0.6"/><circle cx="566.2" cy="832.0" r="0.6"/><circle cx="567.8" cy="825.6" r="0.6"/><circle cx="558.7" cy="839.7" r="0.6"/><circle cx="565.4" cy="830.7" r="0.6"/><circle cx="562.7" cy="832.7" r="0.6"/><circle cx="560.2" cy="831.7" r="0.6"/><circle cx="559.8" cy="836.5" r="0.6"/><circle cx="563.2" cy="833.4" r="0.6"/><circle cx="564.8" cy="831.2" r="0.6"/><circle cx="562.8" cy="833.8" r="0.6"/><circle cx="565.8" cy="831.6" r="0.6"/><circle cx="563.0" cy="835.7" r="0.6"/><circle cx="561.4" cy="837.7" r="0.6"/><circle cx="562.6" cy="833.0" r="0.6"/><circle cx="564.8" cy="833.0" r="0.6"/><circle cx="560.3" cy="835.4" r="0.6"/><circle cx="564.0" cy="830.1" r="0.6"/><circle cx="564.3" cy="831.8" r="0.6"/><circle cx="562.7" cy="832.3" r="0.6"/><circle cx="562.2" cy="833.0" r="0.6"/><circle cx="559.2" cy="833.8" r="0.6"/><circle cx="568.0" cy="827.4" r="0.6"/><circle cx="560.7" cy="836.3" r="0.6"/><circle cx="566.3" cy="829.9" r="0.6"/><circle cx="563.9" cy="833.7" r="0.6"/><circle cx="566.9" cy="830.2" r="0.6"/><circle cx="563.9" cy="833.1" r="0.6"/><circle cx="560.9" cy="834.9" r="0.6"/><circle cx="559.9" cy="837.5" r="0.6"/><circle cx="565.2" cy="834.2" r="0.6"/><circle cx="565.5" cy="827.8" r="0.6"/><circle cx="561.3" cy="835.8" r="0.6"/><circle cx="563.2" cy="833.6" r="0.6"/><circle cx="560.7" cy="836.6" r="0.6"/><circle cx="562.0" cy="832.4" r="0.6"/><circle cx="565.9" cy="828.7" r="0.6"/></g>
<g fill="#b06ccf"><circle cx="550.5" cy="852.9" r="0.55"/><circle cx="554.7" cy="846.2" r="0.55"/><circle cx="547.2" cy="858.4" r="0.55"/><circle cx="552.7" cy="846.2" r="0.55"/><circle cx="549.0" cy="857.2" r="0.55"/><circle cx="555.6" cy="842.8" r="0.55"/><circle cx="547.2" cy="859.2" r="0.55"/><circle cx="555.2" cy="844.6" r="0.55"/><circle cx="550.1" cy="851.9" r="0.55"/><circle cx="548.4" cy="854.9" r="0.55"/><circle cx="552.1" cy="851.4" r="0.55"/><circle cx="552.7" cy="845.8" r="0.55"/><circle cx="547.3" cy="860.1" r="0.55"/><circle cx="552.2" cy="851.7" r="0.55"/><circle cx="547.8" cy="859.3" r="0.55"/><circle cx="548.3" cy="857.9" r="0.55"/><circle cx="553.2" cy="854.2" r="0.55"/><circle cx="547.7" cy="855.1" r="0.55"/><circle cx="544.9" cy="860.0" r="0.55"/><circle cx="548.1" cy="851.6" r="0.55"/><circle cx="547.3" cy="854.0" r="0.55"/><circle cx="543.4" cy="858.4" r="0.55"/><circle cx="554.0" cy="850.8" r="0.55"/><circle cx="551.0" cy="851.3" r="0.55"/><circle cx="544.6" cy="856.1" r="0.55"/><circle cx="552.9" cy="846.6" r="0.55"/><circle cx="549.3" cy="854.7" r="0.55"/><circle cx="552.2" cy="842.9" r="0.55"/><circle cx="547.5" cy="858.0" r="0.55"/><circle cx="547.6" cy="862.0" r="0.55"/><circle cx="544.4" cy="859.2" r="0.55"/><circle cx="552.9" cy="851.8" r="0.55"/><circle cx="553.8" cy="844.7" r="0.55"/><circle cx="551.4" cy="850.1" r="0.55"/><circle cx="551.6" cy="850.7" r="0.55"/><circle cx="553.4" cy="847.4" r="0.55"/><circle cx="550.4" cy="854.6" r="0.55"/><circle cx="556.9" cy="847.2" r="0.55"/><circle cx="545.6" cy="859.1" r="0.55"/><circle cx="554.6" cy="846.6" r="0.55"/><circle cx="551.1" cy="853.4" r="0.55"/><circle cx="551.3" cy="851.8" r="0.55"/><circle cx="552.2" cy="849.3" r="0.55"/><circle cx="547.7" cy="856.6" r="0.55"/><circle cx="554.2" cy="848.2" r="0.55"/><circle cx="551.4" cy="855.3" r="0.55"/><circle cx="543.0" cy="859.7" r="0.55"/><circle cx="553.1" cy="850.2" r="0.55"/><circle cx="551.3" cy="850.6" r="0.55"/><circle cx="552.4" cy="847.7" r="0.55"/><circle cx="544.1" cy="864.3" r="0.55"/><circle cx="552.8" cy="849.0" r="0.55"/><circle cx="547.9" cy="851.9" r="0.55"/><circle cx="547.5" cy="857.4" r="0.55"/><circle cx="547.5" cy="856.6" r="0.55"/><circle cx="545.6" cy="860.9" r="0.55"/><circle cx="547.6" cy="857.5" r="0.55"/><circle cx="554.3" cy="842.3" r="0.55"/><circle cx="548.7" cy="858.0" r="0.55"/><circle cx="547.4" cy="859.0" r="0.55"/><circle cx="554.9" cy="851.4" r="0.55"/><circle cx="554.9" cy="847.0" r="0.55"/><circle cx="555.0" cy="845.8" r="0.55"/><circle cx="547.7" cy="856.1" r="0.55"/><circle cx="554.7" cy="843.9" r="0.55"/><circle cx="548.6" cy="851.0" r="0.55"/><circle cx="539.8" cy="860.9" r="0.55"/><circle cx="556.0" cy="846.5" r="0.55"/><circle cx="547.2" cy="857.1" r="0.55"/><circle cx="550.4" cy="849.5" r="0.55"/><circle cx="548.2" cy="854.4" r="0.55"/><circle cx="551.5" cy="847.5" r="0.55"/><circle cx="545.9" cy="860.6" r="0.55"/><circle cx="543.1" cy="861.9" r="0.55"/><circle cx="548.5" cy="854.3" r="0.55"/><circle cx="550.9" cy="845.3" r="0.55"/><circle cx="553.0" cy="852.5" r="0.55"/><circle cx="555.1" cy="844.1" r="0.55"/><circle cx="549.4" cy="851.9" r="0.55"/><circle cx="544.5" cy="861.6" r="0.55"/><circle cx="548.5" cy="851.3" r="0.55"/><circle cx="552.3" cy="851.9" r="0.55"/><circle cx="550.9" cy="850.4" r="0.55"/><circle cx="545.4" cy="863.5" r="0.55"/><circle cx="546.4" cy="855.5" r="0.55"/><circle cx="555.4" cy="844.1" r="0.55"/><circle cx="546.8" cy="857.9" r="0.55"/><circle cx="550.3" cy="852.2" r="0.55"/><circle cx="550.2" cy="850.8" r="0.55"/><circle cx="551.0" cy="850.2" r="0.55"/></g>
<path d="M544.1,862.2 L591.1,791.1 L590,783 L588.5,770 M591.1,791.1 L599.3,787.6 L615.7,787.6 L630,792.2 L646.3,800.9 L660.6,811.1 L669.8,821.3" fill="none" stroke="#333" stroke-width="0.45"/>
<circle cx="591.10" cy="791.10" r="1.20" fill="#111"/>
<rect x="637.10" y="848.30" width="38.90" height="9.40" fill="url(#gr2red)"/>
<text x="637.50" y="862.30" font-size="6.2" text-anchor="middle" fill="#222222" dominant-baseline="central" transform="rotate(0.05 637.50 862.30)">0</text>
<text x="649.20" y="862.30" font-size="6.2" text-anchor="middle" fill="#222222" dominant-baseline="central" transform="rotate(0.05 649.20 862.30)">2</text>
<text x="661.50" y="862.30" font-size="6.2" text-anchor="middle" fill="#222222" dominant-baseline="central" transform="rotate(0.05 661.50 862.30)">4</text>
<text x="673.80" y="862.30" font-size="6.2" text-anchor="middle" fill="#222222" dominant-baseline="central" transform="rotate(0.05 673.80 862.30)">6</text>
<text x="596.00" y="853.40" font-size="6.5" text-anchor="start" fill="#222222" dominant-baseline="central" transform="rotate(0.05 596.00 853.40)">log<tspan font-size="4.1" dy="1.6">10</tspan><tspan dy="-1.6">(counts)</tspan></text>
<circle cx="535.90" cy="898.80" r="1.70" fill="#ee6e6a"/>
<text x="540.30" y="898.80" font-size="6.5" text-anchor="start" fill="#222222" dominant-baseline="central" transform="rotate(0.05 540.30 898.80)">SMC0</text>
<circle cx="566.20" cy="898.80" r="1.70" fill="#a5a033"/>
<text x="570.60" y="898.80" font-size="6.5" text-anchor="start" fill="#222222" dominant-baseline="central" transform="rotate(0.05 570.60 898.80)">SMC1</text>
<circle cx="595.10" cy="898.80" r="1.70" fill="#3cb57a"/>
<text x="599.50" y="898.80" font-size="6.5" text-anchor="start" fill="#222222" dominant-baseline="central" transform="rotate(0.05 599.50 898.80)">SMC2</text>
<circle cx="624.80" cy="898.80" r="1.70" fill="#35a2dd"/>
<text x="629.20" y="898.80" font-size="6.5" text-anchor="start" fill="#222222" dominant-baseline="central" transform="rotate(0.05 629.20 898.80)">SMC3</text>
<circle cx="655.30" cy="898.80" r="1.70" fill="#b06ccf"/>
<text x="659.70" y="898.80" font-size="6.5" text-anchor="start" fill="#222222" dominant-baseline="central" transform="rotate(0.05 659.70 898.80)">SMC4</text>
</svg></body></html>
